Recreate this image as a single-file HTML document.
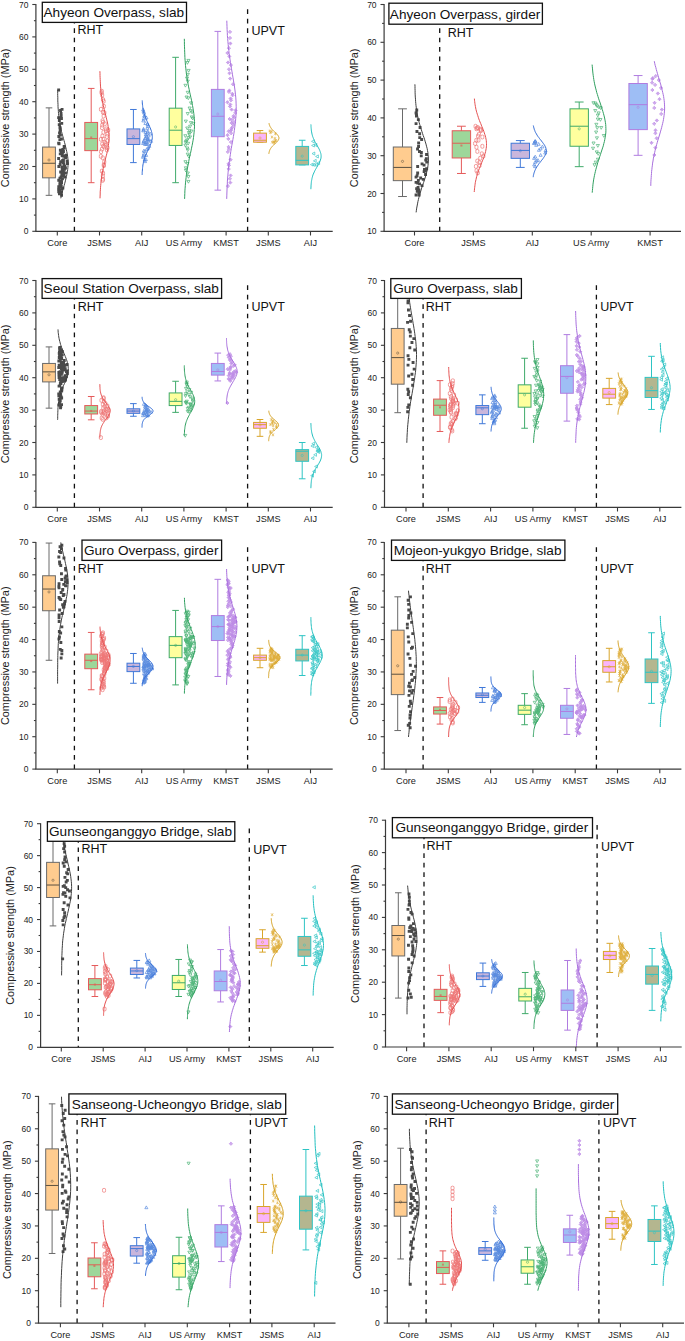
<!DOCTYPE html>
<html><head><meta charset="utf-8"><style>
html,body{margin:0;padding:0;background:#fff;}
svg{display:block;font-family:"Liberation Sans", sans-serif;}
</style></head><body>
<svg width="685" height="1341" viewBox="0 0 685 1341">
<rect width="685" height="1341" fill="#fff"/>
<line x1="74.4" y1="4.5" x2="74.4" y2="231.3" stroke="#111" stroke-width="1.3" stroke-dasharray="4.7 4.75" stroke-dashoffset="4.65"/>
<line x1="247.6" y1="4.5" x2="247.6" y2="231.3" stroke="#111" stroke-width="1.3" stroke-dasharray="4.7 4.75" stroke-dashoffset="4.65"/>
<line x1="49" y1="107.86" x2="49" y2="195.34" stroke="#6a6a6a" stroke-width="1"/>
<line x1="45.7" y1="107.86" x2="52.3" y2="107.86" stroke="#6a6a6a" stroke-width="1"/>
<line x1="45.7" y1="195.34" x2="52.3" y2="195.34" stroke="#6a6a6a" stroke-width="1"/>
<rect x="42.6" y="147.06" width="12.8" height="30.78" fill="#FFCC8F" stroke="#6a6a6a" stroke-width="1"/>
<line x1="42.6" y1="163.26" x2="55.4" y2="163.26" stroke="#5a5040" stroke-width="1"/>
<circle cx="49" cy="160.02" r="1.1" fill="none" stroke="#5a5040" stroke-width="0.6" opacity="0.85"/>
<path d="M60.1 193.8h2.9v2.9h-2.9zM58 192.3h2.9v2.9h-2.9zM58.7 191.7h2.9v2.9h-2.9zM59.9 190.7h2.9v2.9h-2.9zM57.3 190.3h2.9v2.9h-2.9zM58.8 188.8h2.9v2.9h-2.9zM57.2 188h2.9v2.9h-2.9zM60.2 187.4h2.9v2.9h-2.9zM61.4 186.7h2.9v2.9h-2.9zM57.3 185.2h2.9v2.9h-2.9zM59.8 185.1h2.9v2.9h-2.9zM59.2 183.4h2.9v2.9h-2.9zM59.4 183.2h2.9v2.9h-2.9zM58.4 182.5h2.9v2.9h-2.9zM60.1 181.3h2.9v2.9h-2.9zM58.6 180.6h2.9v2.9h-2.9zM60 179.7h2.9v2.9h-2.9zM57.3 178.8h2.9v2.9h-2.9zM61 177.4h2.9v2.9h-2.9zM58.5 176.7h2.9v2.9h-2.9zM63.4 175.7h2.9v2.9h-2.9zM59.6 175.6h2.9v2.9h-2.9zM62.5 174.4h2.9v2.9h-2.9zM60.4 173.5h2.9v2.9h-2.9zM62.4 172.9h2.9v2.9h-2.9zM61.8 172.5h2.9v2.9h-2.9zM64 171.4h2.9v2.9h-2.9zM62 170.9h2.9v2.9h-2.9zM59.2 170.5h2.9v2.9h-2.9zM60.7 169.2h2.9v2.9h-2.9zM61.8 169h2.9v2.9h-2.9zM63 167.9h2.9v2.9h-2.9zM61 167.4h2.9v2.9h-2.9zM64 166.5h2.9v2.9h-2.9zM60.6 165.8h2.9v2.9h-2.9zM57.4 165.1h2.9v2.9h-2.9zM63.4 164.7h2.9v2.9h-2.9zM62.5 163.3h2.9v2.9h-2.9zM58.7 163h2.9v2.9h-2.9zM66 162.2h2.9v2.9h-2.9zM62 161.2h2.9v2.9h-2.9zM59.2 160.3h2.9v2.9h-2.9zM65.7 159.8h2.9v2.9h-2.9zM61.2 158.9h2.9v2.9h-2.9zM62 158.4h2.9v2.9h-2.9zM57.2 157h2.9v2.9h-2.9zM64.3 156.3h2.9v2.9h-2.9zM63.5 155.4h2.9v2.9h-2.9zM61.6 154.7h2.9v2.9h-2.9zM60.7 154.1h2.9v2.9h-2.9zM64.4 153.7h2.9v2.9h-2.9zM58.8 152.4h2.9v2.9h-2.9zM61 151.7h2.9v2.9h-2.9zM59.9 151h2.9v2.9h-2.9zM62 150h2.9v2.9h-2.9zM60.6 149.2h2.9v2.9h-2.9zM58.9 148.8h2.9v2.9h-2.9zM61.4 147.9h2.9v2.9h-2.9zM62.7 146.5h2.9v2.9h-2.9zM62.7 145.8h2.9v2.9h-2.9zM62.7 145.1h2.9v2.9h-2.9zM57.6 142.3h2.9v2.9h-2.9zM57.2 141.7h2.9v2.9h-2.9zM58.4 138.2h2.9v2.9h-2.9zM60 137.6h2.9v2.9h-2.9zM57.4 135.1h2.9v2.9h-2.9zM59 133.5h2.9v2.9h-2.9zM58.1 131.6h2.9v2.9h-2.9zM58.7 128.5h2.9v2.9h-2.9zM58.8 127.3h2.9v2.9h-2.9zM58.5 126h2.9v2.9h-2.9zM57.8 123.2h2.9v2.9h-2.9zM60.3 121.9h2.9v2.9h-2.9zM57.9 119.1h2.9v2.9h-2.9zM60 117h2.9v2.9h-2.9zM57.2 116.2h2.9v2.9h-2.9zM59.7 114h2.9v2.9h-2.9zM59.6 112h2.9v2.9h-2.9zM59.1 109h2.9v2.9h-2.9zM60.6 107.9h2.9v2.9h-2.9zM57.2 88.6h2.9v2.9h-2.9z" fill="#4a4a4a"/>
<path d="M60.8 198.3L61.2 196.4L61.6 194.6L62.1 192.8L62.6 191L63 189.2L63.6 187.4L64.1 185.6L64.6 183.8L65.1 182L65.5 180.2L66 178.4L66.4 176.6L66.8 174.8L67.2 173L67.5 171.2L67.7 169.4L67.9 167.6L68 165.8L68.1 164L68.1 162.2L68 160.4L67.9 158.6L67.7 156.8L67.4 155L67.1 153.2L66.7 151.4L66.3 149.6L65.9 147.8L65.4 145.9L65 144.1L64.5 142.3L64 140.5L63.5 138.7L63 136.9L62.5 135.1L62 133.3L61.5 131.5L61.1 129.7L60.7 127.9L60.3 126.1L60 124.3L59.7 122.5L59.4 120.7L59.1 118.9L58.9 117.1L58.7 115.3L58.5 113.5L58.4 111.7L58.3 109.9L58.1 108.1L58 106.3L58 104.5L57.9 102.7L57.8 100.9L57.8 99.1L57.8 97.3L57.7 95.4L57.7 93.6L57.7 91.8L57.7 90" fill="none" stroke="#404040" stroke-width="1"/>
<line x1="91.2" y1="88.42" x2="91.2" y2="182.7" stroke="#E55A5A" stroke-width="1"/>
<line x1="87.9" y1="88.42" x2="94.5" y2="88.42" stroke="#E55A5A" stroke-width="1"/>
<line x1="87.9" y1="182.7" x2="94.5" y2="182.7" stroke="#E55A5A" stroke-width="1"/>
<rect x="84.8" y="122.44" width="12.8" height="28.19" fill="#9DD79A" stroke="#E55A5A" stroke-width="1"/>
<line x1="84.8" y1="138.64" x2="97.6" y2="138.64" stroke="#DE6055" stroke-width="1"/>
<rect x="90.2" y="136.49" width="2" height="2" fill="#DE6055" opacity="0.7"/>
<path d="M101.1 180.4a1.6 1.6 0 1 0 3.1 0a1.6 1.6 0 1 0 -3.1 0M101.5 179.2a1.6 1.6 0 1 0 3.1 0a1.6 1.6 0 1 0 -3.1 0M101.3 175.9a1.6 1.6 0 1 0 3.1 0a1.6 1.6 0 1 0 -3.1 0M101.5 173.2a1.6 1.6 0 1 0 3.1 0a1.6 1.6 0 1 0 -3.1 0M100.3 171.1a1.6 1.6 0 1 0 3.1 0a1.6 1.6 0 1 0 -3.1 0M102.3 165.7a1.6 1.6 0 1 0 3.1 0a1.6 1.6 0 1 0 -3.1 0M102.3 164.7a1.6 1.6 0 1 0 3.1 0a1.6 1.6 0 1 0 -3.1 0M102.7 161.9a1.6 1.6 0 1 0 3.1 0a1.6 1.6 0 1 0 -3.1 0M101.2 157.8a1.6 1.6 0 1 0 3.1 0a1.6 1.6 0 1 0 -3.1 0M99.3 156.3a1.6 1.6 0 1 0 3.1 0a1.6 1.6 0 1 0 -3.1 0M99.5 151.7a1.6 1.6 0 1 0 3.1 0a1.6 1.6 0 1 0 -3.1 0M105.4 150a1.6 1.6 0 1 0 3.1 0a1.6 1.6 0 1 0 -3.1 0M100.4 149.2a1.6 1.6 0 1 0 3.1 0a1.6 1.6 0 1 0 -3.1 0M105.9 147.8a1.6 1.6 0 1 0 3.1 0a1.6 1.6 0 1 0 -3.1 0M102.8 146.9a1.6 1.6 0 1 0 3.1 0a1.6 1.6 0 1 0 -3.1 0M101.7 146.2a1.6 1.6 0 1 0 3.1 0a1.6 1.6 0 1 0 -3.1 0M104.1 145.3a1.6 1.6 0 1 0 3.1 0a1.6 1.6 0 1 0 -3.1 0M100.7 144a1.6 1.6 0 1 0 3.1 0a1.6 1.6 0 1 0 -3.1 0M104.2 143.3a1.6 1.6 0 1 0 3.1 0a1.6 1.6 0 1 0 -3.1 0M103 142.1a1.6 1.6 0 1 0 3.1 0a1.6 1.6 0 1 0 -3.1 0M105.9 141a1.6 1.6 0 1 0 3.1 0a1.6 1.6 0 1 0 -3.1 0M99.4 139.3a1.6 1.6 0 1 0 3.1 0a1.6 1.6 0 1 0 -3.1 0M101.8 139a1.6 1.6 0 1 0 3.1 0a1.6 1.6 0 1 0 -3.1 0M105.4 136.5a1.6 1.6 0 1 0 3.1 0a1.6 1.6 0 1 0 -3.1 0M100.9 136a1.6 1.6 0 1 0 3.1 0a1.6 1.6 0 1 0 -3.1 0M105.8 134.1a1.6 1.6 0 1 0 3.1 0a1.6 1.6 0 1 0 -3.1 0M101.9 132.3a1.6 1.6 0 1 0 3.1 0a1.6 1.6 0 1 0 -3.1 0M104.4 130.9a1.6 1.6 0 1 0 3.1 0a1.6 1.6 0 1 0 -3.1 0M106.6 130a1.6 1.6 0 1 0 3.1 0a1.6 1.6 0 1 0 -3.1 0M104.6 128.9a1.6 1.6 0 1 0 3.1 0a1.6 1.6 0 1 0 -3.1 0M100.5 127.7a1.6 1.6 0 1 0 3.1 0a1.6 1.6 0 1 0 -3.1 0M100.7 125.1a1.6 1.6 0 1 0 3.1 0a1.6 1.6 0 1 0 -3.1 0M103.2 123.9a1.6 1.6 0 1 0 3.1 0a1.6 1.6 0 1 0 -3.1 0M101.5 122.2a1.6 1.6 0 1 0 3.1 0a1.6 1.6 0 1 0 -3.1 0M101 120.7a1.6 1.6 0 1 0 3.1 0a1.6 1.6 0 1 0 -3.1 0M102.1 116a1.6 1.6 0 1 0 3.1 0a1.6 1.6 0 1 0 -3.1 0M102.8 112.7a1.6 1.6 0 1 0 3.1 0a1.6 1.6 0 1 0 -3.1 0M101.4 112.2a1.6 1.6 0 1 0 3.1 0a1.6 1.6 0 1 0 -3.1 0M99.4 109.3a1.6 1.6 0 1 0 3.1 0a1.6 1.6 0 1 0 -3.1 0M102.3 106.3a1.6 1.6 0 1 0 3.1 0a1.6 1.6 0 1 0 -3.1 0M102.1 101.2a1.6 1.6 0 1 0 3.1 0a1.6 1.6 0 1 0 -3.1 0M101.4 99.5a1.6 1.6 0 1 0 3.1 0a1.6 1.6 0 1 0 -3.1 0M100.6 95.1a1.6 1.6 0 1 0 3.1 0a1.6 1.6 0 1 0 -3.1 0M100 92.7a1.6 1.6 0 1 0 3.1 0a1.6 1.6 0 1 0 -3.1 0M100.2 91.2a1.6 1.6 0 1 0 3.1 0a1.6 1.6 0 1 0 -3.1 0" fill="none" stroke="#EE7777" stroke-width="0.7"/>
<path d="M100 198.3L100.1 196.1L100.2 194L100.2 191.9L100.4 189.8L100.5 187.7L100.7 185.6L100.9 183.4L101.1 181.3L101.3 179.2L101.6 177.1L102 175L102.3 172.9L102.7 170.7L103.2 168.6L103.6 166.5L104.1 164.4L104.7 162.3L105.2 160.1L105.7 158L106.2 155.9L106.8 153.8L107.2 151.7L107.7 149.6L108.1 147.4L108.4 145.3L108.7 143.2L108.9 141.1L109.1 139L109.1 136.9L109.1 134.7L108.9 132.6L108.8 130.5L108.5 128.4L108.1 126.3L107.8 124.2L107.3 122L106.8 119.9L106.3 117.8L105.8 115.7L105.3 113.6L104.7 111.5L104.2 109.3L103.7 107.2L103.2 105.1L102.8 103L102.4 100.9L102 98.8L101.7 96.6L101.4 94.5L101.1 92.4L100.9 90.3L100.7 88.2L100.5 86.1L100.4 83.9L100.3 81.8L100.2 79.7L100.1 77.6L100 75.5L100 73.4L99.9 71.2" fill="none" stroke="#E54F4F" stroke-width="1"/>
<line x1="133.4" y1="109.48" x2="133.4" y2="162.61" stroke="#3F78D8" stroke-width="1"/>
<line x1="130.1" y1="109.48" x2="136.7" y2="109.48" stroke="#3F78D8" stroke-width="1"/>
<line x1="130.1" y1="162.61" x2="136.7" y2="162.61" stroke="#3F78D8" stroke-width="1"/>
<rect x="127" y="128.92" width="12.8" height="15.55" fill="#C9B6DC" stroke="#3F78D8" stroke-width="1"/>
<line x1="127" y1="138.64" x2="139.8" y2="138.64" stroke="#3F78D8" stroke-width="1"/>
<circle cx="133.4" cy="136.69" r="1.1" fill="none" stroke="#3F78D8" stroke-width="0.6" opacity="0.85"/>
<path d="M145 159.8l1.6 2.8h-3.1zM144.6 158.3l1.6 2.8h-3.1zM145.8 157.8l1.6 2.8h-3.1zM143 155.5l1.6 2.8h-3.1zM143.3 154.3l1.6 2.8h-3.1zM146.1 153.6l1.6 2.8h-3.1zM143.8 152.3l1.6 2.8h-3.1zM144.8 149.5l1.6 2.8h-3.1zM143.7 149.3l1.6 2.8h-3.1zM146.8 147.6l1.6 2.8h-3.1zM148.2 146.4l1.6 2.8h-3.1zM149.3 144.5l1.6 2.8h-3.1zM145.1 142.7l1.6 2.8h-3.1zM146.5 142.6l1.6 2.8h-3.1zM147.9 142.2l1.6 2.8h-3.1zM143.1 141.7l1.6 2.8h-3.1zM145.3 140.8l1.6 2.8h-3.1zM146.6 140.5l1.6 2.8h-3.1zM143.5 140.2l1.6 2.8h-3.1zM151 139.5l1.6 2.8h-3.1zM143.9 139l1.6 2.8h-3.1zM148.2 138.9l1.6 2.8h-3.1zM147.6 138l1.6 2.8h-3.1zM148.7 137.7l1.6 2.8h-3.1zM147.7 137.4l1.6 2.8h-3.1zM145.1 136.8l1.6 2.8h-3.1zM145.5 136.2l1.6 2.8h-3.1zM146.9 134.8l1.6 2.8h-3.1zM148.6 134.2l1.6 2.8h-3.1zM146.4 133.2l1.6 2.8h-3.1zM145.8 133l1.6 2.8h-3.1zM150.2 132.2l1.6 2.8h-3.1zM145.5 130.9l1.6 2.8h-3.1zM147.5 130.6l1.6 2.8h-3.1zM147.7 129.6l1.6 2.8h-3.1zM143.2 129.1l1.6 2.8h-3.1zM143.5 128.3l1.6 2.8h-3.1zM143.5 127.3l1.6 2.8h-3.1zM147.3 126.5l1.6 2.8h-3.1zM147.8 124.6l1.6 2.8h-3.1zM147.5 122.7l1.6 2.8h-3.1zM145.4 121.7l1.6 2.8h-3.1zM143.3 119.1l1.6 2.8h-3.1zM143.6 117.3l1.6 2.8h-3.1zM146.4 116.1l1.6 2.8h-3.1zM144.1 114.4l1.6 2.8h-3.1zM144.8 114l1.6 2.8h-3.1zM144 111.2l1.6 2.8h-3.1zM143.5 109.6l1.6 2.8h-3.1zM143.1 108.1l1.6 2.8h-3.1z" fill="none" stroke="#5A8DE0" stroke-width="0.7"/>
<path d="M142.1 174.9L142.2 173.7L142.2 172.4L142.3 171.2L142.4 170L142.5 168.7L142.6 167.5L142.8 166.2L142.9 165L143.2 163.7L143.4 162.5L143.7 161.3L144 160L144.4 158.8L144.8 157.5L145.3 156.3L145.8 155.1L146.3 153.8L146.9 152.6L147.4 151.3L148 150.1L148.6 148.8L149.2 147.6L149.8 146.4L150.3 145.1L150.8 143.9L151.3 142.6L151.6 141.4L151.9 140.1L152.2 138.9L152.3 137.7L152.3 136.4L152.2 135.2L152.1 133.9L151.8 132.7L151.5 131.5L151.1 130.2L150.6 129L150.1 127.7L149.6 126.5L149 125.2L148.4 124L147.8 122.8L147.2 121.5L146.6 120.3L146.1 119L145.6 117.8L145.1 116.6L144.6 115.3L144.2 114.1L143.9 112.8L143.6 111.6L143.3 110.3L143.1 109.1L142.9 107.9L142.7 106.6L142.6 105.4L142.4 104.1L142.3 102.9L142.3 101.6L142.2 100.4" fill="none" stroke="#2F6AD6" stroke-width="1"/>
<line x1="175.6" y1="57.31" x2="175.6" y2="182.7" stroke="#3FAA6A" stroke-width="1"/>
<line x1="172.3" y1="57.31" x2="178.9" y2="57.31" stroke="#3FAA6A" stroke-width="1"/>
<line x1="172.3" y1="182.7" x2="178.9" y2="182.7" stroke="#3FAA6A" stroke-width="1"/>
<rect x="169.2" y="108.18" width="12.8" height="37.26" fill="#FFFF9E" stroke="#3FAA6A" stroke-width="1"/>
<line x1="169.2" y1="130.21" x2="182" y2="130.21" stroke="#3FAA6A" stroke-width="1"/>
<circle cx="175.6" cy="126.97" r="1.1" fill="none" stroke="#3FAA6A" stroke-width="0.6" opacity="0.85"/>
<path d="M188.4 183.2l1.6 -2.8h-3.1zM188.4 178.3l1.6 -2.8h-3.1zM187.8 174.8l1.6 -2.8h-3.1zM185.8 172l1.6 -2.8h-3.1zM185.8 169.6l1.6 -2.8h-3.1zM187.5 165.3l1.6 -2.8h-3.1zM185.4 163.5l1.6 -2.8h-3.1zM188.7 157.9l1.6 -2.8h-3.1zM187.7 155.9l1.6 -2.8h-3.1zM187.7 151.6l1.6 -2.8h-3.1zM187.2 149.8l1.6 -2.8h-3.1zM185.4 147l1.6 -2.8h-3.1zM188.1 145.1l1.6 -2.8h-3.1zM185.6 143.8l1.6 -2.8h-3.1zM186.2 142.8l1.6 -2.8h-3.1zM187.1 141.7l1.6 -2.8h-3.1zM188.3 139.4l1.6 -2.8h-3.1zM190 138.7l1.6 -2.8h-3.1zM185.3 137.5l1.6 -2.8h-3.1zM189.3 135.8l1.6 -2.8h-3.1zM188.9 134.3l1.6 -2.8h-3.1zM191.4 132.9l1.6 -2.8h-3.1zM189.4 132.1l1.6 -2.8h-3.1zM187.2 129.8l1.6 -2.8h-3.1zM190.1 128l1.6 -2.8h-3.1zM193.3 125.1l1.6 -2.8h-3.1zM190.9 124.4l1.6 -2.8h-3.1zM185.8 122.9l1.6 -2.8h-3.1zM192.7 120l1.6 -2.8h-3.1zM191.7 118.7l1.6 -2.8h-3.1zM187.7 115.3l1.6 -2.8h-3.1zM192 113.8l1.6 -2.8h-3.1zM190.7 112.4l1.6 -2.8h-3.1zM189.6 109.8l1.6 -2.8h-3.1zM191 104.7l1.6 -2.8h-3.1zM188.3 99.7l1.6 -2.8h-3.1zM186.5 98.8l1.6 -2.8h-3.1zM187.7 94.1l1.6 -2.8h-3.1zM185.4 87.1l1.6 -2.8h-3.1zM187.7 82.9l1.6 -2.8h-3.1zM187 79.9l1.6 -2.8h-3.1zM187.8 76.2l1.6 -2.8h-3.1zM188.6 72.2l1.6 -2.8h-3.1zM187.4 64.3l1.6 -2.8h-3.1zM188.4 62.2l1.6 -2.8h-3.1z" fill="none" stroke="#4FB578" stroke-width="0.7"/>
<path d="M184.6 198.9L184.7 196.2L184.8 193.6L184.9 190.9L185.1 188.2L185.3 185.6L185.5 182.9L185.8 180.2L186.1 177.6L186.4 174.9L186.8 172.2L187.2 169.6L187.7 166.9L188.2 164.2L188.7 161.6L189.2 158.9L189.8 156.2L190.4 153.6L191 150.9L191.5 148.2L192.1 145.5L192.6 142.9L193.1 140.2L193.5 137.5L193.8 134.9L194.1 132.2L194.3 129.5L194.5 126.9L194.5 124.2L194.5 121.5L194.3 118.9L194.1 116.2L193.8 113.5L193.4 110.9L193 108.2L192.5 105.5L192 102.9L191.5 100.2L190.9 97.5L190.3 94.9L189.7 92.2L189.2 89.5L188.6 86.9L188.1 84.2L187.6 81.5L187.2 78.9L186.8 76.2L186.4 73.5L186.1 70.9L185.8 68.2L185.5 65.5L185.3 62.9L185.1 60.2L184.9 57.5L184.8 54.8L184.7 52.2L184.6 49.5L184.5 46.8L184.4 44.2L184.4 41.5L184.3 38.8" fill="none" stroke="#30A060" stroke-width="1"/>
<line x1="217.8" y1="31.39" x2="217.8" y2="190.15" stroke="#B07CE0" stroke-width="1"/>
<line x1="214.5" y1="31.39" x2="221.1" y2="31.39" stroke="#B07CE0" stroke-width="1"/>
<line x1="214.5" y1="190.15" x2="221.1" y2="190.15" stroke="#B07CE0" stroke-width="1"/>
<rect x="211.4" y="89.39" width="12.8" height="47.3" fill="#9EBEF5" stroke="#B07CE0" stroke-width="1"/>
<line x1="211.4" y1="116.28" x2="224.2" y2="116.28" stroke="#B07CE0" stroke-width="1"/>
<circle cx="217.8" cy="114.01" r="1.1" fill="none" stroke="#B07CE0" stroke-width="0.6" opacity="0.85"/>
<path d="M227.9 184.5l1.6 1.6l-1.6 1.6l-1.6 -1.6zM227.9 184.5v3.1M226.3 186h3.1M230.3 181l1.6 1.6l-1.6 1.6l-1.6 -1.6zM230.3 181v3.1M228.8 182.6h3.1M229.9 177.2l1.6 1.6l-1.6 1.6l-1.6 -1.6zM229.9 177.2v3.1M228.3 178.8h3.1M230.6 173.9l1.6 1.6l-1.6 1.6l-1.6 -1.6zM230.6 173.9v3.1M229.1 175.4h3.1M228.7 167.3l1.6 1.6l-1.6 1.6l-1.6 -1.6zM228.7 167.3v3.1M227.2 168.9h3.1M228.9 163.8l1.6 1.6l-1.6 1.6l-1.6 -1.6zM228.9 163.8v3.1M227.4 165.3h3.1M228.5 162.2l1.6 1.6l-1.6 1.6l-1.6 -1.6zM228.5 162.2v3.1M227 163.8h3.1M230.6 158.1l1.6 1.6l-1.6 1.6l-1.6 -1.6zM230.6 158.1v3.1M229 159.7h3.1M227.8 150.3l1.6 1.6l-1.6 1.6l-1.6 -1.6zM227.8 150.3v3.1M226.3 151.8h3.1M228.9 147.5l1.6 1.6l-1.6 1.6l-1.6 -1.6zM228.9 147.5v3.1M227.3 149.1h3.1M228.6 145.3l1.6 1.6l-1.6 1.6l-1.6 -1.6zM228.6 145.3v3.1M227 146.9h3.1M230.9 140.5l1.6 1.6l-1.6 1.6l-1.6 -1.6zM230.9 140.5v3.1M229.4 142h3.1M228.4 137.3l1.6 1.6l-1.6 1.6l-1.6 -1.6zM228.4 137.3v3.1M226.8 138.8h3.1M227.5 133.6l1.6 1.6l-1.6 1.6l-1.6 -1.6zM227.5 133.6v3.1M226 135.2h3.1M231.1 131.7l1.6 1.6l-1.6 1.6l-1.6 -1.6zM231.1 131.7v3.1M229.6 133.2h3.1M228.7 129.7l1.6 1.6l-1.6 1.6l-1.6 -1.6zM228.7 129.7v3.1M227.2 131.2h3.1M230.9 129l1.6 1.6l-1.6 1.6l-1.6 -1.6zM230.9 129v3.1M229.4 130.5h3.1M231.4 127.3l1.6 1.6l-1.6 1.6l-1.6 -1.6zM231.4 127.3v3.1M229.8 128.9h3.1M232.2 125.8l1.6 1.6l-1.6 1.6l-1.6 -1.6zM232.2 125.8v3.1M230.6 127.3h3.1M233.3 123.2l1.6 1.6l-1.6 1.6l-1.6 -1.6zM233.3 123.2v3.1M231.7 124.8h3.1M231.5 121.3l1.6 1.6l-1.6 1.6l-1.6 -1.6zM231.5 121.3v3.1M229.9 122.9h3.1M233.9 120.5l1.6 1.6l-1.6 1.6l-1.6 -1.6zM233.9 120.5v3.1M232.3 122h3.1M231.8 118.4l1.6 1.6l-1.6 1.6l-1.6 -1.6zM231.8 118.4v3.1M230.3 119.9h3.1M229.6 117.4l1.6 1.6l-1.6 1.6l-1.6 -1.6zM229.6 117.4v3.1M228.1 118.9h3.1M233.8 116.2l1.6 1.6l-1.6 1.6l-1.6 -1.6zM233.8 116.2v3.1M232.3 117.7h3.1M233.4 114.5l1.6 1.6l-1.6 1.6l-1.6 -1.6zM233.4 114.5v3.1M231.9 116h3.1M235.3 111.4l1.6 1.6l-1.6 1.6l-1.6 -1.6zM235.3 111.4v3.1M233.8 113h3.1M235.5 108.8l1.6 1.6l-1.6 1.6l-1.6 -1.6zM235.5 108.8v3.1M233.9 110.3h3.1M231.6 108l1.6 1.6l-1.6 1.6l-1.6 -1.6zM231.6 108v3.1M230 109.5h3.1M230 104.9l1.6 1.6l-1.6 1.6l-1.6 -1.6zM230 104.9v3.1M228.4 106.4h3.1M230.3 102.9l1.6 1.6l-1.6 1.6l-1.6 -1.6zM230.3 102.9v3.1M228.8 104.4h3.1M227.4 100.7l1.6 1.6l-1.6 1.6l-1.6 -1.6zM227.4 100.7v3.1M225.9 102.2h3.1M231 98.7l1.6 1.6l-1.6 1.6l-1.6 -1.6zM231 98.7v3.1M229.5 100.3h3.1M230.6 96.9l1.6 1.6l-1.6 1.6l-1.6 -1.6zM230.6 96.9v3.1M229 98.4h3.1M232.6 93.7l1.6 1.6l-1.6 1.6l-1.6 -1.6zM232.6 93.7v3.1M231.1 95.2h3.1M232.3 92.2l1.6 1.6l-1.6 1.6l-1.6 -1.6zM232.3 92.2v3.1M230.7 93.7h3.1M228.9 90.3l1.6 1.6l-1.6 1.6l-1.6 -1.6zM228.9 90.3v3.1M227.3 91.8h3.1M229.4 88.9l1.6 1.6l-1.6 1.6l-1.6 -1.6zM229.4 88.9v3.1M227.8 90.5h3.1M233 82.7l1.6 1.6l-1.6 1.6l-1.6 -1.6zM233 82.7v3.1M231.4 84.3h3.1M230.2 77l1.6 1.6l-1.6 1.6l-1.6 -1.6zM230.2 77v3.1M228.6 78.6h3.1M229.5 71.7l1.6 1.6l-1.6 1.6l-1.6 -1.6zM229.5 71.7v3.1M227.9 73.2h3.1M229 67.7l1.6 1.6l-1.6 1.6l-1.6 -1.6zM229 67.7v3.1M227.4 69.3h3.1M230.9 63.5l1.6 1.6l-1.6 1.6l-1.6 -1.6zM230.9 63.5v3.1M229.3 65.1h3.1M228 60.9l1.6 1.6l-1.6 1.6l-1.6 -1.6zM228 60.9v3.1M226.4 62.5h3.1M229.3 54.8l1.6 1.6l-1.6 1.6l-1.6 -1.6zM229.3 54.8v3.1M227.7 56.4h3.1M227.4 51.4l1.6 1.6l-1.6 1.6l-1.6 -1.6zM227.4 51.4v3.1M225.9 52.9h3.1M228.9 46.6l1.6 1.6l-1.6 1.6l-1.6 -1.6zM228.9 46.6v3.1M227.3 48.1h3.1M230.4 41.9l1.6 1.6l-1.6 1.6l-1.6 -1.6zM230.4 41.9v3.1M228.9 43.4h3.1M230 36.4l1.6 1.6l-1.6 1.6l-1.6 -1.6zM230 36.4v3.1M228.4 38h3.1M230 30.3l1.6 1.6l-1.6 1.6l-1.6 -1.6zM230 30.3v3.1M228.5 31.9h3.1" fill="none" stroke="#BE8EE6" stroke-width="0.7"/>
<path d="M226.7 198.9L226.8 195.9L226.9 193L227 190L227.1 187L227.3 184.1L227.4 181.1L227.6 178.1L227.9 175.1L228.1 172.2L228.4 169.2L228.7 166.2L229.1 163.3L229.5 160.3L229.9 157.3L230.4 154.4L230.8 151.4L231.3 148.4L231.8 145.4L232.4 142.5L232.9 139.5L233.4 136.5L233.9 133.6L234.3 130.6L234.7 127.6L235.1 124.6L235.5 121.7L235.7 118.7L236 115.7L236.1 112.8L236.2 109.8L236.2 106.8L236.1 103.9L236 100.9L235.8 97.9L235.5 94.9L235.2 92L234.8 89L234.4 86L233.9 83.1L233.4 80.1L232.9 77.1L232.4 74.2L231.9 71.2L231.4 68.2L230.9 65.2L230.4 62.3L230 59.3L229.5 56.3L229.1 53.4L228.8 50.4L228.4 47.4L228.2 44.5L227.9 41.5L227.7 38.5L227.4 35.6L227.3 32.6L227.1 29.6L227 26.6L226.9 23.7L226.8 20.7" fill="none" stroke="#A970DE" stroke-width="1"/>
<line x1="260" y1="130.54" x2="260" y2="142.2" stroke="#D9A52A" stroke-width="1"/>
<line x1="256.7" y1="130.54" x2="263.3" y2="130.54" stroke="#D9A52A" stroke-width="1"/>
<line x1="256.7" y1="142.2" x2="263.3" y2="142.2" stroke="#D9A52A" stroke-width="1"/>
<rect x="253.6" y="133.13" width="12.8" height="9.07" fill="#FAB4FA" stroke="#D9A52A" stroke-width="1"/>
<line x1="253.6" y1="140.26" x2="266.4" y2="140.26" stroke="#D9A52A" stroke-width="1"/>
<circle cx="260" cy="137.99" r="1.1" fill="none" stroke="#D9A52A" stroke-width="0.6" opacity="0.85"/>
<path d="M273.2 141l2.5 2.5M273.2 143.4l2.5 -2.5M274.5 140.6v3.1M272.6 141l2.5 2.5M272.6 143.4l2.5 -2.5M273.8 140.6v3.1M271 141l2.5 2.5M271 143.4l2.5 -2.5M272.3 140.6v3.1M272.7 140.6l2.5 2.5M272.7 143l2.5 -2.5M274 140.2v3.1M274.3 139.7l2.5 2.5M274.3 142.2l2.5 -2.5M275.6 139.4v3.1M274.5 139.1l2.5 2.5M274.5 141.6l2.5 -2.5M275.7 138.8v3.1M273.7 137.1l2.5 2.5M273.7 139.6l2.5 -2.5M274.9 136.8v3.1M270.7 135.8l2.5 2.5M270.7 138.3l2.5 -2.5M271.9 135.5v3.1M274.1 132.6l2.5 2.5M274.1 135.1l2.5 -2.5M275.4 132.3v3.1M269.2 131.4l2.5 2.5M269.2 133.9l2.5 -2.5M270.4 131.1v3.1M270.5 130.3l2.5 2.5M270.5 132.8l2.5 -2.5M271.7 130v3.1M268.5 129.8l2.5 2.5M268.5 132.2l2.5 -2.5M269.8 129.4v3.1" fill="none" stroke="#E0B040" stroke-width="0.55"/>
<path d="M268.9 153.9L268.9 153.4L269 152.8L269.1 152.3L269.2 151.8L269.4 151.3L269.5 150.8L269.7 150.3L269.9 149.8L270.2 149.2L270.5 148.7L270.8 148.2L271.2 147.7L271.6 147.2L272 146.7L272.5 146.2L272.9 145.7L273.5 145.1L274 144.6L274.5 144.1L275.1 143.6L275.6 143.1L276.2 142.6L276.7 142.1L277.1 141.6L277.6 141L278 140.5L278.3 140L278.6 139.5L278.7 139L278.9 138.5L278.9 138L278.9 137.4L278.7 136.9L278.5 136.4L278.3 135.9L277.9 135.4L277.5 134.9L277.1 134.4L276.6 133.9L276.1 133.3L275.6 132.8L275 132.3L274.5 131.8L273.9 131.3L273.4 130.8L272.9 130.3L272.4 129.8L271.9 129.2L271.5 128.7L271.1 128.2L270.8 127.7L270.5 127.2L270.2 126.7L269.9 126.2L269.7 125.6L269.5 125.1L269.3 124.6L269.2 124.1L269.1 123.6L269 123.1" fill="none" stroke="#D4A020" stroke-width="1"/>
<line x1="302.2" y1="140.26" x2="302.2" y2="164.88" stroke="#2EC4C4" stroke-width="1"/>
<line x1="298.9" y1="140.26" x2="305.5" y2="140.26" stroke="#2EC4C4" stroke-width="1"/>
<line x1="298.9" y1="164.88" x2="305.5" y2="164.88" stroke="#2EC4C4" stroke-width="1"/>
<rect x="295.8" y="146.41" width="12.8" height="18.47" fill="#B4B68F" stroke="#2EC4C4" stroke-width="1"/>
<line x1="295.8" y1="160.34" x2="308.6" y2="160.34" stroke="#2EC4C4" stroke-width="1"/>
<circle cx="302.2" cy="156.13" r="1.1" fill="none" stroke="#2EC4C4" stroke-width="0.6" opacity="0.85"/>
<path d="M314.7 164.9l2.8 -1.6v3.1zM312.4 164.9l2.8 -1.6v3.1zM310.4 164.6l2.8 -1.6v3.1zM316.8 163.1l2.8 -1.6v3.1zM313.4 160.9l2.8 -1.6v3.1zM315.6 156.5l2.8 -1.6v3.1zM312 153.6l2.8 -1.6v3.1zM311.6 145.5l2.8 -1.6v3.1zM314.1 145l2.8 -1.6v3.1zM311.5 141.4l2.8 -1.6v3.1z" fill="none" stroke="#3CC8C8" stroke-width="0.7"/>
<path d="M310.9 189.2L310.9 188.1L311 187L311 185.9L311.1 184.9L311.2 183.8L311.3 182.7L311.4 181.6L311.6 180.5L311.8 179.5L312 178.4L312.3 177.3L312.6 176.2L312.9 175.1L313.3 174.1L313.8 173L314.3 171.9L314.8 170.8L315.4 169.7L316 168.7L316.6 167.6L317.2 166.5L317.9 165.4L318.5 164.3L319 163.3L319.6 162.2L320 161.1L320.4 160L320.8 158.9L321 157.9L321.1 156.8L321.1 155.7L321 154.6L320.8 153.5L320.5 152.5L320.1 151.4L319.7 150.3L319.2 149.2L318.6 148.1L318 147.1L317.4 146L316.7 144.9L316.1 143.8L315.5 142.7L314.9 141.7L314.4 140.6L313.9 139.5L313.4 138.4L313 137.3L312.6 136.3L312.3 135.2L312 134.1L311.8 133L311.6 131.9L311.4 130.9L311.3 129.8L311.2 128.7L311.1 127.6L311 126.5L311 125.5L310.9 124.4" fill="none" stroke="#22C0C0" stroke-width="1"/>
<line x1="35.9" y1="4" x2="35.9" y2="231.3" stroke="#3a3a3a" stroke-width="1.2"/>
<line x1="35.3" y1="231.3" x2="332.7" y2="231.3" stroke="#3a3a3a" stroke-width="1.2"/>
<line x1="32.3" y1="231.3" x2="35.9" y2="231.3" stroke="#3a3a3a" stroke-width="1.1"/>
<text transform="translate(28.4,234.3) scale(0.86,1)" text-anchor="end" font-size="9.9" fill="#222">0</text>
<line x1="33.9" y1="215.1" x2="35.9" y2="215.1" stroke="#3a3a3a" stroke-width="1.1"/>
<line x1="32.3" y1="198.9" x2="35.9" y2="198.9" stroke="#3a3a3a" stroke-width="1.1"/>
<text transform="translate(28.4,201.9) scale(0.86,1)" text-anchor="end" font-size="9.9" fill="#222">10</text>
<line x1="33.9" y1="182.7" x2="35.9" y2="182.7" stroke="#3a3a3a" stroke-width="1.1"/>
<line x1="32.3" y1="166.5" x2="35.9" y2="166.5" stroke="#3a3a3a" stroke-width="1.1"/>
<text transform="translate(28.4,169.5) scale(0.86,1)" text-anchor="end" font-size="9.9" fill="#222">20</text>
<line x1="33.9" y1="150.3" x2="35.9" y2="150.3" stroke="#3a3a3a" stroke-width="1.1"/>
<line x1="32.3" y1="134.1" x2="35.9" y2="134.1" stroke="#3a3a3a" stroke-width="1.1"/>
<text transform="translate(28.4,137.1) scale(0.86,1)" text-anchor="end" font-size="9.9" fill="#222">30</text>
<line x1="33.9" y1="117.9" x2="35.9" y2="117.9" stroke="#3a3a3a" stroke-width="1.1"/>
<line x1="32.3" y1="101.7" x2="35.9" y2="101.7" stroke="#3a3a3a" stroke-width="1.1"/>
<text transform="translate(28.4,104.7) scale(0.86,1)" text-anchor="end" font-size="9.9" fill="#222">40</text>
<line x1="33.9" y1="85.5" x2="35.9" y2="85.5" stroke="#3a3a3a" stroke-width="1.1"/>
<line x1="32.3" y1="69.3" x2="35.9" y2="69.3" stroke="#3a3a3a" stroke-width="1.1"/>
<text transform="translate(28.4,72.3) scale(0.86,1)" text-anchor="end" font-size="9.9" fill="#222">50</text>
<line x1="33.9" y1="53.1" x2="35.9" y2="53.1" stroke="#3a3a3a" stroke-width="1.1"/>
<line x1="32.3" y1="36.9" x2="35.9" y2="36.9" stroke="#3a3a3a" stroke-width="1.1"/>
<text transform="translate(28.4,39.9) scale(0.86,1)" text-anchor="end" font-size="9.9" fill="#222">60</text>
<line x1="33.9" y1="20.7" x2="35.9" y2="20.7" stroke="#3a3a3a" stroke-width="1.1"/>
<line x1="32.3" y1="4.5" x2="35.9" y2="4.5" stroke="#3a3a3a" stroke-width="1.1"/>
<text transform="translate(28.4,7.5) scale(0.86,1)" text-anchor="end" font-size="9.9" fill="#222">70</text>
<line x1="57.3" y1="231.3" x2="57.3" y2="235.5" stroke="#3a3a3a" stroke-width="1.1"/>
<text x="57.3" y="246" text-anchor="middle" font-size="9.2" fill="#222">Core</text>
<line x1="99.5" y1="231.3" x2="99.5" y2="235.5" stroke="#3a3a3a" stroke-width="1.1"/>
<text x="99.5" y="246" text-anchor="middle" font-size="9.2" fill="#222">JSMS</text>
<line x1="141.7" y1="231.3" x2="141.7" y2="235.5" stroke="#3a3a3a" stroke-width="1.1"/>
<text x="141.7" y="246" text-anchor="middle" font-size="9.2" fill="#222">AIJ</text>
<line x1="183.9" y1="231.3" x2="183.9" y2="235.5" stroke="#3a3a3a" stroke-width="1.1"/>
<text x="183.9" y="246" text-anchor="middle" font-size="9.2" fill="#222">US Army</text>
<line x1="226.1" y1="231.3" x2="226.1" y2="235.5" stroke="#3a3a3a" stroke-width="1.1"/>
<text x="226.1" y="246" text-anchor="middle" font-size="9.2" fill="#222">KMST</text>
<line x1="268.3" y1="231.3" x2="268.3" y2="235.5" stroke="#3a3a3a" stroke-width="1.1"/>
<text x="268.3" y="246" text-anchor="middle" font-size="9.2" fill="#222">JSMS</text>
<line x1="310.5" y1="231.3" x2="310.5" y2="235.5" stroke="#3a3a3a" stroke-width="1.1"/>
<text x="310.5" y="246" text-anchor="middle" font-size="9.2" fill="#222">AIJ</text>
<text transform="translate(8.7,117.9) rotate(-90)" text-anchor="middle" font-size="10.9" fill="#222">Compressive strength (MPa)</text>
<rect x="42.3" y="2.3" width="144.2" height="20.1" fill="#fff" stroke="#111" stroke-width="1.3"/>
<text x="113.8" y="16.8" text-anchor="middle" font-size="13.6" fill="#111">Ahyeon Overpass, slab</text>
<text x="77.4" y="34.1" font-size="12.5" fill="#111">RHT</text>
<text x="251.5" y="35" font-size="12.5" fill="#111">UPVT</text>
<line x1="439.7" y1="4.5" x2="439.7" y2="231.3" stroke="#111" stroke-width="1.3" stroke-dasharray="4.7 4.75" stroke-dashoffset="4.65"/>
<line x1="402.5" y1="108.83" x2="402.5" y2="196.52" stroke="#6a6a6a" stroke-width="1"/>
<line x1="398.1" y1="108.83" x2="406.9" y2="108.83" stroke="#6a6a6a" stroke-width="1"/>
<line x1="398.1" y1="196.52" x2="406.9" y2="196.52" stroke="#6a6a6a" stroke-width="1"/>
<rect x="393.3" y="147.01" width="18.4" height="33.64" fill="#FFCC8F" stroke="#6a6a6a" stroke-width="1"/>
<line x1="393.3" y1="167.42" x2="411.7" y2="167.42" stroke="#5a5040" stroke-width="1"/>
<circle cx="402.5" cy="161.37" r="1.1" fill="none" stroke="#5a5040" stroke-width="0.6" opacity="0.85"/>
<path d="M417.7 193.7h2.9v2.9h-2.9zM414.6 193.6h2.9v2.9h-2.9zM417.5 191.1h2.9v2.9h-2.9zM415.8 189.9h2.9v2.9h-2.9zM417.4 188.6h2.9v2.9h-2.9zM415.2 187.2h2.9v2.9h-2.9zM416.6 186h2.9v2.9h-2.9zM420.6 184.2h2.9v2.9h-2.9zM418.1 182.4h2.9v2.9h-2.9zM416.3 181.7h2.9v2.9h-2.9zM414.6 180.9h2.9v2.9h-2.9zM416.9 178.9h2.9v2.9h-2.9zM421.8 177.9h2.9v2.9h-2.9zM419.2 176.5h2.9v2.9h-2.9zM414.6 175.7h2.9v2.9h-2.9zM415.6 174.4h2.9v2.9h-2.9zM424.1 173h2.9v2.9h-2.9zM416.2 171.6h2.9v2.9h-2.9zM422.7 170.2h2.9v2.9h-2.9zM424 169.2h2.9v2.9h-2.9zM423 168h2.9v2.9h-2.9zM425.2 167.3h2.9v2.9h-2.9zM416.2 165.1h2.9v2.9h-2.9zM422.6 163.7h2.9v2.9h-2.9zM420.6 162.4h2.9v2.9h-2.9zM425.3 160.5h2.9v2.9h-2.9zM424.3 158.7h2.9v2.9h-2.9zM424.9 157.2h2.9v2.9h-2.9zM419.8 154.4h2.9v2.9h-2.9zM425.1 153.1h2.9v2.9h-2.9zM419.9 151h2.9v2.9h-2.9zM418 150.1h2.9v2.9h-2.9zM416.1 147.5h2.9v2.9h-2.9zM417.1 145h2.9v2.9h-2.9zM417.2 141.6h2.9v2.9h-2.9zM420.2 138.1h2.9v2.9h-2.9zM418.3 136.2h2.9v2.9h-2.9zM418.2 132.3h2.9v2.9h-2.9zM415.5 130.1h2.9v2.9h-2.9zM418.6 126h2.9v2.9h-2.9zM414.6 122.2h2.9v2.9h-2.9zM416.9 118.2h2.9v2.9h-2.9zM415 114.5h2.9v2.9h-2.9zM414.6 111.6h2.9v2.9h-2.9zM415.3 108.6h2.9v2.9h-2.9z" fill="#4a4a4a"/>
<path d="M416.1 212.4L416.4 210.3L416.7 208.1L417.1 206L417.5 203.9L417.9 201.7L418.4 199.6L418.9 197.5L419.5 195.3L420.1 193.2L420.8 191L421.4 188.9L422.1 186.8L422.8 184.6L423.6 182.5L424.3 180.4L425 178.2L425.6 176.1L426.2 174L426.8 171.8L427.3 169.7L427.7 167.6L428 165.4L428.2 163.3L428.4 161.1L428.4 159L428.3 156.9L428.1 154.7L427.9 152.6L427.5 150.5L427.1 148.3L426.5 146.2L426 144.1L425.3 141.9L424.7 139.8L424 137.7L423.2 135.5L422.5 133.4L421.8 131.2L421.1 129.1L420.5 127L419.8 124.8L419.2 122.7L418.7 120.6L418.2 118.4L417.7 116.3L417.3 114.2L416.9 112L416.6 109.9L416.3 107.8L416 105.6L415.8 103.5L415.6 101.3L415.5 99.2L415.3 97.1L415.2 94.9L415.1 92.8L415.1 90.7L415 88.5L415 86.4L414.9 84.3" fill="none" stroke="#404040" stroke-width="1"/>
<line x1="461.4" y1="126.22" x2="461.4" y2="173.47" stroke="#E55A5A" stroke-width="1"/>
<line x1="457" y1="126.22" x2="465.8" y2="126.22" stroke="#E55A5A" stroke-width="1"/>
<line x1="457" y1="173.47" x2="465.8" y2="173.47" stroke="#E55A5A" stroke-width="1"/>
<rect x="452.2" y="130.75" width="18.4" height="27.22" fill="#9DD79A" stroke="#E55A5A" stroke-width="1"/>
<line x1="452.2" y1="143.23" x2="470.6" y2="143.23" stroke="#DE6055" stroke-width="1"/>
<rect x="460.4" y="144.54" width="2" height="2" fill="#DE6055" opacity="0.7"/>
<path d="M476.2 172.9a1.6 1.6 0 1 0 3.1 0a1.6 1.6 0 1 0 -3.1 0M475 170.7a1.6 1.6 0 1 0 3.1 0a1.6 1.6 0 1 0 -3.1 0M474.4 166.4a1.6 1.6 0 1 0 3.1 0a1.6 1.6 0 1 0 -3.1 0M478 165.5a1.6 1.6 0 1 0 3.1 0a1.6 1.6 0 1 0 -3.1 0M477.9 162.5a1.6 1.6 0 1 0 3.1 0a1.6 1.6 0 1 0 -3.1 0M475.8 161a1.6 1.6 0 1 0 3.1 0a1.6 1.6 0 1 0 -3.1 0M478.7 158.2a1.6 1.6 0 1 0 3.1 0a1.6 1.6 0 1 0 -3.1 0M481.8 156a1.6 1.6 0 1 0 3.1 0a1.6 1.6 0 1 0 -3.1 0M480.3 153.8a1.6 1.6 0 1 0 3.1 0a1.6 1.6 0 1 0 -3.1 0M475.8 151.4a1.6 1.6 0 1 0 3.1 0a1.6 1.6 0 1 0 -3.1 0M474.9 147.2a1.6 1.6 0 1 0 3.1 0a1.6 1.6 0 1 0 -3.1 0M480.8 146.3a1.6 1.6 0 1 0 3.1 0a1.6 1.6 0 1 0 -3.1 0M473.6 143.5a1.6 1.6 0 1 0 3.1 0a1.6 1.6 0 1 0 -3.1 0M474.8 140.3a1.6 1.6 0 1 0 3.1 0a1.6 1.6 0 1 0 -3.1 0M476.9 140.2a1.6 1.6 0 1 0 3.1 0a1.6 1.6 0 1 0 -3.1 0M480.8 137a1.6 1.6 0 1 0 3.1 0a1.6 1.6 0 1 0 -3.1 0M476.5 136a1.6 1.6 0 1 0 3.1 0a1.6 1.6 0 1 0 -3.1 0M477.4 134.2a1.6 1.6 0 1 0 3.1 0a1.6 1.6 0 1 0 -3.1 0M479.3 130.7a1.6 1.6 0 1 0 3.1 0a1.6 1.6 0 1 0 -3.1 0M479.3 129.9a1.6 1.6 0 1 0 3.1 0a1.6 1.6 0 1 0 -3.1 0M478.7 129.2a1.6 1.6 0 1 0 3.1 0a1.6 1.6 0 1 0 -3.1 0M474.9 128.8a1.6 1.6 0 1 0 3.1 0a1.6 1.6 0 1 0 -3.1 0M475.5 127.9a1.6 1.6 0 1 0 3.1 0a1.6 1.6 0 1 0 -3.1 0M476.4 127.6a1.6 1.6 0 1 0 3.1 0a1.6 1.6 0 1 0 -3.1 0M474 126.3a1.6 1.6 0 1 0 3.1 0a1.6 1.6 0 1 0 -3.1 0" fill="none" stroke="#EE7777" stroke-width="0.7"/>
<path d="M474.2 192L474.4 190.4L474.5 188.9L474.7 187.3L474.9 185.8L475.1 184.2L475.3 182.7L475.6 181.1L476 179.5L476.3 178L476.7 176.4L477.2 174.9L477.7 173.3L478.2 171.8L478.7 170.2L479.3 168.6L479.9 167.1L480.5 165.5L481.2 164L481.8 162.4L482.4 160.9L483.1 159.3L483.7 157.8L484.2 156.2L484.7 154.6L485.2 153.1L485.6 151.5L485.9 150L486.2 148.4L486.4 146.9L486.5 145.3L486.5 143.7L486.4 142.2L486.3 140.6L486 139.1L485.7 137.5L485.3 136L484.8 134.4L484.3 132.9L483.8 131.3L483.2 129.7L482.6 128.2L481.9 126.6L481.3 125.1L480.7 123.5L480 122L479.4 120.4L478.8 118.9L478.3 117.3L477.8 115.7L477.3 114.2L476.8 112.6L476.4 111.1L476 109.5L475.7 108L475.4 106.4L475.1 104.8L474.9 103.3L474.7 101.7L474.5 100.2L474.4 98.6" fill="none" stroke="#E54F4F" stroke-width="1"/>
<line x1="520.3" y1="140.58" x2="520.3" y2="167.42" stroke="#3F78D8" stroke-width="1"/>
<line x1="515.9" y1="140.58" x2="524.7" y2="140.58" stroke="#3F78D8" stroke-width="1"/>
<line x1="515.9" y1="167.42" x2="524.7" y2="167.42" stroke="#3F78D8" stroke-width="1"/>
<rect x="511.1" y="143.23" width="18.4" height="15.12" fill="#C9B6DC" stroke="#3F78D8" stroke-width="1"/>
<line x1="511.1" y1="150.41" x2="529.5" y2="150.41" stroke="#3F78D8" stroke-width="1"/>
<circle cx="520.3" cy="150.79" r="1.1" fill="none" stroke="#3F78D8" stroke-width="0.6" opacity="0.85"/>
<path d="M535 164.8l1.6 2.8h-3.1zM534.2 163.1l1.6 2.8h-3.1zM535.2 160.5l1.6 2.8h-3.1zM536.6 159.3l1.6 2.8h-3.1zM537.9 158.6l1.6 2.8h-3.1zM534.1 156.6l1.6 2.8h-3.1zM535.2 155.2l1.6 2.8h-3.1zM540.6 153.5l1.6 2.8h-3.1zM545.2 151.2l1.6 2.8h-3.1zM545.5 149l1.6 2.8h-3.1zM538.9 148.5l1.6 2.8h-3.1zM540.5 147.1l1.6 2.8h-3.1zM542.4 145.1l1.6 2.8h-3.1zM536.2 143.5l1.6 2.8h-3.1zM538.6 142.5l1.6 2.8h-3.1zM533.9 141.7l1.6 2.8h-3.1zM534.5 140.9l1.6 2.8h-3.1zM535.5 140.2l1.6 2.8h-3.1zM535 140l1.6 2.8h-3.1zM535.2 139.4l1.6 2.8h-3.1z" fill="none" stroke="#5A8DE0" stroke-width="0.7"/>
<path d="M533.2 177.2L533.3 176.4L533.4 175.5L533.6 174.7L533.8 173.8L534.1 172.9L534.3 172.1L534.7 171.2L535 170.3L535.4 169.5L535.8 168.6L536.3 167.8L536.8 166.9L537.4 166L538 165.2L538.6 164.3L539.2 163.4L539.9 162.6L540.6 161.7L541.2 160.8L541.9 160L542.6 159.1L543.2 158.3L543.8 157.4L544.4 156.5L544.9 155.7L545.3 154.8L545.7 153.9L546 153.1L546.2 152.2L546.3 151.4L546.3 150.5L546.2 149.6L546 148.8L545.8 147.9L545.5 147L545 146.2L544.6 145.3L544 144.4L543.4 143.6L542.8 142.7L542.1 141.9L541.5 141L540.8 140.1L540.1 139.3L539.4 138.4L538.8 137.5L538.1 136.7L537.5 135.8L537 135L536.5 134.1L536 133.2L535.5 132.4L535.1 131.5L534.8 130.6L534.4 129.8L534.2 128.9L533.9 128L533.7 127.2L533.5 126.3L533.3 125.5" fill="none" stroke="#2F6AD6" stroke-width="1"/>
<line x1="579.2" y1="102.02" x2="579.2" y2="166.66" stroke="#3FAA6A" stroke-width="1"/>
<line x1="574.8" y1="102.02" x2="583.6" y2="102.02" stroke="#3FAA6A" stroke-width="1"/>
<line x1="574.8" y1="166.66" x2="583.6" y2="166.66" stroke="#3FAA6A" stroke-width="1"/>
<rect x="570" y="108.83" width="18.4" height="37.42" fill="#FFFF9E" stroke="#3FAA6A" stroke-width="1"/>
<line x1="570" y1="126.22" x2="588.4" y2="126.22" stroke="#3FAA6A" stroke-width="1"/>
<circle cx="579.2" cy="128.86" r="1.1" fill="none" stroke="#3FAA6A" stroke-width="0.6" opacity="0.85"/>
<path d="M594.5 166.5l1.6 -2.8h-3.1zM595.7 163.9l1.6 -2.8h-3.1zM597.9 161l1.6 -2.8h-3.1zM598.2 155.3l1.6 -2.8h-3.1zM596.7 153.7l1.6 -2.8h-3.1zM593 150l1.6 -2.8h-3.1zM597.8 147.3l1.6 -2.8h-3.1zM593.5 144.8l1.6 -2.8h-3.1zM596.9 139.6l1.6 -2.8h-3.1zM603.8 137.3l1.6 -2.8h-3.1zM596.1 133.8l1.6 -2.8h-3.1zM597.2 129.4l1.6 -2.8h-3.1zM601.2 129.3l1.6 -2.8h-3.1zM596.3 126.1l1.6 -2.8h-3.1zM600.4 121.3l1.6 -2.8h-3.1zM597.8 120.8l1.6 -2.8h-3.1zM597.8 116.9l1.6 -2.8h-3.1zM598.6 114.7l1.6 -2.8h-3.1zM595.2 112.3l1.6 -2.8h-3.1zM600.8 109.7l1.6 -2.8h-3.1zM599 108.9l1.6 -2.8h-3.1zM597.2 107.7l1.6 -2.8h-3.1zM596.1 106.4l1.6 -2.8h-3.1zM595.4 104.9l1.6 -2.8h-3.1zM593.4 104.5l1.6 -2.8h-3.1z" fill="none" stroke="#4FB578" stroke-width="0.7"/>
<path d="M592.2 192.7L592.4 190.6L592.6 188.5L592.8 186.3L593 184.2L593.3 182.1L593.6 179.9L594 177.8L594.4 175.7L594.9 173.5L595.4 171.4L595.9 169.3L596.5 167.1L597.1 165L597.7 162.8L598.4 160.7L599.1 158.6L599.8 156.4L600.5 154.3L601.2 152.2L601.9 150L602.6 147.9L603.3 145.8L603.8 143.6L604.4 141.5L604.8 139.4L605.2 137.2L605.5 135.1L605.8 132.9L605.9 130.8L605.9 128.7L605.8 126.5L605.7 124.4L605.4 122.3L605 120.1L604.6 118L604.1 115.9L603.5 113.7L602.9 111.6L602.3 109.5L601.6 107.3L600.9 105.2L600.2 103L599.4 100.9L598.7 98.8L598 96.6L597.4 94.5L596.7 92.4L596.2 90.2L595.6 88.1L595.1 86L594.6 83.8L594.2 81.7L593.8 79.6L593.5 77.4L593.2 75.3L592.9 73.1L592.7 71L592.5 68.9L592.3 66.7L592.1 64.6" fill="none" stroke="#30A060" stroke-width="1"/>
<line x1="638.1" y1="75.56" x2="638.1" y2="155.32" stroke="#B07CE0" stroke-width="1"/>
<line x1="633.7" y1="75.56" x2="642.5" y2="75.56" stroke="#B07CE0" stroke-width="1"/>
<line x1="633.7" y1="155.32" x2="642.5" y2="155.32" stroke="#B07CE0" stroke-width="1"/>
<rect x="628.9" y="83.5" width="18.4" height="46.12" fill="#9EBEF5" stroke="#B07CE0" stroke-width="1"/>
<line x1="628.9" y1="104.67" x2="647.3" y2="104.67" stroke="#B07CE0" stroke-width="1"/>
<circle cx="638.1" cy="107.32" r="1.1" fill="none" stroke="#B07CE0" stroke-width="0.6" opacity="0.85"/>
<path d="M654.4 153.4l1.6 1.6l-1.6 1.6l-1.6 -1.6zM654.4 153.4v3.1M652.8 154.9h3.1M655.4 146.1l1.6 1.6l-1.6 1.6l-1.6 -1.6zM655.4 146.1v3.1M653.9 147.7h3.1M651.5 141.2l1.6 1.6l-1.6 1.6l-1.6 -1.6zM651.5 141.2v3.1M650 142.7h3.1M656.6 136.7l1.6 1.6l-1.6 1.6l-1.6 -1.6zM656.6 136.7v3.1M655.1 138.2h3.1M655.4 131.7l1.6 1.6l-1.6 1.6l-1.6 -1.6zM655.4 131.7v3.1M653.9 133.2h3.1M655.5 128.7l1.6 1.6l-1.6 1.6l-1.6 -1.6zM655.5 128.7v3.1M653.9 130.3h3.1M654.2 122.2l1.6 1.6l-1.6 1.6l-1.6 -1.6zM654.2 122.2v3.1M652.7 123.7h3.1M656.8 118.9l1.6 1.6l-1.6 1.6l-1.6 -1.6zM656.8 118.9v3.1M655.2 120.4h3.1M661.2 112.4l1.6 1.6l-1.6 1.6l-1.6 -1.6zM661.2 112.4v3.1M659.6 113.9h3.1M661.8 108l1.6 1.6l-1.6 1.6l-1.6 -1.6zM661.8 108v3.1M660.3 109.5h3.1M654.3 106.3l1.6 1.6l-1.6 1.6l-1.6 -1.6zM654.3 106.3v3.1M652.7 107.9h3.1M654.6 101.2l1.6 1.6l-1.6 1.6l-1.6 -1.6zM654.6 101.2v3.1M653 102.8h3.1M659.5 97.6l1.6 1.6l-1.6 1.6l-1.6 -1.6zM659.5 97.6v3.1M657.9 99.2h3.1M657.8 91.9l1.6 1.6l-1.6 1.6l-1.6 -1.6zM657.8 91.9v3.1M656.3 93.4h3.1M652.4 88.4l1.6 1.6l-1.6 1.6l-1.6 -1.6zM652.4 88.4v3.1M650.8 90h3.1M661 86.4l1.6 1.6l-1.6 1.6l-1.6 -1.6zM661 86.4v3.1M659.5 87.9h3.1M655.1 83.3l1.6 1.6l-1.6 1.6l-1.6 -1.6zM655.1 83.3v3.1M653.5 84.9h3.1M652.1 81.1l1.6 1.6l-1.6 1.6l-1.6 -1.6zM652.1 81.1v3.1M650.6 82.7h3.1M658.8 78.5l1.6 1.6l-1.6 1.6l-1.6 -1.6zM658.8 78.5v3.1M657.3 80h3.1M652.3 77.4l1.6 1.6l-1.6 1.6l-1.6 -1.6zM652.3 77.4v3.1M650.8 79h3.1M653 76.5l1.6 1.6l-1.6 1.6l-1.6 -1.6zM653 76.5v3.1M651.5 78h3.1M655.8 74.5l1.6 1.6l-1.6 1.6l-1.6 -1.6zM655.8 74.5v3.1M654.2 76h3.1" fill="none" stroke="#BE8EE6" stroke-width="0.7"/>
<path d="M650.8 185.9L650.8 183.9L650.9 181.8L651 179.7L651.2 177.6L651.3 175.5L651.5 173.5L651.6 171.4L651.9 169.3L652.1 167.2L652.4 165.2L652.6 163.1L653 161L653.3 158.9L653.7 156.8L654.2 154.8L654.6 152.7L655.1 150.6L655.6 148.5L656.2 146.4L656.7 144.4L657.3 142.3L657.9 140.2L658.5 138.1L659.2 136L659.8 134L660.4 131.9L661 129.8L661.6 127.7L662.1 125.6L662.6 123.6L663.1 121.5L663.5 119.4L663.8 117.3L664.1 115.3L664.3 113.2L664.5 111.1L664.6 109L664.6 106.9L664.5 104.9L664.4 102.8L664.2 100.7L663.9 98.6L663.6 96.5L663.2 94.5L662.7 92.4L662.2 90.3L661.7 88.2L661.1 86.1L660.6 84.1L659.9 82L659.3 79.9L658.7 77.8L658.1 75.8L657.5 73.7L656.9 71.6L656.3 69.5L655.8 67.4L655.2 65.4L654.7 63.3L654.3 61.2" fill="none" stroke="#A970DE" stroke-width="1"/>
<line x1="384.1" y1="4" x2="384.1" y2="231.3" stroke="#3a3a3a" stroke-width="1.2"/>
<line x1="383.5" y1="231.3" x2="681" y2="231.3" stroke="#3a3a3a" stroke-width="1.2"/>
<line x1="380.5" y1="231.3" x2="384.1" y2="231.3" stroke="#3a3a3a" stroke-width="1.1"/>
<text transform="translate(376.6,234.3) scale(0.86,1)" text-anchor="end" font-size="9.9" fill="#222">10</text>
<line x1="382.1" y1="212.4" x2="384.1" y2="212.4" stroke="#3a3a3a" stroke-width="1.1"/>
<line x1="380.5" y1="193.5" x2="384.1" y2="193.5" stroke="#3a3a3a" stroke-width="1.1"/>
<text transform="translate(376.6,196.5) scale(0.86,1)" text-anchor="end" font-size="9.9" fill="#222">20</text>
<line x1="382.1" y1="174.6" x2="384.1" y2="174.6" stroke="#3a3a3a" stroke-width="1.1"/>
<line x1="380.5" y1="155.7" x2="384.1" y2="155.7" stroke="#3a3a3a" stroke-width="1.1"/>
<text transform="translate(376.6,158.7) scale(0.86,1)" text-anchor="end" font-size="9.9" fill="#222">30</text>
<line x1="382.1" y1="136.8" x2="384.1" y2="136.8" stroke="#3a3a3a" stroke-width="1.1"/>
<line x1="380.5" y1="117.9" x2="384.1" y2="117.9" stroke="#3a3a3a" stroke-width="1.1"/>
<text transform="translate(376.6,120.9) scale(0.86,1)" text-anchor="end" font-size="9.9" fill="#222">40</text>
<line x1="382.1" y1="99" x2="384.1" y2="99" stroke="#3a3a3a" stroke-width="1.1"/>
<line x1="380.5" y1="80.1" x2="384.1" y2="80.1" stroke="#3a3a3a" stroke-width="1.1"/>
<text transform="translate(376.6,83.1) scale(0.86,1)" text-anchor="end" font-size="9.9" fill="#222">50</text>
<line x1="382.1" y1="61.2" x2="384.1" y2="61.2" stroke="#3a3a3a" stroke-width="1.1"/>
<line x1="380.5" y1="42.3" x2="384.1" y2="42.3" stroke="#3a3a3a" stroke-width="1.1"/>
<text transform="translate(376.6,45.3) scale(0.86,1)" text-anchor="end" font-size="9.9" fill="#222">60</text>
<line x1="382.1" y1="23.4" x2="384.1" y2="23.4" stroke="#3a3a3a" stroke-width="1.1"/>
<line x1="380.5" y1="4.5" x2="384.1" y2="4.5" stroke="#3a3a3a" stroke-width="1.1"/>
<text transform="translate(376.6,7.5) scale(0.86,1)" text-anchor="end" font-size="9.9" fill="#222">70</text>
<line x1="414.5" y1="231.3" x2="414.5" y2="235.5" stroke="#3a3a3a" stroke-width="1.1"/>
<text x="414.5" y="246" text-anchor="middle" font-size="9.2" fill="#222">Core</text>
<line x1="473.4" y1="231.3" x2="473.4" y2="235.5" stroke="#3a3a3a" stroke-width="1.1"/>
<text x="473.4" y="246" text-anchor="middle" font-size="9.2" fill="#222">JSMS</text>
<line x1="532.3" y1="231.3" x2="532.3" y2="235.5" stroke="#3a3a3a" stroke-width="1.1"/>
<text x="532.3" y="246" text-anchor="middle" font-size="9.2" fill="#222">AIJ</text>
<line x1="591.2" y1="231.3" x2="591.2" y2="235.5" stroke="#3a3a3a" stroke-width="1.1"/>
<text x="591.2" y="246" text-anchor="middle" font-size="9.2" fill="#222">US Army</text>
<line x1="650.1" y1="231.3" x2="650.1" y2="235.5" stroke="#3a3a3a" stroke-width="1.1"/>
<text x="650.1" y="246" text-anchor="middle" font-size="9.2" fill="#222">KMST</text>
<text transform="translate(358.2,117.9) rotate(-90)" text-anchor="middle" font-size="10.9" fill="#222">Compressive strength (MPa)</text>
<rect x="388.9" y="3.2" width="153.5" height="21" fill="#fff" stroke="#111" stroke-width="1.3"/>
<text x="465.05" y="18.6" text-anchor="middle" font-size="13.6" fill="#111">Ahyeon Overpass, girder</text>
<text x="447.7" y="37.2" font-size="12.5" fill="#111">RHT</text>
<line x1="74.4" y1="280.5" x2="74.4" y2="507.3" stroke="#111" stroke-width="1.3" stroke-dasharray="4.7 4.75" stroke-dashoffset="4.65"/>
<line x1="247.6" y1="280.5" x2="247.6" y2="507.3" stroke="#111" stroke-width="1.3" stroke-dasharray="4.7 4.75" stroke-dashoffset="4.65"/>
<line x1="49" y1="346.92" x2="49" y2="408.16" stroke="#6a6a6a" stroke-width="1"/>
<line x1="45.7" y1="346.92" x2="52.3" y2="346.92" stroke="#6a6a6a" stroke-width="1"/>
<line x1="45.7" y1="408.16" x2="52.3" y2="408.16" stroke="#6a6a6a" stroke-width="1"/>
<rect x="42.6" y="363.44" width="12.8" height="18.47" fill="#FFCC8F" stroke="#6a6a6a" stroke-width="1"/>
<line x1="42.6" y1="371.87" x2="55.4" y2="371.87" stroke="#5a5040" stroke-width="1"/>
<circle cx="49" cy="374.78" r="1.1" fill="none" stroke="#5a5040" stroke-width="0.6" opacity="0.85"/>
<path d="M59.1 406.4h2.9v2.9h-2.9zM59.3 405.1h2.9v2.9h-2.9zM57.4 403.6h2.9v2.9h-2.9zM60.1 403.2h2.9v2.9h-2.9zM58 401.7h2.9v2.9h-2.9zM58.8 399.7h2.9v2.9h-2.9zM58.8 398.7h2.9v2.9h-2.9zM57.7 397.8h2.9v2.9h-2.9zM60.2 396.6h2.9v2.9h-2.9zM59.7 395.6h2.9v2.9h-2.9zM57.4 394.3h2.9v2.9h-2.9zM59.2 393h2.9v2.9h-2.9zM57.3 392.4h2.9v2.9h-2.9zM58.8 390.5h2.9v2.9h-2.9zM60.2 389.5h2.9v2.9h-2.9zM60.4 388.4h2.9v2.9h-2.9zM60 387.6h2.9v2.9h-2.9zM60.7 386.4h2.9v2.9h-2.9zM57.6 384.7h2.9v2.9h-2.9zM58.1 384.4h2.9v2.9h-2.9zM59.5 382.3h2.9v2.9h-2.9zM58.9 381.5h2.9v2.9h-2.9zM59.5 380.5h2.9v2.9h-2.9zM60.8 380.1h2.9v2.9h-2.9zM63 379.5h2.9v2.9h-2.9zM63.3 379h2.9v2.9h-2.9zM64 378.5h2.9v2.9h-2.9zM58.3 378.2h2.9v2.9h-2.9zM64.1 377.6h2.9v2.9h-2.9zM61.3 377.2h2.9v2.9h-2.9zM58.7 376.8h2.9v2.9h-2.9zM61.5 376.3h2.9v2.9h-2.9zM57.6 376.1h2.9v2.9h-2.9zM65 375.4h2.9v2.9h-2.9zM63.5 375.3h2.9v2.9h-2.9zM58.4 374.7h2.9v2.9h-2.9zM63.5 374.3h2.9v2.9h-2.9zM57.5 373.6h2.9v2.9h-2.9zM57.5 373.3h2.9v2.9h-2.9zM60 372.8h2.9v2.9h-2.9zM65.7 372.3h2.9v2.9h-2.9zM65.9 372h2.9v2.9h-2.9zM57.8 371.6h2.9v2.9h-2.9zM57.4 371h2.9v2.9h-2.9zM60.8 370.8h2.9v2.9h-2.9zM58.6 370.2h2.9v2.9h-2.9zM65 370h2.9v2.9h-2.9zM65.8 369.6h2.9v2.9h-2.9zM60.6 369h2.9v2.9h-2.9zM61.9 368.7h2.9v2.9h-2.9zM62.6 368.3h2.9v2.9h-2.9zM62.8 368h2.9v2.9h-2.9zM61.8 367.4h2.9v2.9h-2.9zM63.8 367.3h2.9v2.9h-2.9zM59.9 367h2.9v2.9h-2.9zM61.9 366.3h2.9v2.9h-2.9zM57.3 366.1h2.9v2.9h-2.9zM62.4 365.8h2.9v2.9h-2.9zM62.7 365.5h2.9v2.9h-2.9zM57.7 364.9h2.9v2.9h-2.9zM61.3 364.6h2.9v2.9h-2.9zM60.3 364.2h2.9v2.9h-2.9zM63.7 363.8h2.9v2.9h-2.9zM57.7 363.7h2.9v2.9h-2.9zM65.6 363.1h2.9v2.9h-2.9zM61.1 362.8h2.9v2.9h-2.9zM59.9 362.3h2.9v2.9h-2.9zM59.8 362h2.9v2.9h-2.9zM62.1 361.4h2.9v2.9h-2.9zM60.2 360.7h2.9v2.9h-2.9zM57.4 359.6h2.9v2.9h-2.9zM62.8 359h2.9v2.9h-2.9zM58.8 358.5h2.9v2.9h-2.9zM58.9 357.4h2.9v2.9h-2.9zM60.2 357.1h2.9v2.9h-2.9zM57.8 356h2.9v2.9h-2.9zM59.3 355.5h2.9v2.9h-2.9zM59.8 354.4h2.9v2.9h-2.9zM58.1 353.7h2.9v2.9h-2.9zM60.8 353.3h2.9v2.9h-2.9zM59.5 352.2h2.9v2.9h-2.9zM57.8 351.9h2.9v2.9h-2.9zM58 351h2.9v2.9h-2.9zM60.8 350h2.9v2.9h-2.9zM58.3 349.7h2.9v2.9h-2.9zM59.6 348.5h2.9v2.9h-2.9zM58.4 347.8h2.9v2.9h-2.9zM58.2 347.6h2.9v2.9h-2.9zM58.1 346.4h2.9v2.9h-2.9zM58.6 346h2.9v2.9h-2.9z" fill="#4a4a4a"/>
<path d="M57.6 419.8L57.7 418.3L57.7 416.8L57.7 415.3L57.8 413.8L57.8 412.3L57.9 410.8L57.9 409.3L58 407.8L58.2 406.3L58.3 404.8L58.5 403.2L58.7 401.7L58.9 400.2L59.2 398.7L59.6 397.2L59.9 395.7L60.4 394.2L60.8 392.7L61.4 391.2L61.9 389.7L62.5 388.2L63.1 386.7L63.7 385.2L64.4 383.7L65 382.2L65.6 380.6L66.2 379.1L66.7 377.6L67.2 376.1L67.6 374.6L67.9 373.1L68.1 371.6L68.3 370.1L68.3 368.6L68.2 367.1L68 365.6L67.8 364.1L67.4 362.6L67 361.1L66.5 359.6L65.9 358L65.3 356.5L64.7 355L64.1 353.5L63.4 352L62.8 350.5L62.2 349L61.6 347.5L61.1 346L60.6 344.5L60.2 343L59.8 341.5L59.4 340L59.1 338.5L58.8 337L58.6 335.5L58.4 333.9L58.2 332.4L58.1 330.9L58 329.4" fill="none" stroke="#404040" stroke-width="1"/>
<line x1="91.2" y1="396.49" x2="91.2" y2="419.82" stroke="#E55A5A" stroke-width="1"/>
<line x1="87.9" y1="396.49" x2="94.5" y2="396.49" stroke="#E55A5A" stroke-width="1"/>
<line x1="87.9" y1="419.82" x2="94.5" y2="419.82" stroke="#E55A5A" stroke-width="1"/>
<rect x="84.8" y="405.56" width="12.8" height="8.42" fill="#9DD79A" stroke="#E55A5A" stroke-width="1"/>
<line x1="84.8" y1="411.07" x2="97.6" y2="411.07" stroke="#DE6055" stroke-width="1"/>
<rect x="90.2" y="409.9" width="2" height="2" fill="#DE6055" opacity="0.7"/>
<path d="M101.2 419.4a1.6 1.6 0 1 0 3.1 0a1.6 1.6 0 1 0 -3.1 0M100.2 418a1.6 1.6 0 1 0 3.1 0a1.6 1.6 0 1 0 -3.1 0M104.8 417.9a1.6 1.6 0 1 0 3.1 0a1.6 1.6 0 1 0 -3.1 0M106.2 416.2a1.6 1.6 0 1 0 3.1 0a1.6 1.6 0 1 0 -3.1 0M106.2 415.7a1.6 1.6 0 1 0 3.1 0a1.6 1.6 0 1 0 -3.1 0M101 414.3a1.6 1.6 0 1 0 3.1 0a1.6 1.6 0 1 0 -3.1 0M106.2 413.8a1.6 1.6 0 1 0 3.1 0a1.6 1.6 0 1 0 -3.1 0M103.6 413.3a1.6 1.6 0 1 0 3.1 0a1.6 1.6 0 1 0 -3.1 0M102.2 413a1.6 1.6 0 1 0 3.1 0a1.6 1.6 0 1 0 -3.1 0M99.8 412.6a1.6 1.6 0 1 0 3.1 0a1.6 1.6 0 1 0 -3.1 0M101.8 412a1.6 1.6 0 1 0 3.1 0a1.6 1.6 0 1 0 -3.1 0M99.6 411.4a1.6 1.6 0 1 0 3.1 0a1.6 1.6 0 1 0 -3.1 0M105.3 410.7a1.6 1.6 0 1 0 3.1 0a1.6 1.6 0 1 0 -3.1 0M107 409.8a1.6 1.6 0 1 0 3.1 0a1.6 1.6 0 1 0 -3.1 0M104.1 409a1.6 1.6 0 1 0 3.1 0a1.6 1.6 0 1 0 -3.1 0M105.5 408.9a1.6 1.6 0 1 0 3.1 0a1.6 1.6 0 1 0 -3.1 0M101.7 407.8a1.6 1.6 0 1 0 3.1 0a1.6 1.6 0 1 0 -3.1 0M103.1 406.5a1.6 1.6 0 1 0 3.1 0a1.6 1.6 0 1 0 -3.1 0M105.8 405.9a1.6 1.6 0 1 0 3.1 0a1.6 1.6 0 1 0 -3.1 0M101.3 404.3a1.6 1.6 0 1 0 3.1 0a1.6 1.6 0 1 0 -3.1 0M103.8 403.4a1.6 1.6 0 1 0 3.1 0a1.6 1.6 0 1 0 -3.1 0M102.4 401.6a1.6 1.6 0 1 0 3.1 0a1.6 1.6 0 1 0 -3.1 0M99.9 400.3a1.6 1.6 0 1 0 3.1 0a1.6 1.6 0 1 0 -3.1 0M102.1 398.6a1.6 1.6 0 1 0 3.1 0a1.6 1.6 0 1 0 -3.1 0M102 397.7a1.6 1.6 0 1 0 3.1 0a1.6 1.6 0 1 0 -3.1 0M99.3 437.6a1.6 1.6 0 1 0 3.1 0a1.6 1.6 0 1 0 -3.1 0" fill="none" stroke="#EE7777" stroke-width="0.7"/>
<path d="M99.9 437.6L99.9 436.7L99.9 435.9L99.9 435L100 434.1L100.1 433.2L100.2 432.3L100.3 431.4L100.4 430.5L100.6 429.6L100.8 428.7L101 427.8L101.4 426.9L101.7 426.1L102.1 425.2L102.6 424.3L103.1 423.4L103.7 422.5L104.3 421.6L104.9 420.7L105.6 419.8L106.3 418.9L107 418L107.6 417.1L108.2 416.3L108.8 415.4L109.2 414.5L109.6 413.6L109.9 412.7L110.1 411.8L110.1 410.9L110 410L109.8 409.1L109.5 408.2L109.1 407.3L108.6 406.5L108 405.6L107.4 404.7L106.7 403.8L106 402.9L105.4 402L104.7 401.1L104.1 400.2L103.5 399.3L102.9 398.4L102.4 397.5L102 396.7L101.6 395.8L101.2 394.9L101 394L100.7 393.1L100.5 392.2L100.3 391.3L100.2 390.4L100.1 389.5L100 388.6L100 387.7L99.9 386.9L99.9 386L99.9 385.1L99.8 384.2" fill="none" stroke="#E54F4F" stroke-width="1"/>
<line x1="133.4" y1="403.62" x2="133.4" y2="416.26" stroke="#3F78D8" stroke-width="1"/>
<line x1="130.1" y1="403.62" x2="136.7" y2="403.62" stroke="#3F78D8" stroke-width="1"/>
<line x1="130.1" y1="416.26" x2="136.7" y2="416.26" stroke="#3F78D8" stroke-width="1"/>
<rect x="127" y="408.8" width="12.8" height="4.54" fill="#C9B6DC" stroke="#3F78D8" stroke-width="1"/>
<line x1="127" y1="411.07" x2="139.8" y2="411.07" stroke="#3F78D8" stroke-width="1"/>
<circle cx="133.4" cy="411.07" r="1.1" fill="none" stroke="#3F78D8" stroke-width="0.6" opacity="0.85"/>
<path d="M147.1 414.3l1.6 2.8h-3.1zM143 413.9l1.6 2.8h-3.1zM148.3 413.5l1.6 2.8h-3.1zM144.8 413.3l1.6 2.8h-3.1zM146.8 412.7l1.6 2.8h-3.1zM146.7 412.2l1.6 2.8h-3.1zM143 411.6l1.6 2.8h-3.1zM144.1 411.5l1.6 2.8h-3.1zM143.6 411.1l1.6 2.8h-3.1zM150.9 410.4l1.6 2.8h-3.1zM147.7 410.4l1.6 2.8h-3.1zM146 410l1.6 2.8h-3.1zM149.1 409.6l1.6 2.8h-3.1zM146.4 409.1l1.6 2.8h-3.1zM146.1 408.9l1.6 2.8h-3.1zM148.1 408.6l1.6 2.8h-3.1zM146.4 408l1.6 2.8h-3.1zM144.6 407.9l1.6 2.8h-3.1zM148.1 407.4l1.6 2.8h-3.1zM145.8 406.4l1.6 2.8h-3.1zM146.9 405.6l1.6 2.8h-3.1zM145 405l1.6 2.8h-3.1zM146 404.1l1.6 2.8h-3.1zM145.4 403.4l1.6 2.8h-3.1zM143.9 402.5l1.6 2.8h-3.1z" fill="none" stroke="#5A8DE0" stroke-width="0.7"/>
<path d="M142 427.6L142 427.1L142 426.6L142.1 426.1L142.1 425.5L142.1 425L142.1 424.5L142.2 424L142.3 423.5L142.4 423L142.5 422.5L142.7 422L142.9 421.4L143.1 420.9L143.4 420.4L143.7 419.9L144.1 419.4L144.6 418.9L145.1 418.4L145.7 417.8L146.3 417.3L147 416.8L147.7 416.3L148.5 415.8L149.2 415.3L149.9 414.8L150.6 414.3L151.3 413.7L151.8 413.2L152.3 412.7L152.7 412.2L152.9 411.7L153 411.2L153 410.7L152.8 410.2L152.5 409.6L152.1 409.1L151.5 408.6L150.9 408.1L150.2 407.6L149.5 407.1L148.8 406.6L148 406.1L147.3 405.5L146.6 405L145.9 404.5L145.3 404L144.8 403.5L144.3 403L143.9 402.5L143.5 401.9L143.2 401.4L142.9 400.9L142.7 400.4L142.6 399.9L142.4 399.4L142.3 398.9L142.2 398.4L142.2 397.8L142.1 397.3L142.1 396.8" fill="none" stroke="#2F6AD6" stroke-width="1"/>
<line x1="175.6" y1="381.26" x2="175.6" y2="412.37" stroke="#3FAA6A" stroke-width="1"/>
<line x1="172.3" y1="381.26" x2="178.9" y2="381.26" stroke="#3FAA6A" stroke-width="1"/>
<line x1="172.3" y1="412.37" x2="178.9" y2="412.37" stroke="#3FAA6A" stroke-width="1"/>
<rect x="169.2" y="392.93" width="12.8" height="12.64" fill="#FFFF9E" stroke="#3FAA6A" stroke-width="1"/>
<line x1="169.2" y1="401.35" x2="182" y2="401.35" stroke="#3FAA6A" stroke-width="1"/>
<circle cx="175.6" cy="399.73" r="1.1" fill="none" stroke="#3FAA6A" stroke-width="0.6" opacity="0.85"/>
<path d="M189 413.4l1.6 -2.8h-3.1zM187.6 412.9l1.6 -2.8h-3.1zM190.8 411.7l1.6 -2.8h-3.1zM187.8 410.3l1.6 -2.8h-3.1zM191.1 409.5l1.6 -2.8h-3.1zM188.7 409.1l1.6 -2.8h-3.1zM191.6 408.4l1.6 -2.8h-3.1zM192.6 407l1.6 -2.8h-3.1zM190.9 406.4l1.6 -2.8h-3.1zM190.1 405.9l1.6 -2.8h-3.1zM190.3 405.7l1.6 -2.8h-3.1zM186.5 405.1l1.6 -2.8h-3.1zM185.6 404.2l1.6 -2.8h-3.1zM186.1 404l1.6 -2.8h-3.1zM186.8 403l1.6 -2.8h-3.1zM192.8 402.9l1.6 -2.8h-3.1zM192.7 401.6l1.6 -2.8h-3.1zM192.4 399.9l1.6 -2.8h-3.1zM190 398.5l1.6 -2.8h-3.1zM185.5 397.5l1.6 -2.8h-3.1zM189 396.4l1.6 -2.8h-3.1zM185.9 395.4l1.6 -2.8h-3.1zM191.1 394.1l1.6 -2.8h-3.1zM187.2 393.6l1.6 -2.8h-3.1zM189.2 391.3l1.6 -2.8h-3.1zM186 390.2l1.6 -2.8h-3.1zM187.4 388.6l1.6 -2.8h-3.1zM186.6 386.3l1.6 -2.8h-3.1zM186.6 385.4l1.6 -2.8h-3.1zM186.7 383.8l1.6 -2.8h-3.1zM185.2 437.2l1.6 -2.8h-3.1z" fill="none" stroke="#4FB578" stroke-width="0.7"/>
<path d="M184.3 435.7L184.3 434.5L184.4 433.4L184.5 432.2L184.5 431L184.6 429.8L184.8 428.7L184.9 427.5L185.1 426.3L185.3 425.1L185.6 424L185.9 422.8L186.3 421.6L186.7 420.5L187.2 419.3L187.7 418.1L188.3 416.9L188.9 415.8L189.5 414.6L190.1 413.4L190.8 412.3L191.5 411.1L192.1 409.9L192.7 408.7L193.2 407.6L193.7 406.4L194.1 405.2L194.4 404.1L194.6 402.9L194.7 401.7L194.7 400.5L194.5 399.4L194.3 398.2L194 397L193.5 395.9L193 394.7L192.5 393.5L191.8 392.3L191.2 391.2L190.5 390L189.9 388.8L189.2 387.7L188.6 386.5L188 385.3L187.5 384.1L187 383L186.6 381.8L186.2 380.6L185.8 379.4L185.5 378.3L185.3 377.1L185 375.9L184.9 374.8L184.7 373.6L184.6 372.4L184.5 371.2L184.4 370.1L184.4 368.9L184.3 367.7L184.3 366.6L184.3 365.4" fill="none" stroke="#30A060" stroke-width="1"/>
<line x1="217.8" y1="353.08" x2="217.8" y2="380.94" stroke="#B07CE0" stroke-width="1"/>
<line x1="214.5" y1="353.08" x2="221.1" y2="353.08" stroke="#B07CE0" stroke-width="1"/>
<line x1="214.5" y1="380.94" x2="221.1" y2="380.94" stroke="#B07CE0" stroke-width="1"/>
<rect x="211.4" y="363.44" width="12.8" height="11.66" fill="#9EBEF5" stroke="#B07CE0" stroke-width="1"/>
<line x1="211.4" y1="371.54" x2="224.2" y2="371.54" stroke="#B07CE0" stroke-width="1"/>
<circle cx="217.8" cy="369.92" r="1.1" fill="none" stroke="#B07CE0" stroke-width="0.6" opacity="0.85"/>
<path d="M230.3 379.3l1.6 1.6l-1.6 1.6l-1.6 -1.6zM230.3 379.3v3.1M228.8 380.9h3.1M230.2 377.9l1.6 1.6l-1.6 1.6l-1.6 -1.6zM230.2 377.9v3.1M228.6 379.4h3.1M228.5 377.3l1.6 1.6l-1.6 1.6l-1.6 -1.6zM228.5 377.3v3.1M227 378.8h3.1M233 376.5l1.6 1.6l-1.6 1.6l-1.6 -1.6zM233 376.5v3.1M231.4 378.1h3.1M231.4 375.8l1.6 1.6l-1.6 1.6l-1.6 -1.6zM231.4 375.8v3.1M229.9 377.3h3.1M232.6 375.1l1.6 1.6l-1.6 1.6l-1.6 -1.6zM232.6 375.1v3.1M231 376.7h3.1M228.7 374l1.6 1.6l-1.6 1.6l-1.6 -1.6zM228.7 374v3.1M227.1 375.6h3.1M233.8 373.9l1.6 1.6l-1.6 1.6l-1.6 -1.6zM233.8 373.9v3.1M232.2 375.4h3.1M231.9 372.9l1.6 1.6l-1.6 1.6l-1.6 -1.6zM231.9 372.9v3.1M230.4 374.4h3.1M233.8 372.6l1.6 1.6l-1.6 1.6l-1.6 -1.6zM233.8 372.6v3.1M232.2 374.2h3.1M229.8 372.3l1.6 1.6l-1.6 1.6l-1.6 -1.6zM229.8 372.3v3.1M228.2 373.8h3.1M232.7 371.8l1.6 1.6l-1.6 1.6l-1.6 -1.6zM232.7 371.8v3.1M231.1 373.4h3.1M229.5 371.3l1.6 1.6l-1.6 1.6l-1.6 -1.6zM229.5 371.3v3.1M228 372.8h3.1M236.1 370.6l1.6 1.6l-1.6 1.6l-1.6 -1.6zM236.1 370.6v3.1M234.6 372.2h3.1M233.9 370.3l1.6 1.6l-1.6 1.6l-1.6 -1.6zM233.9 370.3v3.1M232.3 371.9h3.1M235.2 369.5l1.6 1.6l-1.6 1.6l-1.6 -1.6zM235.2 369.5v3.1M233.7 371.1h3.1M229.8 368.3l1.6 1.6l-1.6 1.6l-1.6 -1.6zM229.8 368.3v3.1M228.3 369.8h3.1M227.6 367.6l1.6 1.6l-1.6 1.6l-1.6 -1.6zM227.6 367.6v3.1M226.1 369.1h3.1M230.7 366.2l1.6 1.6l-1.6 1.6l-1.6 -1.6zM230.7 366.2v3.1M229.1 367.8h3.1M230.4 365.5l1.6 1.6l-1.6 1.6l-1.6 -1.6zM230.4 365.5v3.1M228.8 367h3.1M233.4 364.2l1.6 1.6l-1.6 1.6l-1.6 -1.6zM233.4 364.2v3.1M231.8 365.8h3.1M234.7 363.4l1.6 1.6l-1.6 1.6l-1.6 -1.6zM234.7 363.4v3.1M233.1 364.9h3.1M231.3 361.9l1.6 1.6l-1.6 1.6l-1.6 -1.6zM231.3 361.9v3.1M229.8 363.5h3.1M232.2 360.6l1.6 1.6l-1.6 1.6l-1.6 -1.6zM232.2 360.6v3.1M230.7 362.1h3.1M230 358.7l1.6 1.6l-1.6 1.6l-1.6 -1.6zM230 358.7v3.1M228.5 360.2h3.1M230.4 357.8l1.6 1.6l-1.6 1.6l-1.6 -1.6zM230.4 357.8v3.1M228.8 359.3h3.1M228.8 355.9l1.6 1.6l-1.6 1.6l-1.6 -1.6zM228.8 355.9v3.1M227.3 357.4h3.1M230.8 354.7l1.6 1.6l-1.6 1.6l-1.6 -1.6zM230.8 354.7v3.1M229.2 356.2h3.1M228.2 353.6l1.6 1.6l-1.6 1.6l-1.6 -1.6zM228.2 353.6v3.1M226.7 355.2h3.1M229.9 352.6l1.6 1.6l-1.6 1.6l-1.6 -1.6zM229.9 352.6v3.1M228.4 354.1h3.1M227.4 401.4l1.6 1.6l-1.6 1.6l-1.6 -1.6zM227.4 401.4v3.1M225.9 403h3.1" fill="none" stroke="#BE8EE6" stroke-width="0.7"/>
<path d="M226.5 403.6L226.5 402.5L226.6 401.4L226.6 400.3L226.7 399.3L226.8 398.2L227 397.1L227.1 396L227.3 394.9L227.5 393.8L227.8 392.7L228.1 391.6L228.5 390.5L228.9 389.4L229.4 388.3L229.9 387.3L230.5 386.2L231.1 385.1L231.7 384L232.4 382.9L233 381.8L233.7 380.7L234.4 379.6L235 378.5L235.5 377.4L236 376.4L236.5 375.3L236.8 374.2L237 373.1L237.1 372L237.1 370.9L237 369.8L236.7 368.7L236.4 367.6L235.9 366.5L235.4 365.4L234.9 364.4L234.2 363.3L233.6 362.2L232.9 361.1L232.2 360L231.6 358.9L230.9 357.8L230.3 356.7L229.8 355.6L229.3 354.5L228.8 353.4L228.4 352.4L228.1 351.3L227.7 350.2L227.5 349.1L227.3 348L227.1 346.9L226.9 345.8L226.8 344.7L226.7 343.6L226.6 342.5L226.6 341.4L226.5 340.4L226.5 339.3L226.5 338.2" fill="none" stroke="#A970DE" stroke-width="1"/>
<line x1="260" y1="419.5" x2="260" y2="436.34" stroke="#D9A52A" stroke-width="1"/>
<line x1="256.7" y1="419.5" x2="263.3" y2="419.5" stroke="#D9A52A" stroke-width="1"/>
<line x1="256.7" y1="436.34" x2="263.3" y2="436.34" stroke="#D9A52A" stroke-width="1"/>
<rect x="253.6" y="422.41" width="12.8" height="5.83" fill="#FAB4FA" stroke="#D9A52A" stroke-width="1"/>
<line x1="253.6" y1="424.68" x2="266.4" y2="424.68" stroke="#D9A52A" stroke-width="1"/>
<circle cx="260" cy="425" r="1.1" fill="none" stroke="#D9A52A" stroke-width="0.6" opacity="0.85"/>
<path d="M271.7 433.6l2.5 2.5M271.7 436.1l2.5 -2.5M273 433.3v3.1M269.2 431.1l2.5 2.5M269.2 433.6l2.5 -2.5M270.4 430.8v3.1M269.3 430.4l2.5 2.5M269.3 432.9l2.5 -2.5M270.5 430.1v3.1M272.2 428.2l2.5 2.5M272.2 430.7l2.5 -2.5M273.4 427.9v3.1M275.2 426l2.5 2.5M275.2 428.4l2.5 -2.5M276.5 425.6v3.1M275.2 425.6l2.5 2.5M275.2 428.1l2.5 -2.5M276.4 425.3v3.1M271.9 424.6l2.5 2.5M271.9 427l2.5 -2.5M273.1 424.3v3.1M269.1 423.3l2.5 2.5M269.1 425.8l2.5 -2.5M270.3 423v3.1M275.4 423.1l2.5 2.5M275.4 425.6l2.5 -2.5M276.6 422.8v3.1M271.3 422.4l2.5 2.5M271.3 424.8l2.5 -2.5M272.5 422v3.1M273.5 421.6l2.5 2.5M273.5 424.1l2.5 -2.5M274.8 421.3v3.1M270.9 421.3l2.5 2.5M270.9 423.8l2.5 -2.5M272.1 421v3.1M271.5 420.2l2.5 2.5M271.5 422.7l2.5 -2.5M272.7 419.9v3.1M271.8 419.6l2.5 2.5M271.8 422.1l2.5 -2.5M273 419.3v3.1M270 418.3l2.5 2.5M270 420.8l2.5 -2.5M271.3 418v3.1" fill="none" stroke="#E0B040" stroke-width="0.55"/>
<path d="M268.7 441.2L268.7 440.7L268.7 440.2L268.7 439.7L268.8 439.2L268.9 438.7L268.9 438.2L269 437.7L269.1 437.1L269.3 436.6L269.5 436.1L269.7 435.6L269.9 435.1L270.2 434.6L270.6 434.1L270.9 433.6L271.4 433.1L271.8 432.6L272.3 432.1L272.9 431.6L273.5 431.1L274.1 430.5L274.7 430L275.3 429.5L275.9 429L276.4 428.5L277 428L277.4 427.5L277.9 427L278.2 426.5L278.4 426L278.6 425.5L278.6 425L278.5 424.5L278.4 423.9L278.1 423.4L277.8 422.9L277.4 422.4L276.9 421.9L276.3 421.4L275.8 420.9L275.2 420.4L274.6 419.9L274 419.4L273.4 418.9L272.8 418.4L272.2 417.9L271.7 417.3L271.3 416.8L270.9 416.3L270.5 415.8L270.2 415.3L269.9 414.8L269.6 414.3L269.4 413.8L269.3 413.3L269.1 412.8L269 412.3L268.9 411.8L268.8 411.3L268.8 410.7" fill="none" stroke="#D4A020" stroke-width="1"/>
<line x1="302.2" y1="442.5" x2="302.2" y2="478.79" stroke="#2EC4C4" stroke-width="1"/>
<line x1="298.9" y1="442.5" x2="305.5" y2="442.5" stroke="#2EC4C4" stroke-width="1"/>
<line x1="298.9" y1="478.79" x2="305.5" y2="478.79" stroke="#2EC4C4" stroke-width="1"/>
<rect x="295.8" y="449.63" width="12.8" height="11.66" fill="#B4B68F" stroke="#2EC4C4" stroke-width="1"/>
<line x1="295.8" y1="451.25" x2="308.6" y2="451.25" stroke="#2EC4C4" stroke-width="1"/>
<circle cx="302.2" cy="455.46" r="1.1" fill="none" stroke="#2EC4C4" stroke-width="0.6" opacity="0.85"/>
<path d="M310.7 475.6l2.8 -1.6v3.1zM312.6 471.4l2.8 -1.6v3.1zM314.6 466.5l2.8 -1.6v3.1zM311.1 458.2l2.8 -1.6v3.1zM313.7 454.8l2.8 -1.6v3.1zM316.9 452l2.8 -1.6v3.1zM315.9 451.1l2.8 -1.6v3.1zM316.8 450.4l2.8 -1.6v3.1zM316.3 450l2.8 -1.6v3.1zM314.7 447.3l2.8 -1.6v3.1zM310.9 446l2.8 -1.6v3.1zM311.8 443.7l2.8 -1.6v3.1z" fill="none" stroke="#3CC8C8" stroke-width="0.7"/>
<path d="M310.9 488.2L310.9 487.1L311 486L311 484.9L311.1 483.8L311.2 482.8L311.3 481.7L311.4 480.6L311.6 479.5L311.8 478.4L312 477.3L312.3 476.2L312.6 475.2L313 474.1L313.5 473L313.9 471.9L314.5 470.8L315.1 469.7L315.7 468.6L316.3 467.6L317 466.5L317.7 465.4L318.4 464.3L319 463.2L319.6 462.1L320.2 461L320.6 460L321 458.9L321.3 457.8L321.5 456.7L321.6 455.6L321.6 454.5L321.4 453.5L321.1 452.4L320.8 451.3L320.3 450.2L319.8 449.1L319.2 448L318.6 446.9L317.9 445.9L317.2 444.8L316.5 443.7L315.9 442.6L315.2 441.5L314.6 440.4L314.1 439.3L313.6 438.3L313.1 437.2L312.7 436.1L312.4 435L312.1 433.9L311.8 432.8L311.6 431.7L311.5 430.7L311.3 429.6L311.2 428.5L311.1 427.4L311 426.3L311 425.2L310.9 424.1L310.9 423.1" fill="none" stroke="#22C0C0" stroke-width="1"/>
<line x1="35.9" y1="280" x2="35.9" y2="507.3" stroke="#3a3a3a" stroke-width="1.2"/>
<line x1="35.3" y1="507.3" x2="332.7" y2="507.3" stroke="#3a3a3a" stroke-width="1.2"/>
<line x1="32.3" y1="507.3" x2="35.9" y2="507.3" stroke="#3a3a3a" stroke-width="1.1"/>
<text transform="translate(28.4,510.3) scale(0.86,1)" text-anchor="end" font-size="9.9" fill="#222">0</text>
<line x1="33.9" y1="491.1" x2="35.9" y2="491.1" stroke="#3a3a3a" stroke-width="1.1"/>
<line x1="32.3" y1="474.9" x2="35.9" y2="474.9" stroke="#3a3a3a" stroke-width="1.1"/>
<text transform="translate(28.4,477.9) scale(0.86,1)" text-anchor="end" font-size="9.9" fill="#222">10</text>
<line x1="33.9" y1="458.7" x2="35.9" y2="458.7" stroke="#3a3a3a" stroke-width="1.1"/>
<line x1="32.3" y1="442.5" x2="35.9" y2="442.5" stroke="#3a3a3a" stroke-width="1.1"/>
<text transform="translate(28.4,445.5) scale(0.86,1)" text-anchor="end" font-size="9.9" fill="#222">20</text>
<line x1="33.9" y1="426.3" x2="35.9" y2="426.3" stroke="#3a3a3a" stroke-width="1.1"/>
<line x1="32.3" y1="410.1" x2="35.9" y2="410.1" stroke="#3a3a3a" stroke-width="1.1"/>
<text transform="translate(28.4,413.1) scale(0.86,1)" text-anchor="end" font-size="9.9" fill="#222">30</text>
<line x1="33.9" y1="393.9" x2="35.9" y2="393.9" stroke="#3a3a3a" stroke-width="1.1"/>
<line x1="32.3" y1="377.7" x2="35.9" y2="377.7" stroke="#3a3a3a" stroke-width="1.1"/>
<text transform="translate(28.4,380.7) scale(0.86,1)" text-anchor="end" font-size="9.9" fill="#222">40</text>
<line x1="33.9" y1="361.5" x2="35.9" y2="361.5" stroke="#3a3a3a" stroke-width="1.1"/>
<line x1="32.3" y1="345.3" x2="35.9" y2="345.3" stroke="#3a3a3a" stroke-width="1.1"/>
<text transform="translate(28.4,348.3) scale(0.86,1)" text-anchor="end" font-size="9.9" fill="#222">50</text>
<line x1="33.9" y1="329.1" x2="35.9" y2="329.1" stroke="#3a3a3a" stroke-width="1.1"/>
<line x1="32.3" y1="312.9" x2="35.9" y2="312.9" stroke="#3a3a3a" stroke-width="1.1"/>
<text transform="translate(28.4,315.9) scale(0.86,1)" text-anchor="end" font-size="9.9" fill="#222">60</text>
<line x1="33.9" y1="296.7" x2="35.9" y2="296.7" stroke="#3a3a3a" stroke-width="1.1"/>
<line x1="32.3" y1="280.5" x2="35.9" y2="280.5" stroke="#3a3a3a" stroke-width="1.1"/>
<text transform="translate(28.4,283.5) scale(0.86,1)" text-anchor="end" font-size="9.9" fill="#222">70</text>
<line x1="57.3" y1="507.3" x2="57.3" y2="511.5" stroke="#3a3a3a" stroke-width="1.1"/>
<text x="57.3" y="522" text-anchor="middle" font-size="9.2" fill="#222">Core</text>
<line x1="99.5" y1="507.3" x2="99.5" y2="511.5" stroke="#3a3a3a" stroke-width="1.1"/>
<text x="99.5" y="522" text-anchor="middle" font-size="9.2" fill="#222">JSMS</text>
<line x1="141.7" y1="507.3" x2="141.7" y2="511.5" stroke="#3a3a3a" stroke-width="1.1"/>
<text x="141.7" y="522" text-anchor="middle" font-size="9.2" fill="#222">AIJ</text>
<line x1="183.9" y1="507.3" x2="183.9" y2="511.5" stroke="#3a3a3a" stroke-width="1.1"/>
<text x="183.9" y="522" text-anchor="middle" font-size="9.2" fill="#222">US Army</text>
<line x1="226.1" y1="507.3" x2="226.1" y2="511.5" stroke="#3a3a3a" stroke-width="1.1"/>
<text x="226.1" y="522" text-anchor="middle" font-size="9.2" fill="#222">KMST</text>
<line x1="268.3" y1="507.3" x2="268.3" y2="511.5" stroke="#3a3a3a" stroke-width="1.1"/>
<text x="268.3" y="522" text-anchor="middle" font-size="9.2" fill="#222">JSMS</text>
<line x1="310.5" y1="507.3" x2="310.5" y2="511.5" stroke="#3a3a3a" stroke-width="1.1"/>
<text x="310.5" y="522" text-anchor="middle" font-size="9.2" fill="#222">AIJ</text>
<text transform="translate(8.7,393.9) rotate(-90)" text-anchor="middle" font-size="10.9" fill="#222">Compressive strength (MPa)</text>
<rect x="42.1" y="278.6" width="179.5" height="19.8" fill="#fff" stroke="#111" stroke-width="1.3"/>
<text x="131.25" y="292.8" text-anchor="middle" font-size="13.6" fill="#111">Seoul Station Overpass, slab</text>
<text x="77.7" y="310.7" font-size="12.5" fill="#111">RHT</text>
<text x="251.5" y="311" font-size="12.5" fill="#111">UPVT</text>
<line x1="423.1" y1="280.5" x2="423.1" y2="507.3" stroke="#111" stroke-width="1.3" stroke-dasharray="4.7 4.75" stroke-dashoffset="4.65"/>
<line x1="596.4" y1="280.5" x2="596.4" y2="507.3" stroke="#111" stroke-width="1.3" stroke-dasharray="4.7 4.75" stroke-dashoffset="4.65"/>
<line x1="397.7" y1="293.46" x2="397.7" y2="412.69" stroke="#6a6a6a" stroke-width="1"/>
<line x1="394.4" y1="293.46" x2="401" y2="293.46" stroke="#6a6a6a" stroke-width="1"/>
<line x1="394.4" y1="412.69" x2="401" y2="412.69" stroke="#6a6a6a" stroke-width="1"/>
<rect x="391.3" y="328.45" width="12.8" height="55.73" fill="#FFCC8F" stroke="#6a6a6a" stroke-width="1"/>
<line x1="391.3" y1="357.61" x2="404.1" y2="357.61" stroke="#5a5040" stroke-width="1"/>
<circle cx="397.7" cy="353.08" r="1.1" fill="none" stroke="#5a5040" stroke-width="0.6" opacity="0.85"/>
<path d="M406.2 410.3h2.9v2.9h-2.9zM406.4 405.9h2.9v2.9h-2.9zM407.3 403.4h2.9v2.9h-2.9zM408.9 396.3h2.9v2.9h-2.9zM406.8 393.1h2.9v2.9h-2.9zM407.2 390.2h2.9v2.9h-2.9zM406.4 387.8h2.9v2.9h-2.9zM411.2 383.8h2.9v2.9h-2.9zM411.3 378h2.9v2.9h-2.9zM407.2 374.6h2.9v2.9h-2.9zM410.5 372.8h2.9v2.9h-2.9zM412.7 367.7h2.9v2.9h-2.9zM406.6 363.7h2.9v2.9h-2.9zM411.6 361.1h2.9v2.9h-2.9zM407.4 357.9h2.9v2.9h-2.9zM406.6 354.3h2.9v2.9h-2.9zM413.3 348.6h2.9v2.9h-2.9zM408.4 346.3h2.9v2.9h-2.9zM410.5 341h2.9v2.9h-2.9zM412.4 337.2h2.9v2.9h-2.9zM408.9 334.7h2.9v2.9h-2.9zM408.8 330.5h2.9v2.9h-2.9zM407.8 328.3h2.9v2.9h-2.9zM406.1 320.9h2.9v2.9h-2.9zM409.1 319.8h2.9v2.9h-2.9zM408.1 314h2.9v2.9h-2.9zM407 308.5h2.9v2.9h-2.9zM406.5 301.4h2.9v2.9h-2.9zM406.6 299.4h2.9v2.9h-2.9zM406.8 293.7h2.9v2.9h-2.9z" fill="#4a4a4a"/>
<path d="M406.8 442.8L406.9 440.2L407 437.6L407.1 435L407.3 432.4L407.4 429.8L407.6 427.2L407.8 424.6L408.1 422L408.3 419.4L408.6 416.9L408.9 414.3L409.2 411.7L409.6 409.1L409.9 406.5L410.3 403.9L410.7 401.3L411.2 398.7L411.6 396.1L412.1 393.5L412.5 390.9L413 388.3L413.4 385.7L413.8 383.1L414.3 380.5L414.7 377.9L415 375.3L415.4 372.7L415.7 370.1L415.9 367.5L416.1 364.9L416.3 362.3L416.4 359.7L416.5 357.1L416.5 354.5L416.5 351.9L416.4 349.3L416.2 346.7L416 344.1L415.8 341.5L415.5 338.9L415.1 336.3L414.8 333.7L414.4 331.1L414 328.5L413.6 325.9L413.1 323.3L412.7 320.7L412.2 318.1L411.8 315.6L411.3 313L410.9 310.4L410.5 307.8L410.1 305.2L409.7 302.6L409.4 300L409 297.4L408.7 294.8L408.4 292.2L408.2 289.6L407.9 287" fill="none" stroke="#404040" stroke-width="1"/>
<line x1="440" y1="380.62" x2="440" y2="431.48" stroke="#E55A5A" stroke-width="1"/>
<line x1="436.7" y1="380.62" x2="443.3" y2="380.62" stroke="#E55A5A" stroke-width="1"/>
<line x1="436.7" y1="431.48" x2="443.3" y2="431.48" stroke="#E55A5A" stroke-width="1"/>
<rect x="433.6" y="399.08" width="12.8" height="16.2" fill="#9DD79A" stroke="#E55A5A" stroke-width="1"/>
<line x1="433.6" y1="405.24" x2="446.4" y2="405.24" stroke="#DE6055" stroke-width="1"/>
<rect x="439" y="406.34" width="2" height="2" fill="#DE6055" opacity="0.7"/>
<path d="M450.7 431a1.6 1.6 0 1 0 3.1 0a1.6 1.6 0 1 0 -3.1 0M450 429.6a1.6 1.6 0 1 0 3.1 0a1.6 1.6 0 1 0 -3.1 0M448.4 427.3a1.6 1.6 0 1 0 3.1 0a1.6 1.6 0 1 0 -3.1 0M448.9 427.1a1.6 1.6 0 1 0 3.1 0a1.6 1.6 0 1 0 -3.1 0M450.2 424.6a1.6 1.6 0 1 0 3.1 0a1.6 1.6 0 1 0 -3.1 0M449.2 423.9a1.6 1.6 0 1 0 3.1 0a1.6 1.6 0 1 0 -3.1 0M450 422.6a1.6 1.6 0 1 0 3.1 0a1.6 1.6 0 1 0 -3.1 0M451.4 421.3a1.6 1.6 0 1 0 3.1 0a1.6 1.6 0 1 0 -3.1 0M453.7 418.7a1.6 1.6 0 1 0 3.1 0a1.6 1.6 0 1 0 -3.1 0M454.3 417.5a1.6 1.6 0 1 0 3.1 0a1.6 1.6 0 1 0 -3.1 0M450 417.1a1.6 1.6 0 1 0 3.1 0a1.6 1.6 0 1 0 -3.1 0M453.9 414.6a1.6 1.6 0 1 0 3.1 0a1.6 1.6 0 1 0 -3.1 0M455.3 414.2a1.6 1.6 0 1 0 3.1 0a1.6 1.6 0 1 0 -3.1 0M454.6 413.2a1.6 1.6 0 1 0 3.1 0a1.6 1.6 0 1 0 -3.1 0M449.6 412.6a1.6 1.6 0 1 0 3.1 0a1.6 1.6 0 1 0 -3.1 0M449.2 411.5a1.6 1.6 0 1 0 3.1 0a1.6 1.6 0 1 0 -3.1 0M456.3 410.7a1.6 1.6 0 1 0 3.1 0a1.6 1.6 0 1 0 -3.1 0M448.1 409.9a1.6 1.6 0 1 0 3.1 0a1.6 1.6 0 1 0 -3.1 0M449.5 409.2a1.6 1.6 0 1 0 3.1 0a1.6 1.6 0 1 0 -3.1 0M451.2 407.7a1.6 1.6 0 1 0 3.1 0a1.6 1.6 0 1 0 -3.1 0M448.9 407.2a1.6 1.6 0 1 0 3.1 0a1.6 1.6 0 1 0 -3.1 0M451.7 405.7a1.6 1.6 0 1 0 3.1 0a1.6 1.6 0 1 0 -3.1 0M448.6 405.5a1.6 1.6 0 1 0 3.1 0a1.6 1.6 0 1 0 -3.1 0M449.5 404.9a1.6 1.6 0 1 0 3.1 0a1.6 1.6 0 1 0 -3.1 0M449.3 404a1.6 1.6 0 1 0 3.1 0a1.6 1.6 0 1 0 -3.1 0M452.1 403.8a1.6 1.6 0 1 0 3.1 0a1.6 1.6 0 1 0 -3.1 0M456.2 403.2a1.6 1.6 0 1 0 3.1 0a1.6 1.6 0 1 0 -3.1 0M452.3 402.7a1.6 1.6 0 1 0 3.1 0a1.6 1.6 0 1 0 -3.1 0M451.2 401.8a1.6 1.6 0 1 0 3.1 0a1.6 1.6 0 1 0 -3.1 0M451.7 401.1a1.6 1.6 0 1 0 3.1 0a1.6 1.6 0 1 0 -3.1 0M451.2 401a1.6 1.6 0 1 0 3.1 0a1.6 1.6 0 1 0 -3.1 0M451.2 400.6a1.6 1.6 0 1 0 3.1 0a1.6 1.6 0 1 0 -3.1 0M454.4 399.9a1.6 1.6 0 1 0 3.1 0a1.6 1.6 0 1 0 -3.1 0M451.4 399a1.6 1.6 0 1 0 3.1 0a1.6 1.6 0 1 0 -3.1 0M449.7 398.6a1.6 1.6 0 1 0 3.1 0a1.6 1.6 0 1 0 -3.1 0M449.3 396.6a1.6 1.6 0 1 0 3.1 0a1.6 1.6 0 1 0 -3.1 0M452.5 395a1.6 1.6 0 1 0 3.1 0a1.6 1.6 0 1 0 -3.1 0M448.3 393.5a1.6 1.6 0 1 0 3.1 0a1.6 1.6 0 1 0 -3.1 0M450 390.6a1.6 1.6 0 1 0 3.1 0a1.6 1.6 0 1 0 -3.1 0M449.5 388.8a1.6 1.6 0 1 0 3.1 0a1.6 1.6 0 1 0 -3.1 0M450.3 387.3a1.6 1.6 0 1 0 3.1 0a1.6 1.6 0 1 0 -3.1 0M450.7 385.9a1.6 1.6 0 1 0 3.1 0a1.6 1.6 0 1 0 -3.1 0M448.4 384.7a1.6 1.6 0 1 0 3.1 0a1.6 1.6 0 1 0 -3.1 0M451.1 383.6a1.6 1.6 0 1 0 3.1 0a1.6 1.6 0 1 0 -3.1 0M451.3 380.8a1.6 1.6 0 1 0 3.1 0a1.6 1.6 0 1 0 -3.1 0" fill="none" stroke="#EE7777" stroke-width="0.7"/>
<path d="M448.9 442.8L449 441.6L449.1 440.3L449.2 439L449.4 437.8L449.6 436.5L449.8 435.2L450 434L450.3 432.7L450.7 431.5L451 430.2L451.4 428.9L451.9 427.7L452.4 426.4L452.9 425.1L453.5 423.9L454.1 422.6L454.7 421.3L455.3 420.1L455.9 418.8L456.4 417.6L457 416.3L457.5 415L457.9 413.8L458.3 412.5L458.6 411.2L458.8 410L458.9 408.7L458.9 407.4L458.8 406.2L458.6 404.9L458.4 403.7L458.1 402.4L457.6 401.1L457.2 399.9L456.7 398.6L456.1 397.3L455.5 396.1L454.9 394.8L454.3 393.5L453.7 392.3L453.1 391L452.6 389.8L452.1 388.5L451.6 387.2L451.2 386L450.8 384.7L450.4 383.4L450.1 382.2L449.9 380.9L449.6 379.6L449.4 378.4L449.3 377.1L449.1 375.9L449 374.6L448.9 373.3L448.9 372.1L448.8 370.8L448.7 369.5L448.7 368.3L448.7 367" fill="none" stroke="#E54F4F" stroke-width="1"/>
<line x1="482.3" y1="394.87" x2="482.3" y2="423.71" stroke="#3F78D8" stroke-width="1"/>
<line x1="479" y1="394.87" x2="485.6" y2="394.87" stroke="#3F78D8" stroke-width="1"/>
<line x1="479" y1="423.71" x2="485.6" y2="423.71" stroke="#3F78D8" stroke-width="1"/>
<rect x="475.9" y="405.56" width="12.8" height="9.07" fill="#C9B6DC" stroke="#3F78D8" stroke-width="1"/>
<line x1="475.9" y1="407.83" x2="488.7" y2="407.83" stroke="#3F78D8" stroke-width="1"/>
<circle cx="482.3" cy="408.8" r="1.1" fill="none" stroke="#3F78D8" stroke-width="0.6" opacity="0.85"/>
<path d="M494.2 421.9l1.6 2.8h-3.1zM494.1 420.5l1.6 2.8h-3.1zM493.7 419.6l1.6 2.8h-3.1zM494.3 418.8l1.6 2.8h-3.1zM495.1 418.3l1.6 2.8h-3.1zM492.2 416.8l1.6 2.8h-3.1zM495.9 415.8l1.6 2.8h-3.1zM492.1 415.2l1.6 2.8h-3.1zM492.6 414.1l1.6 2.8h-3.1zM496.1 413.1l1.6 2.8h-3.1zM493 413l1.6 2.8h-3.1zM495.9 412l1.6 2.8h-3.1zM498.9 411.2l1.6 2.8h-3.1zM491.9 410.9l1.6 2.8h-3.1zM492 409.7l1.6 2.8h-3.1zM492.9 409.1l1.6 2.8h-3.1zM498.7 408.5l1.6 2.8h-3.1zM496.7 407.7l1.6 2.8h-3.1zM493.7 407l1.6 2.8h-3.1zM494.8 406.5l1.6 2.8h-3.1zM498.6 406.1l1.6 2.8h-3.1zM496.4 405.9l1.6 2.8h-3.1zM492.2 405.8l1.6 2.8h-3.1zM496.1 405.5l1.6 2.8h-3.1zM497 405.2l1.6 2.8h-3.1zM494.9 405.1l1.6 2.8h-3.1zM496.2 404.7l1.6 2.8h-3.1zM498.8 404.7l1.6 2.8h-3.1zM492.6 404.3l1.6 2.8h-3.1zM494.9 404.1l1.6 2.8h-3.1zM494.2 403.2l1.6 2.8h-3.1zM495.4 402.7l1.6 2.8h-3.1zM492.5 400.8l1.6 2.8h-3.1zM495.5 400.7l1.6 2.8h-3.1zM494.1 398.8l1.6 2.8h-3.1zM495.2 398.2l1.6 2.8h-3.1zM492.1 396.8l1.6 2.8h-3.1zM492.6 395.6l1.6 2.8h-3.1zM494.8 395.1l1.6 2.8h-3.1zM494.7 393.9l1.6 2.8h-3.1z" fill="none" stroke="#5A8DE0" stroke-width="0.7"/>
<path d="M491 431.5L491.1 430.7L491.1 430L491.2 429.2L491.3 428.5L491.4 427.8L491.5 427L491.6 426.3L491.8 425.5L492 424.8L492.3 424L492.6 423.3L492.9 422.5L493.3 421.8L493.7 421.1L494.2 420.3L494.7 419.6L495.2 418.8L495.8 418.1L496.4 417.3L497 416.6L497.6 415.8L498.2 415.1L498.8 414.3L499.3 413.6L499.8 412.9L500.3 412.1L500.6 411.4L500.9 410.6L501.1 409.9L501.2 409.1L501.2 408.4L501.1 407.6L500.9 406.9L500.6 406.1L500.2 405.4L499.8 404.7L499.3 403.9L498.7 403.2L498.1 402.4L497.5 401.7L496.9 400.9L496.3 400.2L495.7 399.4L495.1 398.7L494.6 397.9L494.1 397.2L493.6 396.5L493.2 395.7L492.8 395L492.5 394.2L492.2 393.5L492 392.7L491.8 392L491.6 391.2L491.5 390.5L491.3 389.8L491.2 389L491.2 388.3L491.1 387.5L491.1 386.8" fill="none" stroke="#2F6AD6" stroke-width="1"/>
<line x1="524.6" y1="358.26" x2="524.6" y2="428.24" stroke="#3FAA6A" stroke-width="1"/>
<line x1="521.3" y1="358.26" x2="527.9" y2="358.26" stroke="#3FAA6A" stroke-width="1"/>
<line x1="521.3" y1="428.24" x2="527.9" y2="428.24" stroke="#3FAA6A" stroke-width="1"/>
<rect x="518.2" y="384.83" width="12.8" height="22.36" fill="#FFFF9E" stroke="#3FAA6A" stroke-width="1"/>
<line x1="518.2" y1="393.25" x2="531" y2="393.25" stroke="#3FAA6A" stroke-width="1"/>
<circle cx="524.6" cy="394.87" r="1.1" fill="none" stroke="#3FAA6A" stroke-width="0.6" opacity="0.85"/>
<path d="M537.3 429.5l1.6 -2.8h-3.1zM534.7 428l1.6 -2.8h-3.1zM535.4 426l1.6 -2.8h-3.1zM537.4 424.4l1.6 -2.8h-3.1zM534.2 422.6l1.6 -2.8h-3.1zM536.1 421.7l1.6 -2.8h-3.1zM536.7 419.9l1.6 -2.8h-3.1zM534.5 418.3l1.6 -2.8h-3.1zM537.7 417.2l1.6 -2.8h-3.1zM537.8 415.5l1.6 -2.8h-3.1zM537.7 413l1.6 -2.8h-3.1zM537.8 411.9l1.6 -2.8h-3.1zM539.9 410.9l1.6 -2.8h-3.1zM540.4 409.2l1.6 -2.8h-3.1zM540.3 408.2l1.6 -2.8h-3.1zM538.8 406.7l1.6 -2.8h-3.1zM535.3 406l1.6 -2.8h-3.1zM537.1 404.7l1.6 -2.8h-3.1zM535.3 403.8l1.6 -2.8h-3.1zM535.4 403.3l1.6 -2.8h-3.1zM535.7 401.6l1.6 -2.8h-3.1zM537.4 400.5l1.6 -2.8h-3.1zM537.3 399.8l1.6 -2.8h-3.1zM535 398.7l1.6 -2.8h-3.1zM542.6 397.9l1.6 -2.8h-3.1zM540.1 397.2l1.6 -2.8h-3.1zM536.9 396l1.6 -2.8h-3.1zM534.4 395.3l1.6 -2.8h-3.1zM541.6 393.9l1.6 -2.8h-3.1zM541.3 393.4l1.6 -2.8h-3.1zM535.6 392.7l1.6 -2.8h-3.1zM538.5 392.3l1.6 -2.8h-3.1zM542.3 391.7l1.6 -2.8h-3.1zM542.5 391l1.6 -2.8h-3.1zM539.7 390.7l1.6 -2.8h-3.1zM540.4 389.8l1.6 -2.8h-3.1zM541 389.2l1.6 -2.8h-3.1zM541.7 388.8l1.6 -2.8h-3.1zM539 388.1l1.6 -2.8h-3.1zM539.6 387.2l1.6 -2.8h-3.1zM536 387l1.6 -2.8h-3.1zM538.9 386.2l1.6 -2.8h-3.1zM540.1 383l1.6 -2.8h-3.1zM536.7 382.2l1.6 -2.8h-3.1zM535.7 379.5l1.6 -2.8h-3.1zM534.3 378.3l1.6 -2.8h-3.1zM536.6 376.8l1.6 -2.8h-3.1zM536.4 373.9l1.6 -2.8h-3.1zM537.5 372.6l1.6 -2.8h-3.1zM534.7 370.2l1.6 -2.8h-3.1zM537.6 369.3l1.6 -2.8h-3.1zM537.4 365.6l1.6 -2.8h-3.1zM535.3 364.4l1.6 -2.8h-3.1zM535.1 363.5l1.6 -2.8h-3.1zM537.4 361.3l1.6 -2.8h-3.1z" fill="none" stroke="#4FB578" stroke-width="0.7"/>
<path d="M533.5 442.8L533.6 441.1L533.7 439.4L533.8 437.7L534 436L534.1 434.3L534.4 432.6L534.6 430.9L534.9 429.2L535.2 427.5L535.6 425.8L536 424.1L536.4 422.3L536.9 420.6L537.5 418.9L538 417.2L538.6 415.5L539.2 413.8L539.8 412.1L540.4 410.4L541 408.7L541.6 407L542.1 405.3L542.5 403.6L542.9 401.9L543.3 400.2L543.5 398.5L543.6 396.8L543.7 395L543.7 393.3L543.5 391.6L543.3 389.9L543 388.2L542.6 386.5L542.2 384.8L541.7 383.1L541.1 381.4L540.5 379.7L539.9 378L539.3 376.3L538.7 374.6L538.1 372.9L537.6 371.2L537 369.4L536.5 367.7L536.1 366L535.7 364.3L535.3 362.6L535 360.9L534.7 359.2L534.4 357.5L534.2 355.8L534 354.1L533.8 352.4L533.7 350.7L533.6 349L533.5 347.3L533.4 345.6L533.4 343.9L533.3 342.1L533.3 340.4" fill="none" stroke="#30A060" stroke-width="1"/>
<line x1="566.9" y1="334.61" x2="566.9" y2="421.12" stroke="#B07CE0" stroke-width="1"/>
<line x1="563.6" y1="334.61" x2="570.2" y2="334.61" stroke="#B07CE0" stroke-width="1"/>
<line x1="563.6" y1="421.12" x2="570.2" y2="421.12" stroke="#B07CE0" stroke-width="1"/>
<rect x="560.5" y="365.71" width="12.8" height="27.54" fill="#9EBEF5" stroke="#B07CE0" stroke-width="1"/>
<line x1="560.5" y1="376.4" x2="573.3" y2="376.4" stroke="#B07CE0" stroke-width="1"/>
<circle cx="566.9" cy="377.7" r="1.1" fill="none" stroke="#B07CE0" stroke-width="0.6" opacity="0.85"/>
<path d="M579.2 417.9l1.6 1.6l-1.6 1.6l-1.6 -1.6zM579.2 417.9v3.1M577.7 419.5h3.1M577.3 417.4l1.6 1.6l-1.6 1.6l-1.6 -1.6zM577.3 417.4v3.1M575.8 419h3.1M579.8 415.3l1.6 1.6l-1.6 1.6l-1.6 -1.6zM579.8 415.3v3.1M578.3 416.8h3.1M579.3 413.7l1.6 1.6l-1.6 1.6l-1.6 -1.6zM579.3 413.7v3.1M577.7 415.2h3.1M578.4 410.9l1.6 1.6l-1.6 1.6l-1.6 -1.6zM578.4 410.9v3.1M576.9 412.4h3.1M577.4 408.5l1.6 1.6l-1.6 1.6l-1.6 -1.6zM577.4 408.5v3.1M575.9 410h3.1M577.1 407.4l1.6 1.6l-1.6 1.6l-1.6 -1.6zM577.1 407.4v3.1M575.5 409h3.1M576.6 406.4l1.6 1.6l-1.6 1.6l-1.6 -1.6zM576.6 406.4v3.1M575.1 407.9h3.1M576.9 404.1l1.6 1.6l-1.6 1.6l-1.6 -1.6zM576.9 404.1v3.1M575.4 405.7h3.1M580.4 402.7l1.6 1.6l-1.6 1.6l-1.6 -1.6zM580.4 402.7v3.1M578.8 404.3h3.1M580.5 400.5l1.6 1.6l-1.6 1.6l-1.6 -1.6zM580.5 400.5v3.1M579 402h3.1M580.3 397.8l1.6 1.6l-1.6 1.6l-1.6 -1.6zM580.3 397.8v3.1M578.7 399.4h3.1M581.9 396.1l1.6 1.6l-1.6 1.6l-1.6 -1.6zM581.9 396.1v3.1M580.3 397.6h3.1M581 393.8l1.6 1.6l-1.6 1.6l-1.6 -1.6zM581 393.8v3.1M579.4 395.3h3.1M581 392.5l1.6 1.6l-1.6 1.6l-1.6 -1.6zM581 392.5v3.1M579.5 394.1h3.1M580.3 390.9l1.6 1.6l-1.6 1.6l-1.6 -1.6zM580.3 390.9v3.1M578.8 392.4h3.1M577.6 390l1.6 1.6l-1.6 1.6l-1.6 -1.6zM577.6 390v3.1M576 391.6h3.1M580.1 388.5l1.6 1.6l-1.6 1.6l-1.6 -1.6zM580.1 388.5v3.1M578.5 390.1h3.1M577.8 388.3l1.6 1.6l-1.6 1.6l-1.6 -1.6zM577.8 388.3v3.1M576.2 389.8h3.1M578.5 386.2l1.6 1.6l-1.6 1.6l-1.6 -1.6zM578.5 386.2v3.1M577 387.8h3.1M581.9 385.6l1.6 1.6l-1.6 1.6l-1.6 -1.6zM581.9 385.6v3.1M580.4 387.2h3.1M579.2 384l1.6 1.6l-1.6 1.6l-1.6 -1.6zM579.2 384v3.1M577.6 385.5h3.1M580 383.4l1.6 1.6l-1.6 1.6l-1.6 -1.6zM580 383.4v3.1M578.5 385h3.1M583.9 382.7l1.6 1.6l-1.6 1.6l-1.6 -1.6zM583.9 382.7v3.1M582.3 384.2h3.1M584.7 381.6l1.6 1.6l-1.6 1.6l-1.6 -1.6zM584.7 381.6v3.1M583.1 383.1h3.1M577.9 380.3l1.6 1.6l-1.6 1.6l-1.6 -1.6zM577.9 380.3v3.1M576.3 381.8h3.1M583.7 378.4l1.6 1.6l-1.6 1.6l-1.6 -1.6zM583.7 378.4v3.1M582.1 379.9h3.1M581.3 378l1.6 1.6l-1.6 1.6l-1.6 -1.6zM581.3 378v3.1M579.8 379.5h3.1M582.8 376.6l1.6 1.6l-1.6 1.6l-1.6 -1.6zM582.8 376.6v3.1M581.3 378.1h3.1M583.8 375.8l1.6 1.6l-1.6 1.6l-1.6 -1.6zM583.8 375.8v3.1M582.2 377.3h3.1M582.7 374.1l1.6 1.6l-1.6 1.6l-1.6 -1.6zM582.7 374.1v3.1M581.1 375.7h3.1M584.7 373.5l1.6 1.6l-1.6 1.6l-1.6 -1.6zM584.7 373.5v3.1M583.1 375h3.1M583.9 373.2l1.6 1.6l-1.6 1.6l-1.6 -1.6zM583.9 373.2v3.1M582.3 374.7h3.1M581.6 372.1l1.6 1.6l-1.6 1.6l-1.6 -1.6zM581.6 372.1v3.1M580 373.7h3.1M581.8 371.9l1.6 1.6l-1.6 1.6l-1.6 -1.6zM581.8 371.9v3.1M580.3 373.5h3.1M579.1 370.6l1.6 1.6l-1.6 1.6l-1.6 -1.6zM579.1 370.6v3.1M577.5 372.2h3.1M584.1 370.1l1.6 1.6l-1.6 1.6l-1.6 -1.6zM584.1 370.1v3.1M582.5 371.7h3.1M576.8 369.4l1.6 1.6l-1.6 1.6l-1.6 -1.6zM576.8 369.4v3.1M575.3 371h3.1M578.6 368.7l1.6 1.6l-1.6 1.6l-1.6 -1.6zM578.6 368.7v3.1M577.1 370.3h3.1M581.9 367.8l1.6 1.6l-1.6 1.6l-1.6 -1.6zM581.9 367.8v3.1M580.3 369.4h3.1M583.8 367.5l1.6 1.6l-1.6 1.6l-1.6 -1.6zM583.8 367.5v3.1M582.2 369.1h3.1M579.2 366.6l1.6 1.6l-1.6 1.6l-1.6 -1.6zM579.2 366.6v3.1M577.6 368.1h3.1M583.5 365.7l1.6 1.6l-1.6 1.6l-1.6 -1.6zM583.5 365.7v3.1M581.9 367.3h3.1M583.3 365l1.6 1.6l-1.6 1.6l-1.6 -1.6zM583.3 365v3.1M581.7 366.5h3.1M581.8 364.4l1.6 1.6l-1.6 1.6l-1.6 -1.6zM581.8 364.4v3.1M580.2 366h3.1M580.3 362.9l1.6 1.6l-1.6 1.6l-1.6 -1.6zM580.3 362.9v3.1M578.8 364.5h3.1M578.8 360l1.6 1.6l-1.6 1.6l-1.6 -1.6zM578.8 360v3.1M577.3 361.6h3.1M581.2 359.8l1.6 1.6l-1.6 1.6l-1.6 -1.6zM581.2 359.8v3.1M579.6 361.4h3.1M579.7 356.9l1.6 1.6l-1.6 1.6l-1.6 -1.6zM579.7 356.9v3.1M578.1 358.5h3.1M577.8 354.6l1.6 1.6l-1.6 1.6l-1.6 -1.6zM577.8 354.6v3.1M576.3 356.2h3.1M576.8 353.4l1.6 1.6l-1.6 1.6l-1.6 -1.6zM576.8 353.4v3.1M575.3 354.9h3.1M580.2 350.1l1.6 1.6l-1.6 1.6l-1.6 -1.6zM580.2 350.1v3.1M578.6 351.6h3.1M576.9 348.2l1.6 1.6l-1.6 1.6l-1.6 -1.6zM576.9 348.2v3.1M575.4 349.8h3.1M579.4 345.5l1.6 1.6l-1.6 1.6l-1.6 -1.6zM579.4 345.5v3.1M577.8 347.1h3.1M576.5 344.4l1.6 1.6l-1.6 1.6l-1.6 -1.6zM576.5 344.4v3.1M575 346h3.1M578.7 341.7l1.6 1.6l-1.6 1.6l-1.6 -1.6zM578.7 341.7v3.1M577.1 343.2h3.1M576.6 340.1l1.6 1.6l-1.6 1.6l-1.6 -1.6zM576.6 340.1v3.1M575 341.6h3.1M576.6 337.8l1.6 1.6l-1.6 1.6l-1.6 -1.6zM576.6 337.8v3.1M575.1 339.3h3.1M577 336.2l1.6 1.6l-1.6 1.6l-1.6 -1.6zM577 336.2v3.1M575.5 337.8h3.1M579.6 334.4l1.6 1.6l-1.6 1.6l-1.6 -1.6zM579.6 334.4v3.1M578.1 335.9h3.1" fill="none" stroke="#BE8EE6" stroke-width="0.7"/>
<path d="M575.7 442.8L575.7 440.6L575.8 438.4L575.9 436.2L576 434L576.1 431.8L576.2 429.6L576.4 427.4L576.6 425.2L576.9 423L577.2 420.8L577.5 418.6L577.9 416.5L578.3 414.3L578.8 412.1L579.3 409.9L579.8 407.7L580.4 405.5L580.9 403.3L581.5 401.1L582.2 398.9L582.8 396.7L583.3 394.5L583.9 392.3L584.4 390.1L584.8 387.9L585.2 385.7L585.5 383.5L585.7 381.3L585.8 379.1L585.8 376.9L585.7 374.7L585.5 372.5L585.3 370.3L584.9 368.1L584.5 365.9L584 363.7L583.5 361.5L582.9 359.3L582.3 357.1L581.7 354.9L581.1 352.7L580.5 350.5L579.9 348.3L579.4 346.1L578.9 343.9L578.4 341.7L578 339.5L577.6 337.3L577.3 335.1L577 332.9L576.7 330.7L576.5 328.5L576.3 326.3L576.1 324.1L576 321.9L575.9 319.7L575.8 317.5L575.7 315.4L575.7 313.2L575.6 311" fill="none" stroke="#A970DE" stroke-width="1"/>
<line x1="609.2" y1="378.35" x2="609.2" y2="404.59" stroke="#D9A52A" stroke-width="1"/>
<line x1="605.9" y1="378.35" x2="612.5" y2="378.35" stroke="#D9A52A" stroke-width="1"/>
<line x1="605.9" y1="404.59" x2="612.5" y2="404.59" stroke="#D9A52A" stroke-width="1"/>
<rect x="602.8" y="388.39" width="12.8" height="9.72" fill="#FAB4FA" stroke="#D9A52A" stroke-width="1"/>
<line x1="602.8" y1="394.22" x2="615.6" y2="394.22" stroke="#D9A52A" stroke-width="1"/>
<circle cx="609.2" cy="392.6" r="1.1" fill="none" stroke="#D9A52A" stroke-width="0.6" opacity="0.85"/>
<path d="M620.4 402.9l2.5 2.5M620.4 405.4l2.5 -2.5M621.7 402.6v3.1M618.9 402.6l2.5 2.5M618.9 405.1l2.5 -2.5M620.2 402.3v3.1M617.7 401.9l2.5 2.5M617.7 404.3l2.5 -2.5M618.9 401.5v3.1M621 401.4l2.5 2.5M621 403.9l2.5 -2.5M622.2 401.1v3.1M620.6 400.6l2.5 2.5M620.6 403.1l2.5 -2.5M621.8 400.3v3.1M620.1 400.3l2.5 2.5M620.1 402.8l2.5 -2.5M621.4 400v3.1M620.6 399.4l2.5 2.5M620.6 401.9l2.5 -2.5M621.9 399.1v3.1M618.4 399.1l2.5 2.5M618.4 401.5l2.5 -2.5M619.6 398.8v3.1M621.9 398.7l2.5 2.5M621.9 401.2l2.5 -2.5M623.2 398.4v3.1M619.1 397.6l2.5 2.5M619.1 400.1l2.5 -2.5M620.4 397.3v3.1M620 397.2l2.5 2.5M620 399.6l2.5 -2.5M621.3 396.8v3.1M622.9 396.7l2.5 2.5M622.9 399.2l2.5 -2.5M624.2 396.4v3.1M621.6 396.5l2.5 2.5M621.6 399l2.5 -2.5M622.9 396.2v3.1M621 396.2l2.5 2.5M621 398.7l2.5 -2.5M622.3 395.9v3.1M619.4 395.9l2.5 2.5M619.4 398.4l2.5 -2.5M620.6 395.6v3.1M624.1 395.5l2.5 2.5M624.1 398l2.5 -2.5M625.4 395.2v3.1M623.1 395.2l2.5 2.5M623.1 397.7l2.5 -2.5M624.4 394.9v3.1M625 394.9l2.5 2.5M625 397.3l2.5 -2.5M626.2 394.5v3.1M618.3 394.5l2.5 2.5M618.3 397l2.5 -2.5M619.5 394.2v3.1M624.9 394.1l2.5 2.5M624.9 396.6l2.5 -2.5M626.2 393.8v3.1M624.8 393.6l2.5 2.5M624.8 396.1l2.5 -2.5M626 393.3v3.1M618.5 393.3l2.5 2.5M618.5 395.8l2.5 -2.5M619.7 393v3.1M621.3 393l2.5 2.5M621.3 395.5l2.5 -2.5M622.6 392.7v3.1M619 392.2l2.5 2.5M619 394.7l2.5 -2.5M620.2 391.9v3.1M624.7 392.1l2.5 2.5M624.7 394.6l2.5 -2.5M625.9 391.8v3.1M625.8 391.6l2.5 2.5M625.8 394.1l2.5 -2.5M627.1 391.3v3.1M622.4 391l2.5 2.5M622.4 393.5l2.5 -2.5M623.6 390.7v3.1M625.2 390.3l2.5 2.5M625.2 392.8l2.5 -2.5M626.4 390v3.1M624.6 390.1l2.5 2.5M624.6 392.6l2.5 -2.5M625.9 389.8v3.1M623.5 389.5l2.5 2.5M623.5 392l2.5 -2.5M624.7 389.2v3.1M623.8 389.1l2.5 2.5M623.8 391.6l2.5 -2.5M625 388.8v3.1M619.2 388.5l2.5 2.5M619.2 391l2.5 -2.5M620.4 388.2v3.1M620 388l2.5 2.5M620 390.5l2.5 -2.5M621.3 387.7v3.1M624.7 387.4l2.5 2.5M624.7 389.9l2.5 -2.5M625.9 387.1v3.1M620 386.4l2.5 2.5M620 388.9l2.5 -2.5M621.2 386.1v3.1M618.6 385.2l2.5 2.5M618.6 387.6l2.5 -2.5M619.8 384.8v3.1M623 385l2.5 2.5M623 387.4l2.5 -2.5M624.2 384.6v3.1M620.6 383.4l2.5 2.5M620.6 385.9l2.5 -2.5M621.9 383.1v3.1M617.8 382.5l2.5 2.5M617.8 385l2.5 -2.5M619 382.2v3.1M620 381.7l2.5 2.5M620 384.1l2.5 -2.5M621.3 381.3v3.1M620.5 381l2.5 2.5M620.5 383.5l2.5 -2.5M621.8 380.7v3.1M618.3 380.6l2.5 2.5M618.3 383.1l2.5 -2.5M619.5 380.3v3.1M619.2 379.7l2.5 2.5M619.2 382.1l2.5 -2.5M620.5 379.4v3.1M619.5 378.4l2.5 2.5M619.5 380.9l2.5 -2.5M620.7 378.1v3.1M620.2 377.7l2.5 2.5M620.2 380.2l2.5 -2.5M621.4 377.4v3.1" fill="none" stroke="#E0B040" stroke-width="0.55"/>
<path d="M617.9 414.6L618 413.9L618 413.2L618.1 412.5L618.2 411.8L618.3 411.1L618.4 410.4L618.6 409.7L618.8 409L619 408.3L619.2 407.6L619.5 406.9L619.8 406.2L620.1 405.5L620.5 404.8L621 404.1L621.4 403.4L621.9 402.7L622.4 402L623 401.3L623.5 400.6L624.1 399.9L624.7 399.2L625.2 398.5L625.7 397.8L626.2 397.1L626.6 396.4L627 395.7L627.3 395L627.6 394.3L627.7 393.6L627.8 392.9L627.8 392.2L627.7 391.5L627.5 390.8L627.3 390.1L626.9 389.4L626.5 388.7L626.1 388L625.6 387.3L625.1 386.6L624.5 385.9L624 385.2L623.4 384.4L622.8 383.7L622.3 383L621.8 382.3L621.3 381.6L620.9 380.9L620.4 380.2L620.1 379.5L619.7 378.8L619.4 378.1L619.1 377.4L618.9 376.7L618.7 376L618.5 375.3L618.4 374.6L618.3 373.9L618.2 373.2L618.1 372.5" fill="none" stroke="#D4A020" stroke-width="1"/>
<line x1="651.5" y1="356.32" x2="651.5" y2="409.45" stroke="#2EC4C4" stroke-width="1"/>
<line x1="648.2" y1="356.32" x2="654.8" y2="356.32" stroke="#2EC4C4" stroke-width="1"/>
<line x1="648.2" y1="409.45" x2="654.8" y2="409.45" stroke="#2EC4C4" stroke-width="1"/>
<rect x="645.1" y="377.38" width="12.8" height="20.09" fill="#B4B68F" stroke="#2EC4C4" stroke-width="1"/>
<line x1="645.1" y1="390.66" x2="657.9" y2="390.66" stroke="#2EC4C4" stroke-width="1"/>
<circle cx="651.5" cy="387.74" r="1.1" fill="none" stroke="#2EC4C4" stroke-width="0.6" opacity="0.85"/>
<path d="M662.2 408.3l2.8 -1.6v3.1zM660.1 408l2.8 -1.6v3.1zM660.4 406.4l2.8 -1.6v3.1zM660.4 404.6l2.8 -1.6v3.1zM661.3 403.1l2.8 -1.6v3.1zM663.3 402.1l2.8 -1.6v3.1zM660.7 399.9l2.8 -1.6v3.1zM665.7 399.4l2.8 -1.6v3.1zM659.7 398.2l2.8 -1.6v3.1zM665.3 397.1l2.8 -1.6v3.1zM666.4 395.9l2.8 -1.6v3.1zM659.9 395.3l2.8 -1.6v3.1zM665 394.7l2.8 -1.6v3.1zM660.6 393.9l2.8 -1.6v3.1zM663.2 393.1l2.8 -1.6v3.1zM663.2 392.3l2.8 -1.6v3.1zM659.8 391.7l2.8 -1.6v3.1zM665.7 390.2l2.8 -1.6v3.1zM660.5 389.3l2.8 -1.6v3.1zM664.3 387.9l2.8 -1.6v3.1zM663.6 385.5l2.8 -1.6v3.1zM663.9 383.9l2.8 -1.6v3.1zM664.6 383.6l2.8 -1.6v3.1zM664.2 381.4l2.8 -1.6v3.1zM659.7 379.7l2.8 -1.6v3.1zM665.2 378.6l2.8 -1.6v3.1zM659.8 377.5l2.8 -1.6v3.1zM661.2 375.1l2.8 -1.6v3.1zM661.1 372.1l2.8 -1.6v3.1zM660.2 369.2l2.8 -1.6v3.1zM661.9 367.5l2.8 -1.6v3.1zM662.9 364.6l2.8 -1.6v3.1zM660.5 361.3l2.8 -1.6v3.1zM661.4 360.3l2.8 -1.6v3.1zM660.8 357.4l2.8 -1.6v3.1z" fill="none" stroke="#3CC8C8" stroke-width="0.7"/>
<path d="M660.3 432.5L660.3 431L660.4 429.5L660.5 428L660.6 426.5L660.7 425L660.9 423.5L661.1 422L661.3 420.5L661.5 419L661.8 417.6L662.1 416.1L662.5 414.6L662.9 413.1L663.3 411.6L663.8 410.1L664.3 408.6L664.8 407.1L665.4 405.6L666 404.1L666.5 402.6L667.1 401.2L667.6 399.7L668.2 398.2L668.6 396.7L669.1 395.2L669.4 393.7L669.7 392.2L669.9 390.7L670.1 389.2L670.1 387.7L670.1 386.3L669.9 384.8L669.7 383.3L669.4 381.8L669.1 380.3L668.6 378.8L668.2 377.3L667.6 375.8L667.1 374.3L666.5 372.8L666 371.3L665.4 369.9L664.8 368.4L664.3 366.9L663.8 365.4L663.3 363.9L662.9 362.4L662.5 360.9L662.1 359.4L661.8 357.9L661.5 356.4L661.3 355L661.1 353.5L660.9 352L660.7 350.5L660.6 349L660.5 347.5L660.4 346L660.3 344.5L660.3 343" fill="none" stroke="#22C0C0" stroke-width="1"/>
<line x1="384.5" y1="280" x2="384.5" y2="507.3" stroke="#3a3a3a" stroke-width="1.2"/>
<line x1="383.9" y1="507.3" x2="681.4" y2="507.3" stroke="#3a3a3a" stroke-width="1.2"/>
<line x1="380.9" y1="507.3" x2="384.5" y2="507.3" stroke="#3a3a3a" stroke-width="1.1"/>
<text transform="translate(377,510.3) scale(0.86,1)" text-anchor="end" font-size="9.9" fill="#222">0</text>
<line x1="382.5" y1="491.1" x2="384.5" y2="491.1" stroke="#3a3a3a" stroke-width="1.1"/>
<line x1="380.9" y1="474.9" x2="384.5" y2="474.9" stroke="#3a3a3a" stroke-width="1.1"/>
<text transform="translate(377,477.9) scale(0.86,1)" text-anchor="end" font-size="9.9" fill="#222">10</text>
<line x1="382.5" y1="458.7" x2="384.5" y2="458.7" stroke="#3a3a3a" stroke-width="1.1"/>
<line x1="380.9" y1="442.5" x2="384.5" y2="442.5" stroke="#3a3a3a" stroke-width="1.1"/>
<text transform="translate(377,445.5) scale(0.86,1)" text-anchor="end" font-size="9.9" fill="#222">20</text>
<line x1="382.5" y1="426.3" x2="384.5" y2="426.3" stroke="#3a3a3a" stroke-width="1.1"/>
<line x1="380.9" y1="410.1" x2="384.5" y2="410.1" stroke="#3a3a3a" stroke-width="1.1"/>
<text transform="translate(377,413.1) scale(0.86,1)" text-anchor="end" font-size="9.9" fill="#222">30</text>
<line x1="382.5" y1="393.9" x2="384.5" y2="393.9" stroke="#3a3a3a" stroke-width="1.1"/>
<line x1="380.9" y1="377.7" x2="384.5" y2="377.7" stroke="#3a3a3a" stroke-width="1.1"/>
<text transform="translate(377,380.7) scale(0.86,1)" text-anchor="end" font-size="9.9" fill="#222">40</text>
<line x1="382.5" y1="361.5" x2="384.5" y2="361.5" stroke="#3a3a3a" stroke-width="1.1"/>
<line x1="380.9" y1="345.3" x2="384.5" y2="345.3" stroke="#3a3a3a" stroke-width="1.1"/>
<text transform="translate(377,348.3) scale(0.86,1)" text-anchor="end" font-size="9.9" fill="#222">50</text>
<line x1="382.5" y1="329.1" x2="384.5" y2="329.1" stroke="#3a3a3a" stroke-width="1.1"/>
<line x1="380.9" y1="312.9" x2="384.5" y2="312.9" stroke="#3a3a3a" stroke-width="1.1"/>
<text transform="translate(377,315.9) scale(0.86,1)" text-anchor="end" font-size="9.9" fill="#222">60</text>
<line x1="382.5" y1="296.7" x2="384.5" y2="296.7" stroke="#3a3a3a" stroke-width="1.1"/>
<line x1="380.9" y1="280.5" x2="384.5" y2="280.5" stroke="#3a3a3a" stroke-width="1.1"/>
<text transform="translate(377,283.5) scale(0.86,1)" text-anchor="end" font-size="9.9" fill="#222">70</text>
<line x1="406" y1="507.3" x2="406" y2="511.5" stroke="#3a3a3a" stroke-width="1.1"/>
<text x="406" y="522" text-anchor="middle" font-size="9.2" fill="#222">Core</text>
<line x1="448.3" y1="507.3" x2="448.3" y2="511.5" stroke="#3a3a3a" stroke-width="1.1"/>
<text x="448.3" y="522" text-anchor="middle" font-size="9.2" fill="#222">JSMS</text>
<line x1="490.6" y1="507.3" x2="490.6" y2="511.5" stroke="#3a3a3a" stroke-width="1.1"/>
<text x="490.6" y="522" text-anchor="middle" font-size="9.2" fill="#222">AIJ</text>
<line x1="532.9" y1="507.3" x2="532.9" y2="511.5" stroke="#3a3a3a" stroke-width="1.1"/>
<text x="532.9" y="522" text-anchor="middle" font-size="9.2" fill="#222">US Army</text>
<line x1="575.2" y1="507.3" x2="575.2" y2="511.5" stroke="#3a3a3a" stroke-width="1.1"/>
<text x="575.2" y="522" text-anchor="middle" font-size="9.2" fill="#222">KMST</text>
<line x1="617.5" y1="507.3" x2="617.5" y2="511.5" stroke="#3a3a3a" stroke-width="1.1"/>
<text x="617.5" y="522" text-anchor="middle" font-size="9.2" fill="#222">JSMS</text>
<line x1="659.8" y1="507.3" x2="659.8" y2="511.5" stroke="#3a3a3a" stroke-width="1.1"/>
<text x="659.8" y="522" text-anchor="middle" font-size="9.2" fill="#222">AIJ</text>
<text transform="translate(358,393.9) rotate(-90)" text-anchor="middle" font-size="10.9" fill="#222">Compressive strength (MPa)</text>
<rect x="390.8" y="278.6" width="130.6" height="19.8" fill="#fff" stroke="#111" stroke-width="1.3"/>
<text x="455.5" y="292.8" text-anchor="middle" font-size="13.6" fill="#111">Guro Overpass, slab</text>
<text x="425.8" y="310.7" font-size="12.5" fill="#111">RHT</text>
<text x="600.2" y="311" font-size="12.5" fill="#111">UPVT</text>
<line x1="74.4" y1="542.4" x2="74.4" y2="769.1" stroke="#111" stroke-width="1.3" stroke-dasharray="4.7 4.75" stroke-dashoffset="4.65"/>
<line x1="247.6" y1="542.4" x2="247.6" y2="769.1" stroke="#111" stroke-width="1.3" stroke-dasharray="4.7 4.75" stroke-dashoffset="4.65"/>
<line x1="49" y1="543.05" x2="49" y2="660.28" stroke="#6a6a6a" stroke-width="1"/>
<line x1="45.7" y1="543.05" x2="52.3" y2="543.05" stroke="#6a6a6a" stroke-width="1"/>
<line x1="45.7" y1="660.28" x2="52.3" y2="660.28" stroke="#6a6a6a" stroke-width="1"/>
<rect x="42.6" y="575.76" width="12.8" height="34.98" fill="#FFCC8F" stroke="#6a6a6a" stroke-width="1"/>
<line x1="42.6" y1="589.04" x2="55.4" y2="589.04" stroke="#5a5040" stroke-width="1"/>
<circle cx="49" cy="591.95" r="1.1" fill="none" stroke="#5a5040" stroke-width="0.6" opacity="0.85"/>
<path d="M59.7 656.6h2.9v2.9h-2.9zM60.4 652.4h2.9v2.9h-2.9zM60.4 649h2.9v2.9h-2.9zM58.8 647.9h2.9v2.9h-2.9zM59.4 641h2.9v2.9h-2.9zM57.5 637.6h2.9v2.9h-2.9zM58 635.5h2.9v2.9h-2.9zM59.2 631.6h2.9v2.9h-2.9zM57.9 630h2.9v2.9h-2.9zM60.4 625.4h2.9v2.9h-2.9zM57.7 620h2.9v2.9h-2.9zM57.6 616.3h2.9v2.9h-2.9zM57.6 613.4h2.9v2.9h-2.9zM60.7 612h2.9v2.9h-2.9zM58.2 608.6h2.9v2.9h-2.9zM61.9 605.8h2.9v2.9h-2.9zM62.5 605.3h2.9v2.9h-2.9zM61.2 603.3h2.9v2.9h-2.9zM63 602.3h2.9v2.9h-2.9zM63.6 599.9h2.9v2.9h-2.9zM59.3 598h2.9v2.9h-2.9zM58.4 597.3h2.9v2.9h-2.9zM57.6 596h2.9v2.9h-2.9zM61.8 594.2h2.9v2.9h-2.9zM62.5 593.1h2.9v2.9h-2.9zM59.7 591h2.9v2.9h-2.9zM61.2 588.7h2.9v2.9h-2.9zM61.3 587.9h2.9v2.9h-2.9zM57.6 586.4h2.9v2.9h-2.9zM57.4 585.2h2.9v2.9h-2.9zM64.6 584.4h2.9v2.9h-2.9zM64.1 584.2h2.9v2.9h-2.9zM62.3 582.9h2.9v2.9h-2.9zM57.6 582.3h2.9v2.9h-2.9zM65.6 581.1h2.9v2.9h-2.9zM63.9 580.2h2.9v2.9h-2.9zM65.5 578.5h2.9v2.9h-2.9zM60.3 578.1h2.9v2.9h-2.9zM63.9 576.9h2.9v2.9h-2.9zM63.7 576.4h2.9v2.9h-2.9zM64.5 574.7h2.9v2.9h-2.9zM65.2 574.5h2.9v2.9h-2.9zM60 572.3h2.9v2.9h-2.9zM64.3 568.7h2.9v2.9h-2.9zM64.1 567h2.9v2.9h-2.9zM59.3 564.1h2.9v2.9h-2.9zM58.3 562.3h2.9v2.9h-2.9zM58.1 560.4h2.9v2.9h-2.9zM62.5 556.6h2.9v2.9h-2.9zM57.4 555.5h2.9v2.9h-2.9zM59.3 551.1h2.9v2.9h-2.9zM58.1 550.1h2.9v2.9h-2.9zM60 547.3h2.9v2.9h-2.9zM58.6 545.3h2.9v2.9h-2.9zM60.4 543.8h2.9v2.9h-2.9z" fill="#4a4a4a"/>
<path d="M57.6 683.6L57.6 681.2L57.6 678.9L57.6 676.5L57.6 674.2L57.6 671.8L57.6 669.5L57.7 667.1L57.7 664.8L57.7 662.4L57.7 660.1L57.8 657.7L57.8 655.4L57.9 653L58 650.7L58.1 648.3L58.2 645.9L58.3 643.6L58.5 641.2L58.7 638.9L58.9 636.5L59.1 634.2L59.4 631.8L59.8 629.5L60.1 627.1L60.5 624.8L61 622.4L61.4 620.1L61.9 617.7L62.4 615.4L63 613L63.6 610.6L64.1 608.3L64.7 605.9L65.2 603.6L65.7 601.2L66.2 598.9L66.7 596.5L67.1 594.2L67.4 591.8L67.7 589.5L67.9 587.1L68 584.8L68 582.4L67.9 580.1L67.8 577.7L67.6 575.3L67.3 573L66.9 570.6L66.5 568.3L66 565.9L65.5 563.6L65 561.2L64.5 558.9L63.9 556.5L63.3 554.2L62.8 551.8L62.2 549.5L61.7 547.1L61.2 544.8L60.8 542.4" fill="none" stroke="#404040" stroke-width="1"/>
<line x1="91.2" y1="632.43" x2="91.2" y2="689.75" stroke="#E55A5A" stroke-width="1"/>
<line x1="87.9" y1="632.43" x2="94.5" y2="632.43" stroke="#E55A5A" stroke-width="1"/>
<line x1="87.9" y1="689.75" x2="94.5" y2="689.75" stroke="#E55A5A" stroke-width="1"/>
<rect x="84.8" y="654.13" width="12.8" height="14.57" fill="#9DD79A" stroke="#E55A5A" stroke-width="1"/>
<line x1="84.8" y1="660.28" x2="97.6" y2="660.28" stroke="#DE6055" stroke-width="1"/>
<rect x="90.2" y="660.08" width="2" height="2" fill="#DE6055" opacity="0.7"/>
<path d="M101 689.7a1.6 1.6 0 1 0 3.1 0a1.6 1.6 0 1 0 -3.1 0M99.7 688a1.6 1.6 0 1 0 3.1 0a1.6 1.6 0 1 0 -3.1 0M102.6 687.2a1.6 1.6 0 1 0 3.1 0a1.6 1.6 0 1 0 -3.1 0M102 686.4a1.6 1.6 0 1 0 3.1 0a1.6 1.6 0 1 0 -3.1 0M100.8 685.9a1.6 1.6 0 1 0 3.1 0a1.6 1.6 0 1 0 -3.1 0M102.2 684.9a1.6 1.6 0 1 0 3.1 0a1.6 1.6 0 1 0 -3.1 0M100.8 683.9a1.6 1.6 0 1 0 3.1 0a1.6 1.6 0 1 0 -3.1 0M102.2 682.3a1.6 1.6 0 1 0 3.1 0a1.6 1.6 0 1 0 -3.1 0M100.8 681.4a1.6 1.6 0 1 0 3.1 0a1.6 1.6 0 1 0 -3.1 0M101.8 680.9a1.6 1.6 0 1 0 3.1 0a1.6 1.6 0 1 0 -3.1 0M100.3 680a1.6 1.6 0 1 0 3.1 0a1.6 1.6 0 1 0 -3.1 0M99.8 679.1a1.6 1.6 0 1 0 3.1 0a1.6 1.6 0 1 0 -3.1 0M102.7 678.2a1.6 1.6 0 1 0 3.1 0a1.6 1.6 0 1 0 -3.1 0M101.4 676.7a1.6 1.6 0 1 0 3.1 0a1.6 1.6 0 1 0 -3.1 0M100.4 676.2a1.6 1.6 0 1 0 3.1 0a1.6 1.6 0 1 0 -3.1 0M100.2 675.6a1.6 1.6 0 1 0 3.1 0a1.6 1.6 0 1 0 -3.1 0M102.7 674.1a1.6 1.6 0 1 0 3.1 0a1.6 1.6 0 1 0 -3.1 0M102.6 673.5a1.6 1.6 0 1 0 3.1 0a1.6 1.6 0 1 0 -3.1 0M102.7 672.2a1.6 1.6 0 1 0 3.1 0a1.6 1.6 0 1 0 -3.1 0M103.3 671.4a1.6 1.6 0 1 0 3.1 0a1.6 1.6 0 1 0 -3.1 0M103.2 670.7a1.6 1.6 0 1 0 3.1 0a1.6 1.6 0 1 0 -3.1 0M102.2 669.8a1.6 1.6 0 1 0 3.1 0a1.6 1.6 0 1 0 -3.1 0M103.8 668.6a1.6 1.6 0 1 0 3.1 0a1.6 1.6 0 1 0 -3.1 0M105.6 668.4a1.6 1.6 0 1 0 3.1 0a1.6 1.6 0 1 0 -3.1 0M103.3 667.9a1.6 1.6 0 1 0 3.1 0a1.6 1.6 0 1 0 -3.1 0M103.1 667.8a1.6 1.6 0 1 0 3.1 0a1.6 1.6 0 1 0 -3.1 0M104.1 667.3a1.6 1.6 0 1 0 3.1 0a1.6 1.6 0 1 0 -3.1 0M105.3 666.8a1.6 1.6 0 1 0 3.1 0a1.6 1.6 0 1 0 -3.1 0M105.3 666.4a1.6 1.6 0 1 0 3.1 0a1.6 1.6 0 1 0 -3.1 0M104.2 666.1a1.6 1.6 0 1 0 3.1 0a1.6 1.6 0 1 0 -3.1 0M105.7 665.6a1.6 1.6 0 1 0 3.1 0a1.6 1.6 0 1 0 -3.1 0M105.9 665.4a1.6 1.6 0 1 0 3.1 0a1.6 1.6 0 1 0 -3.1 0M104.8 664.8a1.6 1.6 0 1 0 3.1 0a1.6 1.6 0 1 0 -3.1 0M107.1 664.4a1.6 1.6 0 1 0 3.1 0a1.6 1.6 0 1 0 -3.1 0M103.6 664.2a1.6 1.6 0 1 0 3.1 0a1.6 1.6 0 1 0 -3.1 0M106.2 664a1.6 1.6 0 1 0 3.1 0a1.6 1.6 0 1 0 -3.1 0M103.3 663.3a1.6 1.6 0 1 0 3.1 0a1.6 1.6 0 1 0 -3.1 0M105.4 663a1.6 1.6 0 1 0 3.1 0a1.6 1.6 0 1 0 -3.1 0M100.7 662.6a1.6 1.6 0 1 0 3.1 0a1.6 1.6 0 1 0 -3.1 0M104.3 662.2a1.6 1.6 0 1 0 3.1 0a1.6 1.6 0 1 0 -3.1 0M102.9 661.9a1.6 1.6 0 1 0 3.1 0a1.6 1.6 0 1 0 -3.1 0M106 661.5a1.6 1.6 0 1 0 3.1 0a1.6 1.6 0 1 0 -3.1 0M105.6 661.2a1.6 1.6 0 1 0 3.1 0a1.6 1.6 0 1 0 -3.1 0M100.7 661a1.6 1.6 0 1 0 3.1 0a1.6 1.6 0 1 0 -3.1 0M105 660.5a1.6 1.6 0 1 0 3.1 0a1.6 1.6 0 1 0 -3.1 0M105.3 660.2a1.6 1.6 0 1 0 3.1 0a1.6 1.6 0 1 0 -3.1 0M99.6 659.8a1.6 1.6 0 1 0 3.1 0a1.6 1.6 0 1 0 -3.1 0M101.2 659.6a1.6 1.6 0 1 0 3.1 0a1.6 1.6 0 1 0 -3.1 0M100.4 659.4a1.6 1.6 0 1 0 3.1 0a1.6 1.6 0 1 0 -3.1 0M100.8 659.1a1.6 1.6 0 1 0 3.1 0a1.6 1.6 0 1 0 -3.1 0M99.6 658.9a1.6 1.6 0 1 0 3.1 0a1.6 1.6 0 1 0 -3.1 0M102.5 658.5a1.6 1.6 0 1 0 3.1 0a1.6 1.6 0 1 0 -3.1 0M104.3 658.2a1.6 1.6 0 1 0 3.1 0a1.6 1.6 0 1 0 -3.1 0M107 658a1.6 1.6 0 1 0 3.1 0a1.6 1.6 0 1 0 -3.1 0M102.7 657.8a1.6 1.6 0 1 0 3.1 0a1.6 1.6 0 1 0 -3.1 0M102.7 657.5a1.6 1.6 0 1 0 3.1 0a1.6 1.6 0 1 0 -3.1 0M106.3 657.2a1.6 1.6 0 1 0 3.1 0a1.6 1.6 0 1 0 -3.1 0M99.6 656.9a1.6 1.6 0 1 0 3.1 0a1.6 1.6 0 1 0 -3.1 0M100 656.6a1.6 1.6 0 1 0 3.1 0a1.6 1.6 0 1 0 -3.1 0M102 656.3a1.6 1.6 0 1 0 3.1 0a1.6 1.6 0 1 0 -3.1 0M107.1 656a1.6 1.6 0 1 0 3.1 0a1.6 1.6 0 1 0 -3.1 0M102.6 655.7a1.6 1.6 0 1 0 3.1 0a1.6 1.6 0 1 0 -3.1 0M104.4 655.4a1.6 1.6 0 1 0 3.1 0a1.6 1.6 0 1 0 -3.1 0M100.4 655.3a1.6 1.6 0 1 0 3.1 0a1.6 1.6 0 1 0 -3.1 0M103.7 654.9a1.6 1.6 0 1 0 3.1 0a1.6 1.6 0 1 0 -3.1 0M106.7 654.6a1.6 1.6 0 1 0 3.1 0a1.6 1.6 0 1 0 -3.1 0M101.9 654.4a1.6 1.6 0 1 0 3.1 0a1.6 1.6 0 1 0 -3.1 0M99.3 653.8a1.6 1.6 0 1 0 3.1 0a1.6 1.6 0 1 0 -3.1 0M103.4 653.5a1.6 1.6 0 1 0 3.1 0a1.6 1.6 0 1 0 -3.1 0M100.2 652.1a1.6 1.6 0 1 0 3.1 0a1.6 1.6 0 1 0 -3.1 0M104.8 651.1a1.6 1.6 0 1 0 3.1 0a1.6 1.6 0 1 0 -3.1 0M101.8 650.4a1.6 1.6 0 1 0 3.1 0a1.6 1.6 0 1 0 -3.1 0M100.9 649.6a1.6 1.6 0 1 0 3.1 0a1.6 1.6 0 1 0 -3.1 0M101 647.9a1.6 1.6 0 1 0 3.1 0a1.6 1.6 0 1 0 -3.1 0M103.1 646.9a1.6 1.6 0 1 0 3.1 0a1.6 1.6 0 1 0 -3.1 0M100.3 646.3a1.6 1.6 0 1 0 3.1 0a1.6 1.6 0 1 0 -3.1 0M101 645a1.6 1.6 0 1 0 3.1 0a1.6 1.6 0 1 0 -3.1 0M100.4 644.6a1.6 1.6 0 1 0 3.1 0a1.6 1.6 0 1 0 -3.1 0M101 643.1a1.6 1.6 0 1 0 3.1 0a1.6 1.6 0 1 0 -3.1 0M100.9 642.8a1.6 1.6 0 1 0 3.1 0a1.6 1.6 0 1 0 -3.1 0M101.4 642a1.6 1.6 0 1 0 3.1 0a1.6 1.6 0 1 0 -3.1 0M100.3 640.7a1.6 1.6 0 1 0 3.1 0a1.6 1.6 0 1 0 -3.1 0M102.1 639.4a1.6 1.6 0 1 0 3.1 0a1.6 1.6 0 1 0 -3.1 0M101.1 639.2a1.6 1.6 0 1 0 3.1 0a1.6 1.6 0 1 0 -3.1 0M102.5 638a1.6 1.6 0 1 0 3.1 0a1.6 1.6 0 1 0 -3.1 0M100.1 636.5a1.6 1.6 0 1 0 3.1 0a1.6 1.6 0 1 0 -3.1 0M99.8 636a1.6 1.6 0 1 0 3.1 0a1.6 1.6 0 1 0 -3.1 0M100.3 634.4a1.6 1.6 0 1 0 3.1 0a1.6 1.6 0 1 0 -3.1 0M100.9 633.8a1.6 1.6 0 1 0 3.1 0a1.6 1.6 0 1 0 -3.1 0M101.4 632.8a1.6 1.6 0 1 0 3.1 0a1.6 1.6 0 1 0 -3.1 0" fill="none" stroke="#EE7777" stroke-width="0.7"/>
<path d="M99.9 694.9L100 693.8L100 692.7L100.1 691.5L100.2 690.4L100.3 689.2L100.5 688.1L100.6 687L100.8 685.8L101 684.7L101.3 683.5L101.6 682.4L101.9 681.3L102.3 680.1L102.8 679L103.2 677.9L103.7 676.7L104.3 675.6L104.8 674.4L105.4 673.3L106 672.2L106.6 671L107.2 669.9L107.8 668.7L108.3 667.6L108.8 666.5L109.2 665.3L109.6 664.2L109.8 663L110 661.9L110.1 660.8L110.1 659.6L110 658.5L109.8 657.4L109.5 656.2L109.2 655.1L108.7 653.9L108.2 652.8L107.7 651.7L107.1 650.5L106.5 649.4L105.9 648.2L105.3 647.1L104.8 646L104.2 644.8L103.7 643.7L103.2 642.5L102.7 641.4L102.3 640.3L101.9 639.1L101.6 638L101.3 636.9L101 635.7L100.8 634.6L100.6 633.4L100.4 632.3L100.3 631.2L100.2 630L100.1 628.9L100 627.7L100 626.6" fill="none" stroke="#E54F4F" stroke-width="1"/>
<line x1="133.4" y1="653.48" x2="133.4" y2="683.28" stroke="#3F78D8" stroke-width="1"/>
<line x1="130.1" y1="653.48" x2="136.7" y2="653.48" stroke="#3F78D8" stroke-width="1"/>
<line x1="130.1" y1="683.28" x2="136.7" y2="683.28" stroke="#3F78D8" stroke-width="1"/>
<rect x="127" y="663.2" width="12.8" height="8.42" fill="#C9B6DC" stroke="#3F78D8" stroke-width="1"/>
<line x1="127" y1="666.44" x2="139.8" y2="666.44" stroke="#3F78D8" stroke-width="1"/>
<circle cx="133.4" cy="666.44" r="1.1" fill="none" stroke="#3F78D8" stroke-width="0.6" opacity="0.85"/>
<path d="M143.4 681.2l1.6 2.8h-3.1zM144.1 680.6l1.6 2.8h-3.1zM144.2 680l1.6 2.8h-3.1zM144.9 679.5l1.6 2.8h-3.1zM144.3 678.8l1.6 2.8h-3.1zM145.1 677.9l1.6 2.8h-3.1zM143.9 677.7l1.6 2.8h-3.1zM146.2 676.8l1.6 2.8h-3.1zM144.9 675.8l1.6 2.8h-3.1zM145.7 675.7l1.6 2.8h-3.1zM145 674.8l1.6 2.8h-3.1zM145.2 673.9l1.6 2.8h-3.1zM146.4 673.4l1.6 2.8h-3.1zM144.7 672.8l1.6 2.8h-3.1zM144 671.8l1.6 2.8h-3.1zM147.5 671.5l1.6 2.8h-3.1zM147.9 671l1.6 2.8h-3.1zM146 670l1.6 2.8h-3.1zM148.5 669.8l1.6 2.8h-3.1zM144.1 669.4l1.6 2.8h-3.1zM147.1 669.2l1.6 2.8h-3.1zM145.6 668.9l1.6 2.8h-3.1zM147.6 668.7l1.6 2.8h-3.1zM143.6 668.2l1.6 2.8h-3.1zM149.8 668.1l1.6 2.8h-3.1zM148.7 667.6l1.6 2.8h-3.1zM149.3 667.5l1.6 2.8h-3.1zM152 667l1.6 2.8h-3.1zM143.4 666.8l1.6 2.8h-3.1zM145 666.4l1.6 2.8h-3.1zM151.8 666.2l1.6 2.8h-3.1zM144.3 665.9l1.6 2.8h-3.1zM151.6 665.7l1.6 2.8h-3.1zM148.7 665.4l1.6 2.8h-3.1zM144.5 665.1l1.6 2.8h-3.1zM143.4 664.8l1.6 2.8h-3.1zM146.6 664.7l1.6 2.8h-3.1zM143.5 664.5l1.6 2.8h-3.1zM150 664.2l1.6 2.8h-3.1zM144.3 664l1.6 2.8h-3.1zM145.9 663.9l1.6 2.8h-3.1zM147.5 663.7l1.6 2.8h-3.1zM146.4 663.4l1.6 2.8h-3.1zM149.4 663.4l1.6 2.8h-3.1zM148.8 663.2l1.6 2.8h-3.1zM151.2 662.9l1.6 2.8h-3.1zM148.6 662.7l1.6 2.8h-3.1zM147.9 662.6l1.6 2.8h-3.1zM149.6 662.4l1.6 2.8h-3.1zM144.2 662.2l1.6 2.8h-3.1zM146.2 662.1l1.6 2.8h-3.1zM144.5 661.8l1.6 2.8h-3.1zM148.4 661.5l1.6 2.8h-3.1zM148.4 661.3l1.6 2.8h-3.1zM144 660.8l1.6 2.8h-3.1zM144.7 659.9l1.6 2.8h-3.1zM146.1 659.2l1.6 2.8h-3.1zM147.9 659l1.6 2.8h-3.1zM147.2 658.6l1.6 2.8h-3.1zM143.8 658l1.6 2.8h-3.1zM145.9 657l1.6 2.8h-3.1zM143.5 656.8l1.6 2.8h-3.1zM145.3 655.8l1.6 2.8h-3.1zM143.5 655.4l1.6 2.8h-3.1zM144.2 654.9l1.6 2.8h-3.1zM144.2 654.6l1.6 2.8h-3.1zM144.2 653.8l1.6 2.8h-3.1zM143.5 653.4l1.6 2.8h-3.1zM145.3 652.6l1.6 2.8h-3.1zM144.5 652l1.6 2.8h-3.1z" fill="none" stroke="#5A8DE0" stroke-width="0.7"/>
<path d="M142.2 686.2L142.2 685.6L142.3 684.9L142.3 684.3L142.4 683.6L142.5 683L142.7 682.3L142.9 681.7L143.1 681.1L143.3 680.4L143.6 679.8L143.9 679.1L144.2 678.5L144.6 677.8L145.1 677.2L145.6 676.6L146.1 675.9L146.7 675.3L147.3 674.6L147.9 674L148.5 673.3L149.2 672.7L149.8 672.1L150.4 671.4L150.9 670.8L151.5 670.1L151.9 669.5L152.3 668.9L152.6 668.2L152.8 667.6L153 666.9L153 666.3L152.9 665.6L152.8 665L152.5 664.4L152.1 663.7L151.7 663.1L151.2 662.4L150.7 661.8L150.1 661.1L149.5 660.5L148.8 659.9L148.2 659.2L147.6 658.6L147 657.9L146.4 657.3L145.8 656.6L145.3 656L144.9 655.4L144.4 654.7L144.1 654.1L143.7 653.4L143.4 652.8L143.2 652.1L143 651.5L142.8 650.9L142.6 650.2L142.5 649.6L142.4 648.9L142.3 648.3L142.2 647.7" fill="none" stroke="#2F6AD6" stroke-width="1"/>
<line x1="175.6" y1="610.41" x2="175.6" y2="684.9" stroke="#3FAA6A" stroke-width="1"/>
<line x1="172.3" y1="610.41" x2="178.9" y2="610.41" stroke="#3FAA6A" stroke-width="1"/>
<line x1="172.3" y1="684.9" x2="178.9" y2="684.9" stroke="#3FAA6A" stroke-width="1"/>
<rect x="169.2" y="636.64" width="12.8" height="21.05" fill="#FFFF9E" stroke="#3FAA6A" stroke-width="1"/>
<line x1="169.2" y1="645.39" x2="182" y2="645.39" stroke="#3FAA6A" stroke-width="1"/>
<circle cx="175.6" cy="645.39" r="1.1" fill="none" stroke="#3FAA6A" stroke-width="0.6" opacity="0.85"/>
<path d="M187 685.5l1.6 -2.8h-3.1zM187.2 684.7l1.6 -2.8h-3.1zM186.6 683.5l1.6 -2.8h-3.1zM185.3 683.1l1.6 -2.8h-3.1zM185.3 681.9l1.6 -2.8h-3.1zM186.9 680l1.6 -2.8h-3.1zM185.2 679.1l1.6 -2.8h-3.1zM188.3 678.3l1.6 -2.8h-3.1zM186.7 677.1l1.6 -2.8h-3.1zM185.5 676.1l1.6 -2.8h-3.1zM185.8 675.4l1.6 -2.8h-3.1zM186.5 674.1l1.6 -2.8h-3.1zM185.7 672.4l1.6 -2.8h-3.1zM186.2 672l1.6 -2.8h-3.1zM186.2 671l1.6 -2.8h-3.1zM186.9 669.9l1.6 -2.8h-3.1zM188.4 669l1.6 -2.8h-3.1zM188.9 667.5l1.6 -2.8h-3.1zM188.2 666.1l1.6 -2.8h-3.1zM189.7 665.3l1.6 -2.8h-3.1zM188.6 664.6l1.6 -2.8h-3.1zM188.9 663.3l1.6 -2.8h-3.1zM186.2 661.7l1.6 -2.8h-3.1zM185.4 661.2l1.6 -2.8h-3.1zM185.7 660.1l1.6 -2.8h-3.1zM192.1 659l1.6 -2.8h-3.1zM187.5 658.6l1.6 -2.8h-3.1zM187.3 658l1.6 -2.8h-3.1zM190.7 657.4l1.6 -2.8h-3.1zM187 657.2l1.6 -2.8h-3.1zM192.6 656.5l1.6 -2.8h-3.1zM188.7 656l1.6 -2.8h-3.1zM185.3 655.3l1.6 -2.8h-3.1zM191.6 655.3l1.6 -2.8h-3.1zM185.6 654.6l1.6 -2.8h-3.1zM193.7 654.1l1.6 -2.8h-3.1zM188.2 653.6l1.6 -2.8h-3.1zM185.8 653.3l1.6 -2.8h-3.1zM189.6 652.4l1.6 -2.8h-3.1zM185.7 651.9l1.6 -2.8h-3.1zM185.7 651.7l1.6 -2.8h-3.1zM185.7 651.2l1.6 -2.8h-3.1zM188.9 650.7l1.6 -2.8h-3.1zM185.7 650.2l1.6 -2.8h-3.1zM194.2 649.9l1.6 -2.8h-3.1zM190 649.3l1.6 -2.8h-3.1zM190.2 648.7l1.6 -2.8h-3.1zM188.2 648.4l1.6 -2.8h-3.1zM190.3 647.9l1.6 -2.8h-3.1zM190.9 647l1.6 -2.8h-3.1zM187.2 646.6l1.6 -2.8h-3.1zM190.3 646.6l1.6 -2.8h-3.1zM190.6 646.1l1.6 -2.8h-3.1zM191.1 645.8l1.6 -2.8h-3.1zM193.8 645.3l1.6 -2.8h-3.1zM189.4 645.1l1.6 -2.8h-3.1zM187.3 644.5l1.6 -2.8h-3.1zM188.1 644.4l1.6 -2.8h-3.1zM192.4 644.1l1.6 -2.8h-3.1zM188.1 643.5l1.6 -2.8h-3.1zM186 643.4l1.6 -2.8h-3.1zM186 643l1.6 -2.8h-3.1zM190.5 642.6l1.6 -2.8h-3.1zM185.8 642.3l1.6 -2.8h-3.1zM185.6 641.8l1.6 -2.8h-3.1zM187.8 641.6l1.6 -2.8h-3.1zM186.1 641.2l1.6 -2.8h-3.1zM188 640.8l1.6 -2.8h-3.1zM190 640.4l1.6 -2.8h-3.1zM190.8 640l1.6 -2.8h-3.1zM190.1 639.7l1.6 -2.8h-3.1zM192.1 639.4l1.6 -2.8h-3.1zM193.2 639l1.6 -2.8h-3.1zM191 638.6l1.6 -2.8h-3.1zM191.9 638.4l1.6 -2.8h-3.1zM186.2 637.8l1.6 -2.8h-3.1zM186.5 637.1l1.6 -2.8h-3.1zM190.2 635.8l1.6 -2.8h-3.1zM185.6 634.7l1.6 -2.8h-3.1zM188.8 633.2l1.6 -2.8h-3.1zM185.5 632.9l1.6 -2.8h-3.1zM187.3 631.8l1.6 -2.8h-3.1zM190.2 629.9l1.6 -2.8h-3.1zM186.4 629.2l1.6 -2.8h-3.1zM186.9 628.3l1.6 -2.8h-3.1zM185.3 627.4l1.6 -2.8h-3.1zM188.4 626l1.6 -2.8h-3.1zM185.5 624.8l1.6 -2.8h-3.1zM185.8 624l1.6 -2.8h-3.1zM186.8 622.8l1.6 -2.8h-3.1zM188 621.5l1.6 -2.8h-3.1zM186.3 621.3l1.6 -2.8h-3.1zM186.8 619.4l1.6 -2.8h-3.1zM186.7 618.8l1.6 -2.8h-3.1zM188.5 617.5l1.6 -2.8h-3.1zM188.6 616.6l1.6 -2.8h-3.1zM185.6 615.5l1.6 -2.8h-3.1zM186.7 614.3l1.6 -2.8h-3.1zM188.6 614l1.6 -2.8h-3.1zM187.2 613l1.6 -2.8h-3.1z" fill="none" stroke="#4FB578" stroke-width="0.7"/>
<path d="M184.4 693.6L184.4 692L184.5 690.4L184.6 688.8L184.7 687.3L184.8 685.7L185 684.1L185.2 682.5L185.4 680.9L185.7 679.3L186 677.7L186.3 676.1L186.7 674.5L187.1 672.9L187.6 671.3L188.1 669.7L188.6 668.1L189.2 666.5L189.8 664.9L190.5 663.3L191.1 661.7L191.7 660.1L192.3 658.5L192.9 656.9L193.5 655.3L193.9 653.7L194.4 652.1L194.7 650.5L195 648.9L195.1 647.3L195.2 645.7L195.2 644.1L195 642.5L194.8 640.9L194.5 639.3L194.1 637.7L193.7 636.1L193.1 634.5L192.6 632.9L192 631.3L191.3 629.7L190.7 628.1L190.1 626.5L189.5 624.9L188.9 623.3L188.3 621.7L187.8 620.1L187.3 618.5L186.8 617L186.4 615.4L186.1 613.8L185.8 612.2L185.5 610.6L185.3 609L185.1 607.4L184.9 605.8L184.8 604.2L184.6 602.6L184.5 601L184.5 599.4L184.4 597.8" fill="none" stroke="#30A060" stroke-width="1"/>
<line x1="217.8" y1="579.32" x2="217.8" y2="676.48" stroke="#B07CE0" stroke-width="1"/>
<line x1="214.5" y1="579.32" x2="221.1" y2="579.32" stroke="#B07CE0" stroke-width="1"/>
<line x1="214.5" y1="676.48" x2="221.1" y2="676.48" stroke="#B07CE0" stroke-width="1"/>
<rect x="211.4" y="615.59" width="12.8" height="24.94" fill="#9EBEF5" stroke="#B07CE0" stroke-width="1"/>
<line x1="211.4" y1="626.6" x2="224.2" y2="626.6" stroke="#B07CE0" stroke-width="1"/>
<circle cx="217.8" cy="626.6" r="1.1" fill="none" stroke="#B07CE0" stroke-width="0.6" opacity="0.85"/>
<path d="M230.5 674.3l1.6 1.6l-1.6 1.6l-1.6 -1.6zM230.5 674.3v3.1M228.9 675.8h3.1M228.2 673.1l1.6 1.6l-1.6 1.6l-1.6 -1.6zM228.2 673.1v3.1M226.6 674.7h3.1M228.1 672l1.6 1.6l-1.6 1.6l-1.6 -1.6zM228.1 672v3.1M226.6 673.5h3.1M228.6 670.3l1.6 1.6l-1.6 1.6l-1.6 -1.6zM228.6 670.3v3.1M227.1 671.8h3.1M228.2 668.7l1.6 1.6l-1.6 1.6l-1.6 -1.6zM228.2 668.7v3.1M226.7 670.3h3.1M228.3 667.9l1.6 1.6l-1.6 1.6l-1.6 -1.6zM228.3 667.9v3.1M226.7 669.5h3.1M230.3 665.8l1.6 1.6l-1.6 1.6l-1.6 -1.6zM230.3 665.8v3.1M228.8 667.3h3.1M229.6 664.7l1.6 1.6l-1.6 1.6l-1.6 -1.6zM229.6 664.7v3.1M228 666.2h3.1M227.9 663.9l1.6 1.6l-1.6 1.6l-1.6 -1.6zM227.9 663.9v3.1M226.4 665.5h3.1M229.1 662.1l1.6 1.6l-1.6 1.6l-1.6 -1.6zM229.1 662.1v3.1M227.6 663.6h3.1M228 661.8l1.6 1.6l-1.6 1.6l-1.6 -1.6zM228 661.8v3.1M226.4 663.4h3.1M229.9 660.4l1.6 1.6l-1.6 1.6l-1.6 -1.6zM229.9 660.4v3.1M228.4 662h3.1M228.1 658.1l1.6 1.6l-1.6 1.6l-1.6 -1.6zM228.1 658.1v3.1M226.5 659.6h3.1M228.5 656.9l1.6 1.6l-1.6 1.6l-1.6 -1.6zM228.5 656.9v3.1M227 658.4h3.1M230.4 655.7l1.6 1.6l-1.6 1.6l-1.6 -1.6zM230.4 655.7v3.1M228.9 657.3h3.1M230.2 654.5l1.6 1.6l-1.6 1.6l-1.6 -1.6zM230.2 654.5v3.1M228.7 656.1h3.1M227.4 653.5l1.6 1.6l-1.6 1.6l-1.6 -1.6zM227.4 653.5v3.1M225.9 655.1h3.1M229.5 652l1.6 1.6l-1.6 1.6l-1.6 -1.6zM229.5 652v3.1M227.9 653.6h3.1M228.8 651.2l1.6 1.6l-1.6 1.6l-1.6 -1.6zM228.8 651.2v3.1M227.2 652.7h3.1M227.5 649.7l1.6 1.6l-1.6 1.6l-1.6 -1.6zM227.5 649.7v3.1M226 651.2h3.1M229 648.4l1.6 1.6l-1.6 1.6l-1.6 -1.6zM229 648.4v3.1M227.4 649.9h3.1M230.6 646.9l1.6 1.6l-1.6 1.6l-1.6 -1.6zM230.6 646.9v3.1M229.1 648.4h3.1M232.2 645.6l1.6 1.6l-1.6 1.6l-1.6 -1.6zM232.2 645.6v3.1M230.7 647.2h3.1M232.5 643.8l1.6 1.6l-1.6 1.6l-1.6 -1.6zM232.5 643.8v3.1M230.9 645.3h3.1M231.3 642.6l1.6 1.6l-1.6 1.6l-1.6 -1.6zM231.3 642.6v3.1M229.7 644.2h3.1M232.3 641.5l1.6 1.6l-1.6 1.6l-1.6 -1.6zM232.3 641.5v3.1M230.8 643.1h3.1M231.2 640.5l1.6 1.6l-1.6 1.6l-1.6 -1.6zM231.2 640.5v3.1M229.7 642h3.1M231 638.9l1.6 1.6l-1.6 1.6l-1.6 -1.6zM231 638.9v3.1M229.4 640.4h3.1M227.9 638.6l1.6 1.6l-1.6 1.6l-1.6 -1.6zM227.9 638.6v3.1M226.4 640.1h3.1M229.9 638.2l1.6 1.6l-1.6 1.6l-1.6 -1.6zM229.9 638.2v3.1M228.4 639.7h3.1M232.9 637.4l1.6 1.6l-1.6 1.6l-1.6 -1.6zM232.9 637.4v3.1M231.4 639h3.1M229.7 636.8l1.6 1.6l-1.6 1.6l-1.6 -1.6zM229.7 636.8v3.1M228.1 638.4h3.1M229.5 636.2l1.6 1.6l-1.6 1.6l-1.6 -1.6zM229.5 636.2v3.1M227.9 637.8h3.1M228 635.8l1.6 1.6l-1.6 1.6l-1.6 -1.6zM228 635.8v3.1M226.4 637.4h3.1M232.6 635.3l1.6 1.6l-1.6 1.6l-1.6 -1.6zM232.6 635.3v3.1M231.1 636.9h3.1M234.5 634.7l1.6 1.6l-1.6 1.6l-1.6 -1.6zM234.5 634.7v3.1M232.9 636.2h3.1M234.1 634.3l1.6 1.6l-1.6 1.6l-1.6 -1.6zM234.1 634.3v3.1M232.5 635.9h3.1M232.3 633.8l1.6 1.6l-1.6 1.6l-1.6 -1.6zM232.3 633.8v3.1M230.8 635.3h3.1M231.6 633.6l1.6 1.6l-1.6 1.6l-1.6 -1.6zM231.6 633.6v3.1M230 635.1h3.1M229.4 632.7l1.6 1.6l-1.6 1.6l-1.6 -1.6zM229.4 632.7v3.1M227.8 634.3h3.1M232 632.2l1.6 1.6l-1.6 1.6l-1.6 -1.6zM232 632.2v3.1M230.4 633.7h3.1M227.4 631.9l1.6 1.6l-1.6 1.6l-1.6 -1.6zM227.4 631.9v3.1M225.9 633.5h3.1M228.9 631.4l1.6 1.6l-1.6 1.6l-1.6 -1.6zM228.9 631.4v3.1M227.4 633h3.1M235.1 630.8l1.6 1.6l-1.6 1.6l-1.6 -1.6zM235.1 630.8v3.1M233.6 632.3h3.1M232.7 630.2l1.6 1.6l-1.6 1.6l-1.6 -1.6zM232.7 630.2v3.1M231.2 631.7h3.1M228.3 629.9l1.6 1.6l-1.6 1.6l-1.6 -1.6zM228.3 629.9v3.1M226.8 631.5h3.1M232.2 629.3l1.6 1.6l-1.6 1.6l-1.6 -1.6zM232.2 629.3v3.1M230.7 630.8h3.1M230.7 628.7l1.6 1.6l-1.6 1.6l-1.6 -1.6zM230.7 628.7v3.1M229.1 630.3h3.1M229.3 628.1l1.6 1.6l-1.6 1.6l-1.6 -1.6zM229.3 628.1v3.1M227.7 629.7h3.1M229.8 627.9l1.6 1.6l-1.6 1.6l-1.6 -1.6zM229.8 627.9v3.1M228.2 629.5h3.1M235.4 627.3l1.6 1.6l-1.6 1.6l-1.6 -1.6zM235.4 627.3v3.1M233.8 628.8h3.1M233.1 627l1.6 1.6l-1.6 1.6l-1.6 -1.6zM233.1 627v3.1M231.5 628.5h3.1M229.4 626.2l1.6 1.6l-1.6 1.6l-1.6 -1.6zM229.4 626.2v3.1M227.9 627.7h3.1M232.5 626l1.6 1.6l-1.6 1.6l-1.6 -1.6zM232.5 626v3.1M230.9 627.6h3.1M235.3 625.1l1.6 1.6l-1.6 1.6l-1.6 -1.6zM235.3 625.1v3.1M233.7 626.7h3.1M231.1 624.8l1.6 1.6l-1.6 1.6l-1.6 -1.6zM231.1 624.8v3.1M229.6 626.3h3.1M232.1 624.5l1.6 1.6l-1.6 1.6l-1.6 -1.6zM232.1 624.5v3.1M230.6 626h3.1M230.1 623.9l1.6 1.6l-1.6 1.6l-1.6 -1.6zM230.1 623.9v3.1M228.6 625.4h3.1M232.8 623.7l1.6 1.6l-1.6 1.6l-1.6 -1.6zM232.8 623.7v3.1M231.3 625.3h3.1M229.1 623.1l1.6 1.6l-1.6 1.6l-1.6 -1.6zM229.1 623.1v3.1M227.5 624.6h3.1M228.4 623l1.6 1.6l-1.6 1.6l-1.6 -1.6zM228.4 623v3.1M226.9 624.6h3.1M232.8 622.4l1.6 1.6l-1.6 1.6l-1.6 -1.6zM232.8 622.4v3.1M231.2 624h3.1M229.1 622.2l1.6 1.6l-1.6 1.6l-1.6 -1.6zM229.1 622.2v3.1M227.5 623.7h3.1M233.1 621.6l1.6 1.6l-1.6 1.6l-1.6 -1.6zM233.1 621.6v3.1M231.6 623.2h3.1M233.8 621.2l1.6 1.6l-1.6 1.6l-1.6 -1.6zM233.8 621.2v3.1M232.3 622.7h3.1M231.7 621l1.6 1.6l-1.6 1.6l-1.6 -1.6zM231.7 621v3.1M230.1 622.6h3.1M235.7 620.3l1.6 1.6l-1.6 1.6l-1.6 -1.6zM235.7 620.3v3.1M234.2 621.9h3.1M234.8 620.1l1.6 1.6l-1.6 1.6l-1.6 -1.6zM234.8 620.1v3.1M233.2 621.7h3.1M235.4 619.6l1.6 1.6l-1.6 1.6l-1.6 -1.6zM235.4 619.6v3.1M233.8 621.1h3.1M233.4 619.4l1.6 1.6l-1.6 1.6l-1.6 -1.6zM233.4 619.4v3.1M231.8 620.9h3.1M231.4 618.7l1.6 1.6l-1.6 1.6l-1.6 -1.6zM231.4 618.7v3.1M229.9 620.3h3.1M229 618.6l1.6 1.6l-1.6 1.6l-1.6 -1.6zM229 618.6v3.1M227.5 620.2h3.1M228.2 618.2l1.6 1.6l-1.6 1.6l-1.6 -1.6zM228.2 618.2v3.1M226.6 619.7h3.1M232.5 617.8l1.6 1.6l-1.6 1.6l-1.6 -1.6zM232.5 617.8v3.1M231 619.3h3.1M233.7 617.4l1.6 1.6l-1.6 1.6l-1.6 -1.6zM233.7 617.4v3.1M232.1 619h3.1M234.1 616.7l1.6 1.6l-1.6 1.6l-1.6 -1.6zM234.1 616.7v3.1M232.5 618.3h3.1M233.2 616.3l1.6 1.6l-1.6 1.6l-1.6 -1.6zM233.2 616.3v3.1M231.6 617.9h3.1M235 615.9l1.6 1.6l-1.6 1.6l-1.6 -1.6zM235 615.9v3.1M233.5 617.4h3.1M235.1 615.6l1.6 1.6l-1.6 1.6l-1.6 -1.6zM235.1 615.6v3.1M233.5 617.1h3.1M228.2 615.4l1.6 1.6l-1.6 1.6l-1.6 -1.6zM228.2 615.4v3.1M226.7 617h3.1M229 615l1.6 1.6l-1.6 1.6l-1.6 -1.6zM229 615v3.1M227.5 616.6h3.1M230.9 614.5l1.6 1.6l-1.6 1.6l-1.6 -1.6zM230.9 614.5v3.1M229.4 616h3.1M233 613.8l1.6 1.6l-1.6 1.6l-1.6 -1.6zM233 613.8v3.1M231.5 615.4h3.1M230.4 613.3l1.6 1.6l-1.6 1.6l-1.6 -1.6zM230.4 613.3v3.1M228.8 614.8h3.1M230 611.3l1.6 1.6l-1.6 1.6l-1.6 -1.6zM230 611.3v3.1M228.4 612.9h3.1M231.4 610.6l1.6 1.6l-1.6 1.6l-1.6 -1.6zM231.4 610.6v3.1M229.9 612.1h3.1M231.7 608.9l1.6 1.6l-1.6 1.6l-1.6 -1.6zM231.7 608.9v3.1M230.1 610.5h3.1M233 607.5l1.6 1.6l-1.6 1.6l-1.6 -1.6zM233 607.5v3.1M231.5 609h3.1M227.8 605.5l1.6 1.6l-1.6 1.6l-1.6 -1.6zM227.8 605.5v3.1M226.2 607.1h3.1M231 604.5l1.6 1.6l-1.6 1.6l-1.6 -1.6zM231 604.5v3.1M229.4 606h3.1M228 603.8l1.6 1.6l-1.6 1.6l-1.6 -1.6zM228 603.8v3.1M226.4 605.3h3.1M228.9 602.2l1.6 1.6l-1.6 1.6l-1.6 -1.6zM228.9 602.2v3.1M227.4 603.7h3.1M230.9 600.5l1.6 1.6l-1.6 1.6l-1.6 -1.6zM230.9 600.5v3.1M229.3 602.1h3.1M228.4 599.7l1.6 1.6l-1.6 1.6l-1.6 -1.6zM228.4 599.7v3.1M226.9 601.2h3.1M229.8 598.2l1.6 1.6l-1.6 1.6l-1.6 -1.6zM229.8 598.2v3.1M228.3 599.8h3.1M229.4 596.5l1.6 1.6l-1.6 1.6l-1.6 -1.6zM229.4 596.5v3.1M227.9 598.1h3.1M228.6 595.8l1.6 1.6l-1.6 1.6l-1.6 -1.6zM228.6 595.8v3.1M227 597.4h3.1M229.2 593.8l1.6 1.6l-1.6 1.6l-1.6 -1.6zM229.2 593.8v3.1M227.7 595.3h3.1M228.9 593.5l1.6 1.6l-1.6 1.6l-1.6 -1.6zM228.9 593.5v3.1M227.3 595.1h3.1M229.7 592l1.6 1.6l-1.6 1.6l-1.6 -1.6zM229.7 592v3.1M228.2 593.5h3.1M228.3 590.9l1.6 1.6l-1.6 1.6l-1.6 -1.6zM228.3 590.9v3.1M226.8 592.4h3.1M229.1 589.5l1.6 1.6l-1.6 1.6l-1.6 -1.6zM229.1 589.5v3.1M227.5 591.1h3.1M229.3 587l1.6 1.6l-1.6 1.6l-1.6 -1.6zM229.3 587v3.1M227.7 588.6h3.1M230.7 586.5l1.6 1.6l-1.6 1.6l-1.6 -1.6zM230.7 586.5v3.1M229.1 588h3.1M228.6 585.6l1.6 1.6l-1.6 1.6l-1.6 -1.6zM228.6 585.6v3.1M227.1 587.1h3.1M227.4 583.3l1.6 1.6l-1.6 1.6l-1.6 -1.6zM227.4 583.3v3.1M225.9 584.8h3.1M228.7 582l1.6 1.6l-1.6 1.6l-1.6 -1.6zM228.7 582v3.1M227.1 583.6h3.1M228.3 581.7l1.6 1.6l-1.6 1.6l-1.6 -1.6zM228.3 581.7v3.1M226.7 583.3h3.1M228.7 579.8l1.6 1.6l-1.6 1.6l-1.6 -1.6zM228.7 579.8v3.1M227.2 581.4h3.1M227.6 578.4l1.6 1.6l-1.6 1.6l-1.6 -1.6zM227.6 578.4v3.1M226 580h3.1" fill="none" stroke="#BE8EE6" stroke-width="0.7"/>
<path d="M226.6 684.9L226.6 683L226.7 681L226.8 679.1L226.9 677.2L227 675.2L227.1 673.3L227.3 671.4L227.5 669.4L227.7 667.5L228 665.6L228.3 663.6L228.7 661.7L229.1 659.8L229.6 657.8L230.1 655.9L230.6 654L231.1 652L231.7 650.1L232.3 648.2L232.9 646.3L233.5 644.3L234.1 642.4L234.7 640.5L235.2 638.5L235.7 636.6L236.1 634.7L236.4 632.7L236.7 630.8L236.8 628.9L236.9 626.9L236.9 625L236.7 623.1L236.5 621.1L236.2 619.2L235.8 617.3L235.4 615.3L234.9 613.4L234.3 611.5L233.7 609.5L233.1 607.6L232.5 605.7L231.9 603.7L231.3 601.8L230.8 599.9L230.2 597.9L229.7 596L229.3 594.1L228.8 592.1L228.5 590.2L228.1 588.3L227.8 586.3L227.6 584.4L227.4 582.5L227.2 580.6L227 578.6L226.9 576.7L226.8 574.8L226.7 572.8L226.6 570.9L226.6 569" fill="none" stroke="#A970DE" stroke-width="1"/>
<line x1="260" y1="648.3" x2="260" y2="667.73" stroke="#D9A52A" stroke-width="1"/>
<line x1="256.7" y1="648.3" x2="263.3" y2="648.3" stroke="#D9A52A" stroke-width="1"/>
<line x1="256.7" y1="667.73" x2="263.3" y2="667.73" stroke="#D9A52A" stroke-width="1"/>
<rect x="253.6" y="655.1" width="12.8" height="5.18" fill="#FAB4FA" stroke="#D9A52A" stroke-width="1"/>
<line x1="253.6" y1="657.69" x2="266.4" y2="657.69" stroke="#D9A52A" stroke-width="1"/>
<circle cx="260" cy="657.69" r="1.1" fill="none" stroke="#D9A52A" stroke-width="0.6" opacity="0.85"/>
<path d="M271.8 666.4l2.5 2.5M271.8 668.9l2.5 -2.5M273 666.1v3.1M270 665.9l2.5 2.5M270 668.4l2.5 -2.5M271.3 665.6v3.1M269.3 665.6l2.5 2.5M269.3 668.1l2.5 -2.5M270.6 665.3v3.1M270.8 664.8l2.5 2.5M270.8 667.3l2.5 -2.5M272 664.5v3.1M268.5 664.6l2.5 2.5M268.5 667.1l2.5 -2.5M269.8 664.3v3.1M271.1 664.2l2.5 2.5M271.1 666.7l2.5 -2.5M272.3 663.9v3.1M270.5 663.8l2.5 2.5M270.5 666.2l2.5 -2.5M271.7 663.4v3.1M271.1 663.1l2.5 2.5M271.1 665.6l2.5 -2.5M272.3 662.8v3.1M268.5 662.8l2.5 2.5M268.5 665.3l2.5 -2.5M269.8 662.5v3.1M272 662.7l2.5 2.5M272 665.1l2.5 -2.5M273.3 662.3v3.1M273.1 662.1l2.5 2.5M273.1 664.5l2.5 -2.5M274.4 661.8v3.1M274 661.5l2.5 2.5M274 663.9l2.5 -2.5M275.3 661.1v3.1M274.8 661.2l2.5 2.5M274.8 663.7l2.5 -2.5M276.1 660.9v3.1M274.7 660.6l2.5 2.5M274.7 663.1l2.5 -2.5M276 660.3v3.1M274.1 660.5l2.5 2.5M274.1 663l2.5 -2.5M275.3 660.2v3.1M276 659.9l2.5 2.5M276 662.4l2.5 -2.5M277.3 659.6v3.1M270.2 659.3l2.5 2.5M270.2 661.7l2.5 -2.5M271.4 658.9v3.1M270.7 659.1l2.5 2.5M270.7 661.6l2.5 -2.5M271.9 658.8v3.1M270.9 658.9l2.5 2.5M270.9 661.4l2.5 -2.5M272.1 658.6v3.1M269.5 658.7l2.5 2.5M269.5 661.2l2.5 -2.5M270.7 658.4v3.1M272.5 658.6l2.5 2.5M272.5 661.1l2.5 -2.5M273.7 658.3v3.1M271.8 658.5l2.5 2.5M271.8 661l2.5 -2.5M273.1 658.2v3.1M276.6 658.2l2.5 2.5M276.6 660.7l2.5 -2.5M277.8 657.9v3.1M268.5 658.2l2.5 2.5M268.5 660.7l2.5 -2.5M269.8 657.9v3.1M277.4 658l2.5 2.5M277.4 660.4l2.5 -2.5M278.7 657.6v3.1M269.7 657.8l2.5 2.5M269.7 660.3l2.5 -2.5M270.9 657.5v3.1M277.1 657.8l2.5 2.5M277.1 660.2l2.5 -2.5M278.4 657.4v3.1M268.7 657.5l2.5 2.5M268.7 660l2.5 -2.5M269.9 657.2v3.1M272.5 657.5l2.5 2.5M272.5 659.9l2.5 -2.5M273.7 657.2v3.1M275.7 657.3l2.5 2.5M275.7 659.8l2.5 -2.5M276.9 657v3.1M275.9 657.1l2.5 2.5M275.9 659.6l2.5 -2.5M277.2 656.8v3.1M273.4 657l2.5 2.5M273.4 659.5l2.5 -2.5M274.7 656.7v3.1M275.2 656.8l2.5 2.5M275.2 659.2l2.5 -2.5M276.5 656.4v3.1M269.4 656.7l2.5 2.5M269.4 659.2l2.5 -2.5M270.7 656.4v3.1M272 656.5l2.5 2.5M272 659l2.5 -2.5M273.3 656.2v3.1M273.1 656.4l2.5 2.5M273.1 658.9l2.5 -2.5M274.3 656.1v3.1M277.8 656.2l2.5 2.5M277.8 658.7l2.5 -2.5M279.1 655.9v3.1M273.9 656.1l2.5 2.5M273.9 658.6l2.5 -2.5M275.2 655.8v3.1M273.7 656l2.5 2.5M273.7 658.5l2.5 -2.5M274.9 655.7v3.1M269.7 655.8l2.5 2.5M269.7 658.2l2.5 -2.5M270.9 655.4v3.1M275.2 655.6l2.5 2.5M275.2 658.1l2.5 -2.5M276.5 655.3v3.1M275.8 655.6l2.5 2.5M275.8 658l2.5 -2.5M277.1 655.3v3.1M273.2 655.4l2.5 2.5M273.2 657.8l2.5 -2.5M274.4 655v3.1M275.9 655.2l2.5 2.5M275.9 657.7l2.5 -2.5M277.2 654.9v3.1M273.1 655.1l2.5 2.5M273.1 657.6l2.5 -2.5M274.4 654.8v3.1M272 655l2.5 2.5M272 657.4l2.5 -2.5M273.2 654.7v3.1M268.6 654.8l2.5 2.5M268.6 657.3l2.5 -2.5M269.8 654.5v3.1M272.5 654.6l2.5 2.5M272.5 657.1l2.5 -2.5M273.8 654.3v3.1M276.8 654.4l2.5 2.5M276.8 656.9l2.5 -2.5M278 654.1v3.1M273.2 654.3l2.5 2.5M273.2 656.8l2.5 -2.5M274.4 654v3.1M276.7 654.1l2.5 2.5M276.7 656.6l2.5 -2.5M278 653.8v3.1M277 653.9l2.5 2.5M277 656.4l2.5 -2.5M278.3 653.6v3.1M269.8 653.9l2.5 2.5M269.8 656.4l2.5 -2.5M271.1 653.6v3.1M269 653.3l2.5 2.5M269 655.8l2.5 -2.5M270.2 653v3.1M274.3 653.1l2.5 2.5M274.3 655.6l2.5 -2.5M275.5 652.8v3.1M271.3 652.7l2.5 2.5M271.3 655.2l2.5 -2.5M272.5 652.4v3.1M270.5 652.1l2.5 2.5M270.5 654.6l2.5 -2.5M271.7 651.8v3.1M273.9 651.9l2.5 2.5M273.9 654.4l2.5 -2.5M275.2 651.6v3.1M270.6 651.7l2.5 2.5M270.6 654.2l2.5 -2.5M271.9 651.4v3.1M271.7 651.1l2.5 2.5M271.7 653.6l2.5 -2.5M272.9 650.8v3.1M270.9 650.9l2.5 2.5M270.9 653.3l2.5 -2.5M272.1 650.6v3.1M268.8 650.5l2.5 2.5M268.8 653l2.5 -2.5M270 650.2v3.1M269 650l2.5 2.5M269 652.5l2.5 -2.5M270.2 649.7v3.1M269.4 649.4l2.5 2.5M269.4 651.9l2.5 -2.5M270.6 649.1v3.1M271.2 649.3l2.5 2.5M271.2 651.8l2.5 -2.5M272.5 649v3.1M269.3 648.7l2.5 2.5M269.3 651.2l2.5 -2.5M270.5 648.4v3.1M270.6 648.3l2.5 2.5M270.6 650.8l2.5 -2.5M271.8 648v3.1M270.6 648.1l2.5 2.5M270.6 650.6l2.5 -2.5M271.8 647.8v3.1M269.3 647.7l2.5 2.5M269.3 650.2l2.5 -2.5M270.5 647.4v3.1M269.9 647.1l2.5 2.5M269.9 649.6l2.5 -2.5M271.1 646.8v3.1" fill="none" stroke="#E0B040" stroke-width="0.55"/>
<path d="M268.6 678.1L268.6 677.5L268.6 676.8L268.6 676.2L268.7 675.5L268.7 674.9L268.7 674.3L268.8 673.6L268.8 673L268.9 672.4L269.1 671.7L269.2 671.1L269.4 670.5L269.6 669.8L269.9 669.2L270.3 668.5L270.7 667.9L271.1 667.3L271.7 666.6L272.3 666L273 665.4L273.7 664.7L274.4 664.1L275.2 663.4L276 662.8L276.8 662.2L277.5 661.5L278.2 660.9L278.8 660.3L279.3 659.6L279.7 659L279.9 658.4L280 657.7L279.9 657.1L279.7 656.4L279.4 655.8L278.9 655.2L278.3 654.5L277.6 653.9L276.9 653.3L276.1 652.6L275.3 652L274.5 651.3L273.7 650.7L273 650.1L272.3 649.4L271.7 648.8L271.2 648.2L270.7 647.5L270.3 646.9L269.9 646.3L269.6 645.6L269.4 645L269.2 644.3L269.1 643.7L268.9 643.1L268.9 642.4L268.8 641.8L268.7 641.2L268.7 640.5L268.7 639.9" fill="none" stroke="#D4A020" stroke-width="1"/>
<line x1="302.2" y1="635.67" x2="302.2" y2="675.51" stroke="#2EC4C4" stroke-width="1"/>
<line x1="298.9" y1="635.67" x2="305.5" y2="635.67" stroke="#2EC4C4" stroke-width="1"/>
<line x1="298.9" y1="675.51" x2="305.5" y2="675.51" stroke="#2EC4C4" stroke-width="1"/>
<rect x="295.8" y="649.27" width="12.8" height="11.66" fill="#B4B68F" stroke="#2EC4C4" stroke-width="1"/>
<line x1="295.8" y1="655.1" x2="308.6" y2="655.1" stroke="#2EC4C4" stroke-width="1"/>
<circle cx="302.2" cy="655.1" r="1.1" fill="none" stroke="#2EC4C4" stroke-width="0.6" opacity="0.85"/>
<path d="M310.9 674.5l2.8 -1.6v3.1zM310.4 674.2l2.8 -1.6v3.1zM312.2 672.3l2.8 -1.6v3.1zM310.4 672l2.8 -1.6v3.1zM312.1 669.9l2.8 -1.6v3.1zM310.4 668.7l2.8 -1.6v3.1zM310.8 667.8l2.8 -1.6v3.1zM313.7 666.5l2.8 -1.6v3.1zM311.6 665.5l2.8 -1.6v3.1zM311 663.9l2.8 -1.6v3.1zM315.1 663.8l2.8 -1.6v3.1zM310.8 662.6l2.8 -1.6v3.1zM315.7 661l2.8 -1.6v3.1zM316.5 660.3l2.8 -1.6v3.1zM315.9 660.2l2.8 -1.6v3.1zM311.3 659.4l2.8 -1.6v3.1zM312.6 658.9l2.8 -1.6v3.1zM310.3 658.7l2.8 -1.6v3.1zM315.1 658l2.8 -1.6v3.1zM314.7 657.5l2.8 -1.6v3.1zM312.3 657.4l2.8 -1.6v3.1zM319.4 656.8l2.8 -1.6v3.1zM311.1 656.4l2.8 -1.6v3.1zM311 655.9l2.8 -1.6v3.1zM316.3 655.4l2.8 -1.6v3.1zM312 654.8l2.8 -1.6v3.1zM315 654.6l2.8 -1.6v3.1zM314.6 653.8l2.8 -1.6v3.1zM319 653.4l2.8 -1.6v3.1zM312.8 653.2l2.8 -1.6v3.1zM315.3 652.5l2.8 -1.6v3.1zM315.4 651.9l2.8 -1.6v3.1zM314.1 651.5l2.8 -1.6v3.1zM317.9 651l2.8 -1.6v3.1zM311.2 650.8l2.8 -1.6v3.1zM313.4 650.3l2.8 -1.6v3.1zM312.5 649.6l2.8 -1.6v3.1zM315.6 649.1l2.8 -1.6v3.1zM311.2 647.7l2.8 -1.6v3.1zM312.7 646.8l2.8 -1.6v3.1zM314.8 646.4l2.8 -1.6v3.1zM313.8 644.5l2.8 -1.6v3.1zM316.1 644.3l2.8 -1.6v3.1zM313.6 642.9l2.8 -1.6v3.1zM311.4 641.4l2.8 -1.6v3.1zM311.6 640.7l2.8 -1.6v3.1zM310.5 639.9l2.8 -1.6v3.1zM311.7 638.2l2.8 -1.6v3.1zM310.5 636.9l2.8 -1.6v3.1zM310.9 636.4l2.8 -1.6v3.1z" fill="none" stroke="#3CC8C8" stroke-width="0.7"/>
<path d="M310.8 695.6L310.8 694.3L310.9 693L310.9 691.7L310.9 690.4L311 689.1L311 687.7L311.1 686.4L311.2 685.1L311.4 683.8L311.5 682.5L311.7 681.2L312 679.9L312.3 678.6L312.7 677.3L313.1 676L313.6 674.7L314.1 673.4L314.8 672.1L315.4 670.8L316.1 669.5L316.9 668.2L317.6 666.8L318.4 665.5L319.1 664.2L319.8 662.9L320.5 661.6L321 660.3L321.5 659L321.8 657.7L322 656.4L322.1 655.1L322 653.8L321.8 652.5L321.5 651.2L321 649.9L320.5 648.6L319.8 647.3L319.1 645.9L318.4 644.6L317.6 643.3L316.9 642L316.1 640.7L315.4 639.4L314.7 638.1L314.1 636.8L313.6 635.5L313.1 634.2L312.7 632.9L312.3 631.6L312 630.3L311.7 629L311.5 627.7L311.4 626.4L311.2 625L311.1 623.7L311 622.4L311 621.1L310.9 619.8L310.9 618.5L310.9 617.2" fill="none" stroke="#22C0C0" stroke-width="1"/>
<line x1="35.9" y1="541.9" x2="35.9" y2="769.1" stroke="#3a3a3a" stroke-width="1.2"/>
<line x1="35.3" y1="769.1" x2="332.7" y2="769.1" stroke="#3a3a3a" stroke-width="1.2"/>
<line x1="32.3" y1="769.1" x2="35.9" y2="769.1" stroke="#3a3a3a" stroke-width="1.1"/>
<text transform="translate(28.4,772.1) scale(0.86,1)" text-anchor="end" font-size="9.9" fill="#222">0</text>
<line x1="33.9" y1="752.91" x2="35.9" y2="752.91" stroke="#3a3a3a" stroke-width="1.1"/>
<line x1="32.3" y1="736.71" x2="35.9" y2="736.71" stroke="#3a3a3a" stroke-width="1.1"/>
<text transform="translate(28.4,739.71) scale(0.86,1)" text-anchor="end" font-size="9.9" fill="#222">10</text>
<line x1="33.9" y1="720.52" x2="35.9" y2="720.52" stroke="#3a3a3a" stroke-width="1.1"/>
<line x1="32.3" y1="704.33" x2="35.9" y2="704.33" stroke="#3a3a3a" stroke-width="1.1"/>
<text transform="translate(28.4,707.33) scale(0.86,1)" text-anchor="end" font-size="9.9" fill="#222">20</text>
<line x1="33.9" y1="688.14" x2="35.9" y2="688.14" stroke="#3a3a3a" stroke-width="1.1"/>
<line x1="32.3" y1="671.94" x2="35.9" y2="671.94" stroke="#3a3a3a" stroke-width="1.1"/>
<text transform="translate(28.4,674.94) scale(0.86,1)" text-anchor="end" font-size="9.9" fill="#222">30</text>
<line x1="33.9" y1="655.75" x2="35.9" y2="655.75" stroke="#3a3a3a" stroke-width="1.1"/>
<line x1="32.3" y1="639.56" x2="35.9" y2="639.56" stroke="#3a3a3a" stroke-width="1.1"/>
<text transform="translate(28.4,642.56) scale(0.86,1)" text-anchor="end" font-size="9.9" fill="#222">40</text>
<line x1="33.9" y1="623.36" x2="35.9" y2="623.36" stroke="#3a3a3a" stroke-width="1.1"/>
<line x1="32.3" y1="607.17" x2="35.9" y2="607.17" stroke="#3a3a3a" stroke-width="1.1"/>
<text transform="translate(28.4,610.17) scale(0.86,1)" text-anchor="end" font-size="9.9" fill="#222">50</text>
<line x1="33.9" y1="590.98" x2="35.9" y2="590.98" stroke="#3a3a3a" stroke-width="1.1"/>
<line x1="32.3" y1="574.79" x2="35.9" y2="574.79" stroke="#3a3a3a" stroke-width="1.1"/>
<text transform="translate(28.4,577.79) scale(0.86,1)" text-anchor="end" font-size="9.9" fill="#222">60</text>
<line x1="33.9" y1="558.59" x2="35.9" y2="558.59" stroke="#3a3a3a" stroke-width="1.1"/>
<line x1="32.3" y1="542.4" x2="35.9" y2="542.4" stroke="#3a3a3a" stroke-width="1.1"/>
<text transform="translate(28.4,545.4) scale(0.86,1)" text-anchor="end" font-size="9.9" fill="#222">70</text>
<line x1="57.3" y1="769.1" x2="57.3" y2="773.3" stroke="#3a3a3a" stroke-width="1.1"/>
<text x="57.3" y="783.8" text-anchor="middle" font-size="9.2" fill="#222">Core</text>
<line x1="99.5" y1="769.1" x2="99.5" y2="773.3" stroke="#3a3a3a" stroke-width="1.1"/>
<text x="99.5" y="783.8" text-anchor="middle" font-size="9.2" fill="#222">JSMS</text>
<line x1="141.7" y1="769.1" x2="141.7" y2="773.3" stroke="#3a3a3a" stroke-width="1.1"/>
<text x="141.7" y="783.8" text-anchor="middle" font-size="9.2" fill="#222">AIJ</text>
<line x1="183.9" y1="769.1" x2="183.9" y2="773.3" stroke="#3a3a3a" stroke-width="1.1"/>
<text x="183.9" y="783.8" text-anchor="middle" font-size="9.2" fill="#222">US Army</text>
<line x1="226.1" y1="769.1" x2="226.1" y2="773.3" stroke="#3a3a3a" stroke-width="1.1"/>
<text x="226.1" y="783.8" text-anchor="middle" font-size="9.2" fill="#222">KMST</text>
<line x1="268.3" y1="769.1" x2="268.3" y2="773.3" stroke="#3a3a3a" stroke-width="1.1"/>
<text x="268.3" y="783.8" text-anchor="middle" font-size="9.2" fill="#222">JSMS</text>
<line x1="310.5" y1="769.1" x2="310.5" y2="773.3" stroke="#3a3a3a" stroke-width="1.1"/>
<text x="310.5" y="783.8" text-anchor="middle" font-size="9.2" fill="#222">AIJ</text>
<text transform="translate(8.7,655.75) rotate(-90)" text-anchor="middle" font-size="10.9" fill="#222">Compressive strength (MPa)</text>
<rect x="82" y="540.1" width="139.6" height="20.3" fill="#fff" stroke="#111" stroke-width="1.3"/>
<text x="151.2" y="554.8" text-anchor="middle" font-size="13.6" fill="#111">Guro Overpass, girder</text>
<text x="77.7" y="572.5" font-size="12.5" fill="#111">RHT</text>
<text x="251.5" y="572.7" font-size="12.5" fill="#111">UPVT</text>
<line x1="423.1" y1="542.4" x2="423.1" y2="769.1" stroke="#111" stroke-width="1.3" stroke-dasharray="4.7 4.75" stroke-dashoffset="4.65"/>
<line x1="596.4" y1="542.4" x2="596.4" y2="769.1" stroke="#111" stroke-width="1.3" stroke-dasharray="4.7 4.75" stroke-dashoffset="4.65"/>
<line x1="397.7" y1="596.81" x2="397.7" y2="730.56" stroke="#6a6a6a" stroke-width="1"/>
<line x1="394.4" y1="596.81" x2="401" y2="596.81" stroke="#6a6a6a" stroke-width="1"/>
<line x1="394.4" y1="730.56" x2="401" y2="730.56" stroke="#6a6a6a" stroke-width="1"/>
<rect x="391.3" y="630.17" width="12.8" height="64.45" fill="#FFCC8F" stroke="#6a6a6a" stroke-width="1"/>
<line x1="391.3" y1="674.21" x2="404.1" y2="674.21" stroke="#5a5040" stroke-width="1"/>
<circle cx="397.7" cy="665.79" r="1.1" fill="none" stroke="#5a5040" stroke-width="0.6" opacity="0.85"/>
<path d="M408.7 726.3h2.9v2.9h-2.9zM406.8 723.8h2.9v2.9h-2.9zM408.2 721.9h2.9v2.9h-2.9zM408.5 716.6h2.9v2.9h-2.9zM408.6 713.4h2.9v2.9h-2.9zM409.1 710.2h2.9v2.9h-2.9zM407.8 704.9h2.9v2.9h-2.9zM409.3 702h2.9v2.9h-2.9zM408.9 699.7h2.9v2.9h-2.9zM407.5 693.9h2.9v2.9h-2.9zM410.3 691.5h2.9v2.9h-2.9zM408.1 689.4h2.9v2.9h-2.9zM411.3 688.9h2.9v2.9h-2.9zM409 685.4h2.9v2.9h-2.9zM407.3 684.8h2.9v2.9h-2.9zM408 681.7h2.9v2.9h-2.9zM410.4 679h2.9v2.9h-2.9zM411 678.5h2.9v2.9h-2.9zM413.3 676.1h2.9v2.9h-2.9zM410.1 672.9h2.9v2.9h-2.9zM411.7 669.9h2.9v2.9h-2.9zM414.1 664.8h2.9v2.9h-2.9zM408.9 663.8h2.9v2.9h-2.9zM408.4 656.9h2.9v2.9h-2.9zM406.6 652.5h2.9v2.9h-2.9zM410 646.9h2.9v2.9h-2.9zM411 645.8h2.9v2.9h-2.9zM407.3 640.6h2.9v2.9h-2.9zM406.8 635.4h2.9v2.9h-2.9zM411.3 632.2h2.9v2.9h-2.9zM405.9 626.4h2.9v2.9h-2.9zM405.9 622.8h2.9v2.9h-2.9zM410.2 620.9h2.9v2.9h-2.9zM407.2 616.6h2.9v2.9h-2.9zM407.4 614.1h2.9v2.9h-2.9zM409.4 611.6h2.9v2.9h-2.9zM407.3 608.5h2.9v2.9h-2.9zM407.2 602.9h2.9v2.9h-2.9zM406.7 598.8h2.9v2.9h-2.9zM409 595.4h2.9v2.9h-2.9z" fill="#4a4a4a"/>
<path d="M408.5 737L408.7 734.6L409 732.2L409.2 729.7L409.5 727.3L409.8 724.8L410.1 722.4L410.4 720L410.7 717.5L411.1 715.1L411.4 712.6L411.8 710.2L412.1 707.8L412.5 705.3L412.8 702.9L413.2 700.4L413.5 698L413.8 695.6L414.2 693.1L414.5 690.7L414.8 688.2L415 685.8L415.3 683.4L415.5 680.9L415.7 678.5L415.9 676L416 673.6L416.2 671.2L416.2 668.7L416.3 666.3L416.3 663.8L416.3 661.4L416.2 659L416.2 656.5L416 654.1L415.9 651.6L415.7 649.2L415.5 646.8L415.3 644.3L415 641.9L414.8 639.4L414.5 637L414.2 634.6L413.8 632.1L413.5 629.7L413.2 627.3L412.8 624.8L412.5 622.4L412.1 619.9L411.8 617.5L411.4 615.1L411.1 612.6L410.7 610.2L410.4 607.7L410.1 605.3L409.8 602.9L409.5 600.4L409.2 598L409 595.5L408.7 593.1L408.5 590.7" fill="none" stroke="#404040" stroke-width="1"/>
<line x1="440" y1="697.53" x2="440" y2="724.08" stroke="#E55A5A" stroke-width="1"/>
<line x1="436.7" y1="697.53" x2="443.3" y2="697.53" stroke="#E55A5A" stroke-width="1"/>
<line x1="436.7" y1="724.08" x2="443.3" y2="724.08" stroke="#E55A5A" stroke-width="1"/>
<rect x="433.6" y="706.92" width="12.8" height="7.12" fill="#9DD79A" stroke="#E55A5A" stroke-width="1"/>
<line x1="433.6" y1="710.48" x2="446.4" y2="710.48" stroke="#DE6055" stroke-width="1"/>
<rect x="439" y="708.66" width="2" height="2" fill="#DE6055" opacity="0.7"/>
<path d="M451.2 723a1.6 1.6 0 1 0 3.1 0a1.6 1.6 0 1 0 -3.1 0M451 721.8a1.6 1.6 0 1 0 3.1 0a1.6 1.6 0 1 0 -3.1 0M449.9 719.6a1.6 1.6 0 1 0 3.1 0a1.6 1.6 0 1 0 -3.1 0M450.8 718.5a1.6 1.6 0 1 0 3.1 0a1.6 1.6 0 1 0 -3.1 0M448.5 717a1.6 1.6 0 1 0 3.1 0a1.6 1.6 0 1 0 -3.1 0M449.8 714.9a1.6 1.6 0 1 0 3.1 0a1.6 1.6 0 1 0 -3.1 0M453.6 713.9a1.6 1.6 0 1 0 3.1 0a1.6 1.6 0 1 0 -3.1 0M448.2 713.5a1.6 1.6 0 1 0 3.1 0a1.6 1.6 0 1 0 -3.1 0M452.6 713a1.6 1.6 0 1 0 3.1 0a1.6 1.6 0 1 0 -3.1 0M450.1 712.3a1.6 1.6 0 1 0 3.1 0a1.6 1.6 0 1 0 -3.1 0M455.7 711.6a1.6 1.6 0 1 0 3.1 0a1.6 1.6 0 1 0 -3.1 0M451.5 711.2a1.6 1.6 0 1 0 3.1 0a1.6 1.6 0 1 0 -3.1 0M453.3 710.3a1.6 1.6 0 1 0 3.1 0a1.6 1.6 0 1 0 -3.1 0M452.2 710a1.6 1.6 0 1 0 3.1 0a1.6 1.6 0 1 0 -3.1 0M449.3 709.4a1.6 1.6 0 1 0 3.1 0a1.6 1.6 0 1 0 -3.1 0M450.7 708.8a1.6 1.6 0 1 0 3.1 0a1.6 1.6 0 1 0 -3.1 0M450.9 708a1.6 1.6 0 1 0 3.1 0a1.6 1.6 0 1 0 -3.1 0M456.5 707.5a1.6 1.6 0 1 0 3.1 0a1.6 1.6 0 1 0 -3.1 0M451.2 706.7a1.6 1.6 0 1 0 3.1 0a1.6 1.6 0 1 0 -3.1 0M450.6 705.6a1.6 1.6 0 1 0 3.1 0a1.6 1.6 0 1 0 -3.1 0M451.7 704.4a1.6 1.6 0 1 0 3.1 0a1.6 1.6 0 1 0 -3.1 0M453.8 702.3a1.6 1.6 0 1 0 3.1 0a1.6 1.6 0 1 0 -3.1 0M448.1 701.6a1.6 1.6 0 1 0 3.1 0a1.6 1.6 0 1 0 -3.1 0M448.3 699.9a1.6 1.6 0 1 0 3.1 0a1.6 1.6 0 1 0 -3.1 0M451 699a1.6 1.6 0 1 0 3.1 0a1.6 1.6 0 1 0 -3.1 0" fill="none" stroke="#EE7777" stroke-width="0.7"/>
<path d="M448.6 737L448.6 736L448.7 735.1L448.7 734.1L448.7 733.1L448.8 732.1L448.9 731.1L449 730.1L449.1 729.1L449.3 728.1L449.5 727.1L449.8 726.1L450.1 725.1L450.5 724.1L450.9 723.1L451.4 722.1L452 721.1L452.6 720.2L453.3 719.2L454.1 718.2L454.8 717.2L455.6 716.2L456.3 715.2L457 714.2L457.6 713.2L458.1 712.2L458.5 711.2L458.8 710.2L458.9 709.2L458.9 708.2L458.7 707.2L458.4 706.3L458 705.3L457.4 704.3L456.8 703.3L456.1 702.3L455.4 701.3L454.6 700.3L453.9 699.3L453.2 698.3L452.5 697.3L451.9 696.3L451.3 695.3L450.8 694.3L450.4 693.3L450 692.3L449.7 691.4L449.4 690.4L449.2 689.4L449.1 688.4L449 687.4L448.9 686.4L448.8 685.4L448.7 684.4L448.7 683.4L448.7 682.4L448.6 681.4L448.6 680.4L448.6 679.4L448.6 678.4L448.6 677.4" fill="none" stroke="#E54F4F" stroke-width="1"/>
<line x1="482.3" y1="687.49" x2="482.3" y2="702.39" stroke="#3F78D8" stroke-width="1"/>
<line x1="479" y1="687.49" x2="485.6" y2="687.49" stroke="#3F78D8" stroke-width="1"/>
<line x1="479" y1="702.39" x2="485.6" y2="702.39" stroke="#3F78D8" stroke-width="1"/>
<rect x="475.9" y="692.99" width="12.8" height="4.53" fill="#C9B6DC" stroke="#3F78D8" stroke-width="1"/>
<line x1="475.9" y1="695.26" x2="488.7" y2="695.26" stroke="#3F78D8" stroke-width="1"/>
<circle cx="482.3" cy="694.94" r="1.1" fill="none" stroke="#3F78D8" stroke-width="0.6" opacity="0.85"/>
<path d="M494.4 700.7l1.6 2.8h-3.1zM495.2 699.8l1.6 2.8h-3.1zM492.2 698.6l1.6 2.8h-3.1zM496.7 698.4l1.6 2.8h-3.1zM494.6 697.2l1.6 2.8h-3.1zM497.9 696.3l1.6 2.8h-3.1zM495.6 695.9l1.6 2.8h-3.1zM494.8 695.7l1.6 2.8h-3.1zM497.1 695.3l1.6 2.8h-3.1zM493.1 694.8l1.6 2.8h-3.1zM492.8 694.4l1.6 2.8h-3.1zM497.6 694.2l1.6 2.8h-3.1zM500 693.7l1.6 2.8h-3.1zM498.2 693.3l1.6 2.8h-3.1zM499.4 693.1l1.6 2.8h-3.1zM497.4 692.8l1.6 2.8h-3.1zM499.8 692.1l1.6 2.8h-3.1zM495.7 691.8l1.6 2.8h-3.1zM498.4 691.5l1.6 2.8h-3.1zM499.4 691.1l1.6 2.8h-3.1zM494.7 689.5l1.6 2.8h-3.1zM494.4 688.8l1.6 2.8h-3.1zM495.4 688.3l1.6 2.8h-3.1zM495.2 687.6l1.6 2.8h-3.1zM492.9 686l1.6 2.8h-3.1z" fill="none" stroke="#5A8DE0" stroke-width="0.7"/>
<path d="M490.9 711.5L491 710.9L491 710.3L491 709.7L491.1 709.1L491.2 708.5L491.2 708L491.4 707.4L491.5 706.8L491.7 706.2L491.9 705.6L492.2 705L492.6 704.5L493 703.9L493.5 703.3L494 702.7L494.6 702.1L495.3 701.5L496 701L496.7 700.4L497.4 699.8L498.2 699.2L498.9 698.6L499.5 698L500.1 697.5L500.6 696.9L501 696.3L501.3 695.7L501.4 695.1L501.4 694.5L501.2 694L500.9 693.4L500.5 692.8L499.9 692.2L499.3 691.6L498.6 691.1L497.9 690.5L497.2 689.9L496.4 689.3L495.7 688.7L495 688.1L494.4 687.6L493.8 687L493.3 686.4L492.9 685.8L492.5 685.2L492.1 684.6L491.9 684.1L491.6 683.5L491.5 682.9L491.3 682.3L491.2 681.7L491.1 681.1L491.1 680.6L491 680L491 679.4L491 678.8L490.9 678.2L490.9 677.6L490.9 677.1L490.9 676.5" fill="none" stroke="#2F6AD6" stroke-width="1"/>
<line x1="524.6" y1="693.64" x2="524.6" y2="724.73" stroke="#3FAA6A" stroke-width="1"/>
<line x1="521.3" y1="693.64" x2="527.9" y2="693.64" stroke="#3FAA6A" stroke-width="1"/>
<line x1="521.3" y1="724.73" x2="527.9" y2="724.73" stroke="#3FAA6A" stroke-width="1"/>
<rect x="518.2" y="705.3" width="12.8" height="9.07" fill="#FFFF9E" stroke="#3FAA6A" stroke-width="1"/>
<line x1="518.2" y1="710.16" x2="531" y2="710.16" stroke="#3FAA6A" stroke-width="1"/>
<circle cx="524.6" cy="707.57" r="1.1" fill="none" stroke="#3FAA6A" stroke-width="0.6" opacity="0.85"/>
<path d="M534.5 725.3l1.6 -2.8h-3.1zM535.2 724.4l1.6 -2.8h-3.1zM535.7 723.2l1.6 -2.8h-3.1zM534.3 722.2l1.6 -2.8h-3.1zM537.1 722l1.6 -2.8h-3.1zM536.3 720.4l1.6 -2.8h-3.1zM534.9 720l1.6 -2.8h-3.1zM534.5 718.6l1.6 -2.8h-3.1zM538.9 717l1.6 -2.8h-3.1zM538.9 716l1.6 -2.8h-3.1zM534.7 715.8l1.6 -2.8h-3.1zM535 715.2l1.6 -2.8h-3.1zM537.6 714.8l1.6 -2.8h-3.1zM534.8 714.4l1.6 -2.8h-3.1zM538.2 714.2l1.6 -2.8h-3.1zM538.3 713.8l1.6 -2.8h-3.1zM536.5 713.3l1.6 -2.8h-3.1zM538.9 712.9l1.6 -2.8h-3.1zM536.1 712.4l1.6 -2.8h-3.1zM539 712l1.6 -2.8h-3.1zM537.9 711.3l1.6 -2.8h-3.1zM537 711.1l1.6 -2.8h-3.1zM539.3 710.6l1.6 -2.8h-3.1zM539.3 709.9l1.6 -2.8h-3.1zM537.1 709.7l1.6 -2.8h-3.1zM538.2 709.1l1.6 -2.8h-3.1zM543.1 708.6l1.6 -2.8h-3.1zM540.1 708l1.6 -2.8h-3.1zM539.9 707.5l1.6 -2.8h-3.1zM537.4 706.9l1.6 -2.8h-3.1zM542.5 706.1l1.6 -2.8h-3.1zM539.4 705.5l1.6 -2.8h-3.1zM534.7 704.1l1.6 -2.8h-3.1zM539.8 703.3l1.6 -2.8h-3.1zM538.9 702.1l1.6 -2.8h-3.1zM536.4 700.9l1.6 -2.8h-3.1zM537.1 699.8l1.6 -2.8h-3.1zM535.1 697.8l1.6 -2.8h-3.1zM537.4 696.9l1.6 -2.8h-3.1zM535.8 696l1.6 -2.8h-3.1z" fill="none" stroke="#4FB578" stroke-width="0.7"/>
<path d="M533.3 737L533.3 735.9L533.4 734.8L533.5 733.7L533.6 732.6L533.7 731.5L533.8 730.4L534 729.3L534.3 728.1L534.6 727L534.9 725.9L535.3 724.8L535.8 723.7L536.3 722.6L536.9 721.5L537.6 720.4L538.2 719.2L539 718.1L539.7 717L540.4 715.9L541.1 714.8L541.8 713.7L542.4 712.6L542.9 711.5L543.3 710.4L543.5 709.2L543.7 708.1L543.7 707L543.5 705.9L543.3 704.8L542.9 703.7L542.4 702.6L541.8 701.5L541.1 700.3L540.4 699.2L539.7 698.1L539 697L538.3 695.9L537.6 694.8L536.9 693.7L536.3 692.6L535.8 691.4L535.3 690.3L534.9 689.2L534.6 688.1L534.3 687L534 685.9L533.8 684.8L533.7 683.7L533.6 682.6L533.5 681.4L533.4 680.3L533.3 679.2L533.3 678.1L533.3 677L533.2 675.9L533.2 674.8L533.2 673.7L533.2 672.5L533.2 671.4L533.2 670.3" fill="none" stroke="#30A060" stroke-width="1"/>
<line x1="566.9" y1="688.46" x2="566.9" y2="734.45" stroke="#B07CE0" stroke-width="1"/>
<line x1="563.6" y1="688.46" x2="570.2" y2="688.46" stroke="#B07CE0" stroke-width="1"/>
<line x1="563.6" y1="734.45" x2="570.2" y2="734.45" stroke="#B07CE0" stroke-width="1"/>
<rect x="560.5" y="705.3" width="12.8" height="12.95" fill="#9EBEF5" stroke="#B07CE0" stroke-width="1"/>
<line x1="560.5" y1="711.45" x2="573.3" y2="711.45" stroke="#B07CE0" stroke-width="1"/>
<circle cx="566.9" cy="708.86" r="1.1" fill="none" stroke="#B07CE0" stroke-width="0.6" opacity="0.85"/>
<path d="M579.5 731.9l1.6 1.6l-1.6 1.6l-1.6 -1.6zM579.5 731.9v3.1M578 733.4h3.1M578.8 731.2l1.6 1.6l-1.6 1.6l-1.6 -1.6zM578.8 731.2v3.1M577.3 732.8h3.1M576.9 729.8l1.6 1.6l-1.6 1.6l-1.6 -1.6zM576.9 729.8v3.1M575.3 731.4h3.1M576.7 727.2l1.6 1.6l-1.6 1.6l-1.6 -1.6zM576.7 727.2v3.1M575.1 728.7h3.1M579.1 725.8l1.6 1.6l-1.6 1.6l-1.6 -1.6zM579.1 725.8v3.1M577.6 727.4h3.1M579.1 724.7l1.6 1.6l-1.6 1.6l-1.6 -1.6zM579.1 724.7v3.1M577.5 726.3h3.1M577.6 723.3l1.6 1.6l-1.6 1.6l-1.6 -1.6zM577.6 723.3v3.1M576 724.9h3.1M577.4 722.2l1.6 1.6l-1.6 1.6l-1.6 -1.6zM577.4 722.2v3.1M575.8 723.7h3.1M580.6 720.1l1.6 1.6l-1.6 1.6l-1.6 -1.6zM580.6 720.1v3.1M579 721.7h3.1M577.8 718.8l1.6 1.6l-1.6 1.6l-1.6 -1.6zM577.8 718.8v3.1M576.2 720.4h3.1M578.1 717.7l1.6 1.6l-1.6 1.6l-1.6 -1.6zM578.1 717.7v3.1M576.6 719.2h3.1M581.7 716.4l1.6 1.6l-1.6 1.6l-1.6 -1.6zM581.7 716.4v3.1M580.1 717.9h3.1M581.6 715.6l1.6 1.6l-1.6 1.6l-1.6 -1.6zM581.6 715.6v3.1M580.1 717.2h3.1M582.3 715.2l1.6 1.6l-1.6 1.6l-1.6 -1.6zM582.3 715.2v3.1M580.7 716.8h3.1M581 715l1.6 1.6l-1.6 1.6l-1.6 -1.6zM581 715v3.1M579.4 716.5h3.1M579.3 714.4l1.6 1.6l-1.6 1.6l-1.6 -1.6zM579.3 714.4v3.1M577.8 716h3.1M584.1 713.8l1.6 1.6l-1.6 1.6l-1.6 -1.6zM584.1 713.8v3.1M582.5 715.3h3.1M584 713.2l1.6 1.6l-1.6 1.6l-1.6 -1.6zM584 713.2v3.1M582.4 714.8h3.1M580.2 712.1l1.6 1.6l-1.6 1.6l-1.6 -1.6zM580.2 712.1v3.1M578.6 713.6h3.1M576.9 711.5l1.6 1.6l-1.6 1.6l-1.6 -1.6zM576.9 711.5v3.1M575.4 713.1h3.1M576.6 711.3l1.6 1.6l-1.6 1.6l-1.6 -1.6zM576.6 711.3v3.1M575 712.9h3.1M576.5 710.8l1.6 1.6l-1.6 1.6l-1.6 -1.6zM576.5 710.8v3.1M575 712.3h3.1M577.3 709.7l1.6 1.6l-1.6 1.6l-1.6 -1.6zM577.3 709.7v3.1M575.7 711.3h3.1M578.9 709.3l1.6 1.6l-1.6 1.6l-1.6 -1.6zM578.9 709.3v3.1M577.4 710.9h3.1M580.2 709l1.6 1.6l-1.6 1.6l-1.6 -1.6zM580.2 709v3.1M578.7 710.6h3.1M585.3 708.4l1.6 1.6l-1.6 1.6l-1.6 -1.6zM585.3 708.4v3.1M583.7 710h3.1M581.8 707.8l1.6 1.6l-1.6 1.6l-1.6 -1.6zM581.8 707.8v3.1M580.3 709.3h3.1M582.1 707.1l1.6 1.6l-1.6 1.6l-1.6 -1.6zM582.1 707.1v3.1M580.6 708.7h3.1M578.9 706.6l1.6 1.6l-1.6 1.6l-1.6 -1.6zM578.9 706.6v3.1M577.4 708.2h3.1M584.4 706.3l1.6 1.6l-1.6 1.6l-1.6 -1.6zM584.4 706.3v3.1M582.8 707.8h3.1M580.5 705.7l1.6 1.6l-1.6 1.6l-1.6 -1.6zM580.5 705.7v3.1M578.9 707.2h3.1M581.5 704.8l1.6 1.6l-1.6 1.6l-1.6 -1.6zM581.5 704.8v3.1M579.9 706.4h3.1M583.4 704.2l1.6 1.6l-1.6 1.6l-1.6 -1.6zM583.4 704.2v3.1M581.9 705.7h3.1M577.5 703.9l1.6 1.6l-1.6 1.6l-1.6 -1.6zM577.5 703.9v3.1M576 705.4h3.1M580.3 702.5l1.6 1.6l-1.6 1.6l-1.6 -1.6zM580.3 702.5v3.1M578.8 704h3.1M580.4 700.6l1.6 1.6l-1.6 1.6l-1.6 -1.6zM580.4 700.6v3.1M578.9 702.1h3.1M582.1 699.3l1.6 1.6l-1.6 1.6l-1.6 -1.6zM582.1 699.3v3.1M580.5 700.9h3.1M581.9 698.2l1.6 1.6l-1.6 1.6l-1.6 -1.6zM581.9 698.2v3.1M580.3 699.7h3.1M577.3 696l1.6 1.6l-1.6 1.6l-1.6 -1.6zM577.3 696v3.1M575.8 697.6h3.1M580.5 694.5l1.6 1.6l-1.6 1.6l-1.6 -1.6zM580.5 694.5v3.1M579 696.1h3.1M577.8 693.1l1.6 1.6l-1.6 1.6l-1.6 -1.6zM577.8 693.1v3.1M576.3 694.7h3.1M577 692.5l1.6 1.6l-1.6 1.6l-1.6 -1.6zM577 692.5v3.1M575.4 694.1h3.1M579.5 690.8l1.6 1.6l-1.6 1.6l-1.6 -1.6zM579.5 690.8v3.1M577.9 692.4h3.1M576.5 689.4l1.6 1.6l-1.6 1.6l-1.6 -1.6zM576.5 689.4v3.1M575 690.9h3.1M576.8 688l1.6 1.6l-1.6 1.6l-1.6 -1.6zM576.8 688v3.1M575.2 689.5h3.1" fill="none" stroke="#BE8EE6" stroke-width="0.7"/>
<path d="M576.4 737L576.7 735.7L577 734.3L577.3 732.9L577.7 731.6L578.2 730.2L578.7 728.8L579.3 727.5L579.9 726.1L580.5 724.7L581.2 723.4L581.9 722L582.6 720.7L583.2 719.3L583.9 717.9L584.5 716.6L585 715.2L585.4 713.8L585.7 712.5L585.9 711.1L586 709.7L586 708.4L585.8 707L585.5 705.6L585.1 704.3L584.6 702.9L584.1 701.5L583.5 700.2L582.8 698.8L582.1 697.4L581.4 696.1L580.7 694.7L580.1 693.3L579.4 692L578.9 690.6L578.3 689.2L577.9 687.9L577.4 686.5L577.1 685.1L576.8 683.8L576.5 682.4L576.3 681L576.1 679.7L576 678.3L575.9 677L575.8 675.6L575.7 674.2L575.6 672.9L575.6 671.5L575.6 670.1L575.6 668.8L575.5 667.4L575.5 666L575.5 664.7L575.5 663.3L575.5 661.9L575.5 660.6L575.5 659.2L575.5 657.8L575.5 656.5L575.5 655.1" fill="none" stroke="#A970DE" stroke-width="1"/>
<line x1="609.2" y1="648.3" x2="609.2" y2="681.98" stroke="#D9A52A" stroke-width="1"/>
<line x1="605.9" y1="648.3" x2="612.5" y2="648.3" stroke="#D9A52A" stroke-width="1"/>
<line x1="605.9" y1="681.98" x2="612.5" y2="681.98" stroke="#D9A52A" stroke-width="1"/>
<rect x="602.8" y="660.61" width="12.8" height="11.66" fill="#FAB4FA" stroke="#D9A52A" stroke-width="1"/>
<line x1="602.8" y1="666.76" x2="615.6" y2="666.76" stroke="#D9A52A" stroke-width="1"/>
<circle cx="609.2" cy="666.76" r="1.1" fill="none" stroke="#D9A52A" stroke-width="0.6" opacity="0.85"/>
<path d="M620.2 680.3l2.5 2.5M620.2 682.8l2.5 -2.5M621.5 680v3.1M617.9 679.5l2.5 2.5M617.9 682l2.5 -2.5M619.1 679.2v3.1M618 679.2l2.5 2.5M618 681.7l2.5 -2.5M619.2 678.9v3.1M620.5 678.2l2.5 2.5M620.5 680.7l2.5 -2.5M621.7 677.9v3.1M620.9 677.8l2.5 2.5M620.9 680.3l2.5 -2.5M622.1 677.5v3.1M620.4 677.2l2.5 2.5M620.4 679.6l2.5 -2.5M621.7 676.9v3.1M619.1 676.5l2.5 2.5M619.1 679l2.5 -2.5M620.3 676.2v3.1M621.6 675.6l2.5 2.5M621.6 678l2.5 -2.5M622.8 675.3v3.1M621.9 675.2l2.5 2.5M621.9 677.7l2.5 -2.5M623.2 674.9v3.1M621.9 674.5l2.5 2.5M621.9 677l2.5 -2.5M623.2 674.2v3.1M618.3 674.2l2.5 2.5M618.3 676.7l2.5 -2.5M619.5 673.9v3.1M621.3 673.5l2.5 2.5M621.3 676l2.5 -2.5M622.5 673.2v3.1M618.6 672.5l2.5 2.5M618.6 675l2.5 -2.5M619.9 672.2v3.1M618.4 672l2.5 2.5M618.4 674.5l2.5 -2.5M619.6 671.7v3.1M623.5 671.2l2.5 2.5M623.5 673.7l2.5 -2.5M624.7 670.9v3.1M625.2 671l2.5 2.5M625.2 673.5l2.5 -2.5M626.4 670.7v3.1M618.6 670.4l2.5 2.5M618.6 672.9l2.5 -2.5M619.8 670.1v3.1M618.9 670.2l2.5 2.5M618.9 672.6l2.5 -2.5M620.1 669.9v3.1M625.3 669.7l2.5 2.5M625.3 672.1l2.5 -2.5M626.5 669.3v3.1M619.1 669.5l2.5 2.5M619.1 672l2.5 -2.5M620.4 669.2v3.1M625.1 669l2.5 2.5M625.1 671.4l2.5 -2.5M626.3 668.7v3.1M621.6 668.6l2.5 2.5M621.6 671l2.5 -2.5M622.9 668.2v3.1M623.1 668.4l2.5 2.5M623.1 670.9l2.5 -2.5M624.3 668.1v3.1M624.9 667.9l2.5 2.5M624.9 670.4l2.5 -2.5M626.1 667.6v3.1M624.3 667.5l2.5 2.5M624.3 670l2.5 -2.5M625.6 667.2v3.1M623.4 667l2.5 2.5M623.4 669.5l2.5 -2.5M624.6 666.7v3.1M620.1 666.7l2.5 2.5M620.1 669.1l2.5 -2.5M621.4 666.3v3.1M625.8 666.6l2.5 2.5M625.8 669.1l2.5 -2.5M627.1 666.3v3.1M626.9 666.2l2.5 2.5M626.9 668.7l2.5 -2.5M628.2 665.9v3.1M618.1 665.7l2.5 2.5M618.1 668.2l2.5 -2.5M619.4 665.4v3.1M624.4 665.4l2.5 2.5M624.4 667.9l2.5 -2.5M625.6 665.1v3.1M623.4 665l2.5 2.5M623.4 667.4l2.5 -2.5M624.7 664.6v3.1M625.4 664.7l2.5 2.5M625.4 667.1l2.5 -2.5M626.7 664.3v3.1M625.3 664.1l2.5 2.5M625.3 666.6l2.5 -2.5M626.6 663.8v3.1M623.7 663.8l2.5 2.5M623.7 666.3l2.5 -2.5M625 663.5v3.1M621.3 663.3l2.5 2.5M621.3 665.8l2.5 -2.5M622.5 663v3.1M622.4 663.1l2.5 2.5M622.4 665.5l2.5 -2.5M623.6 662.7v3.1M618.5 662.3l2.5 2.5M618.5 664.8l2.5 -2.5M619.7 662v3.1M617.7 662.1l2.5 2.5M617.7 664.5l2.5 -2.5M618.9 661.7v3.1M625.8 661.4l2.5 2.5M625.8 663.9l2.5 -2.5M627 661.1v3.1M621.6 661.1l2.5 2.5M621.6 663.6l2.5 -2.5M622.8 660.8v3.1M618.6 661l2.5 2.5M618.6 663.5l2.5 -2.5M619.8 660.7v3.1M623.8 660.3l2.5 2.5M623.8 662.8l2.5 -2.5M625.1 660v3.1M624.1 659.8l2.5 2.5M624.1 662.3l2.5 -2.5M625.4 659.5v3.1M619.5 659.6l2.5 2.5M619.5 662.1l2.5 -2.5M620.7 659.3v3.1M620 658.9l2.5 2.5M620 661.4l2.5 -2.5M621.3 658.6v3.1M623.4 658.1l2.5 2.5M623.4 660.6l2.5 -2.5M624.6 657.8v3.1M623.5 657.4l2.5 2.5M623.5 659.8l2.5 -2.5M624.7 657v3.1M617.8 656.3l2.5 2.5M617.8 658.8l2.5 -2.5M619 656v3.1M620.7 655.5l2.5 2.5M620.7 658l2.5 -2.5M621.9 655.2v3.1M617.6 654.8l2.5 2.5M617.6 657.2l2.5 -2.5M618.8 654.4v3.1M619.3 653.7l2.5 2.5M619.3 656.2l2.5 -2.5M620.6 653.4v3.1M618.2 653.2l2.5 2.5M618.2 655.7l2.5 -2.5M619.4 652.9v3.1M617.6 652.8l2.5 2.5M617.6 655.3l2.5 -2.5M618.8 652.5v3.1M618.6 651.8l2.5 2.5M618.6 654.3l2.5 -2.5M619.9 651.5v3.1M617.8 651l2.5 2.5M617.8 653.5l2.5 -2.5M619 650.7v3.1M620 649.7l2.5 2.5M620 652.2l2.5 -2.5M621.3 649.4v3.1M618.3 648.8l2.5 2.5M618.3 651.3l2.5 -2.5M619.6 648.5v3.1M619.6 648.1l2.5 2.5M619.6 650.6l2.5 -2.5M620.9 647.8v3.1M620.6 647.8l2.5 2.5M620.6 650.3l2.5 -2.5M621.9 647.5v3.1" fill="none" stroke="#E0B040" stroke-width="0.55"/>
<path d="M618 692.3L618.1 691.5L618.2 690.6L618.3 689.8L618.4 688.9L618.6 688L618.7 687.2L619 686.3L619.2 685.4L619.5 684.6L619.8 683.7L620.2 682.8L620.6 682L621.1 681.1L621.6 680.3L622.1 679.4L622.7 678.5L623.3 677.7L623.9 676.8L624.5 675.9L625.1 675.1L625.7 674.2L626.3 673.3L626.9 672.5L627.4 671.6L627.8 670.8L628.2 669.9L628.5 669L628.7 668.2L628.8 667.3L628.8 666.4L628.7 665.6L628.5 664.7L628.3 663.8L627.9 663L627.5 662.1L627 661.3L626.5 660.4L625.9 659.5L625.3 658.7L624.7 657.8L624 656.9L623.4 656.1L622.8 655.2L622.2 654.3L621.7 653.5L621.2 652.6L620.7 651.8L620.3 650.9L619.9 650L619.6 649.2L619.3 648.3L619 647.4L618.8 646.6L618.6 645.7L618.4 644.8L618.3 644L618.2 643.1L618.1 642.3L618 641.4L618 640.5" fill="none" stroke="#D4A020" stroke-width="1"/>
<line x1="651.5" y1="632.76" x2="651.5" y2="703.36" stroke="#2EC4C4" stroke-width="1"/>
<line x1="648.2" y1="632.76" x2="654.8" y2="632.76" stroke="#2EC4C4" stroke-width="1"/>
<line x1="648.2" y1="703.36" x2="654.8" y2="703.36" stroke="#2EC4C4" stroke-width="1"/>
<rect x="645.1" y="658.99" width="12.8" height="23.64" fill="#B4B68F" stroke="#2EC4C4" stroke-width="1"/>
<line x1="645.1" y1="672.27" x2="657.9" y2="672.27" stroke="#2EC4C4" stroke-width="1"/>
<circle cx="651.5" cy="671.3" r="1.1" fill="none" stroke="#2EC4C4" stroke-width="0.6" opacity="0.85"/>
<path d="M660.2 702.6l2.8 -1.6v3.1zM662.8 700.9l2.8 -1.6v3.1zM660.9 698.8l2.8 -1.6v3.1zM660.8 696l2.8 -1.6v3.1zM659.9 693.7l2.8 -1.6v3.1zM662.4 692.1l2.8 -1.6v3.1zM663 689.6l2.8 -1.6v3.1zM663.4 688.3l2.8 -1.6v3.1zM663 684.8l2.8 -1.6v3.1zM665.9 683.4l2.8 -1.6v3.1zM661.6 682.4l2.8 -1.6v3.1zM662 680.6l2.8 -1.6v3.1zM662.7 680.1l2.8 -1.6v3.1zM664.3 678.5l2.8 -1.6v3.1zM661 677.6l2.8 -1.6v3.1zM665.4 677.2l2.8 -1.6v3.1zM665.6 676.1l2.8 -1.6v3.1zM660.3 674.8l2.8 -1.6v3.1zM663.6 674.2l2.8 -1.6v3.1zM661.2 672.8l2.8 -1.6v3.1zM659.6 671.9l2.8 -1.6v3.1zM662.5 670.6l2.8 -1.6v3.1zM665.1 669.1l2.8 -1.6v3.1zM666.2 667.2l2.8 -1.6v3.1zM662.1 666l2.8 -1.6v3.1zM666 665l2.8 -1.6v3.1zM661.6 663.1l2.8 -1.6v3.1zM660 663l2.8 -1.6v3.1zM666.6 661l2.8 -1.6v3.1zM665.7 660.1l2.8 -1.6v3.1zM665.6 657.3l2.8 -1.6v3.1zM660.2 654l2.8 -1.6v3.1zM660.3 651.7l2.8 -1.6v3.1zM661.5 650.8l2.8 -1.6v3.1zM659.8 647.2l2.8 -1.6v3.1zM660.2 645.1l2.8 -1.6v3.1zM659.9 642.9l2.8 -1.6v3.1zM660.3 640.6l2.8 -1.6v3.1zM661 637.1l2.8 -1.6v3.1zM661.7 633.6l2.8 -1.6v3.1z" fill="none" stroke="#3CC8C8" stroke-width="0.7"/>
<path d="M660.3 727L660.3 725.1L660.4 723.3L660.5 721.4L660.6 719.6L660.7 717.7L660.8 715.9L661 714L661.2 712.2L661.5 710.3L661.8 708.5L662.1 706.6L662.5 704.8L662.9 702.9L663.4 701.1L663.9 699.2L664.5 697.4L665.1 695.5L665.7 693.7L666.3 691.8L667 690L667.6 688.1L668.2 686.3L668.8 684.4L669.4 682.6L669.9 680.7L670.3 678.9L670.6 677L670.9 675.2L671 673.3L671.1 671.5L671.1 669.6L670.9 667.8L670.7 665.9L670.3 664.1L669.9 662.2L669.5 660.3L668.9 658.5L668.3 656.6L667.7 654.8L667.1 652.9L666.4 651.1L665.8 649.2L665.2 647.4L664.6 645.5L664 643.7L663.5 641.8L663 640L662.6 638.1L662.2 636.3L661.9 634.4L661.6 632.6L661.3 630.7L661.1 628.9L660.9 627L660.7 625.2L660.6 623.3L660.5 621.5L660.4 619.6L660.3 617.8L660.3 615.9" fill="none" stroke="#22C0C0" stroke-width="1"/>
<line x1="384.3" y1="541.9" x2="384.3" y2="769.1" stroke="#3a3a3a" stroke-width="1.2"/>
<line x1="383.7" y1="769.1" x2="681.4" y2="769.1" stroke="#3a3a3a" stroke-width="1.2"/>
<line x1="380.7" y1="769.1" x2="384.3" y2="769.1" stroke="#3a3a3a" stroke-width="1.1"/>
<text transform="translate(376.8,772.1) scale(0.86,1)" text-anchor="end" font-size="9.9" fill="#222">0</text>
<line x1="382.3" y1="752.91" x2="384.3" y2="752.91" stroke="#3a3a3a" stroke-width="1.1"/>
<line x1="380.7" y1="736.71" x2="384.3" y2="736.71" stroke="#3a3a3a" stroke-width="1.1"/>
<text transform="translate(376.8,739.71) scale(0.86,1)" text-anchor="end" font-size="9.9" fill="#222">10</text>
<line x1="382.3" y1="720.52" x2="384.3" y2="720.52" stroke="#3a3a3a" stroke-width="1.1"/>
<line x1="380.7" y1="704.33" x2="384.3" y2="704.33" stroke="#3a3a3a" stroke-width="1.1"/>
<text transform="translate(376.8,707.33) scale(0.86,1)" text-anchor="end" font-size="9.9" fill="#222">20</text>
<line x1="382.3" y1="688.14" x2="384.3" y2="688.14" stroke="#3a3a3a" stroke-width="1.1"/>
<line x1="380.7" y1="671.94" x2="384.3" y2="671.94" stroke="#3a3a3a" stroke-width="1.1"/>
<text transform="translate(376.8,674.94) scale(0.86,1)" text-anchor="end" font-size="9.9" fill="#222">30</text>
<line x1="382.3" y1="655.75" x2="384.3" y2="655.75" stroke="#3a3a3a" stroke-width="1.1"/>
<line x1="380.7" y1="639.56" x2="384.3" y2="639.56" stroke="#3a3a3a" stroke-width="1.1"/>
<text transform="translate(376.8,642.56) scale(0.86,1)" text-anchor="end" font-size="9.9" fill="#222">40</text>
<line x1="382.3" y1="623.36" x2="384.3" y2="623.36" stroke="#3a3a3a" stroke-width="1.1"/>
<line x1="380.7" y1="607.17" x2="384.3" y2="607.17" stroke="#3a3a3a" stroke-width="1.1"/>
<text transform="translate(376.8,610.17) scale(0.86,1)" text-anchor="end" font-size="9.9" fill="#222">50</text>
<line x1="382.3" y1="590.98" x2="384.3" y2="590.98" stroke="#3a3a3a" stroke-width="1.1"/>
<line x1="380.7" y1="574.79" x2="384.3" y2="574.79" stroke="#3a3a3a" stroke-width="1.1"/>
<text transform="translate(376.8,577.79) scale(0.86,1)" text-anchor="end" font-size="9.9" fill="#222">60</text>
<line x1="382.3" y1="558.59" x2="384.3" y2="558.59" stroke="#3a3a3a" stroke-width="1.1"/>
<line x1="380.7" y1="542.4" x2="384.3" y2="542.4" stroke="#3a3a3a" stroke-width="1.1"/>
<text transform="translate(376.8,545.4) scale(0.86,1)" text-anchor="end" font-size="9.9" fill="#222">70</text>
<line x1="406" y1="769.1" x2="406" y2="773.3" stroke="#3a3a3a" stroke-width="1.1"/>
<text x="406" y="783.8" text-anchor="middle" font-size="9.2" fill="#222">Core</text>
<line x1="448.3" y1="769.1" x2="448.3" y2="773.3" stroke="#3a3a3a" stroke-width="1.1"/>
<text x="448.3" y="783.8" text-anchor="middle" font-size="9.2" fill="#222">JSMS</text>
<line x1="490.6" y1="769.1" x2="490.6" y2="773.3" stroke="#3a3a3a" stroke-width="1.1"/>
<text x="490.6" y="783.8" text-anchor="middle" font-size="9.2" fill="#222">AIJ</text>
<line x1="532.9" y1="769.1" x2="532.9" y2="773.3" stroke="#3a3a3a" stroke-width="1.1"/>
<text x="532.9" y="783.8" text-anchor="middle" font-size="9.2" fill="#222">US Army</text>
<line x1="575.2" y1="769.1" x2="575.2" y2="773.3" stroke="#3a3a3a" stroke-width="1.1"/>
<text x="575.2" y="783.8" text-anchor="middle" font-size="9.2" fill="#222">KMST</text>
<line x1="617.5" y1="769.1" x2="617.5" y2="773.3" stroke="#3a3a3a" stroke-width="1.1"/>
<text x="617.5" y="783.8" text-anchor="middle" font-size="9.2" fill="#222">JSMS</text>
<line x1="659.8" y1="769.1" x2="659.8" y2="773.3" stroke="#3a3a3a" stroke-width="1.1"/>
<text x="659.8" y="783.8" text-anchor="middle" font-size="9.2" fill="#222">AIJ</text>
<text transform="translate(357.8,655.75) rotate(-90)" text-anchor="middle" font-size="10.9" fill="#222">Compressive strength (MPa)</text>
<rect x="391.5" y="540.1" width="173.4" height="20.3" fill="#fff" stroke="#111" stroke-width="1.3"/>
<text x="477.6" y="554.8" text-anchor="middle" font-size="13.6" fill="#111">Mojeon-yukgyo Bridge, slab</text>
<text x="425.8" y="572.5" font-size="12.5" fill="#111">RHT</text>
<text x="600.2" y="572.7" font-size="12.5" fill="#111">UPVT</text>
<line x1="78.3" y1="823.7" x2="78.3" y2="1047.3" stroke="#111" stroke-width="1.3" stroke-dasharray="4.7 4.75" stroke-dashoffset="4.65"/>
<line x1="249.3" y1="823.7" x2="249.3" y2="1047.3" stroke="#111" stroke-width="1.3" stroke-dasharray="4.7 4.75" stroke-dashoffset="4.65"/>
<line x1="53" y1="836.48" x2="53" y2="925.92" stroke="#6a6a6a" stroke-width="1"/>
<line x1="49.7" y1="836.48" x2="56.3" y2="836.48" stroke="#6a6a6a" stroke-width="1"/>
<line x1="49.7" y1="925.92" x2="56.3" y2="925.92" stroke="#6a6a6a" stroke-width="1"/>
<rect x="46.6" y="862.35" width="12.8" height="35.14" fill="#FFCC8F" stroke="#6a6a6a" stroke-width="1"/>
<line x1="46.6" y1="885.03" x2="59.4" y2="885.03" stroke="#5a5040" stroke-width="1"/>
<circle cx="53" cy="880.24" r="1.1" fill="none" stroke="#5a5040" stroke-width="0.6" opacity="0.85"/>
<path d="M61.7 923.4h2.9v2.9h-2.9zM61.4 919.1h2.9v2.9h-2.9zM62.5 916.2h2.9v2.9h-2.9zM63.2 914.5h2.9v2.9h-2.9zM63.2 911.3h2.9v2.9h-2.9zM61.7 908h2.9v2.9h-2.9zM66.5 903.6h2.9v2.9h-2.9zM62.7 901.3h2.9v2.9h-2.9zM68.5 896.4h2.9v2.9h-2.9zM64.3 894.9h2.9v2.9h-2.9zM61.5 892.9h2.9v2.9h-2.9zM63.5 891.6h2.9v2.9h-2.9zM62.1 891.2h2.9v2.9h-2.9zM68 889.5h2.9v2.9h-2.9zM66.1 888.3h2.9v2.9h-2.9zM64.3 886.2h2.9v2.9h-2.9zM61.7 884.9h2.9v2.9h-2.9zM62.9 884.2h2.9v2.9h-2.9zM64.7 880.5h2.9v2.9h-2.9zM65.9 878.9h2.9v2.9h-2.9zM63.5 875.9h2.9v2.9h-2.9zM66.2 872.4h2.9v2.9h-2.9zM65.2 871.3h2.9v2.9h-2.9zM66.7 868h2.9v2.9h-2.9zM62.8 864.8h2.9v2.9h-2.9zM61.7 861.6h2.9v2.9h-2.9zM64.7 860.4h2.9v2.9h-2.9zM63.2 858.2h2.9v2.9h-2.9zM63.6 855.6h2.9v2.9h-2.9zM63.2 850.5h2.9v2.9h-2.9zM62.2 847.2h2.9v2.9h-2.9zM63.2 844.8h2.9v2.9h-2.9zM62.7 842.2h2.9v2.9h-2.9zM64.5 838.5h2.9v2.9h-2.9zM63.5 836.6h2.9v2.9h-2.9zM61.2 957.4h2.9v2.9h-2.9z" fill="#4a4a4a"/>
<path d="M61.6 975.4L61.6 973L61.7 970.5L61.7 968L61.7 965.5L61.7 963.1L61.8 960.6L61.8 958.1L61.9 955.6L62 953.1L62.1 950.7L62.2 948.2L62.4 945.7L62.5 943.2L62.7 940.8L63 938.3L63.3 935.8L63.6 933.3L64 930.9L64.4 928.4L64.8 925.9L65.3 923.4L65.9 921L66.4 918.5L67 916L67.6 913.5L68.2 911.1L68.7 908.6L69.3 906.1L69.8 903.6L70.3 901.2L70.7 898.7L71 896.2L71.3 893.7L71.5 891.3L71.6 888.8L71.6 886.3L71.5 883.8L71.3 881.4L71 878.9L70.7 876.4L70.3 873.9L69.8 871.5L69.3 869L68.7 866.5L68.1 864L67.6 861.6L67 859.1L66.4 856.6L65.8 854.1L65.3 851.7L64.8 849.2L64.4 846.7L64 844.2L63.6 841.7L63.3 839.3L63 836.8L62.7 834.3L62.5 831.8L62.3 829.4L62.2 826.9" fill="none" stroke="#404040" stroke-width="1"/>
<line x1="94.9" y1="965.53" x2="94.9" y2="996.51" stroke="#E55A5A" stroke-width="1"/>
<line x1="91.6" y1="965.53" x2="98.2" y2="965.53" stroke="#E55A5A" stroke-width="1"/>
<line x1="91.6" y1="996.51" x2="98.2" y2="996.51" stroke="#E55A5A" stroke-width="1"/>
<rect x="88.5" y="978.62" width="12.8" height="11.18" fill="#9DD79A" stroke="#E55A5A" stroke-width="1"/>
<line x1="88.5" y1="984.69" x2="101.3" y2="984.69" stroke="#DE6055" stroke-width="1"/>
<rect x="93.9" y="983.53" width="2" height="2" fill="#DE6055" opacity="0.7"/>
<path d="M105.4 996.5a1.6 1.6 0 1 0 3.1 0a1.6 1.6 0 1 0 -3.1 0M107 995.4a1.6 1.6 0 1 0 3.1 0a1.6 1.6 0 1 0 -3.1 0M104.3 994.6a1.6 1.6 0 1 0 3.1 0a1.6 1.6 0 1 0 -3.1 0M106.2 994.2a1.6 1.6 0 1 0 3.1 0a1.6 1.6 0 1 0 -3.1 0M105.3 993.8a1.6 1.6 0 1 0 3.1 0a1.6 1.6 0 1 0 -3.1 0M103.6 993a1.6 1.6 0 1 0 3.1 0a1.6 1.6 0 1 0 -3.1 0M107.5 992.4a1.6 1.6 0 1 0 3.1 0a1.6 1.6 0 1 0 -3.1 0M104.5 991.7a1.6 1.6 0 1 0 3.1 0a1.6 1.6 0 1 0 -3.1 0M108.8 990.9a1.6 1.6 0 1 0 3.1 0a1.6 1.6 0 1 0 -3.1 0M106.1 990.4a1.6 1.6 0 1 0 3.1 0a1.6 1.6 0 1 0 -3.1 0M109.5 989.5a1.6 1.6 0 1 0 3.1 0a1.6 1.6 0 1 0 -3.1 0M109.7 988.9a1.6 1.6 0 1 0 3.1 0a1.6 1.6 0 1 0 -3.1 0M106.2 988.6a1.6 1.6 0 1 0 3.1 0a1.6 1.6 0 1 0 -3.1 0M110.1 988.1a1.6 1.6 0 1 0 3.1 0a1.6 1.6 0 1 0 -3.1 0M104.2 987.3a1.6 1.6 0 1 0 3.1 0a1.6 1.6 0 1 0 -3.1 0M104.9 987.2a1.6 1.6 0 1 0 3.1 0a1.6 1.6 0 1 0 -3.1 0M107.1 986.6a1.6 1.6 0 1 0 3.1 0a1.6 1.6 0 1 0 -3.1 0M105.2 985.9a1.6 1.6 0 1 0 3.1 0a1.6 1.6 0 1 0 -3.1 0M106.6 985.7a1.6 1.6 0 1 0 3.1 0a1.6 1.6 0 1 0 -3.1 0M108 985a1.6 1.6 0 1 0 3.1 0a1.6 1.6 0 1 0 -3.1 0M109.1 984.1a1.6 1.6 0 1 0 3.1 0a1.6 1.6 0 1 0 -3.1 0M108.5 983.8a1.6 1.6 0 1 0 3.1 0a1.6 1.6 0 1 0 -3.1 0M103.4 983.1a1.6 1.6 0 1 0 3.1 0a1.6 1.6 0 1 0 -3.1 0M109.9 982.3a1.6 1.6 0 1 0 3.1 0a1.6 1.6 0 1 0 -3.1 0M110 981.7a1.6 1.6 0 1 0 3.1 0a1.6 1.6 0 1 0 -3.1 0M106.4 981.4a1.6 1.6 0 1 0 3.1 0a1.6 1.6 0 1 0 -3.1 0M108.4 981a1.6 1.6 0 1 0 3.1 0a1.6 1.6 0 1 0 -3.1 0M103.5 980.4a1.6 1.6 0 1 0 3.1 0a1.6 1.6 0 1 0 -3.1 0M104.3 979.7a1.6 1.6 0 1 0 3.1 0a1.6 1.6 0 1 0 -3.1 0M103.4 979a1.6 1.6 0 1 0 3.1 0a1.6 1.6 0 1 0 -3.1 0M104.1 978.6a1.6 1.6 0 1 0 3.1 0a1.6 1.6 0 1 0 -3.1 0M105.5 977.2a1.6 1.6 0 1 0 3.1 0a1.6 1.6 0 1 0 -3.1 0M108.6 976a1.6 1.6 0 1 0 3.1 0a1.6 1.6 0 1 0 -3.1 0M103.7 973.9a1.6 1.6 0 1 0 3.1 0a1.6 1.6 0 1 0 -3.1 0M104.6 973.1a1.6 1.6 0 1 0 3.1 0a1.6 1.6 0 1 0 -3.1 0M103.4 971.6a1.6 1.6 0 1 0 3.1 0a1.6 1.6 0 1 0 -3.1 0M106.4 969.7a1.6 1.6 0 1 0 3.1 0a1.6 1.6 0 1 0 -3.1 0M104.6 968.8a1.6 1.6 0 1 0 3.1 0a1.6 1.6 0 1 0 -3.1 0M103.3 968a1.6 1.6 0 1 0 3.1 0a1.6 1.6 0 1 0 -3.1 0M103.9 966.4a1.6 1.6 0 1 0 3.1 0a1.6 1.6 0 1 0 -3.1 0M103 1009a1.6 1.6 0 1 0 3.1 0a1.6 1.6 0 1 0 -3.1 0" fill="none" stroke="#EE7777" stroke-width="0.7"/>
<path d="M103.6 1015.7L103.6 1014.6L103.6 1013.6L103.7 1012.5L103.7 1011.5L103.8 1010.4L103.9 1009.4L104 1008.3L104.2 1007.2L104.4 1006.2L104.6 1005.1L104.9 1004.1L105.2 1003L105.6 1002L106 1000.9L106.4 999.9L107 998.8L107.5 997.8L108.1 996.7L108.7 995.6L109.4 994.6L110.1 993.5L110.7 992.5L111.4 991.4L112 990.4L112.5 989.3L113 988.3L113.4 987.2L113.7 986.2L113.9 985.1L114 984.1L114 983L113.8 981.9L113.6 980.9L113.2 979.8L112.8 978.8L112.3 977.7L111.7 976.7L111.1 975.6L110.5 974.6L109.8 973.5L109.1 972.5L108.5 971.4L107.9 970.3L107.3 969.3L106.7 968.2L106.2 967.2L105.8 966.1L105.4 965.1L105.1 964L104.8 963L104.5 961.9L104.3 960.9L104.1 959.8L104 958.8L103.9 957.7L103.8 956.6L103.7 955.6L103.7 954.5L103.6 953.5L103.6 952.4" fill="none" stroke="#E54F4F" stroke-width="1"/>
<line x1="136.8" y1="960.42" x2="136.8" y2="977.98" stroke="#3F78D8" stroke-width="1"/>
<line x1="133.5" y1="960.42" x2="140.1" y2="960.42" stroke="#3F78D8" stroke-width="1"/>
<line x1="133.5" y1="977.98" x2="140.1" y2="977.98" stroke="#3F78D8" stroke-width="1"/>
<rect x="130.4" y="968.08" width="12.8" height="6.39" fill="#C9B6DC" stroke="#3F78D8" stroke-width="1"/>
<line x1="130.4" y1="970.96" x2="143.2" y2="970.96" stroke="#3F78D8" stroke-width="1"/>
<circle cx="136.8" cy="970.64" r="1.1" fill="none" stroke="#3F78D8" stroke-width="0.6" opacity="0.85"/>
<path d="M147 976.1l1.6 2.8h-3.1zM150.2 976l1.6 2.8h-3.1zM147.1 975.4l1.6 2.8h-3.1zM146.5 975l1.6 2.8h-3.1zM151.8 974.6l1.6 2.8h-3.1zM150.7 974.1l1.6 2.8h-3.1zM148.7 973.9l1.6 2.8h-3.1zM151.6 973.6l1.6 2.8h-3.1zM152.1 973l1.6 2.8h-3.1zM148.1 972.7l1.6 2.8h-3.1zM154.4 972.1l1.6 2.8h-3.1zM153.2 971.7l1.6 2.8h-3.1zM152.8 971.3l1.6 2.8h-3.1zM151 971.1l1.6 2.8h-3.1zM146.7 970.7l1.6 2.8h-3.1zM149 970.4l1.6 2.8h-3.1zM152.9 969.9l1.6 2.8h-3.1zM150.6 969.3l1.6 2.8h-3.1zM155.7 968.9l1.6 2.8h-3.1zM149.8 968.6l1.6 2.8h-3.1zM148.5 968.5l1.6 2.8h-3.1zM148.3 968.2l1.6 2.8h-3.1zM154.6 967.7l1.6 2.8h-3.1zM150.7 967.3l1.6 2.8h-3.1zM153.4 967.1l1.6 2.8h-3.1zM152.2 966.9l1.6 2.8h-3.1zM152.7 966l1.6 2.8h-3.1zM149.9 965.2l1.6 2.8h-3.1zM151.9 964.8l1.6 2.8h-3.1zM151.1 963.8l1.6 2.8h-3.1zM148.1 962.4l1.6 2.8h-3.1zM150.1 962l1.6 2.8h-3.1zM147 960.9l1.6 2.8h-3.1zM146.9 960.5l1.6 2.8h-3.1zM149.2 958.9l1.6 2.8h-3.1z" fill="none" stroke="#5A8DE0" stroke-width="0.7"/>
<path d="M145.5 988.5L145.5 987.9L145.6 987.3L145.6 986.8L145.7 986.2L145.8 985.6L145.9 985L146 984.4L146.2 983.8L146.4 983.2L146.6 982.6L146.9 982L147.2 981.4L147.6 980.8L148.1 980.3L148.6 979.7L149.1 979.1L149.7 978.5L150.3 977.9L151 977.3L151.7 976.7L152.3 976.1L153 975.5L153.7 974.9L154.3 974.3L154.9 973.8L155.4 973.2L155.8 972.6L156.1 972L156.3 971.4L156.4 970.8L156.4 970.2L156.2 969.6L156 969L155.6 968.4L155.2 967.8L154.6 967.3L154 966.7L153.4 966.1L152.7 965.5L152 964.9L151.3 964.3L150.7 963.7L150 963.1L149.4 962.5L148.8 961.9L148.3 961.3L147.9 960.8L147.4 960.2L147.1 959.6L146.8 959L146.5 958.4L146.3 957.8L146.1 957.2L145.9 956.6L145.8 956L145.7 955.4L145.6 954.8L145.6 954.3L145.5 953.7L145.5 953.1" fill="none" stroke="#2F6AD6" stroke-width="1"/>
<line x1="178.7" y1="959.46" x2="178.7" y2="996.51" stroke="#3FAA6A" stroke-width="1"/>
<line x1="175.4" y1="959.46" x2="182" y2="959.46" stroke="#3FAA6A" stroke-width="1"/>
<line x1="175.4" y1="996.51" x2="182" y2="996.51" stroke="#3FAA6A" stroke-width="1"/>
<rect x="172.3" y="975.43" width="12.8" height="14.05" fill="#FFFF9E" stroke="#3FAA6A" stroke-width="1"/>
<line x1="172.3" y1="982.78" x2="185.1" y2="982.78" stroke="#3FAA6A" stroke-width="1"/>
<circle cx="178.7" cy="981.18" r="1.1" fill="none" stroke="#3FAA6A" stroke-width="0.6" opacity="0.85"/>
<path d="M191.3 998l1.6 -2.8h-3.1zM191 996.8l1.6 -2.8h-3.1zM190.6 996.6l1.6 -2.8h-3.1zM188.4 996.1l1.6 -2.8h-3.1zM191.6 995l1.6 -2.8h-3.1zM193.2 994.6l1.6 -2.8h-3.1zM193.1 994l1.6 -2.8h-3.1zM189.6 993.2l1.6 -2.8h-3.1zM190.1 992.9l1.6 -2.8h-3.1zM192 992.3l1.6 -2.8h-3.1zM191.1 991.7l1.6 -2.8h-3.1zM194.6 991.1l1.6 -2.8h-3.1zM191.6 990.4l1.6 -2.8h-3.1zM195.1 989.6l1.6 -2.8h-3.1zM195.4 989.1l1.6 -2.8h-3.1zM192.5 988.5l1.6 -2.8h-3.1zM188.5 987.9l1.6 -2.8h-3.1zM189.8 987.3l1.6 -2.8h-3.1zM195 987l1.6 -2.8h-3.1zM192.4 986.3l1.6 -2.8h-3.1zM193.2 985.4l1.6 -2.8h-3.1zM192.9 985l1.6 -2.8h-3.1zM195.3 984.3l1.6 -2.8h-3.1zM193.3 983.9l1.6 -2.8h-3.1zM190.8 983.2l1.6 -2.8h-3.1zM192.9 982.2l1.6 -2.8h-3.1zM195.1 981.7l1.6 -2.8h-3.1zM192.2 980.8l1.6 -2.8h-3.1zM192.7 980.3l1.6 -2.8h-3.1zM194.3 979.7l1.6 -2.8h-3.1zM192.9 979.1l1.6 -2.8h-3.1zM196.2 978.5l1.6 -2.8h-3.1zM195.5 977.7l1.6 -2.8h-3.1zM190.3 976.7l1.6 -2.8h-3.1zM195.4 975.8l1.6 -2.8h-3.1zM189.2 974l1.6 -2.8h-3.1zM191.2 973.6l1.6 -2.8h-3.1zM189.7 972.3l1.6 -2.8h-3.1zM191.8 970.8l1.6 -2.8h-3.1zM191.9 968.4l1.6 -2.8h-3.1zM191 967.9l1.6 -2.8h-3.1zM188.8 965.7l1.6 -2.8h-3.1zM191.7 964l1.6 -2.8h-3.1zM191.6 963.5l1.6 -2.8h-3.1zM190 961.9l1.6 -2.8h-3.1zM188.4 1013.7l1.6 -2.8h-3.1z" fill="none" stroke="#4FB578" stroke-width="0.7"/>
<path d="M187.4 1019.2L187.4 1017.9L187.5 1016.7L187.5 1015.5L187.6 1014.2L187.7 1013L187.8 1011.7L187.9 1010.5L188.1 1009.2L188.3 1008L188.5 1006.7L188.8 1005.5L189.1 1004.2L189.5 1003L189.9 1001.7L190.3 1000.5L190.8 999.3L191.4 998L192 996.8L192.6 995.5L193.2 994.3L193.9 993L194.5 991.8L195.1 990.5L195.7 989.3L196.3 988L196.8 986.8L197.2 985.6L197.5 984.3L197.7 983.1L197.8 981.8L197.8 980.6L197.7 979.3L197.5 978.1L197.2 976.8L196.8 975.6L196.3 974.3L195.7 973.1L195.2 971.9L194.5 970.6L193.9 969.4L193.2 968.1L192.6 966.9L192 965.6L191.4 964.4L190.9 963.1L190.3 961.9L189.9 960.6L189.5 959.4L189.1 958.1L188.8 956.9L188.5 955.7L188.3 954.4L188.1 953.2L187.9 951.9L187.8 950.7L187.7 949.4L187.6 948.2L187.5 946.9L187.5 945.7L187.4 944.4" fill="none" stroke="#30A060" stroke-width="1"/>
<line x1="220.6" y1="949.55" x2="220.6" y2="1001.94" stroke="#B07CE0" stroke-width="1"/>
<line x1="217.3" y1="949.55" x2="223.9" y2="949.55" stroke="#B07CE0" stroke-width="1"/>
<line x1="217.3" y1="1001.94" x2="223.9" y2="1001.94" stroke="#B07CE0" stroke-width="1"/>
<rect x="214.2" y="970.96" width="12.8" height="19.8" fill="#9EBEF5" stroke="#B07CE0" stroke-width="1"/>
<line x1="214.2" y1="981.5" x2="227" y2="981.5" stroke="#B07CE0" stroke-width="1"/>
<circle cx="220.6" cy="980.22" r="1.1" fill="none" stroke="#B07CE0" stroke-width="0.6" opacity="0.85"/>
<path d="M234.5 999.5l1.6 1.6l-1.6 1.6l-1.6 -1.6zM234.5 999.5v3.1M233 1001.1h3.1M232.5 999.4l1.6 1.6l-1.6 1.6l-1.6 -1.6zM232.5 999.4v3.1M230.9 1000.9h3.1M232.1 998.1l1.6 1.6l-1.6 1.6l-1.6 -1.6zM232.1 998.1v3.1M230.6 999.7h3.1M232.1 997.5l1.6 1.6l-1.6 1.6l-1.6 -1.6zM232.1 997.5v3.1M230.5 999.1h3.1M230.3 996.2l1.6 1.6l-1.6 1.6l-1.6 -1.6zM230.3 996.2v3.1M228.8 997.7h3.1M233.1 995.4l1.6 1.6l-1.6 1.6l-1.6 -1.6zM233.1 995.4v3.1M231.6 997h3.1M232.5 995l1.6 1.6l-1.6 1.6l-1.6 -1.6zM232.5 995v3.1M230.9 996.6h3.1M233.9 993.6l1.6 1.6l-1.6 1.6l-1.6 -1.6zM233.9 993.6v3.1M232.4 995.1h3.1M237.5 993.2l1.6 1.6l-1.6 1.6l-1.6 -1.6zM237.5 993.2v3.1M236 994.7h3.1M237.9 991.6l1.6 1.6l-1.6 1.6l-1.6 -1.6zM237.9 991.6v3.1M236.3 993.2h3.1M232.3 991.4l1.6 1.6l-1.6 1.6l-1.6 -1.6zM232.3 991.4v3.1M230.8 992.9h3.1M236.6 990.5l1.6 1.6l-1.6 1.6l-1.6 -1.6zM236.6 990.5v3.1M235.1 992.1h3.1M231.3 989.4l1.6 1.6l-1.6 1.6l-1.6 -1.6zM231.3 989.4v3.1M229.8 991h3.1M238.1 988.5l1.6 1.6l-1.6 1.6l-1.6 -1.6zM238.1 988.5v3.1M236.6 990.1h3.1M232.5 987.5l1.6 1.6l-1.6 1.6l-1.6 -1.6zM232.5 987.5v3.1M231 989h3.1M238.4 987.2l1.6 1.6l-1.6 1.6l-1.6 -1.6zM238.4 987.2v3.1M236.9 988.8h3.1M236.6 986.2l1.6 1.6l-1.6 1.6l-1.6 -1.6zM236.6 986.2v3.1M235 987.7h3.1M230.7 985.8l1.6 1.6l-1.6 1.6l-1.6 -1.6zM230.7 985.8v3.1M229.2 987.4h3.1M234.2 984.6l1.6 1.6l-1.6 1.6l-1.6 -1.6zM234.2 984.6v3.1M232.6 986.2h3.1M239 984.3l1.6 1.6l-1.6 1.6l-1.6 -1.6zM239 984.3v3.1M237.4 985.9h3.1M237.8 983.2l1.6 1.6l-1.6 1.6l-1.6 -1.6zM237.8 983.2v3.1M236.2 984.7h3.1M238.3 982.8l1.6 1.6l-1.6 1.6l-1.6 -1.6zM238.3 982.8v3.1M236.7 984.4h3.1M238.4 982.1l1.6 1.6l-1.6 1.6l-1.6 -1.6zM238.4 982.1v3.1M236.8 983.7h3.1M233.4 981.1l1.6 1.6l-1.6 1.6l-1.6 -1.6zM233.4 981.1v3.1M231.9 982.6h3.1M238.9 980.3l1.6 1.6l-1.6 1.6l-1.6 -1.6zM238.9 980.3v3.1M237.4 981.8h3.1M231.4 979.7l1.6 1.6l-1.6 1.6l-1.6 -1.6zM231.4 979.7v3.1M229.9 981.3h3.1M232.4 978.7l1.6 1.6l-1.6 1.6l-1.6 -1.6zM232.4 978.7v3.1M230.9 980.2h3.1M231.7 978.2l1.6 1.6l-1.6 1.6l-1.6 -1.6zM231.7 978.2v3.1M230.1 979.7h3.1M232 977.4l1.6 1.6l-1.6 1.6l-1.6 -1.6zM232 977.4v3.1M230.5 978.9h3.1M232.9 976.3l1.6 1.6l-1.6 1.6l-1.6 -1.6zM232.9 976.3v3.1M231.4 977.9h3.1M232.7 975.1l1.6 1.6l-1.6 1.6l-1.6 -1.6zM232.7 975.1v3.1M231.2 976.6h3.1M231.7 974.5l1.6 1.6l-1.6 1.6l-1.6 -1.6zM231.7 974.5v3.1M230.2 976h3.1M230.4 973.8l1.6 1.6l-1.6 1.6l-1.6 -1.6zM230.4 973.8v3.1M228.8 975.3h3.1M230.3 973l1.6 1.6l-1.6 1.6l-1.6 -1.6zM230.3 973v3.1M228.8 974.5h3.1M234.5 971.7l1.6 1.6l-1.6 1.6l-1.6 -1.6zM234.5 971.7v3.1M233 973.3h3.1M233.9 971.4l1.6 1.6l-1.6 1.6l-1.6 -1.6zM233.9 971.4v3.1M232.3 972.9h3.1M231 969.9l1.6 1.6l-1.6 1.6l-1.6 -1.6zM231 969.9v3.1M229.4 971.4h3.1M233.2 968.9l1.6 1.6l-1.6 1.6l-1.6 -1.6zM233.2 968.9v3.1M231.6 970.4h3.1M235.6 967.7l1.6 1.6l-1.6 1.6l-1.6 -1.6zM235.6 967.7v3.1M234.1 969.3h3.1M233.2 966.2l1.6 1.6l-1.6 1.6l-1.6 -1.6zM233.2 966.2v3.1M231.7 967.7h3.1M235.2 963.9l1.6 1.6l-1.6 1.6l-1.6 -1.6zM235.2 963.9v3.1M233.7 965.5h3.1M234.1 962.8l1.6 1.6l-1.6 1.6l-1.6 -1.6zM234.1 962.8v3.1M232.6 964.4h3.1M232.7 960.5l1.6 1.6l-1.6 1.6l-1.6 -1.6zM232.7 960.5v3.1M231.1 962h3.1M231.4 959.3l1.6 1.6l-1.6 1.6l-1.6 -1.6zM231.4 959.3v3.1M229.9 960.8h3.1M230.7 958.2l1.6 1.6l-1.6 1.6l-1.6 -1.6zM230.7 958.2v3.1M229.1 959.7h3.1M232.8 956.4l1.6 1.6l-1.6 1.6l-1.6 -1.6zM232.8 956.4v3.1M231.2 958h3.1M230.8 954.4l1.6 1.6l-1.6 1.6l-1.6 -1.6zM230.8 954.4v3.1M229.2 956h3.1M233.1 953l1.6 1.6l-1.6 1.6l-1.6 -1.6zM233.1 953v3.1M231.6 954.5h3.1M232.5 949.9l1.6 1.6l-1.6 1.6l-1.6 -1.6zM232.5 949.9v3.1M231 951.5h3.1M231 949.2l1.6 1.6l-1.6 1.6l-1.6 -1.6zM231 949.2v3.1M229.5 950.8h3.1M230.3 1025l1.6 1.6l-1.6 1.6l-1.6 -1.6zM230.3 1025v3.1M228.7 1026.5h3.1" fill="none" stroke="#BE8EE6" stroke-width="0.7"/>
<path d="M229.4 1032L229.5 1030.2L229.6 1028.4L229.7 1026.7L229.8 1024.9L230 1023.2L230.2 1021.4L230.4 1019.6L230.7 1017.9L231 1016.1L231.4 1014.3L231.9 1012.6L232.3 1010.8L232.9 1009.1L233.4 1007.3L234.1 1005.5L234.7 1003.8L235.4 1002L236.1 1000.2L236.7 998.5L237.4 996.7L238 995L238.6 993.2L239.1 991.4L239.5 989.7L239.8 987.9L240.1 986.2L240.2 984.4L240.2 982.6L240.1 980.9L239.9 979.1L239.5 977.3L239.1 975.6L238.6 973.8L238.1 972.1L237.5 970.3L236.8 968.5L236.1 966.8L235.4 965L234.8 963.2L234.1 961.5L233.5 959.7L232.9 958L232.4 956.2L231.9 954.4L231.5 952.7L231.1 950.9L230.7 949.1L230.5 947.4L230.2 945.6L230 943.9L229.8 942.1L229.7 940.3L229.6 938.6L229.5 936.8L229.4 935L229.4 933.3L229.3 931.5L229.3 929.8L229.3 928L229.2 926.2" fill="none" stroke="#A970DE" stroke-width="1"/>
<line x1="262.5" y1="929.75" x2="262.5" y2="952.11" stroke="#D9A52A" stroke-width="1"/>
<line x1="259.2" y1="929.75" x2="265.8" y2="929.75" stroke="#D9A52A" stroke-width="1"/>
<line x1="259.2" y1="952.11" x2="265.8" y2="952.11" stroke="#D9A52A" stroke-width="1"/>
<rect x="256.1" y="938.69" width="12.8" height="9.58" fill="#FAB4FA" stroke="#D9A52A" stroke-width="1"/>
<line x1="256.1" y1="945.72" x2="268.9" y2="945.72" stroke="#D9A52A" stroke-width="1"/>
<circle cx="262.5" cy="942.21" r="1.1" fill="none" stroke="#D9A52A" stroke-width="0.6" opacity="0.85"/>
<path d="M272.7 950.8l2.5 2.5M272.7 953.3l2.5 -2.5M273.9 950.5v3.1M272.7 950.5l2.5 2.5M272.7 953l2.5 -2.5M274 950.2v3.1M275.2 950.2l2.5 2.5M275.2 952.7l2.5 -2.5M276.4 949.9v3.1M273.5 949.7l2.5 2.5M273.5 952.1l2.5 -2.5M274.8 949.3v3.1M275.6 949.6l2.5 2.5M275.6 952l2.5 -2.5M276.9 949.3v3.1M272.7 949.2l2.5 2.5M272.7 951.7l2.5 -2.5M274 948.9v3.1M272.9 949l2.5 2.5M272.9 951.5l2.5 -2.5M274.1 948.7v3.1M273.7 948.6l2.5 2.5M273.7 951.1l2.5 -2.5M275 948.3v3.1M273.8 948.4l2.5 2.5M273.8 950.8l2.5 -2.5M275.1 948v3.1M272.5 948.1l2.5 2.5M272.5 950.6l2.5 -2.5M273.7 947.8v3.1M273.4 947.8l2.5 2.5M273.4 950.3l2.5 -2.5M274.6 947.5v3.1M271 947.5l2.5 2.5M271 950l2.5 -2.5M272.2 947.2v3.1M272.5 947.1l2.5 2.5M272.5 949.6l2.5 -2.5M273.7 946.8v3.1M274.6 946.8l2.5 2.5M274.6 949.3l2.5 -2.5M275.8 946.5v3.1M275.6 946.6l2.5 2.5M275.6 949.1l2.5 -2.5M276.8 946.3v3.1M277.3 946.4l2.5 2.5M277.3 948.9l2.5 -2.5M278.6 946.1v3.1M273.3 946.2l2.5 2.5M273.3 948.7l2.5 -2.5M274.5 945.9v3.1M272 945.9l2.5 2.5M272 948.4l2.5 -2.5M273.2 945.6v3.1M275.9 945.8l2.5 2.5M275.9 948.2l2.5 -2.5M277.1 945.5v3.1M277.4 945.7l2.5 2.5M277.4 948.2l2.5 -2.5M278.6 945.4v3.1M275.9 945.3l2.5 2.5M275.9 947.8l2.5 -2.5M277.1 945v3.1M277.5 945.1l2.5 2.5M277.5 947.6l2.5 -2.5M278.7 944.8v3.1M275.2 945.1l2.5 2.5M275.2 947.5l2.5 -2.5M276.4 944.8v3.1M277.8 944.8l2.5 2.5M277.8 947.3l2.5 -2.5M279.1 944.5v3.1M277.9 944.5l2.5 2.5M277.9 947l2.5 -2.5M279.1 944.2v3.1M278.6 944.2l2.5 2.5M278.6 946.6l2.5 -2.5M279.8 943.8v3.1M277.1 943.5l2.5 2.5M277.1 946l2.5 -2.5M278.3 943.2v3.1M271.1 943.2l2.5 2.5M271.1 945.7l2.5 -2.5M272.4 942.9v3.1M274.2 942.7l2.5 2.5M274.2 945.2l2.5 -2.5M275.4 942.4v3.1M278.7 942.2l2.5 2.5M278.7 944.7l2.5 -2.5M279.9 941.9v3.1M276.8 941.4l2.5 2.5M276.8 943.8l2.5 -2.5M278 941v3.1M277.3 940.8l2.5 2.5M277.3 943.2l2.5 -2.5M278.5 940.4v3.1M270.9 940.3l2.5 2.5M270.9 942.8l2.5 -2.5M272.1 940v3.1M277.8 939.5l2.5 2.5M277.8 942l2.5 -2.5M279 939.2v3.1M275.8 939.1l2.5 2.5M275.8 941.6l2.5 -2.5M277 938.8v3.1M271.5 938.5l2.5 2.5M271.5 941l2.5 -2.5M272.7 938.2v3.1M273.1 937.9l2.5 2.5M273.1 940.4l2.5 -2.5M274.3 937.6v3.1M273.2 937.7l2.5 2.5M273.2 940.2l2.5 -2.5M274.4 937.4v3.1M272.5 936.6l2.5 2.5M272.5 939.1l2.5 -2.5M273.7 936.3v3.1M278.2 935.9l2.5 2.5M278.2 938.3l2.5 -2.5M279.5 935.5v3.1M273.6 935.3l2.5 2.5M273.6 937.8l2.5 -2.5M274.9 935v3.1M275.4 934.6l2.5 2.5M275.4 937.1l2.5 -2.5M276.7 934.3v3.1M274.5 933.7l2.5 2.5M274.5 936.2l2.5 -2.5M275.8 933.4v3.1M271.3 933.1l2.5 2.5M271.3 935.5l2.5 -2.5M272.5 932.7v3.1M272.2 932.7l2.5 2.5M272.2 935.2l2.5 -2.5M273.4 932.4v3.1M272.2 931.6l2.5 2.5M272.2 934l2.5 -2.5M273.4 931.2v3.1M270.9 931l2.5 2.5M270.9 933.4l2.5 -2.5M272.1 930.7v3.1M271.8 930.6l2.5 2.5M271.8 933.1l2.5 -2.5M273.1 930.3v3.1M273.3 929.5l2.5 2.5M273.3 931.9l2.5 -2.5M274.5 929.2v3.1M271.9 928.7l2.5 2.5M271.9 931.2l2.5 -2.5M273.1 928.4v3.1M270.9 913.5l2.5 2.5M270.9 916l2.5 -2.5M272.1 913.2v3.1" fill="none" stroke="#E0B040" stroke-width="0.55"/>
<path d="M271.2 966.5L271.3 965.7L271.3 964.9L271.4 964.1L271.5 963.3L271.6 962.5L271.7 961.7L271.9 960.9L272.1 960.1L272.3 959.2L272.6 958.4L272.9 957.6L273.3 956.8L273.7 956L274.1 955.2L274.6 954.4L275.2 953.6L275.8 952.8L276.4 952L277 951.2L277.7 950.4L278.4 949.6L279 948.8L279.6 948L280.2 947.2L280.7 946.4L281.2 945.6L281.6 944.8L281.8 944L282 943.2L282.1 942.4L282.1 941.6L281.9 940.8L281.7 940L281.3 939.2L280.9 938.3L280.4 937.5L279.9 936.7L279.3 935.9L278.6 935.1L278 934.3L277.3 933.5L276.6 932.7L276 931.9L275.4 931.1L274.8 930.3L274.3 929.5L273.8 928.7L273.4 927.9L273 927.1L272.7 926.3L272.4 925.5L272.2 924.7L271.9 923.9L271.8 923.1L271.6 922.3L271.5 921.5L271.4 920.7L271.3 919.9L271.3 919.1L271.2 918.3" fill="none" stroke="#D4A020" stroke-width="1"/>
<line x1="304.4" y1="918.25" x2="304.4" y2="965.53" stroke="#2EC4C4" stroke-width="1"/>
<line x1="301.1" y1="918.25" x2="307.7" y2="918.25" stroke="#2EC4C4" stroke-width="1"/>
<line x1="301.1" y1="965.53" x2="307.7" y2="965.53" stroke="#2EC4C4" stroke-width="1"/>
<rect x="298" y="936.46" width="12.8" height="19.8" fill="#B4B68F" stroke="#2EC4C4" stroke-width="1"/>
<line x1="298" y1="949.87" x2="310.8" y2="949.87" stroke="#2EC4C4" stroke-width="1"/>
<circle cx="304.4" cy="945.08" r="1.1" fill="none" stroke="#2EC4C4" stroke-width="0.6" opacity="0.85"/>
<path d="M314.3 965l2.8 -1.6v3.1zM313 964.2l2.8 -1.6v3.1zM313.4 962.8l2.8 -1.6v3.1zM317.2 961.8l2.8 -1.6v3.1zM314.8 961.8l2.8 -1.6v3.1zM317.9 960.1l2.8 -1.6v3.1zM314 959.6l2.8 -1.6v3.1zM318.2 958.8l2.8 -1.6v3.1zM316.2 957.9l2.8 -1.6v3.1zM316 957.1l2.8 -1.6v3.1zM313.4 955.7l2.8 -1.6v3.1zM316.2 955.1l2.8 -1.6v3.1zM317.8 954.4l2.8 -1.6v3.1zM319.3 954.2l2.8 -1.6v3.1zM312.6 953.4l2.8 -1.6v3.1zM316.3 953.1l2.8 -1.6v3.1zM314.9 952.1l2.8 -1.6v3.1zM315.3 951.7l2.8 -1.6v3.1zM319.5 951l2.8 -1.6v3.1zM318.8 950.5l2.8 -1.6v3.1zM313.5 948.7l2.8 -1.6v3.1zM318.8 947.3l2.8 -1.6v3.1zM315 946l2.8 -1.6v3.1zM316 945.4l2.8 -1.6v3.1zM317.7 943.2l2.8 -1.6v3.1zM316.2 942.7l2.8 -1.6v3.1zM312.9 941.5l2.8 -1.6v3.1zM319.6 940.3l2.8 -1.6v3.1zM320.2 938.8l2.8 -1.6v3.1zM314.6 937.5l2.8 -1.6v3.1zM313.9 935.5l2.8 -1.6v3.1zM319.2 934l2.8 -1.6v3.1zM317.4 931.2l2.8 -1.6v3.1zM317.6 929.8l2.8 -1.6v3.1zM315.1 927.5l2.8 -1.6v3.1zM312.7 926l2.8 -1.6v3.1zM314.1 924.2l2.8 -1.6v3.1zM314.7 922.3l2.8 -1.6v3.1zM312.6 921.4l2.8 -1.6v3.1zM312.9 918.4l2.8 -1.6v3.1zM312.5 887.3l2.8 -1.6v3.1z" fill="none" stroke="#3CC8C8" stroke-width="0.7"/>
<path d="M313.1 995.6L313.2 993.9L313.2 992.2L313.3 990.5L313.4 988.9L313.5 987.2L313.6 985.5L313.7 983.9L313.9 982.2L314.1 980.5L314.4 978.8L314.7 977.2L315 975.5L315.4 973.8L315.9 972.1L316.3 970.5L316.9 968.8L317.4 967.1L318 965.5L318.6 963.8L319.3 962.1L319.9 960.4L320.5 958.8L321.1 957.1L321.7 955.4L322.2 953.8L322.6 952.1L323 950.4L323.3 948.7L323.4 947.1L323.5 945.4L323.5 943.7L323.3 942.1L323.1 940.4L322.8 938.7L322.4 937L321.9 935.4L321.3 933.7L320.8 932L320.1 930.4L319.5 928.7L318.9 927L318.3 925.3L317.7 923.7L317.1 922L316.5 920.3L316 918.7L315.6 917L315.2 915.3L314.8 913.6L314.5 912L314.2 910.3L314 908.6L313.8 907L313.6 905.3L313.5 903.6L313.4 901.9L313.3 900.3L313.2 898.6L313.2 896.9L313.1 895.3" fill="none" stroke="#22C0C0" stroke-width="1"/>
<line x1="40.6" y1="823.2" x2="40.6" y2="1047.3" stroke="#3a3a3a" stroke-width="1.2"/>
<line x1="40" y1="1047.3" x2="333.7" y2="1047.3" stroke="#3a3a3a" stroke-width="1.2"/>
<line x1="37" y1="1047.3" x2="40.6" y2="1047.3" stroke="#3a3a3a" stroke-width="1.1"/>
<text transform="translate(33.1,1050.3) scale(0.86,1)" text-anchor="end" font-size="9.9" fill="#222">0</text>
<line x1="38.6" y1="1031.33" x2="40.6" y2="1031.33" stroke="#3a3a3a" stroke-width="1.1"/>
<line x1="37" y1="1015.36" x2="40.6" y2="1015.36" stroke="#3a3a3a" stroke-width="1.1"/>
<text transform="translate(33.1,1018.36) scale(0.86,1)" text-anchor="end" font-size="9.9" fill="#222">10</text>
<line x1="38.6" y1="999.39" x2="40.6" y2="999.39" stroke="#3a3a3a" stroke-width="1.1"/>
<line x1="37" y1="983.41" x2="40.6" y2="983.41" stroke="#3a3a3a" stroke-width="1.1"/>
<text transform="translate(33.1,986.41) scale(0.86,1)" text-anchor="end" font-size="9.9" fill="#222">20</text>
<line x1="38.6" y1="967.44" x2="40.6" y2="967.44" stroke="#3a3a3a" stroke-width="1.1"/>
<line x1="37" y1="951.47" x2="40.6" y2="951.47" stroke="#3a3a3a" stroke-width="1.1"/>
<text transform="translate(33.1,954.47) scale(0.86,1)" text-anchor="end" font-size="9.9" fill="#222">30</text>
<line x1="38.6" y1="935.5" x2="40.6" y2="935.5" stroke="#3a3a3a" stroke-width="1.1"/>
<line x1="37" y1="919.53" x2="40.6" y2="919.53" stroke="#3a3a3a" stroke-width="1.1"/>
<text transform="translate(33.1,922.53) scale(0.86,1)" text-anchor="end" font-size="9.9" fill="#222">40</text>
<line x1="38.6" y1="903.56" x2="40.6" y2="903.56" stroke="#3a3a3a" stroke-width="1.1"/>
<line x1="37" y1="887.59" x2="40.6" y2="887.59" stroke="#3a3a3a" stroke-width="1.1"/>
<text transform="translate(33.1,890.59) scale(0.86,1)" text-anchor="end" font-size="9.9" fill="#222">50</text>
<line x1="38.6" y1="871.61" x2="40.6" y2="871.61" stroke="#3a3a3a" stroke-width="1.1"/>
<line x1="37" y1="855.64" x2="40.6" y2="855.64" stroke="#3a3a3a" stroke-width="1.1"/>
<text transform="translate(33.1,858.64) scale(0.86,1)" text-anchor="end" font-size="9.9" fill="#222">60</text>
<line x1="38.6" y1="839.67" x2="40.6" y2="839.67" stroke="#3a3a3a" stroke-width="1.1"/>
<line x1="37" y1="823.7" x2="40.6" y2="823.7" stroke="#3a3a3a" stroke-width="1.1"/>
<text transform="translate(33.1,826.7) scale(0.86,1)" text-anchor="end" font-size="9.9" fill="#222">70</text>
<line x1="61.3" y1="1047.3" x2="61.3" y2="1051.5" stroke="#3a3a3a" stroke-width="1.1"/>
<text x="61.3" y="1062" text-anchor="middle" font-size="9.2" fill="#222">Core</text>
<line x1="103.2" y1="1047.3" x2="103.2" y2="1051.5" stroke="#3a3a3a" stroke-width="1.1"/>
<text x="103.2" y="1062" text-anchor="middle" font-size="9.2" fill="#222">JSMS</text>
<line x1="145.1" y1="1047.3" x2="145.1" y2="1051.5" stroke="#3a3a3a" stroke-width="1.1"/>
<text x="145.1" y="1062" text-anchor="middle" font-size="9.2" fill="#222">AIJ</text>
<line x1="187" y1="1047.3" x2="187" y2="1051.5" stroke="#3a3a3a" stroke-width="1.1"/>
<text x="187" y="1062" text-anchor="middle" font-size="9.2" fill="#222">US Army</text>
<line x1="228.9" y1="1047.3" x2="228.9" y2="1051.5" stroke="#3a3a3a" stroke-width="1.1"/>
<text x="228.9" y="1062" text-anchor="middle" font-size="9.2" fill="#222">KMST</text>
<line x1="270.8" y1="1047.3" x2="270.8" y2="1051.5" stroke="#3a3a3a" stroke-width="1.1"/>
<text x="270.8" y="1062" text-anchor="middle" font-size="9.2" fill="#222">JSMS</text>
<line x1="312.7" y1="1047.3" x2="312.7" y2="1051.5" stroke="#3a3a3a" stroke-width="1.1"/>
<text x="312.7" y="1062" text-anchor="middle" font-size="9.2" fill="#222">AIJ</text>
<text transform="translate(13.5,935.5) rotate(-90)" text-anchor="middle" font-size="10.9" fill="#222">Compressive strength (MPa)</text>
<rect x="47.4" y="821.7" width="187.4" height="19.6" fill="#fff" stroke="#111" stroke-width="1.3"/>
<text x="140.5" y="835.7" text-anchor="middle" font-size="13.6" fill="#111">Gunseonganggyo Bridge, slab</text>
<text x="81.5" y="853.2" font-size="12.5" fill="#111">RHT</text>
<text x="253.2" y="853.6" font-size="12.5" fill="#111">UPVT</text>
<line x1="424" y1="820.2" x2="424" y2="1047" stroke="#111" stroke-width="1.3" stroke-dasharray="4.7 4.75" stroke-dashoffset="4.65"/>
<line x1="597.1" y1="820.2" x2="597.1" y2="1047" stroke="#111" stroke-width="1.3" stroke-dasharray="4.7 4.75" stroke-dashoffset="4.65"/>
<line x1="398.3" y1="892.78" x2="398.3" y2="998.08" stroke="#6a6a6a" stroke-width="1"/>
<line x1="395" y1="892.78" x2="401.6" y2="892.78" stroke="#6a6a6a" stroke-width="1"/>
<line x1="395" y1="998.08" x2="401.6" y2="998.08" stroke="#6a6a6a" stroke-width="1"/>
<rect x="391.9" y="925.5" width="12.8" height="30.46" fill="#FFCC8F" stroke="#6a6a6a" stroke-width="1"/>
<line x1="391.9" y1="935.54" x2="404.7" y2="935.54" stroke="#5a5040" stroke-width="1"/>
<circle cx="398.3" cy="939.11" r="1.1" fill="none" stroke="#5a5040" stroke-width="0.6" opacity="0.85"/>
<path d="M409.8 995.8h2.9v2.9h-2.9zM408.9 992.4h2.9v2.9h-2.9zM407.3 988.8h2.9v2.9h-2.9zM407.2 981.7h2.9v2.9h-2.9zM408.1 979.2h2.9v2.9h-2.9zM408.2 976.2h2.9v2.9h-2.9zM409.4 973.4h2.9v2.9h-2.9zM407.3 970.1h2.9v2.9h-2.9zM407.4 966.6h2.9v2.9h-2.9zM410.7 961.4h2.9v2.9h-2.9zM407.1 957.8h2.9v2.9h-2.9zM412.7 954.5h2.9v2.9h-2.9zM410.6 953h2.9v2.9h-2.9zM411.2 950.6h2.9v2.9h-2.9zM411.6 948.9h2.9v2.9h-2.9zM411.5 946.8h2.9v2.9h-2.9zM411.2 944.3h2.9v2.9h-2.9zM407 943.8h2.9v2.9h-2.9zM410.6 940.5h2.9v2.9h-2.9zM414.4 940.1h2.9v2.9h-2.9zM412.6 937.6h2.9v2.9h-2.9zM408.9 935.2h2.9v2.9h-2.9zM413.8 934.4h2.9v2.9h-2.9zM412.8 933.5h2.9v2.9h-2.9zM412.2 932.7h2.9v2.9h-2.9zM414.2 931.2h2.9v2.9h-2.9zM410.5 930.2h2.9v2.9h-2.9zM407.7 929.9h2.9v2.9h-2.9zM410.4 928.7h2.9v2.9h-2.9zM413.5 928.2h2.9v2.9h-2.9zM411.7 926.9h2.9v2.9h-2.9zM408.3 926.3h2.9v2.9h-2.9zM409 925.6h2.9v2.9h-2.9zM409.5 924.5h2.9v2.9h-2.9zM412 922.2h2.9v2.9h-2.9zM407.4 917.8h2.9v2.9h-2.9zM407.3 916.4h2.9v2.9h-2.9zM410.7 912.7h2.9v2.9h-2.9zM409.5 911.1h2.9v2.9h-2.9zM406.5 907.9h2.9v2.9h-2.9zM407.6 903.6h2.9v2.9h-2.9zM408 902.5h2.9v2.9h-2.9zM407.9 899.4h2.9v2.9h-2.9zM407.9 895.8h2.9v2.9h-2.9zM407.5 892.5h2.9v2.9h-2.9zM406.5 996.6h2.9v2.9h-2.9z" fill="#4a4a4a"/>
<path d="M407 1014.3L407 1012.1L407 1010L407 1007.8L407.1 1005.7L407.1 1003.6L407.2 1001.4L407.3 999.3L407.4 997.1L407.5 995L407.6 992.8L407.8 990.7L408 988.6L408.2 986.4L408.5 984.3L408.8 982.1L409.1 980L409.4 977.8L409.9 975.7L410.3 973.5L410.8 971.4L411.3 969.3L411.8 967.1L412.3 965L412.9 962.8L413.4 960.7L414 958.5L414.5 956.4L415 954.2L415.5 952.1L415.9 950L416.2 947.8L416.5 945.7L416.7 943.5L416.9 941.4L416.9 939.2L416.9 937.1L416.7 935L416.5 932.8L416.3 930.7L415.9 928.5L415.5 926.4L415.1 924.2L414.6 922.1L414.1 919.9L413.5 917.8L413 915.7L412.4 913.5L411.9 911.4L411.3 909.2L410.8 907.1L410.3 904.9L409.9 902.8L409.5 900.7L409.1 898.5L408.8 896.4L408.5 894.2L408.2 892.1L408 889.9L407.8 887.8L407.6 885.6" fill="none" stroke="#404040" stroke-width="1"/>
<line x1="440.6" y1="975.4" x2="440.6" y2="1012.66" stroke="#E55A5A" stroke-width="1"/>
<line x1="437.3" y1="975.4" x2="443.9" y2="975.4" stroke="#E55A5A" stroke-width="1"/>
<line x1="437.3" y1="1012.66" x2="443.9" y2="1012.66" stroke="#E55A5A" stroke-width="1"/>
<rect x="434.2" y="989.33" width="12.8" height="11.02" fill="#9DD79A" stroke="#E55A5A" stroke-width="1"/>
<line x1="434.2" y1="996.46" x2="447" y2="996.46" stroke="#DE6055" stroke-width="1"/>
<rect x="439.6" y="994.31" width="2" height="2" fill="#DE6055" opacity="0.7"/>
<path d="M448.9 1012.6a1.6 1.6 0 1 0 3.1 0a1.6 1.6 0 1 0 -3.1 0M450.5 1011.6a1.6 1.6 0 1 0 3.1 0a1.6 1.6 0 1 0 -3.1 0M451.5 1010.3a1.6 1.6 0 1 0 3.1 0a1.6 1.6 0 1 0 -3.1 0M451.1 1009.2a1.6 1.6 0 1 0 3.1 0a1.6 1.6 0 1 0 -3.1 0M448.9 1007.8a1.6 1.6 0 1 0 3.1 0a1.6 1.6 0 1 0 -3.1 0M449.1 1007.7a1.6 1.6 0 1 0 3.1 0a1.6 1.6 0 1 0 -3.1 0M450.8 1006.4a1.6 1.6 0 1 0 3.1 0a1.6 1.6 0 1 0 -3.1 0M450.3 1005a1.6 1.6 0 1 0 3.1 0a1.6 1.6 0 1 0 -3.1 0M448.7 1003.8a1.6 1.6 0 1 0 3.1 0a1.6 1.6 0 1 0 -3.1 0M449.9 1003a1.6 1.6 0 1 0 3.1 0a1.6 1.6 0 1 0 -3.1 0M448.9 1001.9a1.6 1.6 0 1 0 3.1 0a1.6 1.6 0 1 0 -3.1 0M454 1000.9a1.6 1.6 0 1 0 3.1 0a1.6 1.6 0 1 0 -3.1 0M453 1000.2a1.6 1.6 0 1 0 3.1 0a1.6 1.6 0 1 0 -3.1 0M455.9 1000.1a1.6 1.6 0 1 0 3.1 0a1.6 1.6 0 1 0 -3.1 0M449.3 999.7a1.6 1.6 0 1 0 3.1 0a1.6 1.6 0 1 0 -3.1 0M452.5 999.4a1.6 1.6 0 1 0 3.1 0a1.6 1.6 0 1 0 -3.1 0M449.9 999.1a1.6 1.6 0 1 0 3.1 0a1.6 1.6 0 1 0 -3.1 0M453.3 998.9a1.6 1.6 0 1 0 3.1 0a1.6 1.6 0 1 0 -3.1 0M449.7 998.5a1.6 1.6 0 1 0 3.1 0a1.6 1.6 0 1 0 -3.1 0M454.7 998.2a1.6 1.6 0 1 0 3.1 0a1.6 1.6 0 1 0 -3.1 0M452.6 997.8a1.6 1.6 0 1 0 3.1 0a1.6 1.6 0 1 0 -3.1 0M451.7 997.6a1.6 1.6 0 1 0 3.1 0a1.6 1.6 0 1 0 -3.1 0M450.3 997.3a1.6 1.6 0 1 0 3.1 0a1.6 1.6 0 1 0 -3.1 0M449.6 996.9a1.6 1.6 0 1 0 3.1 0a1.6 1.6 0 1 0 -3.1 0M454.9 996.5a1.6 1.6 0 1 0 3.1 0a1.6 1.6 0 1 0 -3.1 0M448.9 996.1a1.6 1.6 0 1 0 3.1 0a1.6 1.6 0 1 0 -3.1 0M452.5 995.7a1.6 1.6 0 1 0 3.1 0a1.6 1.6 0 1 0 -3.1 0M457.3 995.3a1.6 1.6 0 1 0 3.1 0a1.6 1.6 0 1 0 -3.1 0M453.2 994.3a1.6 1.6 0 1 0 3.1 0a1.6 1.6 0 1 0 -3.1 0M450.4 993.8a1.6 1.6 0 1 0 3.1 0a1.6 1.6 0 1 0 -3.1 0M453.3 993.5a1.6 1.6 0 1 0 3.1 0a1.6 1.6 0 1 0 -3.1 0M454.3 992.6a1.6 1.6 0 1 0 3.1 0a1.6 1.6 0 1 0 -3.1 0M454 992.5a1.6 1.6 0 1 0 3.1 0a1.6 1.6 0 1 0 -3.1 0M455 991.4a1.6 1.6 0 1 0 3.1 0a1.6 1.6 0 1 0 -3.1 0M456.8 990.8a1.6 1.6 0 1 0 3.1 0a1.6 1.6 0 1 0 -3.1 0M451.1 990.6a1.6 1.6 0 1 0 3.1 0a1.6 1.6 0 1 0 -3.1 0M456.4 989.9a1.6 1.6 0 1 0 3.1 0a1.6 1.6 0 1 0 -3.1 0M455.9 989.4a1.6 1.6 0 1 0 3.1 0a1.6 1.6 0 1 0 -3.1 0M452.2 987.8a1.6 1.6 0 1 0 3.1 0a1.6 1.6 0 1 0 -3.1 0M454.8 987a1.6 1.6 0 1 0 3.1 0a1.6 1.6 0 1 0 -3.1 0M450.3 985.7a1.6 1.6 0 1 0 3.1 0a1.6 1.6 0 1 0 -3.1 0M449.6 984.5a1.6 1.6 0 1 0 3.1 0a1.6 1.6 0 1 0 -3.1 0M453 983.9a1.6 1.6 0 1 0 3.1 0a1.6 1.6 0 1 0 -3.1 0M449.8 982.3a1.6 1.6 0 1 0 3.1 0a1.6 1.6 0 1 0 -3.1 0M450.8 981.8a1.6 1.6 0 1 0 3.1 0a1.6 1.6 0 1 0 -3.1 0M451 980a1.6 1.6 0 1 0 3.1 0a1.6 1.6 0 1 0 -3.1 0M451.2 978.8a1.6 1.6 0 1 0 3.1 0a1.6 1.6 0 1 0 -3.1 0M450.8 977.8a1.6 1.6 0 1 0 3.1 0a1.6 1.6 0 1 0 -3.1 0M450.1 977.2a1.6 1.6 0 1 0 3.1 0a1.6 1.6 0 1 0 -3.1 0M450.5 976a1.6 1.6 0 1 0 3.1 0a1.6 1.6 0 1 0 -3.1 0" fill="none" stroke="#EE7777" stroke-width="0.7"/>
<path d="M449.3 1025.3L449.3 1024.3L449.3 1023.3L449.4 1022.2L449.5 1021.2L449.5 1020.2L449.6 1019.2L449.8 1018.2L449.9 1017.2L450.1 1016.2L450.4 1015.1L450.6 1014.1L451 1013.1L451.3 1012.1L451.7 1011.1L452.2 1010.1L452.7 1009L453.3 1008L453.9 1007L454.5 1006L455.1 1005L455.8 1004L456.5 1003L457.1 1001.9L457.7 1000.9L458.2 999.9L458.7 998.9L459.1 997.9L459.4 996.9L459.6 995.9L459.7 994.8L459.7 993.8L459.5 992.8L459.3 991.8L459 990.8L458.5 989.8L458 988.7L457.5 987.7L456.9 986.7L456.2 985.7L455.6 984.7L454.9 983.7L454.3 982.7L453.7 981.6L453.1 980.6L452.5 979.6L452 978.6L451.6 977.6L451.2 976.6L450.8 975.5L450.5 974.5L450.3 973.5L450.1 972.5L449.9 971.5L449.7 970.5L449.6 969.5L449.5 968.4L449.4 967.4L449.4 966.4L449.3 965.4L449.3 964.4" fill="none" stroke="#E54F4F" stroke-width="1"/>
<line x1="482.9" y1="963.08" x2="482.9" y2="986.41" stroke="#3F78D8" stroke-width="1"/>
<line x1="479.6" y1="963.08" x2="486.2" y2="963.08" stroke="#3F78D8" stroke-width="1"/>
<line x1="479.6" y1="986.41" x2="486.2" y2="986.41" stroke="#3F78D8" stroke-width="1"/>
<rect x="476.5" y="972.8" width="12.8" height="6.8" fill="#C9B6DC" stroke="#3F78D8" stroke-width="1"/>
<line x1="476.5" y1="976.04" x2="489.3" y2="976.04" stroke="#3F78D8" stroke-width="1"/>
<circle cx="482.9" cy="976.04" r="1.1" fill="none" stroke="#3F78D8" stroke-width="0.6" opacity="0.85"/>
<path d="M493.4 984.4l1.6 2.8h-3.1zM495.1 984.3l1.6 2.8h-3.1zM494 983.6l1.6 2.8h-3.1zM495.4 983.2l1.6 2.8h-3.1zM493.5 982.5l1.6 2.8h-3.1zM494.4 981.7l1.6 2.8h-3.1zM496.1 981.4l1.6 2.8h-3.1zM494.2 980.8l1.6 2.8h-3.1zM497 980l1.6 2.8h-3.1zM494 979.6l1.6 2.8h-3.1zM496.5 979l1.6 2.8h-3.1zM495.2 978.4l1.6 2.8h-3.1zM498.6 978l1.6 2.8h-3.1zM497.6 977.8l1.6 2.8h-3.1zM500.6 977.4l1.6 2.8h-3.1zM499.1 977.1l1.6 2.8h-3.1zM497.7 977l1.6 2.8h-3.1zM493.3 976.6l1.6 2.8h-3.1zM500.2 976.4l1.6 2.8h-3.1zM500.9 975.9l1.6 2.8h-3.1zM498.1 975.9l1.6 2.8h-3.1zM498.6 975.4l1.6 2.8h-3.1zM492.9 975.3l1.6 2.8h-3.1zM500.6 974.8l1.6 2.8h-3.1zM496 974.6l1.6 2.8h-3.1zM500.2 974.3l1.6 2.8h-3.1zM498.1 974l1.6 2.8h-3.1zM495.3 973.9l1.6 2.8h-3.1zM495.5 973.6l1.6 2.8h-3.1zM493.6 973.3l1.6 2.8h-3.1zM495.7 973l1.6 2.8h-3.1zM494.8 972.9l1.6 2.8h-3.1zM496.3 972.6l1.6 2.8h-3.1zM493.4 972.2l1.6 2.8h-3.1zM495 972.1l1.6 2.8h-3.1zM498.8 971.9l1.6 2.8h-3.1zM492.9 971.6l1.6 2.8h-3.1zM498.3 971.2l1.6 2.8h-3.1zM496.4 970.2l1.6 2.8h-3.1zM498.3 969.8l1.6 2.8h-3.1zM495.1 968.7l1.6 2.8h-3.1zM496.8 968.1l1.6 2.8h-3.1zM495.8 967l1.6 2.8h-3.1zM493.6 966.9l1.6 2.8h-3.1zM493.1 965.9l1.6 2.8h-3.1zM492.7 964.8l1.6 2.8h-3.1zM494.5 964l1.6 2.8h-3.1zM494 963.4l1.6 2.8h-3.1zM494.5 962.4l1.6 2.8h-3.1zM495.7 961.6l1.6 2.8h-3.1z" fill="none" stroke="#5A8DE0" stroke-width="0.7"/>
<path d="M491.6 993.5L491.6 993L491.7 992.4L491.8 991.8L491.8 991.3L491.9 990.7L492.1 990.1L492.2 989.5L492.4 989L492.6 988.4L492.9 987.8L493.2 987.2L493.5 986.7L493.9 986.1L494.3 985.5L494.8 985L495.4 984.4L495.9 983.8L496.5 983.2L497.2 982.7L497.8 982.1L498.5 981.5L499.2 980.9L499.8 980.4L500.4 979.8L500.9 979.2L501.4 978.7L501.8 978.1L502.1 977.5L502.4 976.9L502.5 976.4L502.5 975.8L502.4 975.2L502.2 974.7L501.9 974.1L501.5 973.5L501 972.9L500.5 972.4L499.9 971.8L499.2 971.2L498.6 970.6L497.9 970.1L497.3 969.5L496.6 968.9L496 968.4L495.4 967.8L494.9 967.2L494.4 966.6L494 966.1L493.6 965.5L493.2 964.9L492.9 964.3L492.6 963.8L492.4 963.2L492.2 962.6L492.1 962.1L492 961.5L491.8 960.9L491.8 960.3L491.7 959.8L491.7 959.2" fill="none" stroke="#2F6AD6" stroke-width="1"/>
<line x1="525.2" y1="972.48" x2="525.2" y2="1013.63" stroke="#3FAA6A" stroke-width="1"/>
<line x1="521.9" y1="972.48" x2="528.5" y2="972.48" stroke="#3FAA6A" stroke-width="1"/>
<line x1="521.9" y1="1013.63" x2="528.5" y2="1013.63" stroke="#3FAA6A" stroke-width="1"/>
<rect x="518.8" y="988.36" width="12.8" height="12.64" fill="#FFFF9E" stroke="#3FAA6A" stroke-width="1"/>
<line x1="518.8" y1="996.78" x2="531.6" y2="996.78" stroke="#3FAA6A" stroke-width="1"/>
<circle cx="525.2" cy="994.19" r="1.1" fill="none" stroke="#3FAA6A" stroke-width="0.6" opacity="0.85"/>
<path d="M538.2 1014.5l1.6 -2.8h-3.1zM536.1 1013.8l1.6 -2.8h-3.1zM536.6 1012.6l1.6 -2.8h-3.1zM537.2 1012.1l1.6 -2.8h-3.1zM535.2 1011.1l1.6 -2.8h-3.1zM536.6 1009.8l1.6 -2.8h-3.1zM537.1 1008.8l1.6 -2.8h-3.1zM536.2 1007.9l1.6 -2.8h-3.1zM537.4 1007.6l1.6 -2.8h-3.1zM539.5 1006.2l1.6 -2.8h-3.1zM535.6 1005.4l1.6 -2.8h-3.1zM535 1004.7l1.6 -2.8h-3.1zM541.4 1003.8l1.6 -2.8h-3.1zM540 1002.9l1.6 -2.8h-3.1zM535.9 1002.3l1.6 -2.8h-3.1zM535.4 1001.9l1.6 -2.8h-3.1zM539.4 1001.8l1.6 -2.8h-3.1zM542.6 1001.5l1.6 -2.8h-3.1zM540 1001.1l1.6 -2.8h-3.1zM535.7 1000.6l1.6 -2.8h-3.1zM535.1 1000.3l1.6 -2.8h-3.1zM540.5 1000.1l1.6 -2.8h-3.1zM538 999.7l1.6 -2.8h-3.1zM540.6 999.4l1.6 -2.8h-3.1zM536.3 999.3l1.6 -2.8h-3.1zM538.1 999l1.6 -2.8h-3.1zM538.2 998.7l1.6 -2.8h-3.1zM538.3 998.1l1.6 -2.8h-3.1zM535.2 997.6l1.6 -2.8h-3.1zM541.4 997.3l1.6 -2.8h-3.1zM537.8 996.3l1.6 -2.8h-3.1zM537 996.2l1.6 -2.8h-3.1zM538.3 995.4l1.6 -2.8h-3.1zM537.6 994.6l1.6 -2.8h-3.1zM542.1 994l1.6 -2.8h-3.1zM541.6 993.3l1.6 -2.8h-3.1zM537.2 992.8l1.6 -2.8h-3.1zM537.4 992l1.6 -2.8h-3.1zM538.7 991.4l1.6 -2.8h-3.1zM539 990.9l1.6 -2.8h-3.1zM537.6 990.3l1.6 -2.8h-3.1zM540.7 989.5l1.6 -2.8h-3.1zM539.3 988.6l1.6 -2.8h-3.1zM538 987.4l1.6 -2.8h-3.1zM538.2 986.3l1.6 -2.8h-3.1zM535.7 984.8l1.6 -2.8h-3.1zM539 984.3l1.6 -2.8h-3.1zM538.4 983.2l1.6 -2.8h-3.1zM535.6 981.2l1.6 -2.8h-3.1zM535.7 980.2l1.6 -2.8h-3.1zM535.5 978.8l1.6 -2.8h-3.1zM534.9 978.5l1.6 -2.8h-3.1zM535.5 976.7l1.6 -2.8h-3.1zM538.2 976l1.6 -2.8h-3.1zM537.4 974.3l1.6 -2.8h-3.1z" fill="none" stroke="#4FB578" stroke-width="0.7"/>
<path d="M533.9 1028.9L533.9 1027.7L534 1026.6L534 1025.4L534.1 1024.3L534.2 1023.2L534.3 1022L534.4 1020.9L534.6 1019.7L534.8 1018.6L535 1017.5L535.3 1016.3L535.7 1015.2L536 1014L536.5 1012.9L537 1011.8L537.5 1010.6L538.1 1009.5L538.7 1008.3L539.3 1007.2L540 1006.1L540.7 1004.9L541.4 1003.8L542 1002.6L542.7 1001.5L543.2 1000.4L543.7 999.2L544.1 998.1L544.5 997L544.7 995.8L544.8 994.7L544.8 993.5L544.7 992.4L544.4 991.3L544.1 990.1L543.7 989L543.1 987.8L542.6 986.7L541.9 985.6L541.3 984.4L540.6 983.3L539.9 982.1L539.3 981L538.6 979.9L538 978.7L537.4 977.6L536.9 976.4L536.4 975.3L536 974.2L535.6 973L535.3 971.9L535 970.7L534.8 969.6L534.6 968.5L534.4 967.3L534.3 966.2L534.2 965L534.1 963.9L534 962.8L534 961.6L533.9 960.5" fill="none" stroke="#30A060" stroke-width="1"/>
<line x1="567.5" y1="960.49" x2="567.5" y2="1030.15" stroke="#B07CE0" stroke-width="1"/>
<line x1="564.2" y1="960.49" x2="570.8" y2="960.49" stroke="#B07CE0" stroke-width="1"/>
<line x1="564.2" y1="1030.15" x2="570.8" y2="1030.15" stroke="#B07CE0" stroke-width="1"/>
<rect x="561.1" y="989.98" width="12.8" height="20.41" fill="#9EBEF5" stroke="#B07CE0" stroke-width="1"/>
<line x1="561.1" y1="1003.26" x2="573.9" y2="1003.26" stroke="#B07CE0" stroke-width="1"/>
<circle cx="567.5" cy="1000.02" r="1.1" fill="none" stroke="#B07CE0" stroke-width="0.6" opacity="0.85"/>
<path d="M579.3 1027.8l1.6 1.6l-1.6 1.6l-1.6 -1.6zM579.3 1027.8v3.1M577.8 1029.4h3.1M579.9 1027.3l1.6 1.6l-1.6 1.6l-1.6 -1.6zM579.9 1027.3v3.1M578.4 1028.8h3.1M580.1 1025.5l1.6 1.6l-1.6 1.6l-1.6 -1.6zM580.1 1025.5v3.1M578.5 1027.1h3.1M580.3 1024.1l1.6 1.6l-1.6 1.6l-1.6 -1.6zM580.3 1024.1v3.1M578.7 1025.7h3.1M580.5 1023.3l1.6 1.6l-1.6 1.6l-1.6 -1.6zM580.5 1023.3v3.1M579 1024.9h3.1M578.9 1021.9l1.6 1.6l-1.6 1.6l-1.6 -1.6zM578.9 1021.9v3.1M577.3 1023.4h3.1M580.6 1020.1l1.6 1.6l-1.6 1.6l-1.6 -1.6zM580.6 1020.1v3.1M579.1 1021.6h3.1M581.2 1018.4l1.6 1.6l-1.6 1.6l-1.6 -1.6zM581.2 1018.4v3.1M579.7 1020h3.1M579.1 1016.9l1.6 1.6l-1.6 1.6l-1.6 -1.6zM579.1 1016.9v3.1M577.6 1018.4h3.1M577.8 1016.5l1.6 1.6l-1.6 1.6l-1.6 -1.6zM577.8 1016.5v3.1M576.3 1018.1h3.1M582.5 1014.5l1.6 1.6l-1.6 1.6l-1.6 -1.6zM582.5 1014.5v3.1M580.9 1016h3.1M579.2 1013.2l1.6 1.6l-1.6 1.6l-1.6 -1.6zM579.2 1013.2v3.1M577.7 1014.8h3.1M581.4 1012l1.6 1.6l-1.6 1.6l-1.6 -1.6zM581.4 1012v3.1M579.9 1013.6h3.1M581.9 1011.1l1.6 1.6l-1.6 1.6l-1.6 -1.6zM581.9 1011.1v3.1M580.3 1012.7h3.1M577.3 1009.9l1.6 1.6l-1.6 1.6l-1.6 -1.6zM577.3 1009.9v3.1M575.8 1011.4h3.1M580.8 1008.8l1.6 1.6l-1.6 1.6l-1.6 -1.6zM580.8 1008.8v3.1M579.3 1010.4h3.1M578.9 1008l1.6 1.6l-1.6 1.6l-1.6 -1.6zM578.9 1008v3.1M577.3 1009.6h3.1M582.6 1007.7l1.6 1.6l-1.6 1.6l-1.6 -1.6zM582.6 1007.7v3.1M581.1 1009.2h3.1M581.3 1007.3l1.6 1.6l-1.6 1.6l-1.6 -1.6zM581.3 1007.3v3.1M579.8 1008.8h3.1M580.5 1006.7l1.6 1.6l-1.6 1.6l-1.6 -1.6zM580.5 1006.7v3.1M578.9 1008.2h3.1M582.9 1006.4l1.6 1.6l-1.6 1.6l-1.6 -1.6zM582.9 1006.4v3.1M581.3 1007.9h3.1M578.7 1005.7l1.6 1.6l-1.6 1.6l-1.6 -1.6zM578.7 1005.7v3.1M577.2 1007.2h3.1M582.8 1005.1l1.6 1.6l-1.6 1.6l-1.6 -1.6zM582.8 1005.1v3.1M581.2 1006.7h3.1M583.9 1004.6l1.6 1.6l-1.6 1.6l-1.6 -1.6zM583.9 1004.6v3.1M582.4 1006.2h3.1M583.4 1004.3l1.6 1.6l-1.6 1.6l-1.6 -1.6zM583.4 1004.3v3.1M581.9 1005.9h3.1M582.9 1003.9l1.6 1.6l-1.6 1.6l-1.6 -1.6zM582.9 1003.9v3.1M581.4 1005.5h3.1M580.2 1003.6l1.6 1.6l-1.6 1.6l-1.6 -1.6zM580.2 1003.6v3.1M578.7 1005.1h3.1M585.2 1002.9l1.6 1.6l-1.6 1.6l-1.6 -1.6zM585.2 1002.9v3.1M583.6 1004.4h3.1M585.4 1002.3l1.6 1.6l-1.6 1.6l-1.6 -1.6zM585.4 1002.3v3.1M583.9 1003.9h3.1M586.1 1001.8l1.6 1.6l-1.6 1.6l-1.6 -1.6zM586.1 1001.8v3.1M584.5 1003.3h3.1M582.8 1001.2l1.6 1.6l-1.6 1.6l-1.6 -1.6zM582.8 1001.2v3.1M581.3 1002.7h3.1M579.2 1000.4l1.6 1.6l-1.6 1.6l-1.6 -1.6zM579.2 1000.4v3.1M577.6 1002h3.1M582.9 999.2l1.6 1.6l-1.6 1.6l-1.6 -1.6zM582.9 999.2v3.1M581.3 1000.8h3.1M579.4 998.9l1.6 1.6l-1.6 1.6l-1.6 -1.6zM579.4 998.9v3.1M577.8 1000.5h3.1M583.9 998l1.6 1.6l-1.6 1.6l-1.6 -1.6zM583.9 998v3.1M582.4 999.5h3.1M579 996.8l1.6 1.6l-1.6 1.6l-1.6 -1.6zM579 996.8v3.1M577.4 998.3h3.1M582.3 995.8l1.6 1.6l-1.6 1.6l-1.6 -1.6zM582.3 995.8v3.1M580.8 997.3h3.1M581.2 995.3l1.6 1.6l-1.6 1.6l-1.6 -1.6zM581.2 995.3v3.1M579.7 996.8h3.1M578.4 993.7l1.6 1.6l-1.6 1.6l-1.6 -1.6zM578.4 993.7v3.1M576.8 995.3h3.1M582.5 993.5l1.6 1.6l-1.6 1.6l-1.6 -1.6zM582.5 993.5v3.1M580.9 995.1h3.1M585.1 992.1l1.6 1.6l-1.6 1.6l-1.6 -1.6zM585.1 992.1v3.1M583.6 993.7h3.1M583.7 991.6l1.6 1.6l-1.6 1.6l-1.6 -1.6zM583.7 991.6v3.1M582.2 993.2h3.1M580.4 991l1.6 1.6l-1.6 1.6l-1.6 -1.6zM580.4 991v3.1M578.8 992.5h3.1M582.5 989.4l1.6 1.6l-1.6 1.6l-1.6 -1.6zM582.5 989.4v3.1M580.9 991h3.1M581.8 988.9l1.6 1.6l-1.6 1.6l-1.6 -1.6zM581.8 988.9v3.1M580.3 990.5h3.1M581.2 987.5l1.6 1.6l-1.6 1.6l-1.6 -1.6zM581.2 987.5v3.1M579.6 989h3.1M583.4 984.7l1.6 1.6l-1.6 1.6l-1.6 -1.6zM583.4 984.7v3.1M581.9 986.3h3.1M581.8 984.1l1.6 1.6l-1.6 1.6l-1.6 -1.6zM581.8 984.1v3.1M580.3 985.7h3.1M580.1 980.7l1.6 1.6l-1.6 1.6l-1.6 -1.6zM580.1 980.7v3.1M578.6 982.2h3.1M578.8 979.6l1.6 1.6l-1.6 1.6l-1.6 -1.6zM578.8 979.6v3.1M577.3 981.1h3.1M579.3 977.6l1.6 1.6l-1.6 1.6l-1.6 -1.6zM579.3 977.6v3.1M577.8 979.2h3.1M577.5 975.4l1.6 1.6l-1.6 1.6l-1.6 -1.6zM577.5 975.4v3.1M575.9 977h3.1M578.1 972.7l1.6 1.6l-1.6 1.6l-1.6 -1.6zM578.1 972.7v3.1M576.5 974.3h3.1M577.8 971.6l1.6 1.6l-1.6 1.6l-1.6 -1.6zM577.8 971.6v3.1M576.2 973.2h3.1M577.4 969.5l1.6 1.6l-1.6 1.6l-1.6 -1.6zM577.4 969.5v3.1M575.8 971h3.1M578.4 968.1l1.6 1.6l-1.6 1.6l-1.6 -1.6zM578.4 968.1v3.1M576.9 969.7h3.1M578.8 966.2l1.6 1.6l-1.6 1.6l-1.6 -1.6zM578.8 966.2v3.1M577.3 967.7h3.1M578.8 964.5l1.6 1.6l-1.6 1.6l-1.6 -1.6zM578.8 964.5v3.1M577.3 966.1h3.1M579.3 961.3l1.6 1.6l-1.6 1.6l-1.6 -1.6zM579.3 961.3v3.1M577.8 962.9h3.1M580.4 959l1.6 1.6l-1.6 1.6l-1.6 -1.6zM580.4 959v3.1M578.9 960.6h3.1" fill="none" stroke="#BE8EE6" stroke-width="0.7"/>
<path d="M576.3 1047L576.4 1045.4L576.5 1043.7L576.6 1042.1L576.7 1040.4L576.9 1038.8L577.1 1037.2L577.3 1035.5L577.6 1033.9L577.9 1032.2L578.2 1030.6L578.6 1028.9L579.1 1027.3L579.6 1025.7L580.1 1024L580.7 1022.4L581.3 1020.7L581.9 1019.1L582.5 1017.5L583.2 1015.8L583.8 1014.2L584.5 1012.5L585 1010.9L585.6 1009.2L586 1007.6L586.4 1006L586.7 1004.3L587 1002.7L587.1 1001L587.1 999.4L587 997.8L586.8 996.1L586.5 994.5L586.1 992.8L585.7 991.2L585.2 989.5L584.6 987.9L584 986.3L583.3 984.6L582.7 983L582 981.3L581.4 979.7L580.8 978.1L580.2 976.4L579.7 974.8L579.2 973.1L578.7 971.5L578.3 969.8L578 968.2L577.6 966.6L577.4 964.9L577.1 963.3L576.9 961.6L576.8 960L576.6 958.4L576.5 956.7L576.4 955.1L576.3 953.4L576.3 951.8L576.2 950.1L576.2 948.5" fill="none" stroke="#A970DE" stroke-width="1"/>
<line x1="609.8" y1="943.32" x2="609.8" y2="972.48" stroke="#D9A52A" stroke-width="1"/>
<line x1="606.5" y1="943.32" x2="613.1" y2="943.32" stroke="#D9A52A" stroke-width="1"/>
<line x1="606.5" y1="972.48" x2="613.1" y2="972.48" stroke="#D9A52A" stroke-width="1"/>
<rect x="603.4" y="951.42" width="12.8" height="8.1" fill="#FAB4FA" stroke="#D9A52A" stroke-width="1"/>
<line x1="603.4" y1="955.31" x2="616.2" y2="955.31" stroke="#D9A52A" stroke-width="1"/>
<circle cx="609.8" cy="955.96" r="1.1" fill="none" stroke="#D9A52A" stroke-width="0.6" opacity="0.85"/>
<path d="M619.8 970.9l2.5 2.5M619.8 973.4l2.5 -2.5M621 970.6v3.1M621.2 969.9l2.5 2.5M621.2 972.4l2.5 -2.5M622.5 969.6v3.1M620.5 969.4l2.5 2.5M620.5 971.8l2.5 -2.5M621.7 969v3.1M620 968.5l2.5 2.5M620 971l2.5 -2.5M621.2 968.2v3.1M619.6 967.9l2.5 2.5M619.6 970.4l2.5 -2.5M620.8 967.6v3.1M619.8 967.2l2.5 2.5M619.8 969.7l2.5 -2.5M621.1 966.9v3.1M618.7 966.2l2.5 2.5M618.7 968.7l2.5 -2.5M620 965.9v3.1M621.4 966l2.5 2.5M621.4 968.4l2.5 -2.5M622.6 965.7v3.1M620.6 964.9l2.5 2.5M620.6 967.4l2.5 -2.5M621.8 964.6v3.1M620.7 963.9l2.5 2.5M620.7 966.4l2.5 -2.5M622 963.6v3.1M621.7 963.4l2.5 2.5M621.7 965.9l2.5 -2.5M623 963.1v3.1M620.1 962.6l2.5 2.5M620.1 965.1l2.5 -2.5M621.4 962.3v3.1M618.9 962.2l2.5 2.5M618.9 964.7l2.5 -2.5M620.2 961.9v3.1M623.4 961l2.5 2.5M623.4 963.5l2.5 -2.5M624.7 960.7v3.1M621.5 960.6l2.5 2.5M621.5 963.1l2.5 -2.5M622.7 960.3v3.1M622.5 959.6l2.5 2.5M622.5 962.1l2.5 -2.5M623.7 959.3v3.1M625 959.2l2.5 2.5M625 961.7l2.5 -2.5M626.2 958.9v3.1M624 958.3l2.5 2.5M624 960.7l2.5 -2.5M625.2 958v3.1M621.8 958l2.5 2.5M621.8 960.5l2.5 -2.5M623.1 957.7v3.1M619.8 957.8l2.5 2.5M619.8 960.2l2.5 -2.5M621 957.4v3.1M623.8 957.5l2.5 2.5M623.8 960l2.5 -2.5M625 957.2v3.1M620.7 957.3l2.5 2.5M620.7 959.8l2.5 -2.5M622 957v3.1M619.1 957.2l2.5 2.5M619.1 959.6l2.5 -2.5M620.3 956.8v3.1M619.8 956.9l2.5 2.5M619.8 959.4l2.5 -2.5M621 956.6v3.1M623.3 956.6l2.5 2.5M623.3 959.1l2.5 -2.5M624.6 956.3v3.1M622.2 956.3l2.5 2.5M622.2 958.8l2.5 -2.5M623.4 956v3.1M618.4 956l2.5 2.5M618.4 958.5l2.5 -2.5M619.7 955.7v3.1M619.3 955.9l2.5 2.5M619.3 958.4l2.5 -2.5M620.5 955.6v3.1M623.5 955.6l2.5 2.5M623.5 958.1l2.5 -2.5M624.8 955.3v3.1M622.3 955.4l2.5 2.5M622.3 957.9l2.5 -2.5M623.6 955.1v3.1M621.3 955.2l2.5 2.5M621.3 957.7l2.5 -2.5M622.5 954.9v3.1M620 955l2.5 2.5M620 957.5l2.5 -2.5M621.2 954.7v3.1M623.5 954.7l2.5 2.5M623.5 957.2l2.5 -2.5M624.8 954.4v3.1M626.1 954.5l2.5 2.5M626.1 957l2.5 -2.5M627.4 954.2v3.1M619.3 954.3l2.5 2.5M619.3 956.8l2.5 -2.5M620.6 954v3.1M621.3 954l2.5 2.5M621.3 956.4l2.5 -2.5M622.5 953.7v3.1M624.6 953.7l2.5 2.5M624.6 956.2l2.5 -2.5M625.8 953.4v3.1M625.5 953.5l2.5 2.5M625.5 956l2.5 -2.5M626.7 953.2v3.1M624.4 953.3l2.5 2.5M624.4 955.8l2.5 -2.5M625.6 953v3.1M619.3 953.1l2.5 2.5M619.3 955.6l2.5 -2.5M620.6 952.8v3.1M619.8 952.9l2.5 2.5M619.8 955.4l2.5 -2.5M621.1 952.6v3.1M620.6 952.6l2.5 2.5M620.6 955.1l2.5 -2.5M621.9 952.3v3.1M624.1 952.4l2.5 2.5M624.1 954.9l2.5 -2.5M625.3 952.1v3.1M619.5 952.1l2.5 2.5M619.5 954.6l2.5 -2.5M620.7 951.8v3.1M618.2 951.9l2.5 2.5M618.2 954.3l2.5 -2.5M619.4 951.5v3.1M626.5 951.6l2.5 2.5M626.5 954.1l2.5 -2.5M627.7 951.3v3.1M624.9 951.5l2.5 2.5M624.9 954l2.5 -2.5M626.1 951.2v3.1M622.8 951.3l2.5 2.5M622.8 953.8l2.5 -2.5M624 951v3.1M625.7 951l2.5 2.5M625.7 953.5l2.5 -2.5M627 950.7v3.1M619.9 950.9l2.5 2.5M619.9 953.4l2.5 -2.5M621.1 950.6v3.1M622.7 950.5l2.5 2.5M622.7 953l2.5 -2.5M624 950.2v3.1M619.8 950.3l2.5 2.5M619.8 952.8l2.5 -2.5M621.1 950v3.1M619.3 950l2.5 2.5M619.3 952.5l2.5 -2.5M620.6 949.7v3.1M620.2 949.9l2.5 2.5M620.2 952.4l2.5 -2.5M621.5 949.6v3.1M620.7 949.1l2.5 2.5M620.7 951.5l2.5 -2.5M621.9 948.7v3.1M620 948.8l2.5 2.5M620 951.3l2.5 -2.5M621.2 948.5v3.1M620.8 948.5l2.5 2.5M620.8 951l2.5 -2.5M622 948.2v3.1M620 947.9l2.5 2.5M620 950.3l2.5 -2.5M621.2 947.6v3.1M619.7 947.3l2.5 2.5M619.7 949.8l2.5 -2.5M620.9 947v3.1M622.1 946.7l2.5 2.5M622.1 949.2l2.5 -2.5M623.4 946.4v3.1M618.6 946.4l2.5 2.5M618.6 948.9l2.5 -2.5M619.8 946.1v3.1M620.5 946l2.5 2.5M620.5 948.5l2.5 -2.5M621.7 945.7v3.1M619.6 945.5l2.5 2.5M619.6 948l2.5 -2.5M620.9 945.2v3.1M621.6 945l2.5 2.5M621.6 947.5l2.5 -2.5M622.9 944.7v3.1M618.3 944.5l2.5 2.5M618.3 947l2.5 -2.5M619.5 944.2v3.1M620.3 944.1l2.5 2.5M620.3 946.6l2.5 -2.5M621.6 943.8v3.1M621.4 943.7l2.5 2.5M621.4 946.2l2.5 -2.5M622.7 943.4v3.1M618.2 943.4l2.5 2.5M618.2 945.9l2.5 -2.5M619.5 943.1v3.1M618.5 942.7l2.5 2.5M618.5 945.2l2.5 -2.5M619.8 942.4v3.1M621 942.5l2.5 2.5M621 945l2.5 -2.5M622.3 942.2v3.1" fill="none" stroke="#E0B040" stroke-width="0.55"/>
<path d="M618.5 977L618.5 976.3L618.6 975.6L618.7 974.9L618.7 974.3L618.8 973.6L619 972.9L619.1 972.2L619.3 971.5L619.5 970.8L619.8 970.1L620.1 969.4L620.4 968.7L620.8 968L621.2 967.3L621.7 966.6L622.3 966L622.8 965.3L623.5 964.6L624.1 963.9L624.8 963.2L625.4 962.5L626.1 961.8L626.7 961.1L627.3 960.4L627.9 959.7L628.4 959L628.8 958.4L629.1 957.7L629.3 957L629.4 956.3L629.4 955.6L629.3 954.9L629.1 954.2L628.7 953.5L628.3 952.8L627.8 952.1L627.3 951.4L626.7 950.8L626 950.1L625.4 949.4L624.7 948.7L624.1 948L623.4 947.3L622.8 946.6L622.2 945.9L621.7 945.2L621.2 944.5L620.8 943.8L620.4 943.1L620 942.5L619.7 941.8L619.5 941.1L619.3 940.4L619.1 939.7L618.9 939L618.8 938.3L618.7 937.6L618.6 936.9L618.6 936.2L618.5 935.5" fill="none" stroke="#D4A020" stroke-width="1"/>
<line x1="652.1" y1="948.5" x2="652.1" y2="1010.39" stroke="#2EC4C4" stroke-width="1"/>
<line x1="648.8" y1="948.5" x2="655.4" y2="948.5" stroke="#2EC4C4" stroke-width="1"/>
<line x1="648.8" y1="1010.39" x2="655.4" y2="1010.39" stroke="#2EC4C4" stroke-width="1"/>
<rect x="645.7" y="966" width="12.8" height="18.14" fill="#B4B68F" stroke="#2EC4C4" stroke-width="1"/>
<line x1="645.7" y1="974.42" x2="658.5" y2="974.42" stroke="#2EC4C4" stroke-width="1"/>
<circle cx="652.1" cy="975.4" r="1.1" fill="none" stroke="#2EC4C4" stroke-width="0.6" opacity="0.85"/>
<path d="M663.2 1009.8l2.8 -1.6v3.1zM662.5 1007.2l2.8 -1.6v3.1zM660.4 1006.3l2.8 -1.6v3.1zM663.2 1003.4l2.8 -1.6v3.1zM661.9 1001.8l2.8 -1.6v3.1zM662.3 1001.1l2.8 -1.6v3.1zM660.8 999.2l2.8 -1.6v3.1zM661.6 997.9l2.8 -1.6v3.1zM661.1 996.1l2.8 -1.6v3.1zM664.2 992.9l2.8 -1.6v3.1zM662.7 991.3l2.8 -1.6v3.1zM661.1 989.8l2.8 -1.6v3.1zM666.3 988.3l2.8 -1.6v3.1zM667.1 986.3l2.8 -1.6v3.1zM662.5 984.8l2.8 -1.6v3.1zM662.3 984.1l2.8 -1.6v3.1zM664.5 983l2.8 -1.6v3.1zM666.9 982.4l2.8 -1.6v3.1zM661.3 982l2.8 -1.6v3.1zM665.4 981l2.8 -1.6v3.1zM666.3 980.9l2.8 -1.6v3.1zM667 979.8l2.8 -1.6v3.1zM662.6 979.5l2.8 -1.6v3.1zM666.3 978.5l2.8 -1.6v3.1zM669.1 978.1l2.8 -1.6v3.1zM668.5 977.5l2.8 -1.6v3.1zM664.4 976.9l2.8 -1.6v3.1zM666.7 975.7l2.8 -1.6v3.1zM668.5 975.2l2.8 -1.6v3.1zM665.3 974.7l2.8 -1.6v3.1zM665.1 974l2.8 -1.6v3.1zM667.3 973.3l2.8 -1.6v3.1zM662.8 973.3l2.8 -1.6v3.1zM661.2 972.2l2.8 -1.6v3.1zM665.5 972.2l2.8 -1.6v3.1zM669 971.2l2.8 -1.6v3.1zM665.7 970.5l2.8 -1.6v3.1zM664.8 970.1l2.8 -1.6v3.1zM666.2 969.5l2.8 -1.6v3.1zM665.6 969.3l2.8 -1.6v3.1zM663 968.8l2.8 -1.6v3.1zM667.8 968.1l2.8 -1.6v3.1zM663.2 967.6l2.8 -1.6v3.1zM661.8 966.8l2.8 -1.6v3.1zM662.4 966.3l2.8 -1.6v3.1zM666 965.2l2.8 -1.6v3.1zM666.2 964.2l2.8 -1.6v3.1zM665 963.1l2.8 -1.6v3.1zM662.6 962.4l2.8 -1.6v3.1zM665.2 961l2.8 -1.6v3.1zM662.1 959.6l2.8 -1.6v3.1zM664.4 958.2l2.8 -1.6v3.1zM663.3 956.9l2.8 -1.6v3.1zM663 955.9l2.8 -1.6v3.1zM661.5 954.8l2.8 -1.6v3.1zM661.1 954l2.8 -1.6v3.1zM661.9 952.8l2.8 -1.6v3.1zM661 951l2.8 -1.6v3.1zM661.1 950.4l2.8 -1.6v3.1zM660.4 949.1l2.8 -1.6v3.1z" fill="none" stroke="#3CC8C8" stroke-width="0.7"/>
<path d="M660.8 1021.4L660.8 1019.9L660.9 1018.4L661 1016.9L661 1015.4L661.1 1014L661.3 1012.5L661.4 1011L661.6 1009.5L661.8 1008L662 1006.5L662.3 1005L662.7 1003.5L663 1002L663.5 1000.5L664 999L664.5 997.6L665 996.1L665.6 994.6L666.3 993.1L666.9 991.6L667.6 990.1L668.2 988.6L668.9 987.1L669.5 985.6L670 984.1L670.5 982.7L670.9 981.2L671.3 979.7L671.5 978.2L671.7 976.7L671.7 975.2L671.6 973.7L671.5 972.2L671.2 970.7L670.8 969.2L670.4 967.7L669.9 966.3L669.3 964.8L668.7 963.3L668.1 961.8L667.4 960.3L666.7 958.8L666.1 957.3L665.5 955.8L664.9 954.3L664.3 952.8L663.8 951.4L663.4 949.9L662.9 948.4L662.6 946.9L662.3 945.4L662 943.9L661.7 942.4L661.5 940.9L661.4 939.4L661.2 937.9L661.1 936.5L661 935L660.9 933.5L660.9 932" fill="none" stroke="#22C0C0" stroke-width="1"/>
<line x1="385.5" y1="819.7" x2="385.5" y2="1047" stroke="#3a3a3a" stroke-width="1.2"/>
<line x1="384.9" y1="1047" x2="681.7" y2="1047" stroke="#3a3a3a" stroke-width="1.2"/>
<line x1="381.9" y1="1047" x2="385.5" y2="1047" stroke="#3a3a3a" stroke-width="1.1"/>
<text transform="translate(378,1050) scale(0.86,1)" text-anchor="end" font-size="9.9" fill="#222">0</text>
<line x1="383.5" y1="1030.8" x2="385.5" y2="1030.8" stroke="#3a3a3a" stroke-width="1.1"/>
<line x1="381.9" y1="1014.6" x2="385.5" y2="1014.6" stroke="#3a3a3a" stroke-width="1.1"/>
<text transform="translate(378,1017.6) scale(0.86,1)" text-anchor="end" font-size="9.9" fill="#222">10</text>
<line x1="383.5" y1="998.4" x2="385.5" y2="998.4" stroke="#3a3a3a" stroke-width="1.1"/>
<line x1="381.9" y1="982.2" x2="385.5" y2="982.2" stroke="#3a3a3a" stroke-width="1.1"/>
<text transform="translate(378,985.2) scale(0.86,1)" text-anchor="end" font-size="9.9" fill="#222">20</text>
<line x1="383.5" y1="966" x2="385.5" y2="966" stroke="#3a3a3a" stroke-width="1.1"/>
<line x1="381.9" y1="949.8" x2="385.5" y2="949.8" stroke="#3a3a3a" stroke-width="1.1"/>
<text transform="translate(378,952.8) scale(0.86,1)" text-anchor="end" font-size="9.9" fill="#222">30</text>
<line x1="383.5" y1="933.6" x2="385.5" y2="933.6" stroke="#3a3a3a" stroke-width="1.1"/>
<line x1="381.9" y1="917.4" x2="385.5" y2="917.4" stroke="#3a3a3a" stroke-width="1.1"/>
<text transform="translate(378,920.4) scale(0.86,1)" text-anchor="end" font-size="9.9" fill="#222">40</text>
<line x1="383.5" y1="901.2" x2="385.5" y2="901.2" stroke="#3a3a3a" stroke-width="1.1"/>
<line x1="381.9" y1="885" x2="385.5" y2="885" stroke="#3a3a3a" stroke-width="1.1"/>
<text transform="translate(378,888) scale(0.86,1)" text-anchor="end" font-size="9.9" fill="#222">50</text>
<line x1="383.5" y1="868.8" x2="385.5" y2="868.8" stroke="#3a3a3a" stroke-width="1.1"/>
<line x1="381.9" y1="852.6" x2="385.5" y2="852.6" stroke="#3a3a3a" stroke-width="1.1"/>
<text transform="translate(378,855.6) scale(0.86,1)" text-anchor="end" font-size="9.9" fill="#222">60</text>
<line x1="383.5" y1="836.4" x2="385.5" y2="836.4" stroke="#3a3a3a" stroke-width="1.1"/>
<line x1="381.9" y1="820.2" x2="385.5" y2="820.2" stroke="#3a3a3a" stroke-width="1.1"/>
<text transform="translate(378,823.2) scale(0.86,1)" text-anchor="end" font-size="9.9" fill="#222">70</text>
<line x1="406.6" y1="1047" x2="406.6" y2="1051.2" stroke="#3a3a3a" stroke-width="1.1"/>
<text x="406.6" y="1061.7" text-anchor="middle" font-size="9.2" fill="#222">Core</text>
<line x1="448.9" y1="1047" x2="448.9" y2="1051.2" stroke="#3a3a3a" stroke-width="1.1"/>
<text x="448.9" y="1061.7" text-anchor="middle" font-size="9.2" fill="#222">JSMS</text>
<line x1="491.2" y1="1047" x2="491.2" y2="1051.2" stroke="#3a3a3a" stroke-width="1.1"/>
<text x="491.2" y="1061.7" text-anchor="middle" font-size="9.2" fill="#222">AIJ</text>
<line x1="533.5" y1="1047" x2="533.5" y2="1051.2" stroke="#3a3a3a" stroke-width="1.1"/>
<text x="533.5" y="1061.7" text-anchor="middle" font-size="9.2" fill="#222">US Army</text>
<line x1="575.8" y1="1047" x2="575.8" y2="1051.2" stroke="#3a3a3a" stroke-width="1.1"/>
<text x="575.8" y="1061.7" text-anchor="middle" font-size="9.2" fill="#222">KMST</text>
<line x1="618.1" y1="1047" x2="618.1" y2="1051.2" stroke="#3a3a3a" stroke-width="1.1"/>
<text x="618.1" y="1061.7" text-anchor="middle" font-size="9.2" fill="#222">JSMS</text>
<line x1="660.4" y1="1047" x2="660.4" y2="1051.2" stroke="#3a3a3a" stroke-width="1.1"/>
<text x="660.4" y="1061.7" text-anchor="middle" font-size="9.2" fill="#222">AIJ</text>
<text transform="translate(359,933.6) rotate(-90)" text-anchor="middle" font-size="10.9" fill="#222">Compressive strength (MPa)</text>
<rect x="392.4" y="817.6" width="200.1" height="20.2" fill="#fff" stroke="#111" stroke-width="1.3"/>
<text x="491.85" y="832.2" text-anchor="middle" font-size="13.6" fill="#111">Gunseonganggyo Bridge, girder</text>
<text x="426.5" y="849.7" font-size="12.5" fill="#111">RHT</text>
<text x="600.9" y="850.6" font-size="12.5" fill="#111">UPVT</text>
<line x1="77.1" y1="1096.4" x2="77.1" y2="1323.1" stroke="#111" stroke-width="1.3" stroke-dasharray="4.7 4.75" stroke-dashoffset="4.65"/>
<line x1="250.4" y1="1096.4" x2="250.4" y2="1323.1" stroke="#111" stroke-width="1.3" stroke-dasharray="4.7 4.75" stroke-dashoffset="4.65"/>
<line x1="52.1" y1="1103.85" x2="52.1" y2="1253.47" stroke="#6a6a6a" stroke-width="1"/>
<line x1="48.8" y1="1103.85" x2="55.4" y2="1103.85" stroke="#6a6a6a" stroke-width="1"/>
<line x1="48.8" y1="1253.47" x2="55.4" y2="1253.47" stroke="#6a6a6a" stroke-width="1"/>
<rect x="45.7" y="1148.86" width="12.8" height="61.21" fill="#FFCC8F" stroke="#6a6a6a" stroke-width="1"/>
<line x1="45.7" y1="1185.46" x2="58.5" y2="1185.46" stroke="#5a5040" stroke-width="1"/>
<circle cx="52.1" cy="1181.25" r="1.1" fill="none" stroke="#5a5040" stroke-width="0.6" opacity="0.85"/>
<path d="M61.6 1250.2h2.9v2.9h-2.9zM63.3 1247.6h2.9v2.9h-2.9zM62 1244.3h2.9v2.9h-2.9zM60.5 1237h2.9v2.9h-2.9zM62.4 1234.5h2.9v2.9h-2.9zM61.6 1232.6h2.9v2.9h-2.9zM62.2 1226.2h2.9v2.9h-2.9zM61 1222.2h2.9v2.9h-2.9zM60.8 1220.2h2.9v2.9h-2.9zM65.6 1215.4h2.9v2.9h-2.9zM65.2 1211.2h2.9v2.9h-2.9zM65.3 1208.3h2.9v2.9h-2.9zM62.3 1206.8h2.9v2.9h-2.9zM65.6 1203.3h2.9v2.9h-2.9zM60.9 1201.7h2.9v2.9h-2.9zM61.9 1199.8h2.9v2.9h-2.9zM66.7 1197.6h2.9v2.9h-2.9zM67.4 1195.6h2.9v2.9h-2.9zM60.7 1191.9h2.9v2.9h-2.9zM64.4 1190.8h2.9v2.9h-2.9zM63.8 1189.4h2.9v2.9h-2.9zM61.2 1185.3h2.9v2.9h-2.9zM61.3 1183.7h2.9v2.9h-2.9zM67.8 1180.5h2.9v2.9h-2.9zM60.3 1178.5h2.9v2.9h-2.9zM64.7 1175.6h2.9v2.9h-2.9zM60.9 1172.6h2.9v2.9h-2.9zM67.4 1167.8h2.9v2.9h-2.9zM63.2 1164.8h2.9v2.9h-2.9zM60.9 1160.8h2.9v2.9h-2.9zM61.4 1157.7h2.9v2.9h-2.9zM66.1 1154.4h2.9v2.9h-2.9zM63.6 1152.9h2.9v2.9h-2.9zM61 1147.9h2.9v2.9h-2.9zM65.1 1145.3h2.9v2.9h-2.9zM60.7 1138.4h2.9v2.9h-2.9zM63.6 1135.6h2.9v2.9h-2.9zM62.4 1133.5h2.9v2.9h-2.9zM61.5 1130.2h2.9v2.9h-2.9zM62.3 1123.7h2.9v2.9h-2.9zM60.6 1119.3h2.9v2.9h-2.9zM63.3 1117h2.9v2.9h-2.9zM61.8 1112.1h2.9v2.9h-2.9zM63.7 1108.8h2.9v2.9h-2.9zM60.3 1104.1h2.9v2.9h-2.9z" fill="#4a4a4a"/>
<path d="M60.8 1307.2L60.8 1303.7L60.8 1300.2L60.9 1296.7L60.9 1293.2L61 1289.7L61 1286.2L61.1 1282.7L61.2 1279.2L61.4 1275.7L61.5 1272.1L61.7 1268.6L61.9 1265.1L62.1 1261.6L62.4 1258.1L62.7 1254.6L63.1 1251.1L63.4 1247.6L63.9 1244.1L64.3 1240.6L64.8 1237.1L65.3 1233.6L65.8 1230L66.4 1226.5L66.9 1223L67.5 1219.5L68 1216L68.5 1212.5L69 1209L69.4 1205.5L69.8 1202L70.1 1198.5L70.4 1195L70.6 1191.5L70.7 1187.9L70.7 1184.4L70.6 1180.9L70.5 1177.4L70.3 1173.9L70 1170.4L69.7 1166.9L69.3 1163.4L68.8 1159.9L68.3 1156.4L67.8 1152.9L67.2 1149.4L66.7 1145.8L66.2 1142.3L65.6 1138.8L65.1 1135.3L64.6 1131.8L64.1 1128.3L63.7 1124.8L63.3 1121.3L62.9 1117.8L62.6 1114.3L62.3 1110.8L62 1107.2L61.8 1103.7L61.6 1100.2L61.5 1096.7" fill="none" stroke="#404040" stroke-width="1"/>
<line x1="94.4" y1="1242.78" x2="94.4" y2="1288.77" stroke="#E55A5A" stroke-width="1"/>
<line x1="91.1" y1="1242.78" x2="97.7" y2="1242.78" stroke="#E55A5A" stroke-width="1"/>
<line x1="91.1" y1="1288.77" x2="97.7" y2="1288.77" stroke="#E55A5A" stroke-width="1"/>
<rect x="88" y="1258" width="12.8" height="18.78" fill="#9DD79A" stroke="#E55A5A" stroke-width="1"/>
<line x1="88" y1="1264.81" x2="100.8" y2="1264.81" stroke="#DE6055" stroke-width="1"/>
<rect x="93.4" y="1264.93" width="2" height="2" fill="#DE6055" opacity="0.7"/>
<path d="M103.6 1288.1a1.6 1.6 0 1 0 3.1 0a1.6 1.6 0 1 0 -3.1 0M103.2 1287.5a1.6 1.6 0 1 0 3.1 0a1.6 1.6 0 1 0 -3.1 0M103.6 1286.6a1.6 1.6 0 1 0 3.1 0a1.6 1.6 0 1 0 -3.1 0M104.7 1286.1a1.6 1.6 0 1 0 3.1 0a1.6 1.6 0 1 0 -3.1 0M105.2 1285.2a1.6 1.6 0 1 0 3.1 0a1.6 1.6 0 1 0 -3.1 0M105.2 1284.4a1.6 1.6 0 1 0 3.1 0a1.6 1.6 0 1 0 -3.1 0M104.5 1282.8a1.6 1.6 0 1 0 3.1 0a1.6 1.6 0 1 0 -3.1 0M103.5 1282.1a1.6 1.6 0 1 0 3.1 0a1.6 1.6 0 1 0 -3.1 0M104.5 1281.2a1.6 1.6 0 1 0 3.1 0a1.6 1.6 0 1 0 -3.1 0M107.2 1280.7a1.6 1.6 0 1 0 3.1 0a1.6 1.6 0 1 0 -3.1 0M104.4 1279.7a1.6 1.6 0 1 0 3.1 0a1.6 1.6 0 1 0 -3.1 0M104.6 1278.4a1.6 1.6 0 1 0 3.1 0a1.6 1.6 0 1 0 -3.1 0M103.5 1277.7a1.6 1.6 0 1 0 3.1 0a1.6 1.6 0 1 0 -3.1 0M104.1 1276.7a1.6 1.6 0 1 0 3.1 0a1.6 1.6 0 1 0 -3.1 0M108.8 1276.5a1.6 1.6 0 1 0 3.1 0a1.6 1.6 0 1 0 -3.1 0M109 1275.5a1.6 1.6 0 1 0 3.1 0a1.6 1.6 0 1 0 -3.1 0M106.9 1274a1.6 1.6 0 1 0 3.1 0a1.6 1.6 0 1 0 -3.1 0M102.9 1273.9a1.6 1.6 0 1 0 3.1 0a1.6 1.6 0 1 0 -3.1 0M105.5 1272.9a1.6 1.6 0 1 0 3.1 0a1.6 1.6 0 1 0 -3.1 0M110.3 1271.7a1.6 1.6 0 1 0 3.1 0a1.6 1.6 0 1 0 -3.1 0M103.6 1271a1.6 1.6 0 1 0 3.1 0a1.6 1.6 0 1 0 -3.1 0M103.6 1270a1.6 1.6 0 1 0 3.1 0a1.6 1.6 0 1 0 -3.1 0M107.2 1269.5a1.6 1.6 0 1 0 3.1 0a1.6 1.6 0 1 0 -3.1 0M103 1268.1a1.6 1.6 0 1 0 3.1 0a1.6 1.6 0 1 0 -3.1 0M108.7 1267.5a1.6 1.6 0 1 0 3.1 0a1.6 1.6 0 1 0 -3.1 0M105.9 1266.3a1.6 1.6 0 1 0 3.1 0a1.6 1.6 0 1 0 -3.1 0M104 1265.3a1.6 1.6 0 1 0 3.1 0a1.6 1.6 0 1 0 -3.1 0M109.4 1264.7a1.6 1.6 0 1 0 3.1 0a1.6 1.6 0 1 0 -3.1 0M106.9 1264.1a1.6 1.6 0 1 0 3.1 0a1.6 1.6 0 1 0 -3.1 0M102.9 1264a1.6 1.6 0 1 0 3.1 0a1.6 1.6 0 1 0 -3.1 0M104 1263.3a1.6 1.6 0 1 0 3.1 0a1.6 1.6 0 1 0 -3.1 0M103.2 1262.8a1.6 1.6 0 1 0 3.1 0a1.6 1.6 0 1 0 -3.1 0M104.4 1262.2a1.6 1.6 0 1 0 3.1 0a1.6 1.6 0 1 0 -3.1 0M104 1262.1a1.6 1.6 0 1 0 3.1 0a1.6 1.6 0 1 0 -3.1 0M107.3 1261.4a1.6 1.6 0 1 0 3.1 0a1.6 1.6 0 1 0 -3.1 0M103.9 1260.9a1.6 1.6 0 1 0 3.1 0a1.6 1.6 0 1 0 -3.1 0M110.5 1260.4a1.6 1.6 0 1 0 3.1 0a1.6 1.6 0 1 0 -3.1 0M110.3 1259.8a1.6 1.6 0 1 0 3.1 0a1.6 1.6 0 1 0 -3.1 0M110.7 1259.6a1.6 1.6 0 1 0 3.1 0a1.6 1.6 0 1 0 -3.1 0M106.9 1258.7a1.6 1.6 0 1 0 3.1 0a1.6 1.6 0 1 0 -3.1 0M106.8 1258.4a1.6 1.6 0 1 0 3.1 0a1.6 1.6 0 1 0 -3.1 0M103 1257.3a1.6 1.6 0 1 0 3.1 0a1.6 1.6 0 1 0 -3.1 0M106.5 1256.5a1.6 1.6 0 1 0 3.1 0a1.6 1.6 0 1 0 -3.1 0M107.7 1255.7a1.6 1.6 0 1 0 3.1 0a1.6 1.6 0 1 0 -3.1 0M103.1 1254.2a1.6 1.6 0 1 0 3.1 0a1.6 1.6 0 1 0 -3.1 0M105.3 1253.1a1.6 1.6 0 1 0 3.1 0a1.6 1.6 0 1 0 -3.1 0M106.2 1252.2a1.6 1.6 0 1 0 3.1 0a1.6 1.6 0 1 0 -3.1 0M105.9 1251.6a1.6 1.6 0 1 0 3.1 0a1.6 1.6 0 1 0 -3.1 0M106.9 1250.1a1.6 1.6 0 1 0 3.1 0a1.6 1.6 0 1 0 -3.1 0M106.3 1249.2a1.6 1.6 0 1 0 3.1 0a1.6 1.6 0 1 0 -3.1 0M105 1247.5a1.6 1.6 0 1 0 3.1 0a1.6 1.6 0 1 0 -3.1 0M102.6 1246.2a1.6 1.6 0 1 0 3.1 0a1.6 1.6 0 1 0 -3.1 0M104.6 1245.4a1.6 1.6 0 1 0 3.1 0a1.6 1.6 0 1 0 -3.1 0M103.9 1244.2a1.6 1.6 0 1 0 3.1 0a1.6 1.6 0 1 0 -3.1 0M103.1 1243.8a1.6 1.6 0 1 0 3.1 0a1.6 1.6 0 1 0 -3.1 0M102.5 1190.3a1.6 1.6 0 1 0 3.1 0a1.6 1.6 0 1 0 -3.1 0" fill="none" stroke="#EE7777" stroke-width="0.7"/>
<path d="M103.2 1307.2L103.3 1305.8L103.4 1304.3L103.5 1302.9L103.6 1301.4L103.8 1300L103.9 1298.5L104.1 1297.1L104.4 1295.6L104.7 1294.2L105 1292.7L105.4 1291.3L105.8 1289.8L106.3 1288.4L106.8 1286.9L107.3 1285.5L107.8 1284L108.4 1282.5L109 1281.1L109.6 1279.6L110.2 1278.2L110.8 1276.7L111.4 1275.3L111.9 1273.8L112.4 1272.4L112.8 1270.9L113.1 1269.5L113.3 1268L113.5 1266.6L113.5 1265.1L113.5 1263.7L113.3 1262.2L113.1 1260.8L112.8 1259.3L112.4 1257.9L111.9 1256.4L111.4 1255L110.8 1253.5L110.2 1252.1L109.6 1250.6L109 1249.2L108.4 1247.7L107.8 1246.2L107.3 1244.8L106.7 1243.3L106.3 1241.9L105.8 1240.4L105.4 1239L105 1237.5L104.7 1236.1L104.4 1234.6L104.1 1233.2L103.9 1231.7L103.8 1230.3L103.6 1228.8L103.5 1227.4L103.4 1225.9L103.3 1224.5L103.2 1223L103.2 1221.6L103.1 1220.1" fill="none" stroke="#E54F4F" stroke-width="1"/>
<line x1="136.7" y1="1237.6" x2="136.7" y2="1263.19" stroke="#3F78D8" stroke-width="1"/>
<line x1="133.4" y1="1237.6" x2="140" y2="1237.6" stroke="#3F78D8" stroke-width="1"/>
<line x1="133.4" y1="1263.19" x2="140" y2="1263.19" stroke="#3F78D8" stroke-width="1"/>
<rect x="130.3" y="1245.7" width="12.8" height="10.36" fill="#C9B6DC" stroke="#3F78D8" stroke-width="1"/>
<line x1="130.3" y1="1248.61" x2="143.1" y2="1248.61" stroke="#3F78D8" stroke-width="1"/>
<circle cx="136.7" cy="1250.56" r="1.1" fill="none" stroke="#3F78D8" stroke-width="0.6" opacity="0.85"/>
<path d="M146.9 1261.3l1.6 2.8h-3.1zM147.5 1261.1l1.6 2.8h-3.1zM148.2 1260.5l1.6 2.8h-3.1zM149.1 1260.2l1.6 2.8h-3.1zM149.4 1259.6l1.6 2.8h-3.1zM150.3 1259.3l1.6 2.8h-3.1zM151 1258.5l1.6 2.8h-3.1zM150.7 1257.8l1.6 2.8h-3.1zM148.1 1257.8l1.6 2.8h-3.1zM150.7 1257.3l1.6 2.8h-3.1zM147.6 1256.8l1.6 2.8h-3.1zM147.1 1256.4l1.6 2.8h-3.1zM153.1 1255.5l1.6 2.8h-3.1zM151.5 1255.3l1.6 2.8h-3.1zM150.2 1254.8l1.6 2.8h-3.1zM151.2 1254.3l1.6 2.8h-3.1zM148.3 1253.9l1.6 2.8h-3.1zM147.9 1253.3l1.6 2.8h-3.1zM154.3 1252.8l1.6 2.8h-3.1zM147.2 1252.5l1.6 2.8h-3.1zM146.8 1251.6l1.6 2.8h-3.1zM154 1251.4l1.6 2.8h-3.1zM148.3 1250.7l1.6 2.8h-3.1zM148.9 1250.5l1.6 2.8h-3.1zM153.8 1249.9l1.6 2.8h-3.1zM153.7 1249.1l1.6 2.8h-3.1zM155.1 1248.6l1.6 2.8h-3.1zM154.9 1248.1l1.6 2.8h-3.1zM147.2 1247.6l1.6 2.8h-3.1zM148.6 1247.4l1.6 2.8h-3.1zM150.8 1246.9l1.6 2.8h-3.1zM153.9 1246.8l1.6 2.8h-3.1zM148.2 1246.6l1.6 2.8h-3.1zM150.5 1246.4l1.6 2.8h-3.1zM151.4 1246.2l1.6 2.8h-3.1zM147.9 1246l1.6 2.8h-3.1zM149.2 1245.8l1.6 2.8h-3.1zM151 1245.7l1.6 2.8h-3.1zM152.4 1245.5l1.6 2.8h-3.1zM147.5 1245.2l1.6 2.8h-3.1zM149.1 1245l1.6 2.8h-3.1zM151.3 1244.8l1.6 2.8h-3.1zM153.5 1244.6l1.6 2.8h-3.1zM148 1244.4l1.6 2.8h-3.1zM149 1244.2l1.6 2.8h-3.1zM150.7 1244.1l1.6 2.8h-3.1zM152.8 1243.4l1.6 2.8h-3.1zM152.3 1242.9l1.6 2.8h-3.1zM147 1242.3l1.6 2.8h-3.1zM148.1 1241.6l1.6 2.8h-3.1zM146.7 1241.2l1.6 2.8h-3.1zM151.6 1240.9l1.6 2.8h-3.1zM147.1 1240.3l1.6 2.8h-3.1zM146.8 1239.7l1.6 2.8h-3.1zM150.6 1238.8l1.6 2.8h-3.1zM147.9 1238.4l1.6 2.8h-3.1zM148.1 1237.7l1.6 2.8h-3.1zM148.7 1237.6l1.6 2.8h-3.1zM147.2 1236.9l1.6 2.8h-3.1zM147.6 1236.4l1.6 2.8h-3.1zM146.3 1205.9l1.6 2.8h-3.1z" fill="none" stroke="#5A8DE0" stroke-width="0.7"/>
<path d="M145.5 1275.8L145.5 1275L145.6 1274.1L145.7 1273.2L145.8 1272.4L145.9 1271.5L146.1 1270.6L146.3 1269.8L146.5 1268.9L146.8 1268L147.1 1267.2L147.5 1266.3L147.9 1265.5L148.3 1264.6L148.8 1263.7L149.4 1262.9L150 1262L150.6 1261.1L151.2 1260.3L151.9 1259.4L152.5 1258.5L153.2 1257.7L153.8 1256.8L154.4 1256L154.9 1255.1L155.4 1254.2L155.7 1253.4L156 1252.5L156.2 1251.6L156.3 1250.8L156.3 1249.9L156.1 1249L155.9 1248.2L155.6 1247.3L155.1 1246.5L154.7 1245.6L154.1 1244.7L153.5 1243.9L152.9 1243L152.2 1242.1L151.5 1241.3L150.9 1240.4L150.3 1239.5L149.7 1238.7L149.1 1237.8L148.6 1237L148.1 1236.1L147.7 1235.2L147.3 1234.4L146.9 1233.5L146.6 1232.6L146.4 1231.8L146.2 1230.9L146 1230L145.8 1229.2L145.7 1228.3L145.6 1227.5L145.6 1226.6L145.5 1225.7L145.4 1224.9L145.4 1224" fill="none" stroke="#2F6AD6" stroke-width="1"/>
<line x1="179" y1="1237.28" x2="179" y2="1289.74" stroke="#3FAA6A" stroke-width="1"/>
<line x1="175.7" y1="1237.28" x2="182.3" y2="1237.28" stroke="#3FAA6A" stroke-width="1"/>
<line x1="175.7" y1="1289.74" x2="182.3" y2="1289.74" stroke="#3FAA6A" stroke-width="1"/>
<rect x="172.6" y="1255.74" width="12.8" height="21.37" fill="#FFFF9E" stroke="#3FAA6A" stroke-width="1"/>
<line x1="172.6" y1="1263.51" x2="185.4" y2="1263.51" stroke="#3FAA6A" stroke-width="1"/>
<circle cx="179" cy="1263.51" r="1.1" fill="none" stroke="#3FAA6A" stroke-width="0.6" opacity="0.85"/>
<path d="M190.7 1291.1l1.6 -2.8h-3.1zM190.6 1289.7l1.6 -2.8h-3.1zM191 1289.6l1.6 -2.8h-3.1zM190.3 1288.7l1.6 -2.8h-3.1zM191 1287.2l1.6 -2.8h-3.1zM191.5 1286.3l1.6 -2.8h-3.1zM189.2 1286l1.6 -2.8h-3.1zM191.6 1285l1.6 -2.8h-3.1zM190.1 1284.4l1.6 -2.8h-3.1zM190.4 1283.1l1.6 -2.8h-3.1zM191.5 1282.4l1.6 -2.8h-3.1zM188.8 1281.2l1.6 -2.8h-3.1zM193.1 1281l1.6 -2.8h-3.1zM189.2 1279.8l1.6 -2.8h-3.1zM189.9 1279.4l1.6 -2.8h-3.1zM194.8 1278.2l1.6 -2.8h-3.1zM190 1277.6l1.6 -2.8h-3.1zM191.8 1276.2l1.6 -2.8h-3.1zM196.4 1275.2l1.6 -2.8h-3.1zM194.4 1274.2l1.6 -2.8h-3.1zM189.1 1273.7l1.6 -2.8h-3.1zM192 1272.5l1.6 -2.8h-3.1zM194.1 1271.9l1.6 -2.8h-3.1zM193.6 1270.5l1.6 -2.8h-3.1zM197.4 1269.7l1.6 -2.8h-3.1zM191.8 1269.5l1.6 -2.8h-3.1zM195.7 1267.9l1.6 -2.8h-3.1zM190.3 1266.9l1.6 -2.8h-3.1zM197.4 1266.4l1.6 -2.8h-3.1zM194.9 1265.5l1.6 -2.8h-3.1zM190.2 1264.6l1.6 -2.8h-3.1zM196.7 1264.5l1.6 -2.8h-3.1zM190.5 1263.7l1.6 -2.8h-3.1zM191.3 1263.1l1.6 -2.8h-3.1zM191.4 1262.9l1.6 -2.8h-3.1zM192.4 1262.5l1.6 -2.8h-3.1zM192.8 1261.5l1.6 -2.8h-3.1zM189 1260.9l1.6 -2.8h-3.1zM189.9 1260.8l1.6 -2.8h-3.1zM190.4 1260.1l1.6 -2.8h-3.1zM193.3 1259.5l1.6 -2.8h-3.1zM196.1 1259.1l1.6 -2.8h-3.1zM196.6 1258.4l1.6 -2.8h-3.1zM191.9 1258.2l1.6 -2.8h-3.1zM192 1257.3l1.6 -2.8h-3.1zM192.6 1256.9l1.6 -2.8h-3.1zM195.4 1255.8l1.6 -2.8h-3.1zM189.3 1254l1.6 -2.8h-3.1zM192.2 1252.4l1.6 -2.8h-3.1zM192.8 1252.1l1.6 -2.8h-3.1zM190.7 1250l1.6 -2.8h-3.1zM189.8 1249.9l1.6 -2.8h-3.1zM191.6 1248.6l1.6 -2.8h-3.1zM192.9 1247.1l1.6 -2.8h-3.1zM188.7 1246l1.6 -2.8h-3.1zM189.1 1244.4l1.6 -2.8h-3.1zM189.4 1243.4l1.6 -2.8h-3.1zM190.8 1242.3l1.6 -2.8h-3.1zM189.9 1240.1l1.6 -2.8h-3.1zM189.7 1239.3l1.6 -2.8h-3.1zM188.6 1165l1.6 -2.8h-3.1z" fill="none" stroke="#4FB578" stroke-width="0.7"/>
<path d="M188 1307.2L188.2 1305.6L188.3 1303.9L188.5 1302.3L188.7 1300.6L188.9 1299L189.2 1297.4L189.5 1295.7L189.9 1294.1L190.3 1292.4L190.7 1290.8L191.2 1289.1L191.8 1287.5L192.4 1285.8L193 1284.2L193.6 1282.5L194.2 1280.9L194.9 1279.2L195.5 1277.6L196.1 1276L196.6 1274.3L197.2 1272.7L197.6 1271L198 1269.4L198.3 1267.7L198.5 1266.1L198.6 1264.4L198.6 1262.8L198.5 1261.1L198.3 1259.5L198 1257.8L197.7 1256.2L197.2 1254.6L196.7 1252.9L196.1 1251.3L195.5 1249.6L194.9 1248L194.3 1246.3L193.7 1244.7L193 1243L192.4 1241.4L191.8 1239.7L191.3 1238.1L190.8 1236.4L190.3 1234.8L189.9 1233.1L189.6 1231.5L189.2 1229.9L189 1228.2L188.7 1226.6L188.5 1224.9L188.3 1223.3L188.2 1221.6L188.1 1220L188 1218.3L187.9 1216.7L187.8 1215L187.8 1213.4L187.7 1211.7L187.7 1210.1L187.7 1208.5" fill="none" stroke="#30A060" stroke-width="1"/>
<line x1="221.3" y1="1205.86" x2="221.3" y2="1261.57" stroke="#B07CE0" stroke-width="1"/>
<line x1="218" y1="1205.86" x2="224.6" y2="1205.86" stroke="#B07CE0" stroke-width="1"/>
<line x1="218" y1="1261.57" x2="224.6" y2="1261.57" stroke="#B07CE0" stroke-width="1"/>
<rect x="214.9" y="1224.65" width="12.8" height="22.35" fill="#9EBEF5" stroke="#B07CE0" stroke-width="1"/>
<line x1="214.9" y1="1232.42" x2="227.7" y2="1232.42" stroke="#B07CE0" stroke-width="1"/>
<circle cx="221.3" cy="1232.42" r="1.1" fill="none" stroke="#B07CE0" stroke-width="0.6" opacity="0.85"/>
<path d="M232.8 1259.3l1.6 1.6l-1.6 1.6l-1.6 -1.6zM232.8 1259.3v3.1M231.3 1260.8h3.1M233.5 1259.2l1.6 1.6l-1.6 1.6l-1.6 -1.6zM233.5 1259.2v3.1M231.9 1260.7h3.1M231.1 1258.2l1.6 1.6l-1.6 1.6l-1.6 -1.6zM231.1 1258.2v3.1M229.5 1259.7h3.1M233.8 1257.5l1.6 1.6l-1.6 1.6l-1.6 -1.6zM233.8 1257.5v3.1M232.3 1259.1h3.1M232.2 1256.1l1.6 1.6l-1.6 1.6l-1.6 -1.6zM232.2 1256.1v3.1M230.6 1257.6h3.1M233.4 1255.4l1.6 1.6l-1.6 1.6l-1.6 -1.6zM233.4 1255.4v3.1M231.8 1256.9h3.1M233.4 1255l1.6 1.6l-1.6 1.6l-1.6 -1.6zM233.4 1255v3.1M231.8 1256.5h3.1M234.6 1253.6l1.6 1.6l-1.6 1.6l-1.6 -1.6zM234.6 1253.6v3.1M233.1 1255.1h3.1M233.2 1253.3l1.6 1.6l-1.6 1.6l-1.6 -1.6zM233.2 1253.3v3.1M231.7 1254.9h3.1M234.7 1252.1l1.6 1.6l-1.6 1.6l-1.6 -1.6zM234.7 1252.1v3.1M233.1 1253.6h3.1M234 1251.4l1.6 1.6l-1.6 1.6l-1.6 -1.6zM234 1251.4v3.1M232.5 1252.9h3.1M232.7 1250.1l1.6 1.6l-1.6 1.6l-1.6 -1.6zM232.7 1250.1v3.1M231.1 1251.7h3.1M235.6 1249.6l1.6 1.6l-1.6 1.6l-1.6 -1.6zM235.6 1249.6v3.1M234.1 1251.1h3.1M236.2 1249.2l1.6 1.6l-1.6 1.6l-1.6 -1.6zM236.2 1249.2v3.1M234.7 1250.7h3.1M233.6 1248.1l1.6 1.6l-1.6 1.6l-1.6 -1.6zM233.6 1248.1v3.1M232 1249.6h3.1M235.7 1247.3l1.6 1.6l-1.6 1.6l-1.6 -1.6zM235.7 1247.3v3.1M234.2 1248.8h3.1M235.7 1246.2l1.6 1.6l-1.6 1.6l-1.6 -1.6zM235.7 1246.2v3.1M234.2 1247.8h3.1M236.7 1245.8l1.6 1.6l-1.6 1.6l-1.6 -1.6zM236.7 1245.8v3.1M235.1 1247.3h3.1M235.7 1244.3l1.6 1.6l-1.6 1.6l-1.6 -1.6zM235.7 1244.3v3.1M234.1 1245.9h3.1M232.8 1244l1.6 1.6l-1.6 1.6l-1.6 -1.6zM232.8 1244v3.1M231.2 1245.6h3.1M231.4 1243l1.6 1.6l-1.6 1.6l-1.6 -1.6zM231.4 1243v3.1M229.8 1244.5h3.1M234.1 1241.7l1.6 1.6l-1.6 1.6l-1.6 -1.6zM234.1 1241.7v3.1M232.5 1243.3h3.1M232.4 1240.9l1.6 1.6l-1.6 1.6l-1.6 -1.6zM232.4 1240.9v3.1M230.8 1242.5h3.1M237.4 1240.3l1.6 1.6l-1.6 1.6l-1.6 -1.6zM237.4 1240.3v3.1M235.9 1241.9h3.1M234.4 1239.5l1.6 1.6l-1.6 1.6l-1.6 -1.6zM234.4 1239.5v3.1M232.9 1241h3.1M234.6 1239.2l1.6 1.6l-1.6 1.6l-1.6 -1.6zM234.6 1239.2v3.1M233 1240.7h3.1M239.1 1238l1.6 1.6l-1.6 1.6l-1.6 -1.6zM239.1 1238v3.1M237.6 1239.6h3.1M239.5 1236.7l1.6 1.6l-1.6 1.6l-1.6 -1.6zM239.5 1236.7v3.1M237.9 1238.3h3.1M232.4 1235.9l1.6 1.6l-1.6 1.6l-1.6 -1.6zM232.4 1235.9v3.1M230.9 1237.4h3.1M233.6 1235.8l1.6 1.6l-1.6 1.6l-1.6 -1.6zM233.6 1235.8v3.1M232 1237.4h3.1M232 1235l1.6 1.6l-1.6 1.6l-1.6 -1.6zM232 1235v3.1M230.4 1236.6h3.1M232.8 1233.7l1.6 1.6l-1.6 1.6l-1.6 -1.6zM232.8 1233.7v3.1M231.2 1235.3h3.1M234.5 1232.9l1.6 1.6l-1.6 1.6l-1.6 -1.6zM234.5 1232.9v3.1M232.9 1234.4h3.1M240 1232.3l1.6 1.6l-1.6 1.6l-1.6 -1.6zM240 1232.3v3.1M238.5 1233.9h3.1M239.2 1231.5l1.6 1.6l-1.6 1.6l-1.6 -1.6zM239.2 1231.5v3.1M237.7 1233.1h3.1M237.2 1230.6l1.6 1.6l-1.6 1.6l-1.6 -1.6zM237.2 1230.6v3.1M235.6 1232.2h3.1M237.9 1230.4l1.6 1.6l-1.6 1.6l-1.6 -1.6zM237.9 1230.4v3.1M236.4 1231.9h3.1M232.8 1229.6l1.6 1.6l-1.6 1.6l-1.6 -1.6zM232.8 1229.6v3.1M231.2 1231.1h3.1M237.1 1229.3l1.6 1.6l-1.6 1.6l-1.6 -1.6zM237.1 1229.3v3.1M235.5 1230.9h3.1M238 1228.9l1.6 1.6l-1.6 1.6l-1.6 -1.6zM238 1228.9v3.1M236.4 1230.4h3.1M233.8 1228.4l1.6 1.6l-1.6 1.6l-1.6 -1.6zM233.8 1228.4v3.1M232.3 1229.9h3.1M238.1 1227.9l1.6 1.6l-1.6 1.6l-1.6 -1.6zM238.1 1227.9v3.1M236.6 1229.5h3.1M236.4 1227.6l1.6 1.6l-1.6 1.6l-1.6 -1.6zM236.4 1227.6v3.1M234.8 1229.1h3.1M235.3 1227l1.6 1.6l-1.6 1.6l-1.6 -1.6zM235.3 1227v3.1M233.8 1228.6h3.1M234.7 1226.8l1.6 1.6l-1.6 1.6l-1.6 -1.6zM234.7 1226.8v3.1M233.1 1228.4h3.1M237.5 1226.1l1.6 1.6l-1.6 1.6l-1.6 -1.6zM237.5 1226.1v3.1M235.9 1227.6h3.1M235.2 1226l1.6 1.6l-1.6 1.6l-1.6 -1.6zM235.2 1226v3.1M233.7 1227.5h3.1M235.7 1225.3l1.6 1.6l-1.6 1.6l-1.6 -1.6zM235.7 1225.3v3.1M234.1 1226.8h3.1M236.7 1225l1.6 1.6l-1.6 1.6l-1.6 -1.6zM236.7 1225v3.1M235.1 1226.6h3.1M235.6 1224.3l1.6 1.6l-1.6 1.6l-1.6 -1.6zM235.6 1224.3v3.1M234.1 1225.9h3.1M235.9 1223.8l1.6 1.6l-1.6 1.6l-1.6 -1.6zM235.9 1223.8v3.1M234.4 1225.3h3.1M233.4 1223.8l1.6 1.6l-1.6 1.6l-1.6 -1.6zM233.4 1223.8v3.1M231.8 1225.3h3.1M231.6 1222.9l1.6 1.6l-1.6 1.6l-1.6 -1.6zM231.6 1222.9v3.1M230 1224.4h3.1M236.6 1221.5l1.6 1.6l-1.6 1.6l-1.6 -1.6zM236.6 1221.5v3.1M235.1 1223.1h3.1M232.3 1220.7l1.6 1.6l-1.6 1.6l-1.6 -1.6zM232.3 1220.7v3.1M230.7 1222.2h3.1M237.8 1220.4l1.6 1.6l-1.6 1.6l-1.6 -1.6zM237.8 1220.4v3.1M236.3 1222h3.1M234.2 1218.8l1.6 1.6l-1.6 1.6l-1.6 -1.6zM234.2 1218.8v3.1M232.6 1220.3h3.1M236.4 1217.7l1.6 1.6l-1.6 1.6l-1.6 -1.6zM236.4 1217.7v3.1M234.8 1219.3h3.1M236.2 1216.8l1.6 1.6l-1.6 1.6l-1.6 -1.6zM236.2 1216.8v3.1M234.6 1218.3h3.1M237.3 1215.9l1.6 1.6l-1.6 1.6l-1.6 -1.6zM237.3 1215.9v3.1M235.8 1217.5h3.1M232.8 1214.3l1.6 1.6l-1.6 1.6l-1.6 -1.6zM232.8 1214.3v3.1M231.3 1215.9h3.1M236 1213.5l1.6 1.6l-1.6 1.6l-1.6 -1.6zM236 1213.5v3.1M234.4 1215h3.1M234.7 1212.6l1.6 1.6l-1.6 1.6l-1.6 -1.6zM234.7 1212.6v3.1M233.1 1214.1h3.1M235.6 1210.9l1.6 1.6l-1.6 1.6l-1.6 -1.6zM235.6 1210.9v3.1M234 1212.4h3.1M234.7 1210.5l1.6 1.6l-1.6 1.6l-1.6 -1.6zM234.7 1210.5v3.1M233.1 1212h3.1M234.3 1209l1.6 1.6l-1.6 1.6l-1.6 -1.6zM234.3 1209v3.1M232.8 1210.6h3.1M232.6 1208.5l1.6 1.6l-1.6 1.6l-1.6 -1.6zM232.6 1208.5v3.1M231 1210.1h3.1M233.8 1207l1.6 1.6l-1.6 1.6l-1.6 -1.6zM233.8 1207v3.1M232.3 1208.6h3.1M231 1206l1.6 1.6l-1.6 1.6l-1.6 -1.6zM231 1206v3.1M229.5 1207.5h3.1M233.8 1205.2l1.6 1.6l-1.6 1.6l-1.6 -1.6zM233.8 1205.2v3.1M232.3 1206.7h3.1M230.9 1142.1l1.6 1.6l-1.6 1.6l-1.6 -1.6zM230.9 1142.1v3.1M229.4 1143.7h3.1" fill="none" stroke="#BE8EE6" stroke-width="0.7"/>
<path d="M230 1288.1L230.1 1286.3L230.1 1284.5L230.2 1282.7L230.3 1280.8L230.4 1279L230.5 1277.2L230.7 1275.4L230.9 1273.5L231.1 1271.7L231.3 1269.9L231.7 1268.1L232 1266.2L232.4 1264.4L232.9 1262.6L233.3 1260.8L233.9 1258.9L234.5 1257.1L235.1 1255.3L235.7 1253.5L236.4 1251.6L237 1249.8L237.7 1248L238.3 1246.2L238.9 1244.3L239.4 1242.5L239.9 1240.7L240.3 1238.9L240.6 1237L240.8 1235.2L240.9 1233.4L240.9 1231.6L240.8 1229.7L240.6 1227.9L240.3 1226.1L239.9 1224.3L239.4 1222.4L238.9 1220.6L238.3 1218.8L237.7 1217L237 1215.1L236.4 1213.3L235.7 1211.5L235.1 1209.7L234.5 1207.9L233.9 1206L233.4 1204.2L232.9 1202.4L232.4 1200.6L232 1198.7L231.7 1196.9L231.4 1195.1L231.1 1193.3L230.9 1191.4L230.7 1189.6L230.5 1187.8L230.4 1186L230.3 1184.1L230.2 1182.3L230.1 1180.5L230.1 1178.7" fill="none" stroke="#A970DE" stroke-width="1"/>
<line x1="263.6" y1="1184.49" x2="263.6" y2="1232.42" stroke="#D9A52A" stroke-width="1"/>
<line x1="260.3" y1="1184.49" x2="266.9" y2="1184.49" stroke="#D9A52A" stroke-width="1"/>
<line x1="260.3" y1="1232.42" x2="266.9" y2="1232.42" stroke="#D9A52A" stroke-width="1"/>
<rect x="257.2" y="1206.51" width="12.8" height="15.87" fill="#FAB4FA" stroke="#D9A52A" stroke-width="1"/>
<line x1="257.2" y1="1213.64" x2="270" y2="1213.64" stroke="#D9A52A" stroke-width="1"/>
<circle cx="263.6" cy="1213.64" r="1.1" fill="none" stroke="#D9A52A" stroke-width="0.6" opacity="0.85"/>
<path d="M274 1230.5l2.5 2.5M274 1233l2.5 -2.5M275.2 1230.2v3.1M274.7 1230.4l2.5 2.5M274.7 1232.9l2.5 -2.5M275.9 1230.1v3.1M273.1 1229.1l2.5 2.5M273.1 1231.6l2.5 -2.5M274.3 1228.8v3.1M273.1 1228.6l2.5 2.5M273.1 1231.1l2.5 -2.5M274.4 1228.3v3.1M275.1 1228.2l2.5 2.5M275.1 1230.7l2.5 -2.5M276.3 1227.9v3.1M272.4 1227.4l2.5 2.5M272.4 1229.9l2.5 -2.5M273.6 1227.1v3.1M272.5 1226.1l2.5 2.5M272.5 1228.6l2.5 -2.5M273.7 1225.8v3.1M276.4 1225.5l2.5 2.5M276.4 1228l2.5 -2.5M277.7 1225.2v3.1M274.1 1225.2l2.5 2.5M274.1 1227.6l2.5 -2.5M275.3 1224.8v3.1M276.2 1224.4l2.5 2.5M276.2 1226.9l2.5 -2.5M277.4 1224.1v3.1M276.9 1223.2l2.5 2.5M276.9 1225.6l2.5 -2.5M278.1 1222.9v3.1M275.6 1222.8l2.5 2.5M275.6 1225.3l2.5 -2.5M276.8 1222.5v3.1M277 1222.1l2.5 2.5M277 1224.6l2.5 -2.5M278.2 1221.8v3.1M273.8 1221.5l2.5 2.5M273.8 1224l2.5 -2.5M275 1221.2v3.1M273.9 1220.5l2.5 2.5M273.9 1223l2.5 -2.5M275.2 1220.2v3.1M277.8 1219.7l2.5 2.5M277.8 1222.2l2.5 -2.5M279 1219.4v3.1M272.1 1219.6l2.5 2.5M272.1 1222.1l2.5 -2.5M273.4 1219.3v3.1M273.1 1218.7l2.5 2.5M273.1 1221.2l2.5 -2.5M274.3 1218.4v3.1M277.1 1218.1l2.5 2.5M277.1 1220.6l2.5 -2.5M278.3 1217.8v3.1M275.4 1217.3l2.5 2.5M275.4 1219.8l2.5 -2.5M276.6 1217v3.1M279.2 1216.8l2.5 2.5M279.2 1219.3l2.5 -2.5M280.4 1216.5v3.1M275 1216.4l2.5 2.5M275 1218.9l2.5 -2.5M276.2 1216.1v3.1M275.3 1215.4l2.5 2.5M275.3 1217.9l2.5 -2.5M276.5 1215.1v3.1M272.7 1214.7l2.5 2.5M272.7 1217.1l2.5 -2.5M274 1214.4v3.1M275.3 1214.6l2.5 2.5M275.3 1217l2.5 -2.5M276.6 1214.3v3.1M275.4 1213.7l2.5 2.5M275.4 1216.2l2.5 -2.5M276.7 1213.4v3.1M276.2 1213.2l2.5 2.5M276.2 1215.7l2.5 -2.5M277.4 1212.9v3.1M280.8 1212.2l2.5 2.5M280.8 1214.7l2.5 -2.5M282.1 1211.9v3.1M274.4 1211.8l2.5 2.5M274.4 1214.3l2.5 -2.5M275.6 1211.5v3.1M273.4 1211.3l2.5 2.5M273.4 1213.8l2.5 -2.5M274.7 1211v3.1M279.4 1211.1l2.5 2.5M279.4 1213.5l2.5 -2.5M280.7 1210.8v3.1M273.5 1210.4l2.5 2.5M273.5 1212.9l2.5 -2.5M274.7 1210.1v3.1M273.1 1209.6l2.5 2.5M273.1 1212.1l2.5 -2.5M274.3 1209.3v3.1M273.4 1209.4l2.5 2.5M273.4 1211.9l2.5 -2.5M274.6 1209.1v3.1M278.1 1208.6l2.5 2.5M278.1 1211l2.5 -2.5M279.4 1208.3v3.1M272.6 1208.4l2.5 2.5M272.6 1210.9l2.5 -2.5M273.8 1208.1v3.1M273.1 1207.5l2.5 2.5M273.1 1210l2.5 -2.5M274.3 1207.2v3.1M277.9 1207.1l2.5 2.5M277.9 1209.6l2.5 -2.5M279.2 1206.8v3.1M276 1206.7l2.5 2.5M276 1209.1l2.5 -2.5M277.3 1206.3v3.1M274.3 1206.2l2.5 2.5M274.3 1208.7l2.5 -2.5M275.6 1205.9v3.1M273.2 1205.6l2.5 2.5M273.2 1208.1l2.5 -2.5M274.4 1205.3v3.1M274 1204.9l2.5 2.5M274 1207.4l2.5 -2.5M275.3 1204.6v3.1M278.5 1203.5l2.5 2.5M278.5 1206l2.5 -2.5M279.8 1203.2v3.1M276.2 1201.6l2.5 2.5M276.2 1204l2.5 -2.5M277.4 1201.2v3.1M272 1199.8l2.5 2.5M272 1202.3l2.5 -2.5M273.2 1199.5v3.1M276.2 1198l2.5 2.5M276.2 1200.5l2.5 -2.5M277.5 1197.7v3.1M274.1 1196.5l2.5 2.5M274.1 1198.9l2.5 -2.5M275.4 1196.2v3.1M275.3 1194.7l2.5 2.5M275.3 1197.2l2.5 -2.5M276.5 1194.4v3.1M272.5 1194l2.5 2.5M272.5 1196.5l2.5 -2.5M273.8 1193.7v3.1M272 1192.3l2.5 2.5M272 1194.8l2.5 -2.5M273.3 1192v3.1M272.2 1190.9l2.5 2.5M272.2 1193.4l2.5 -2.5M273.5 1190.6v3.1M273.4 1189.6l2.5 2.5M273.4 1192.1l2.5 -2.5M274.6 1189.3v3.1M273.6 1188l2.5 2.5M273.6 1190.5l2.5 -2.5M274.9 1187.7v3.1M274.5 1185.1l2.5 2.5M274.5 1187.6l2.5 -2.5M275.7 1184.8v3.1M274.5 1184.8l2.5 2.5M274.5 1187.2l2.5 -2.5M275.7 1184.5v3.1" fill="none" stroke="#E0B040" stroke-width="0.55"/>
<path d="M272.3 1253.8L272.4 1252.5L272.4 1251.1L272.5 1249.8L272.6 1248.5L272.7 1247.1L272.8 1245.8L273 1244.5L273.2 1243.1L273.4 1241.8L273.7 1240.5L274 1239.1L274.4 1237.8L274.8 1236.5L275.3 1235.1L275.8 1233.8L276.3 1232.5L276.9 1231.1L277.5 1229.8L278.2 1228.5L278.8 1227.1L279.5 1225.8L280.1 1224.5L280.8 1223.1L281.3 1221.8L281.9 1220.5L282.3 1219.1L282.7 1217.8L283 1216.5L283.1 1215.1L283.2 1213.8L283.2 1212.5L283 1211.1L282.8 1209.8L282.4 1208.5L282 1207.1L281.5 1205.8L280.9 1204.5L280.3 1203.1L279.7 1201.8L279 1200.5L278.3 1199.1L277.7 1197.8L277.1 1196.5L276.5 1195.1L275.9 1193.8L275.4 1192.5L274.9 1191.1L274.5 1189.8L274.1 1188.5L273.8 1187.1L273.5 1185.8L273.2 1184.5L273 1183.1L272.9 1181.8L272.7 1180.5L272.6 1179.1L272.5 1177.8L272.4 1176.5L272.4 1175.1L272.3 1173.8" fill="none" stroke="#D4A020" stroke-width="1"/>
<line x1="305.9" y1="1149.51" x2="305.9" y2="1249.91" stroke="#2EC4C4" stroke-width="1"/>
<line x1="302.6" y1="1149.51" x2="309.2" y2="1149.51" stroke="#2EC4C4" stroke-width="1"/>
<line x1="302.6" y1="1249.91" x2="309.2" y2="1249.91" stroke="#2EC4C4" stroke-width="1"/>
<rect x="299.5" y="1196.15" width="12.8" height="33.03" fill="#B4B68F" stroke="#2EC4C4" stroke-width="1"/>
<line x1="299.5" y1="1210.72" x2="312.3" y2="1210.72" stroke="#2EC4C4" stroke-width="1"/>
<circle cx="305.9" cy="1210.72" r="1.1" fill="none" stroke="#2EC4C4" stroke-width="0.6" opacity="0.85"/>
<path d="M316.8 1249.5l2.8 -1.6v3.1zM315.9 1246.5l2.8 -1.6v3.1zM317.7 1244.9l2.8 -1.6v3.1zM317.7 1243.3l2.8 -1.6v3.1zM314.4 1241.2l2.8 -1.6v3.1zM314.1 1239.1l2.8 -1.6v3.1zM315 1235.8l2.8 -1.6v3.1zM315.6 1234.2l2.8 -1.6v3.1zM319 1232.6l2.8 -1.6v3.1zM315.8 1230.1l2.8 -1.6v3.1zM315 1227.8l2.8 -1.6v3.1zM319.1 1227.3l2.8 -1.6v3.1zM320 1223.9l2.8 -1.6v3.1zM321.6 1222.4l2.8 -1.6v3.1zM318.7 1220.1l2.8 -1.6v3.1zM318.9 1219.6l2.8 -1.6v3.1zM320.1 1217.3l2.8 -1.6v3.1zM314.6 1215.6l2.8 -1.6v3.1zM315.2 1214.1l2.8 -1.6v3.1zM320.1 1211.2l2.8 -1.6v3.1zM316.8 1209.9l2.8 -1.6v3.1zM317.9 1208.2l2.8 -1.6v3.1zM315.7 1207.1l2.8 -1.6v3.1zM317.8 1204.9l2.8 -1.6v3.1zM315.8 1204.2l2.8 -1.6v3.1zM318 1202.8l2.8 -1.6v3.1zM320.2 1201.4l2.8 -1.6v3.1zM319.1 1200l2.8 -1.6v3.1zM315 1198.1l2.8 -1.6v3.1zM314.5 1196.4l2.8 -1.6v3.1zM320.2 1194.9l2.8 -1.6v3.1zM315.8 1190.9l2.8 -1.6v3.1zM319.2 1184.9l2.8 -1.6v3.1zM314.8 1177.6l2.8 -1.6v3.1zM316.9 1174.5l2.8 -1.6v3.1zM315.1 1170.4l2.8 -1.6v3.1zM314.2 1167.5l2.8 -1.6v3.1zM314.1 1163.3l2.8 -1.6v3.1zM316 1155.5l2.8 -1.6v3.1zM317.2 1153.9l2.8 -1.6v3.1zM314 1282.9l2.8 -1.6v3.1z" fill="none" stroke="#3CC8C8" stroke-width="0.7"/>
<path d="M314.6 1296.5L314.6 1293.7L314.7 1290.8L314.8 1288L314.8 1285.1L314.9 1282.3L315.1 1279.4L315.2 1276.6L315.4 1273.7L315.6 1270.9L315.9 1268L316.2 1265.2L316.5 1262.3L316.9 1259.5L317.3 1256.6L317.8 1253.8L318.3 1250.9L318.9 1248.1L319.5 1245.2L320.1 1242.4L320.8 1239.5L321.4 1236.7L322 1233.8L322.6 1231L323.2 1228.1L323.7 1225.3L324.1 1222.4L324.5 1219.6L324.8 1216.7L324.9 1213.9L325 1211L325 1208.2L324.8 1205.3L324.6 1202.5L324.2 1199.6L323.8 1196.8L323.3 1193.9L322.8 1191.1L322.2 1188.2L321.5 1185.4L320.9 1182.5L320.3 1179.7L319.6 1176.8L319 1174L318.5 1171.1L317.9 1168.3L317.4 1165.4L317 1162.6L316.6 1159.7L316.2 1156.9L315.9 1154L315.7 1151.2L315.4 1148.3L315.2 1145.5L315.1 1142.6L315 1139.8L314.9 1136.9L314.8 1134.1L314.7 1131.2L314.7 1128.4L314.6 1125.5" fill="none" stroke="#22C0C0" stroke-width="1"/>
<line x1="38.5" y1="1095.9" x2="38.5" y2="1323.1" stroke="#3a3a3a" stroke-width="1.2"/>
<line x1="37.9" y1="1323.1" x2="335.5" y2="1323.1" stroke="#3a3a3a" stroke-width="1.2"/>
<line x1="34.9" y1="1323.1" x2="38.5" y2="1323.1" stroke="#3a3a3a" stroke-width="1.1"/>
<text transform="translate(31,1326.1) scale(0.86,1)" text-anchor="end" font-size="9.9" fill="#222">0</text>
<line x1="36.5" y1="1306.91" x2="38.5" y2="1306.91" stroke="#3a3a3a" stroke-width="1.1"/>
<line x1="34.9" y1="1290.71" x2="38.5" y2="1290.71" stroke="#3a3a3a" stroke-width="1.1"/>
<text transform="translate(31,1293.71) scale(0.86,1)" text-anchor="end" font-size="9.9" fill="#222">10</text>
<line x1="36.5" y1="1274.52" x2="38.5" y2="1274.52" stroke="#3a3a3a" stroke-width="1.1"/>
<line x1="34.9" y1="1258.33" x2="38.5" y2="1258.33" stroke="#3a3a3a" stroke-width="1.1"/>
<text transform="translate(31,1261.33) scale(0.86,1)" text-anchor="end" font-size="9.9" fill="#222">20</text>
<line x1="36.5" y1="1242.14" x2="38.5" y2="1242.14" stroke="#3a3a3a" stroke-width="1.1"/>
<line x1="34.9" y1="1225.94" x2="38.5" y2="1225.94" stroke="#3a3a3a" stroke-width="1.1"/>
<text transform="translate(31,1228.94) scale(0.86,1)" text-anchor="end" font-size="9.9" fill="#222">30</text>
<line x1="36.5" y1="1209.75" x2="38.5" y2="1209.75" stroke="#3a3a3a" stroke-width="1.1"/>
<line x1="34.9" y1="1193.56" x2="38.5" y2="1193.56" stroke="#3a3a3a" stroke-width="1.1"/>
<text transform="translate(31,1196.56) scale(0.86,1)" text-anchor="end" font-size="9.9" fill="#222">40</text>
<line x1="36.5" y1="1177.36" x2="38.5" y2="1177.36" stroke="#3a3a3a" stroke-width="1.1"/>
<line x1="34.9" y1="1161.17" x2="38.5" y2="1161.17" stroke="#3a3a3a" stroke-width="1.1"/>
<text transform="translate(31,1164.17) scale(0.86,1)" text-anchor="end" font-size="9.9" fill="#222">50</text>
<line x1="36.5" y1="1144.98" x2="38.5" y2="1144.98" stroke="#3a3a3a" stroke-width="1.1"/>
<line x1="34.9" y1="1128.79" x2="38.5" y2="1128.79" stroke="#3a3a3a" stroke-width="1.1"/>
<text transform="translate(31,1131.79) scale(0.86,1)" text-anchor="end" font-size="9.9" fill="#222">60</text>
<line x1="36.5" y1="1112.59" x2="38.5" y2="1112.59" stroke="#3a3a3a" stroke-width="1.1"/>
<line x1="34.9" y1="1096.4" x2="38.5" y2="1096.4" stroke="#3a3a3a" stroke-width="1.1"/>
<text transform="translate(31,1099.4) scale(0.86,1)" text-anchor="end" font-size="9.9" fill="#222">70</text>
<line x1="60.4" y1="1323.1" x2="60.4" y2="1327.3" stroke="#3a3a3a" stroke-width="1.1"/>
<text x="60.4" y="1337.8" text-anchor="middle" font-size="9.2" fill="#222">Core</text>
<line x1="102.7" y1="1323.1" x2="102.7" y2="1327.3" stroke="#3a3a3a" stroke-width="1.1"/>
<text x="102.7" y="1337.8" text-anchor="middle" font-size="9.2" fill="#222">JSMS</text>
<line x1="145" y1="1323.1" x2="145" y2="1327.3" stroke="#3a3a3a" stroke-width="1.1"/>
<text x="145" y="1337.8" text-anchor="middle" font-size="9.2" fill="#222">AIJ</text>
<line x1="187.3" y1="1323.1" x2="187.3" y2="1327.3" stroke="#3a3a3a" stroke-width="1.1"/>
<text x="187.3" y="1337.8" text-anchor="middle" font-size="9.2" fill="#222">US Army</text>
<line x1="229.6" y1="1323.1" x2="229.6" y2="1327.3" stroke="#3a3a3a" stroke-width="1.1"/>
<text x="229.6" y="1337.8" text-anchor="middle" font-size="9.2" fill="#222">KMST</text>
<line x1="271.9" y1="1323.1" x2="271.9" y2="1327.3" stroke="#3a3a3a" stroke-width="1.1"/>
<text x="271.9" y="1337.8" text-anchor="middle" font-size="9.2" fill="#222">JSMS</text>
<line x1="314.2" y1="1323.1" x2="314.2" y2="1327.3" stroke="#3a3a3a" stroke-width="1.1"/>
<text x="314.2" y="1337.8" text-anchor="middle" font-size="9.2" fill="#222">AIJ</text>
<text transform="translate(11.4,1209.75) rotate(-90)" text-anchor="middle" font-size="10.9" fill="#222">Compressive strength (MPa)</text>
<rect x="68.9" y="1093.9" width="216.8" height="20.3" fill="#fff" stroke="#111" stroke-width="1.3"/>
<text x="176.7" y="1108.6" text-anchor="middle" font-size="13.6" fill="#111">Sanseong-Ucheongyo Bridge, slab</text>
<text x="80.6" y="1126.5" font-size="12.5" fill="#111">RHT</text>
<text x="254.6" y="1126.5" font-size="12.5" fill="#111">UPVT</text>
<line x1="426.1" y1="1096.4" x2="426.1" y2="1323.1" stroke="#111" stroke-width="1.3" stroke-dasharray="4.7 4.75" stroke-dashoffset="4.65"/>
<line x1="598.9" y1="1096.4" x2="598.9" y2="1323.1" stroke="#111" stroke-width="1.3" stroke-dasharray="4.7 4.75" stroke-dashoffset="4.65"/>
<line x1="400.6" y1="1148.22" x2="400.6" y2="1258.98" stroke="#6a6a6a" stroke-width="1"/>
<line x1="397.3" y1="1148.22" x2="403.9" y2="1148.22" stroke="#6a6a6a" stroke-width="1"/>
<line x1="397.3" y1="1258.98" x2="403.9" y2="1258.98" stroke="#6a6a6a" stroke-width="1"/>
<rect x="394.2" y="1184.49" width="12.8" height="31.74" fill="#FFCC8F" stroke="#6a6a6a" stroke-width="1"/>
<line x1="394.2" y1="1202.3" x2="407" y2="1202.3" stroke="#5a5040" stroke-width="1"/>
<circle cx="400.6" cy="1201.98" r="1.1" fill="none" stroke="#5a5040" stroke-width="0.6" opacity="0.85"/>
<path d="M410.3 1255.4h2.9v2.9h-2.9zM409.5 1251.5h2.9v2.9h-2.9zM411.6 1246.8h2.9v2.9h-2.9zM409.3 1243.6h2.9v2.9h-2.9zM409.9 1240.3h2.9v2.9h-2.9zM412.1 1237.6h2.9v2.9h-2.9zM408.9 1230.9h2.9v2.9h-2.9zM411.7 1227.7h2.9v2.9h-2.9zM410.3 1225.7h2.9v2.9h-2.9zM411.7 1220.8h2.9v2.9h-2.9zM413.4 1216.9h2.9v2.9h-2.9zM414.4 1215.2h2.9v2.9h-2.9zM416.3 1212.6h2.9v2.9h-2.9zM409.1 1211.9h2.9v2.9h-2.9zM409.8 1211.4h2.9v2.9h-2.9zM411.2 1209h2.9v2.9h-2.9zM416.1 1208.4h2.9v2.9h-2.9zM413.3 1207.3h2.9v2.9h-2.9zM409.3 1205.9h2.9v2.9h-2.9zM415.9 1204.5h2.9v2.9h-2.9zM410.7 1203.8h2.9v2.9h-2.9zM409.1 1202.2h2.9v2.9h-2.9zM415.7 1200.9h2.9v2.9h-2.9zM413.3 1199h2.9v2.9h-2.9zM410 1197.1h2.9v2.9h-2.9zM411.8 1196h2.9v2.9h-2.9zM409.7 1194.4h2.9v2.9h-2.9zM409.5 1192.5h2.9v2.9h-2.9zM415.1 1191.9h2.9v2.9h-2.9zM412 1189.1h2.9v2.9h-2.9zM410.6 1188.3h2.9v2.9h-2.9zM413.1 1187h2.9v2.9h-2.9zM409.6 1185.5h2.9v2.9h-2.9zM409.8 1183.5h2.9v2.9h-2.9zM413.5 1180.1h2.9v2.9h-2.9zM411.2 1176.5h2.9v2.9h-2.9zM410.8 1174.7h2.9v2.9h-2.9zM411.7 1172.5h2.9v2.9h-2.9zM409.9 1168.3h2.9v2.9h-2.9zM410.3 1165.9h2.9v2.9h-2.9zM410.1 1161h2.9v2.9h-2.9zM411.1 1156.9h2.9v2.9h-2.9zM410.6 1155.7h2.9v2.9h-2.9zM410.6 1150.3h2.9v2.9h-2.9zM409 1148.1h2.9v2.9h-2.9zM408.8 1282.8h2.9v2.9h-2.9zM409 1257.5h2.9v2.9h-2.9z" fill="#4a4a4a"/>
<path d="M409.3 1284.6L409.3 1282L409.4 1279.4L409.4 1276.8L409.5 1274.2L409.6 1271.6L409.7 1269L409.8 1266.4L409.9 1263.8L410.1 1261.2L410.3 1258.6L410.6 1256L410.9 1253.4L411.2 1250.8L411.6 1248.2L412 1245.6L412.4 1243L412.9 1240.4L413.5 1237.8L414 1235.2L414.6 1232.6L415.2 1230L415.8 1227.4L416.4 1224.8L416.9 1222.3L417.5 1219.7L417.9 1217.1L418.3 1214.5L418.7 1211.9L418.9 1209.3L419.1 1206.7L419.2 1204.1L419.2 1201.5L419.1 1198.9L418.9 1196.3L418.6 1193.7L418.2 1191.1L417.8 1188.5L417.3 1185.9L416.7 1183.3L416.2 1180.7L415.6 1178.1L415 1175.5L414.4 1172.9L413.8 1170.3L413.3 1167.7L412.7 1165.1L412.3 1162.5L411.8 1159.9L411.4 1157.3L411.1 1154.7L410.7 1152.2L410.5 1149.6L410.2 1147L410 1144.4L409.9 1141.8L409.7 1139.2L409.6 1136.6L409.5 1134L409.4 1131.4L409.4 1128.8" fill="none" stroke="#404040" stroke-width="1"/>
<line x1="442.9" y1="1250.88" x2="442.9" y2="1284.24" stroke="#E55A5A" stroke-width="1"/>
<line x1="439.6" y1="1250.88" x2="446.2" y2="1250.88" stroke="#E55A5A" stroke-width="1"/>
<line x1="439.6" y1="1284.24" x2="446.2" y2="1284.24" stroke="#E55A5A" stroke-width="1"/>
<rect x="436.5" y="1261.57" width="12.8" height="11.98" fill="#9DD79A" stroke="#E55A5A" stroke-width="1"/>
<line x1="436.5" y1="1267.4" x2="449.3" y2="1267.4" stroke="#DE6055" stroke-width="1"/>
<rect x="441.9" y="1263.63" width="2" height="2" fill="#DE6055" opacity="0.7"/>
<path d="M452.6 1283.9a1.6 1.6 0 1 0 3.1 0a1.6 1.6 0 1 0 -3.1 0M452.4 1283.1a1.6 1.6 0 1 0 3.1 0a1.6 1.6 0 1 0 -3.1 0M452.8 1282.2a1.6 1.6 0 1 0 3.1 0a1.6 1.6 0 1 0 -3.1 0M451.5 1281.5a1.6 1.6 0 1 0 3.1 0a1.6 1.6 0 1 0 -3.1 0M454.3 1280.8a1.6 1.6 0 1 0 3.1 0a1.6 1.6 0 1 0 -3.1 0M451.1 1280a1.6 1.6 0 1 0 3.1 0a1.6 1.6 0 1 0 -3.1 0M452.8 1279.6a1.6 1.6 0 1 0 3.1 0a1.6 1.6 0 1 0 -3.1 0M451.3 1278.8a1.6 1.6 0 1 0 3.1 0a1.6 1.6 0 1 0 -3.1 0M452.7 1277.9a1.6 1.6 0 1 0 3.1 0a1.6 1.6 0 1 0 -3.1 0M453.2 1276.5a1.6 1.6 0 1 0 3.1 0a1.6 1.6 0 1 0 -3.1 0M453 1276.1a1.6 1.6 0 1 0 3.1 0a1.6 1.6 0 1 0 -3.1 0M453.2 1275.3a1.6 1.6 0 1 0 3.1 0a1.6 1.6 0 1 0 -3.1 0M456 1274.3a1.6 1.6 0 1 0 3.1 0a1.6 1.6 0 1 0 -3.1 0M453.5 1273.6a1.6 1.6 0 1 0 3.1 0a1.6 1.6 0 1 0 -3.1 0M456.5 1273.1a1.6 1.6 0 1 0 3.1 0a1.6 1.6 0 1 0 -3.1 0M452.4 1272.9a1.6 1.6 0 1 0 3.1 0a1.6 1.6 0 1 0 -3.1 0M455.4 1272.3a1.6 1.6 0 1 0 3.1 0a1.6 1.6 0 1 0 -3.1 0M454.9 1271.8a1.6 1.6 0 1 0 3.1 0a1.6 1.6 0 1 0 -3.1 0M454.3 1271.3a1.6 1.6 0 1 0 3.1 0a1.6 1.6 0 1 0 -3.1 0M457.8 1270.8a1.6 1.6 0 1 0 3.1 0a1.6 1.6 0 1 0 -3.1 0M457.1 1270.6a1.6 1.6 0 1 0 3.1 0a1.6 1.6 0 1 0 -3.1 0M457.5 1270a1.6 1.6 0 1 0 3.1 0a1.6 1.6 0 1 0 -3.1 0M457.7 1269.8a1.6 1.6 0 1 0 3.1 0a1.6 1.6 0 1 0 -3.1 0M458.3 1269.1a1.6 1.6 0 1 0 3.1 0a1.6 1.6 0 1 0 -3.1 0M453.2 1268.5a1.6 1.6 0 1 0 3.1 0a1.6 1.6 0 1 0 -3.1 0M452.1 1268.2a1.6 1.6 0 1 0 3.1 0a1.6 1.6 0 1 0 -3.1 0M458.3 1267.8a1.6 1.6 0 1 0 3.1 0a1.6 1.6 0 1 0 -3.1 0M453.8 1267.5a1.6 1.6 0 1 0 3.1 0a1.6 1.6 0 1 0 -3.1 0M452.5 1267.2a1.6 1.6 0 1 0 3.1 0a1.6 1.6 0 1 0 -3.1 0M451.7 1266.7a1.6 1.6 0 1 0 3.1 0a1.6 1.6 0 1 0 -3.1 0M458.4 1265.9a1.6 1.6 0 1 0 3.1 0a1.6 1.6 0 1 0 -3.1 0M457.2 1265.7a1.6 1.6 0 1 0 3.1 0a1.6 1.6 0 1 0 -3.1 0M455.4 1265.2a1.6 1.6 0 1 0 3.1 0a1.6 1.6 0 1 0 -3.1 0M456.6 1264.9a1.6 1.6 0 1 0 3.1 0a1.6 1.6 0 1 0 -3.1 0M453.2 1264.4a1.6 1.6 0 1 0 3.1 0a1.6 1.6 0 1 0 -3.1 0M456.3 1264.1a1.6 1.6 0 1 0 3.1 0a1.6 1.6 0 1 0 -3.1 0M452.7 1263.5a1.6 1.6 0 1 0 3.1 0a1.6 1.6 0 1 0 -3.1 0M458.4 1263.1a1.6 1.6 0 1 0 3.1 0a1.6 1.6 0 1 0 -3.1 0M456.5 1262.6a1.6 1.6 0 1 0 3.1 0a1.6 1.6 0 1 0 -3.1 0M454.5 1262.5a1.6 1.6 0 1 0 3.1 0a1.6 1.6 0 1 0 -3.1 0M451.4 1262.1a1.6 1.6 0 1 0 3.1 0a1.6 1.6 0 1 0 -3.1 0M454.8 1261.6a1.6 1.6 0 1 0 3.1 0a1.6 1.6 0 1 0 -3.1 0M456.1 1260.4a1.6 1.6 0 1 0 3.1 0a1.6 1.6 0 1 0 -3.1 0M456.5 1260a1.6 1.6 0 1 0 3.1 0a1.6 1.6 0 1 0 -3.1 0M454.9 1259a1.6 1.6 0 1 0 3.1 0a1.6 1.6 0 1 0 -3.1 0M454.3 1258.4a1.6 1.6 0 1 0 3.1 0a1.6 1.6 0 1 0 -3.1 0M456.3 1257.6a1.6 1.6 0 1 0 3.1 0a1.6 1.6 0 1 0 -3.1 0M454.1 1256.7a1.6 1.6 0 1 0 3.1 0a1.6 1.6 0 1 0 -3.1 0M454.2 1255.9a1.6 1.6 0 1 0 3.1 0a1.6 1.6 0 1 0 -3.1 0M455.5 1255a1.6 1.6 0 1 0 3.1 0a1.6 1.6 0 1 0 -3.1 0M453.4 1254.1a1.6 1.6 0 1 0 3.1 0a1.6 1.6 0 1 0 -3.1 0M456.4 1253.4a1.6 1.6 0 1 0 3.1 0a1.6 1.6 0 1 0 -3.1 0M454.7 1252.4a1.6 1.6 0 1 0 3.1 0a1.6 1.6 0 1 0 -3.1 0M455.3 1252.4a1.6 1.6 0 1 0 3.1 0a1.6 1.6 0 1 0 -3.1 0M451 1251a1.6 1.6 0 1 0 3.1 0a1.6 1.6 0 1 0 -3.1 0M451 1198.7a1.6 1.6 0 1 0 3.1 0a1.6 1.6 0 1 0 -3.1 0M451 1195.2a1.6 1.6 0 1 0 3.1 0a1.6 1.6 0 1 0 -3.1 0M451 1191.6a1.6 1.6 0 1 0 3.1 0a1.6 1.6 0 1 0 -3.1 0M451 1188.1a1.6 1.6 0 1 0 3.1 0a1.6 1.6 0 1 0 -3.1 0" fill="none" stroke="#EE7777" stroke-width="0.7"/>
<path d="M452.4 1290.7L452.6 1289.3L452.9 1288L453.3 1286.6L453.7 1285.2L454.2 1283.8L454.7 1282.4L455.2 1281L455.8 1279.7L456.5 1278.3L457.2 1276.9L457.9 1275.5L458.5 1274.1L459.2 1272.8L459.8 1271.4L460.3 1270L460.8 1268.6L461.1 1267.2L461.4 1265.8L461.5 1264.5L461.5 1263.1L461.3 1261.7L461.1 1260.3L460.7 1258.9L460.3 1257.6L459.7 1256.2L459.1 1254.8L458.5 1253.4L457.8 1252L457.1 1250.6L456.4 1249.3L455.8 1247.9L455.2 1246.5L454.6 1245.1L454.1 1243.7L453.7 1242.4L453.3 1241L452.9 1239.6L452.6 1238.2L452.4 1236.8L452.2 1235.4L452 1234.1L451.9 1232.7L451.8 1231.3L451.7 1229.9L451.7 1228.5L451.6 1227.2L451.6 1225.8L451.6 1224.4L451.5 1223L451.5 1221.6L451.5 1220.2L451.5 1218.9L451.5 1217.5L451.5 1216.1L451.5 1214.7L451.5 1213.3L451.5 1212L451.5 1210.6L451.5 1209.2L451.5 1207.8" fill="none" stroke="#E54F4F" stroke-width="1"/>
<line x1="485.2" y1="1241.49" x2="485.2" y2="1260.27" stroke="#3F78D8" stroke-width="1"/>
<line x1="481.9" y1="1241.49" x2="488.5" y2="1241.49" stroke="#3F78D8" stroke-width="1"/>
<line x1="481.9" y1="1260.27" x2="488.5" y2="1260.27" stroke="#3F78D8" stroke-width="1"/>
<rect x="478.8" y="1247.64" width="12.8" height="6.8" fill="#C9B6DC" stroke="#3F78D8" stroke-width="1"/>
<line x1="478.8" y1="1250.88" x2="491.6" y2="1250.88" stroke="#3F78D8" stroke-width="1"/>
<circle cx="485.2" cy="1249.26" r="1.1" fill="none" stroke="#3F78D8" stroke-width="0.6" opacity="0.85"/>
<path d="M496 1258.6l1.6 2.8h-3.1zM497.3 1258l1.6 2.8h-3.1zM495.6 1257.8l1.6 2.8h-3.1zM495.2 1257.4l1.6 2.8h-3.1zM499.5 1256.7l1.6 2.8h-3.1zM498.6 1256.5l1.6 2.8h-3.1zM495.9 1255.8l1.6 2.8h-3.1zM497.4 1255.5l1.6 2.8h-3.1zM500.3 1254.9l1.6 2.8h-3.1zM496.1 1254.9l1.6 2.8h-3.1zM498.8 1254.1l1.6 2.8h-3.1zM500.5 1253.8l1.6 2.8h-3.1zM501.9 1253.3l1.6 2.8h-3.1zM495.2 1253.1l1.6 2.8h-3.1zM495.2 1252.6l1.6 2.8h-3.1zM501.7 1252.4l1.6 2.8h-3.1zM499.7 1252.2l1.6 2.8h-3.1zM496.1 1252l1.6 2.8h-3.1zM502.1 1251.6l1.6 2.8h-3.1zM495.1 1251.3l1.6 2.8h-3.1zM499.2 1251l1.6 2.8h-3.1zM498.3 1250.9l1.6 2.8h-3.1zM497.9 1250.6l1.6 2.8h-3.1zM502.5 1250.5l1.6 2.8h-3.1zM500.3 1250.1l1.6 2.8h-3.1zM503.8 1249.8l1.6 2.8h-3.1zM502.4 1249.7l1.6 2.8h-3.1zM498 1249.3l1.6 2.8h-3.1zM499.1 1249.1l1.6 2.8h-3.1zM498.8 1248.9l1.6 2.8h-3.1zM503.5 1248.7l1.6 2.8h-3.1zM500.8 1248.5l1.6 2.8h-3.1zM504 1248.1l1.6 2.8h-3.1zM498.2 1247.8l1.6 2.8h-3.1zM495.3 1247.7l1.6 2.8h-3.1zM497.7 1247.6l1.6 2.8h-3.1zM495.3 1247.1l1.6 2.8h-3.1zM500.8 1247.1l1.6 2.8h-3.1zM496.5 1246.8l1.6 2.8h-3.1zM495.2 1246.4l1.6 2.8h-3.1zM498.8 1246.2l1.6 2.8h-3.1zM496.6 1246l1.6 2.8h-3.1zM498.5 1245.7l1.6 2.8h-3.1zM499 1245l1.6 2.8h-3.1zM502.5 1244.5l1.6 2.8h-3.1zM502.4 1244.3l1.6 2.8h-3.1zM498.3 1243.7l1.6 2.8h-3.1zM502 1243.3l1.6 2.8h-3.1zM495.5 1242.9l1.6 2.8h-3.1zM495.7 1242.2l1.6 2.8h-3.1zM500.2 1242.1l1.6 2.8h-3.1zM496.9 1241.6l1.6 2.8h-3.1zM500.7 1241l1.6 2.8h-3.1zM500.6 1240.7l1.6 2.8h-3.1zM498.5 1240.1l1.6 2.8h-3.1zM494.8 1211.1l1.6 2.8h-3.1zM494.8 1208.2l1.6 2.8h-3.1zM494.8 1205l1.6 2.8h-3.1z" fill="none" stroke="#5A8DE0" stroke-width="0.7"/>
<path d="M493.8 1281.3L493.8 1280.3L493.8 1279.2L493.8 1278.1L493.9 1277.1L493.9 1276L493.9 1274.9L494 1273.9L494 1272.8L494.1 1271.8L494.3 1270.7L494.4 1269.6L494.7 1268.6L494.9 1267.5L495.3 1266.4L495.7 1265.4L496.1 1264.3L496.7 1263.2L497.3 1262.2L498 1261.1L498.7 1260.1L499.5 1259L500.4 1257.9L501.2 1256.9L502 1255.8L502.8 1254.7L503.4 1253.7L504 1252.6L504.4 1251.5L504.7 1250.5L504.8 1249.4L504.7 1248.4L504.5 1247.3L504.1 1246.2L503.6 1245.2L503 1244.1L502.2 1243L501.4 1242L500.6 1240.9L499.8 1239.9L499 1238.8L498.2 1237.7L497.5 1236.7L496.9 1235.6L496.3 1234.5L495.8 1233.5L495.4 1232.4L495 1231.3L494.7 1230.3L494.5 1229.2L494.3 1228.2L494.2 1227.1L494.1 1226L494 1225L493.9 1223.9L493.9 1222.8L493.9 1221.8L493.8 1220.7L493.8 1219.6L493.8 1218.6L493.8 1217.5" fill="none" stroke="#2F6AD6" stroke-width="1"/>
<line x1="527.5" y1="1247.32" x2="527.5" y2="1284.24" stroke="#3FAA6A" stroke-width="1"/>
<line x1="524.2" y1="1247.32" x2="530.8" y2="1247.32" stroke="#3FAA6A" stroke-width="1"/>
<line x1="524.2" y1="1284.24" x2="530.8" y2="1284.24" stroke="#3FAA6A" stroke-width="1"/>
<rect x="521.1" y="1259.95" width="12.8" height="13.28" fill="#FFFF9E" stroke="#3FAA6A" stroke-width="1"/>
<line x1="521.1" y1="1266.75" x2="533.9" y2="1266.75" stroke="#3FAA6A" stroke-width="1"/>
<circle cx="527.5" cy="1262.21" r="1.1" fill="none" stroke="#3FAA6A" stroke-width="0.6" opacity="0.85"/>
<path d="M537.1 1285.4l1.6 -2.8h-3.1zM539.5 1285l1.6 -2.8h-3.1zM537.4 1284l1.6 -2.8h-3.1zM538.8 1283.3l1.6 -2.8h-3.1zM538.5 1282.7l1.6 -2.8h-3.1zM538.5 1282.3l1.6 -2.8h-3.1zM537.9 1281.1l1.6 -2.8h-3.1zM539.5 1280.5l1.6 -2.8h-3.1zM540.8 1280.3l1.6 -2.8h-3.1zM541.2 1279.7l1.6 -2.8h-3.1zM542 1278.8l1.6 -2.8h-3.1zM539.1 1277.8l1.6 -2.8h-3.1zM543 1277.2l1.6 -2.8h-3.1zM538.4 1276.9l1.6 -2.8h-3.1zM542.4 1276.1l1.6 -2.8h-3.1zM538.8 1275.5l1.6 -2.8h-3.1zM541.2 1274.6l1.6 -2.8h-3.1zM541.1 1274.3l1.6 -2.8h-3.1zM537.1 1274.1l1.6 -2.8h-3.1zM537.5 1273.7l1.6 -2.8h-3.1zM544.6 1273l1.6 -2.8h-3.1zM540.1 1272.8l1.6 -2.8h-3.1zM540.5 1272.5l1.6 -2.8h-3.1zM542.1 1271.8l1.6 -2.8h-3.1zM541.6 1271.3l1.6 -2.8h-3.1zM540.2 1271.3l1.6 -2.8h-3.1zM539.9 1270.7l1.6 -2.8h-3.1zM542.4 1270.5l1.6 -2.8h-3.1zM543.2 1269.9l1.6 -2.8h-3.1zM537.7 1269.5l1.6 -2.8h-3.1zM538.7 1269.2l1.6 -2.8h-3.1zM538.5 1268.7l1.6 -2.8h-3.1zM541.8 1268.5l1.6 -2.8h-3.1zM538 1268l1.6 -2.8h-3.1zM543.6 1267.6l1.6 -2.8h-3.1zM544.6 1266.9l1.6 -2.8h-3.1zM543 1266.6l1.6 -2.8h-3.1zM541.1 1266.1l1.6 -2.8h-3.1zM543.8 1265.8l1.6 -2.8h-3.1zM542.8 1265.3l1.6 -2.8h-3.1zM542.2 1264.9l1.6 -2.8h-3.1zM540 1264.7l1.6 -2.8h-3.1zM541.1 1264l1.6 -2.8h-3.1zM540.6 1263.5l1.6 -2.8h-3.1zM538.2 1263.2l1.6 -2.8h-3.1zM545.1 1262.9l1.6 -2.8h-3.1zM543 1262.6l1.6 -2.8h-3.1zM542.8 1262.2l1.6 -2.8h-3.1zM545.5 1261.6l1.6 -2.8h-3.1zM544.2 1260.7l1.6 -2.8h-3.1zM543.2 1260.3l1.6 -2.8h-3.1zM541.5 1259.6l1.6 -2.8h-3.1zM541.2 1258.7l1.6 -2.8h-3.1zM538.9 1258l1.6 -2.8h-3.1zM542.5 1257l1.6 -2.8h-3.1zM544.7 1256.2l1.6 -2.8h-3.1zM538.3 1255.4l1.6 -2.8h-3.1zM539.5 1254.6l1.6 -2.8h-3.1zM538 1253.6l1.6 -2.8h-3.1zM541.7 1253.2l1.6 -2.8h-3.1zM540.4 1252l1.6 -2.8h-3.1zM542 1251.7l1.6 -2.8h-3.1zM542.4 1250.6l1.6 -2.8h-3.1zM537.8 1249.9l1.6 -2.8h-3.1zM541.8 1248.9l1.6 -2.8h-3.1zM537.1 1177.6l1.6 -2.8h-3.1zM537.1 1172.8l1.6 -2.8h-3.1zM537.1 1167.6l1.6 -2.8h-3.1zM537.1 1162.7l1.6 -2.8h-3.1z" fill="none" stroke="#4FB578" stroke-width="0.7"/>
<path d="M537.8 1290.7L538.2 1289L538.7 1287.3L539.2 1285.6L539.9 1283.9L540.5 1282.2L541.3 1280.5L542 1278.8L542.8 1277.1L543.6 1275.4L544.3 1273.7L545 1272L545.7 1270.2L546.2 1268.5L546.6 1266.8L546.9 1265.1L547.1 1263.4L547.1 1261.7L546.9 1260L546.6 1258.3L546.2 1256.6L545.7 1254.9L545.1 1253.2L544.3 1251.5L543.6 1249.8L542.8 1248.1L542 1246.4L541.3 1244.7L540.6 1243L539.9 1241.3L539.3 1239.5L538.7 1237.8L538.2 1236.1L537.8 1234.4L537.5 1232.7L537.2 1231L536.9 1229.3L536.7 1227.6L536.6 1225.9L536.4 1224.2L536.4 1222.5L536.3 1220.8L536.2 1219.1L536.2 1217.4L536.2 1215.7L536.1 1214L536.1 1212.3L536.1 1210.5L536.1 1208.8L536.1 1207.1L536.1 1205.4L536.1 1203.7L536.1 1202L536.1 1200.3L536.1 1198.6L536.1 1196.9L536.1 1195.2L536.1 1193.5L536.1 1191.8L536.1 1190.1L536.1 1188.4" fill="none" stroke="#30A060" stroke-width="1"/>
<line x1="569.8" y1="1215.26" x2="569.8" y2="1255.09" stroke="#B07CE0" stroke-width="1"/>
<line x1="566.5" y1="1215.26" x2="573.1" y2="1215.26" stroke="#B07CE0" stroke-width="1"/>
<line x1="566.5" y1="1255.09" x2="573.1" y2="1255.09" stroke="#B07CE0" stroke-width="1"/>
<rect x="563.4" y="1228.86" width="12.8" height="13.6" fill="#9EBEF5" stroke="#B07CE0" stroke-width="1"/>
<line x1="563.4" y1="1235.01" x2="576.2" y2="1235.01" stroke="#B07CE0" stroke-width="1"/>
<circle cx="569.8" cy="1231.77" r="1.1" fill="none" stroke="#B07CE0" stroke-width="0.6" opacity="0.85"/>
<path d="M581.7 1253.2l1.6 1.6l-1.6 1.6l-1.6 -1.6zM581.7 1253.2v3.1M580.2 1254.8h3.1M582.6 1252.2l1.6 1.6l-1.6 1.6l-1.6 -1.6zM582.6 1252.2v3.1M581.1 1253.8h3.1M579.7 1251.6l1.6 1.6l-1.6 1.6l-1.6 -1.6zM579.7 1251.6v3.1M578.2 1253.1h3.1M580.7 1251.3l1.6 1.6l-1.6 1.6l-1.6 -1.6zM580.7 1251.3v3.1M579.1 1252.9h3.1M580.6 1250.3l1.6 1.6l-1.6 1.6l-1.6 -1.6zM580.6 1250.3v3.1M579 1251.9h3.1M582.6 1249.4l1.6 1.6l-1.6 1.6l-1.6 -1.6zM582.6 1249.4v3.1M581 1250.9h3.1M582.4 1248.9l1.6 1.6l-1.6 1.6l-1.6 -1.6zM582.4 1248.9v3.1M580.9 1250.5h3.1M583.7 1248.3l1.6 1.6l-1.6 1.6l-1.6 -1.6zM583.7 1248.3v3.1M582.2 1249.9h3.1M580.1 1247.6l1.6 1.6l-1.6 1.6l-1.6 -1.6zM580.1 1247.6v3.1M578.6 1249.1h3.1M583.8 1246.8l1.6 1.6l-1.6 1.6l-1.6 -1.6zM583.8 1246.8v3.1M582.2 1248.3h3.1M583.1 1245.9l1.6 1.6l-1.6 1.6l-1.6 -1.6zM583.1 1245.9v3.1M581.6 1247.4h3.1M581.6 1245l1.6 1.6l-1.6 1.6l-1.6 -1.6zM581.6 1245v3.1M580.1 1246.6h3.1M585.3 1244.2l1.6 1.6l-1.6 1.6l-1.6 -1.6zM585.3 1244.2v3.1M583.8 1245.7h3.1M584 1243.8l1.6 1.6l-1.6 1.6l-1.6 -1.6zM584 1243.8v3.1M582.5 1245.3h3.1M583.2 1242.8l1.6 1.6l-1.6 1.6l-1.6 -1.6zM583.2 1242.8v3.1M581.7 1244.4h3.1M583.7 1242.6l1.6 1.6l-1.6 1.6l-1.6 -1.6zM583.7 1242.6v3.1M582.1 1244.2h3.1M585.2 1241.7l1.6 1.6l-1.6 1.6l-1.6 -1.6zM585.2 1241.7v3.1M583.7 1243.2h3.1M579.5 1241.1l1.6 1.6l-1.6 1.6l-1.6 -1.6zM579.5 1241.1v3.1M577.9 1242.7h3.1M580.6 1240.6l1.6 1.6l-1.6 1.6l-1.6 -1.6zM580.6 1240.6v3.1M579.1 1242.2h3.1M580.9 1240.1l1.6 1.6l-1.6 1.6l-1.6 -1.6zM580.9 1240.1v3.1M579.4 1241.7h3.1M583.8 1239.7l1.6 1.6l-1.6 1.6l-1.6 -1.6zM583.8 1239.7v3.1M582.2 1241.3h3.1M583.1 1239.4l1.6 1.6l-1.6 1.6l-1.6 -1.6zM583.1 1239.4v3.1M581.5 1240.9h3.1M579.4 1238.8l1.6 1.6l-1.6 1.6l-1.6 -1.6zM579.4 1238.8v3.1M577.9 1240.4h3.1M583.3 1238.3l1.6 1.6l-1.6 1.6l-1.6 -1.6zM583.3 1238.3v3.1M581.8 1239.8h3.1M586.4 1237.8l1.6 1.6l-1.6 1.6l-1.6 -1.6zM586.4 1237.8v3.1M584.8 1239.4h3.1M585.1 1237.7l1.6 1.6l-1.6 1.6l-1.6 -1.6zM585.1 1237.7v3.1M583.5 1239.2h3.1M586.5 1237.1l1.6 1.6l-1.6 1.6l-1.6 -1.6zM586.5 1237.1v3.1M584.9 1238.6h3.1M586.3 1236.8l1.6 1.6l-1.6 1.6l-1.6 -1.6zM586.3 1236.8v3.1M584.7 1238.4h3.1M580.2 1236.3l1.6 1.6l-1.6 1.6l-1.6 -1.6zM580.2 1236.3v3.1M578.6 1237.8h3.1M586.8 1235.8l1.6 1.6l-1.6 1.6l-1.6 -1.6zM586.8 1235.8v3.1M585.2 1237.4h3.1M582.6 1235.6l1.6 1.6l-1.6 1.6l-1.6 -1.6zM582.6 1235.6v3.1M581 1237.1h3.1M579.5 1235.1l1.6 1.6l-1.6 1.6l-1.6 -1.6zM579.5 1235.1v3.1M577.9 1236.7h3.1M584.2 1234.4l1.6 1.6l-1.6 1.6l-1.6 -1.6zM584.2 1234.4v3.1M582.6 1235.9h3.1M587.2 1234.1l1.6 1.6l-1.6 1.6l-1.6 -1.6zM587.2 1234.1v3.1M585.7 1235.6h3.1M587.6 1233.9l1.6 1.6l-1.6 1.6l-1.6 -1.6zM587.6 1233.9v3.1M586.1 1235.4h3.1M586.9 1233.2l1.6 1.6l-1.6 1.6l-1.6 -1.6zM586.9 1233.2v3.1M585.3 1234.7h3.1M582.9 1232.8l1.6 1.6l-1.6 1.6l-1.6 -1.6zM582.9 1232.8v3.1M581.3 1234.4h3.1M588.2 1232.7l1.6 1.6l-1.6 1.6l-1.6 -1.6zM588.2 1232.7v3.1M586.7 1234.3h3.1M585.7 1232.2l1.6 1.6l-1.6 1.6l-1.6 -1.6zM585.7 1232.2v3.1M584.2 1233.7h3.1M582.1 1231.8l1.6 1.6l-1.6 1.6l-1.6 -1.6zM582.1 1231.8v3.1M580.5 1233.4h3.1M583.4 1231.5l1.6 1.6l-1.6 1.6l-1.6 -1.6zM583.4 1231.5v3.1M581.9 1233h3.1M583.9 1231.3l1.6 1.6l-1.6 1.6l-1.6 -1.6zM583.9 1231.3v3.1M582.3 1232.8h3.1M582.1 1230.8l1.6 1.6l-1.6 1.6l-1.6 -1.6zM582.1 1230.8v3.1M580.6 1232.4h3.1M587.6 1230.4l1.6 1.6l-1.6 1.6l-1.6 -1.6zM587.6 1230.4v3.1M586 1231.9h3.1M579.6 1230.1l1.6 1.6l-1.6 1.6l-1.6 -1.6zM579.6 1230.1v3.1M578.1 1231.6h3.1M585.1 1229.8l1.6 1.6l-1.6 1.6l-1.6 -1.6zM585.1 1229.8v3.1M583.5 1231.3h3.1M582.1 1229.3l1.6 1.6l-1.6 1.6l-1.6 -1.6zM582.1 1229.3v3.1M580.6 1230.9h3.1M582.8 1229.2l1.6 1.6l-1.6 1.6l-1.6 -1.6zM582.8 1229.2v3.1M581.2 1230.7h3.1M586.4 1228.8l1.6 1.6l-1.6 1.6l-1.6 -1.6zM586.4 1228.8v3.1M584.8 1230.4h3.1M584.5 1228.5l1.6 1.6l-1.6 1.6l-1.6 -1.6zM584.5 1228.5v3.1M582.9 1230.1h3.1M579.7 1227.9l1.6 1.6l-1.6 1.6l-1.6 -1.6zM579.7 1227.9v3.1M578.1 1229.4h3.1M588.2 1227.8l1.6 1.6l-1.6 1.6l-1.6 -1.6zM588.2 1227.8v3.1M586.7 1229.3h3.1M586.2 1227.4l1.6 1.6l-1.6 1.6l-1.6 -1.6zM586.2 1227.4v3.1M584.7 1228.9h3.1M583.5 1226.9l1.6 1.6l-1.6 1.6l-1.6 -1.6zM583.5 1226.9v3.1M582 1228.4h3.1M581.5 1226.1l1.6 1.6l-1.6 1.6l-1.6 -1.6zM581.5 1226.1v3.1M580 1227.7h3.1M585.3 1225.4l1.6 1.6l-1.6 1.6l-1.6 -1.6zM585.3 1225.4v3.1M583.7 1226.9h3.1M582.4 1224.2l1.6 1.6l-1.6 1.6l-1.6 -1.6zM582.4 1224.2v3.1M580.8 1225.8h3.1M585 1223.5l1.6 1.6l-1.6 1.6l-1.6 -1.6zM585 1223.5v3.1M583.5 1225h3.1M580.7 1222.8l1.6 1.6l-1.6 1.6l-1.6 -1.6zM580.7 1222.8v3.1M579.1 1224.4h3.1M584.6 1222.2l1.6 1.6l-1.6 1.6l-1.6 -1.6zM584.6 1222.2v3.1M583.1 1223.8h3.1M581.2 1221l1.6 1.6l-1.6 1.6l-1.6 -1.6zM581.2 1221v3.1M579.7 1222.5h3.1M586.7 1220.3l1.6 1.6l-1.6 1.6l-1.6 -1.6zM586.7 1220.3v3.1M585.1 1221.9h3.1M585 1219.6l1.6 1.6l-1.6 1.6l-1.6 -1.6zM585 1219.6v3.1M583.4 1221.1h3.1M583.3 1218.9l1.6 1.6l-1.6 1.6l-1.6 -1.6zM583.3 1218.9v3.1M581.8 1220.4h3.1M584.1 1217.8l1.6 1.6l-1.6 1.6l-1.6 -1.6zM584.1 1217.8v3.1M582.5 1219.3h3.1M581.3 1217.1l1.6 1.6l-1.6 1.6l-1.6 -1.6zM581.3 1217.1v3.1M579.8 1218.7h3.1M582.5 1216.8l1.6 1.6l-1.6 1.6l-1.6 -1.6zM582.5 1216.8v3.1M580.9 1218.3h3.1M581.5 1215.5l1.6 1.6l-1.6 1.6l-1.6 -1.6zM581.5 1215.5v3.1M580 1217h3.1M582.1 1214.7l1.6 1.6l-1.6 1.6l-1.6 -1.6zM582.1 1214.7v3.1M580.5 1216.2h3.1M582.6 1214.4l1.6 1.6l-1.6 1.6l-1.6 -1.6zM582.6 1214.4v3.1M581.1 1216h3.1M579.4 1152.5l1.6 1.6l-1.6 1.6l-1.6 -1.6zM579.4 1152.5v3.1M577.9 1154h3.1M579.4 1148l1.6 1.6l-1.6 1.6l-1.6 -1.6zM579.4 1148v3.1M577.9 1149.5h3.1M579.4 1143.4l1.6 1.6l-1.6 1.6l-1.6 -1.6zM579.4 1143.4v3.1M577.9 1145h3.1M579.4 1139.2l1.6 1.6l-1.6 1.6l-1.6 -1.6zM579.4 1139.2v3.1M577.9 1140.8h3.1" fill="none" stroke="#BE8EE6" stroke-width="0.7"/>
<path d="M578.4 1290.7L578.4 1288.6L578.5 1286.5L578.5 1284.4L578.5 1282.3L578.6 1280.2L578.6 1278.1L578.7 1275.9L578.9 1273.8L579 1271.7L579.2 1269.6L579.5 1267.5L579.8 1265.4L580.2 1263.3L580.7 1261.2L581.2 1259.1L581.8 1256.9L582.5 1254.8L583.2 1252.7L584 1250.6L584.7 1248.5L585.5 1246.4L586.3 1244.3L587 1242.2L587.6 1240.1L588.2 1238L588.6 1235.8L588.8 1233.7L588.9 1231.6L588.8 1229.5L588.6 1227.4L588.2 1225.3L587.7 1223.2L587.1 1221.1L586.4 1219L585.7 1216.8L584.9 1214.7L584.1 1212.6L583.3 1210.5L582.6 1208.4L581.9 1206.3L581.3 1204.2L580.8 1202.1L580.3 1200L579.9 1197.9L579.6 1195.7L579.3 1193.6L579.1 1191.5L578.9 1189.4L578.8 1187.3L578.7 1185.2L578.6 1183.1L578.5 1181L578.5 1178.9L578.5 1176.7L578.4 1174.6L578.4 1172.5L578.4 1170.4L578.4 1168.3L578.4 1166.2L578.4 1164.1" fill="none" stroke="#A970DE" stroke-width="1"/>
<line x1="612.1" y1="1211.37" x2="612.1" y2="1239.22" stroke="#D9A52A" stroke-width="1"/>
<line x1="608.8" y1="1211.37" x2="615.4" y2="1211.37" stroke="#D9A52A" stroke-width="1"/>
<line x1="608.8" y1="1239.22" x2="615.4" y2="1239.22" stroke="#D9A52A" stroke-width="1"/>
<rect x="605.7" y="1217.52" width="12.8" height="11.01" fill="#FAB4FA" stroke="#D9A52A" stroke-width="1"/>
<line x1="605.7" y1="1223.68" x2="618.5" y2="1223.68" stroke="#D9A52A" stroke-width="1"/>
<circle cx="612.1" cy="1223.68" r="1.1" fill="none" stroke="#D9A52A" stroke-width="0.6" opacity="0.85"/>
<path d="M621.6 1237.6l2.5 2.5M621.6 1240.1l2.5 -2.5M622.8 1237.3v3.1M623.9 1237.2l2.5 2.5M623.9 1239.7l2.5 -2.5M625.1 1236.9v3.1M623 1236.3l2.5 2.5M623 1238.8l2.5 -2.5M624.2 1236v3.1M623 1236l2.5 2.5M623 1238.5l2.5 -2.5M624.3 1235.7v3.1M622.2 1235.2l2.5 2.5M622.2 1237.7l2.5 -2.5M623.4 1234.9v3.1M621.8 1234.4l2.5 2.5M621.8 1236.9l2.5 -2.5M623.1 1234.1v3.1M621.2 1233.5l2.5 2.5M621.2 1236l2.5 -2.5M622.5 1233.2v3.1M624.1 1232.8l2.5 2.5M624.1 1235.2l2.5 -2.5M625.3 1232.4v3.1M624.4 1232.4l2.5 2.5M624.4 1234.9l2.5 -2.5M625.7 1232.1v3.1M625.1 1231.7l2.5 2.5M625.1 1234.2l2.5 -2.5M626.3 1231.4v3.1M625.8 1231.1l2.5 2.5M625.8 1233.6l2.5 -2.5M627.1 1230.8v3.1M624.5 1230.3l2.5 2.5M624.5 1232.7l2.5 -2.5M625.7 1229.9v3.1M625.1 1229.4l2.5 2.5M625.1 1231.9l2.5 -2.5M626.3 1229.1v3.1M624.8 1229.3l2.5 2.5M624.8 1231.8l2.5 -2.5M626.1 1229v3.1M623.4 1228.7l2.5 2.5M623.4 1231.1l2.5 -2.5M624.6 1228.4v3.1M621.9 1227.7l2.5 2.5M621.9 1230.1l2.5 -2.5M623.2 1227.3v3.1M622.3 1227.2l2.5 2.5M622.3 1229.7l2.5 -2.5M623.5 1226.9v3.1M622.4 1226.9l2.5 2.5M622.4 1229.4l2.5 -2.5M623.6 1226.6v3.1M627.4 1226.6l2.5 2.5M627.4 1229l2.5 -2.5M628.7 1226.3v3.1M626.5 1226.3l2.5 2.5M626.5 1228.8l2.5 -2.5M627.7 1226v3.1M627.5 1225.9l2.5 2.5M627.5 1228.4l2.5 -2.5M628.7 1225.6v3.1M626.2 1225.6l2.5 2.5M626.2 1228.1l2.5 -2.5M627.5 1225.3v3.1M626.9 1225.4l2.5 2.5M626.9 1227.8l2.5 -2.5M628.2 1225v3.1M627.6 1225.1l2.5 2.5M627.6 1227.6l2.5 -2.5M628.8 1224.8v3.1M627 1224.9l2.5 2.5M627 1227.4l2.5 -2.5M628.2 1224.6v3.1M625.4 1224.5l2.5 2.5M625.4 1227l2.5 -2.5M626.7 1224.2v3.1M628.9 1224.2l2.5 2.5M628.9 1226.7l2.5 -2.5M630.2 1223.9v3.1M626.9 1223.8l2.5 2.5M626.9 1226.3l2.5 -2.5M628.1 1223.5v3.1M628.6 1223.5l2.5 2.5M628.6 1226l2.5 -2.5M629.9 1223.2v3.1M628.5 1223.4l2.5 2.5M628.5 1225.9l2.5 -2.5M629.8 1223.1v3.1M626 1222.9l2.5 2.5M626 1225.4l2.5 -2.5M627.2 1222.6v3.1M622.1 1222.6l2.5 2.5M622.1 1225.1l2.5 -2.5M623.4 1222.3v3.1M622.8 1222.3l2.5 2.5M622.8 1224.8l2.5 -2.5M624 1222v3.1M625.3 1222.1l2.5 2.5M625.3 1224.6l2.5 -2.5M626.5 1221.8v3.1M625.3 1221.7l2.5 2.5M625.3 1224.2l2.5 -2.5M626.6 1221.4v3.1M621 1221.5l2.5 2.5M621 1223.9l2.5 -2.5M622.3 1221.1v3.1M623 1220.8l2.5 2.5M623 1223.3l2.5 -2.5M624.2 1220.5v3.1M626.9 1220.6l2.5 2.5M626.9 1223.1l2.5 -2.5M628.2 1220.3v3.1M625.3 1220.1l2.5 2.5M625.3 1222.5l2.5 -2.5M626.6 1219.8v3.1M623.6 1219.7l2.5 2.5M623.6 1222.1l2.5 -2.5M624.8 1219.4v3.1M626.1 1219.3l2.5 2.5M626.1 1221.7l2.5 -2.5M627.3 1218.9v3.1M627.5 1218.9l2.5 2.5M627.5 1221.4l2.5 -2.5M628.7 1218.6v3.1M628.3 1218.6l2.5 2.5M628.3 1221.1l2.5 -2.5M629.6 1218.3v3.1M624.2 1218.2l2.5 2.5M624.2 1220.7l2.5 -2.5M625.4 1217.9v3.1M623.8 1218l2.5 2.5M623.8 1220.5l2.5 -2.5M625 1217.7v3.1M620.6 1217.5l2.5 2.5M620.6 1220l2.5 -2.5M621.9 1217.2v3.1M623.6 1217.1l2.5 2.5M623.6 1219.6l2.5 -2.5M624.8 1216.8v3.1M621 1216.8l2.5 2.5M621 1219.2l2.5 -2.5M622.2 1216.5v3.1M625.2 1216.5l2.5 2.5M625.2 1219l2.5 -2.5M626.5 1216.2v3.1M621.6 1216.1l2.5 2.5M621.6 1218.6l2.5 -2.5M622.8 1215.8v3.1M620.8 1215.5l2.5 2.5M620.8 1218l2.5 -2.5M622.1 1215.2v3.1M625.8 1215.2l2.5 2.5M625.8 1217.6l2.5 -2.5M627 1214.9v3.1M624.5 1214.7l2.5 2.5M624.5 1217.2l2.5 -2.5M625.7 1214.4v3.1M623.1 1214.7l2.5 2.5M623.1 1217.1l2.5 -2.5M624.4 1214.3v3.1M622.8 1214l2.5 2.5M622.8 1216.4l2.5 -2.5M624 1213.7v3.1M624.5 1213.7l2.5 2.5M624.5 1216.2l2.5 -2.5M625.7 1213.4v3.1M622.3 1213.3l2.5 2.5M622.3 1215.8l2.5 -2.5M623.6 1213v3.1M622.7 1212.9l2.5 2.5M622.7 1215.4l2.5 -2.5M624 1212.6v3.1M620.8 1212.7l2.5 2.5M620.8 1215.1l2.5 -2.5M622 1212.3v3.1M624.9 1212.3l2.5 2.5M624.9 1214.8l2.5 -2.5M626.1 1212v3.1M621.9 1211.9l2.5 2.5M621.9 1214.4l2.5 -2.5M623.1 1211.6v3.1M620.8 1211.3l2.5 2.5M620.8 1213.8l2.5 -2.5M622.1 1211v3.1M621.8 1211.2l2.5 2.5M621.8 1213.6l2.5 -2.5M623.1 1210.9v3.1M621.9 1210.7l2.5 2.5M621.9 1213.2l2.5 -2.5M623.1 1210.4v3.1M621 1210.4l2.5 2.5M621 1212.9l2.5 -2.5M622.2 1210.1v3.1" fill="none" stroke="#E0B040" stroke-width="0.55"/>
<path d="M620.8 1250.6L620.8 1249.7L620.9 1248.9L620.9 1248L621 1247.2L621.1 1246.3L621.2 1245.5L621.4 1244.7L621.5 1243.8L621.7 1243L621.9 1242.1L622.2 1241.3L622.5 1240.5L622.9 1239.6L623.3 1238.8L623.7 1237.9L624.2 1237.1L624.7 1236.2L625.3 1235.4L625.9 1234.6L626.5 1233.7L627.1 1232.9L627.7 1232L628.4 1231.2L629 1230.3L629.6 1229.5L630.1 1228.7L630.6 1227.8L631 1227L631.3 1226.1L631.5 1225.3L631.7 1224.5L631.7 1223.6L631.6 1222.8L631.5 1221.9L631.2 1221.1L630.9 1220.2L630.5 1219.4L630 1218.6L629.5 1217.7L628.9 1216.9L628.3 1216L627.6 1215.2L627 1214.3L626.4 1213.5L625.8 1212.7L625.2 1211.8L624.6 1211L624.1 1210.1L623.6 1209.3L623.2 1208.5L622.8 1207.6L622.5 1206.8L622.2 1205.9L621.9 1205.1L621.7 1204.2L621.5 1203.4L621.3 1202.6L621.2 1201.7L621.1 1200.9L621 1200" fill="none" stroke="#D4A020" stroke-width="1"/>
<line x1="654.4" y1="1205.86" x2="654.4" y2="1264.48" stroke="#2EC4C4" stroke-width="1"/>
<line x1="651.1" y1="1205.86" x2="657.7" y2="1205.86" stroke="#2EC4C4" stroke-width="1"/>
<line x1="651.1" y1="1264.48" x2="657.7" y2="1264.48" stroke="#2EC4C4" stroke-width="1"/>
<rect x="648" y="1219.47" width="12.8" height="22.02" fill="#B4B68F" stroke="#2EC4C4" stroke-width="1"/>
<line x1="648" y1="1231.12" x2="660.8" y2="1231.12" stroke="#2EC4C4" stroke-width="1"/>
<circle cx="654.4" cy="1232.74" r="1.1" fill="none" stroke="#2EC4C4" stroke-width="0.6" opacity="0.85"/>
<path d="M663 1263.6l2.8 -1.6v3.1zM665.1 1262.9l2.8 -1.6v3.1zM663.7 1260.2l2.8 -1.6v3.1zM663 1258.5l2.8 -1.6v3.1zM664.8 1257l2.8 -1.6v3.1zM662.6 1255.8l2.8 -1.6v3.1zM663.2 1254.1l2.8 -1.6v3.1zM665 1252.9l2.8 -1.6v3.1zM663.9 1252.1l2.8 -1.6v3.1zM666.9 1249.3l2.8 -1.6v3.1zM668.4 1248.7l2.8 -1.6v3.1zM666.7 1247.5l2.8 -1.6v3.1zM668.7 1244.9l2.8 -1.6v3.1zM668.2 1243.6l2.8 -1.6v3.1zM668.7 1242.6l2.8 -1.6v3.1zM667.3 1241l2.8 -1.6v3.1zM668.2 1240.6l2.8 -1.6v3.1zM666.8 1240.1l2.8 -1.6v3.1zM665.4 1239l2.8 -1.6v3.1zM663 1238.3l2.8 -1.6v3.1zM666.9 1237.8l2.8 -1.6v3.1zM667.4 1236.8l2.8 -1.6v3.1zM665.9 1236l2.8 -1.6v3.1zM667.9 1235.3l2.8 -1.6v3.1zM664.2 1234.9l2.8 -1.6v3.1zM669.9 1234l2.8 -1.6v3.1zM665.5 1233.6l2.8 -1.6v3.1zM665.7 1233l2.8 -1.6v3.1zM670.5 1232.4l2.8 -1.6v3.1zM664.1 1231.5l2.8 -1.6v3.1zM664.1 1230.6l2.8 -1.6v3.1zM662.5 1229.7l2.8 -1.6v3.1zM668.4 1229.1l2.8 -1.6v3.1zM664.2 1228.5l2.8 -1.6v3.1zM667.8 1227.3l2.8 -1.6v3.1zM663.9 1226.7l2.8 -1.6v3.1zM670.5 1226.5l2.8 -1.6v3.1zM662.9 1225.5l2.8 -1.6v3.1zM667.2 1224.3l2.8 -1.6v3.1zM667.1 1224.1l2.8 -1.6v3.1zM669.9 1223l2.8 -1.6v3.1zM663.6 1222.1l2.8 -1.6v3.1zM668.5 1221.3l2.8 -1.6v3.1zM664.7 1220.3l2.8 -1.6v3.1zM662.8 1219.8l2.8 -1.6v3.1zM663.4 1218.6l2.8 -1.6v3.1zM668 1218l2.8 -1.6v3.1zM668.5 1217.2l2.8 -1.6v3.1zM665.8 1216.4l2.8 -1.6v3.1zM662.5 1215.1l2.8 -1.6v3.1zM666.8 1214.1l2.8 -1.6v3.1zM666 1213.9l2.8 -1.6v3.1zM663.3 1212.9l2.8 -1.6v3.1zM665.5 1211.7l2.8 -1.6v3.1zM663.8 1211l2.8 -1.6v3.1zM664.6 1210.2l2.8 -1.6v3.1zM665.5 1209l2.8 -1.6v3.1zM662.5 1207.8l2.8 -1.6v3.1zM662.9 1207.5l2.8 -1.6v3.1zM665 1206.5l2.8 -1.6v3.1z" fill="none" stroke="#3CC8C8" stroke-width="0.7"/>
<path d="M663.1 1285.9L663.2 1284.1L663.2 1282.4L663.3 1280.6L663.4 1278.9L663.5 1277.1L663.7 1275.4L663.8 1273.7L664 1271.9L664.3 1270.2L664.6 1268.4L664.9 1266.7L665.2 1264.9L665.6 1263.2L666.1 1261.4L666.6 1259.7L667.1 1258L667.7 1256.2L668.3 1254.5L668.9 1252.7L669.6 1251L670.2 1249.2L670.9 1247.5L671.5 1245.8L672 1244L672.6 1242.3L673 1240.5L673.4 1238.8L673.7 1237L673.9 1235.3L674 1233.6L674 1231.8L673.9 1230.1L673.7 1228.3L673.4 1226.6L673 1224.8L672.5 1223.1L672 1221.3L671.4 1219.6L670.8 1217.9L670.2 1216.1L669.5 1214.4L668.9 1212.6L668.3 1210.9L667.7 1209.1L667.1 1207.4L666.6 1205.7L666.1 1203.9L665.6 1202.2L665.2 1200.4L664.8 1198.7L664.5 1196.9L664.3 1195.2L664 1193.5L663.8 1191.7L663.7 1190L663.5 1188.2L663.4 1186.5L663.3 1184.7L663.2 1183L663.2 1181.3" fill="none" stroke="#22C0C0" stroke-width="1"/>
<line x1="387.3" y1="1095.9" x2="387.3" y2="1323.1" stroke="#3a3a3a" stroke-width="1.2"/>
<line x1="386.7" y1="1323.1" x2="684" y2="1323.1" stroke="#3a3a3a" stroke-width="1.2"/>
<line x1="383.7" y1="1323.1" x2="387.3" y2="1323.1" stroke="#3a3a3a" stroke-width="1.1"/>
<text transform="translate(379.8,1326.1) scale(0.86,1)" text-anchor="end" font-size="9.9" fill="#222">0</text>
<line x1="385.3" y1="1306.91" x2="387.3" y2="1306.91" stroke="#3a3a3a" stroke-width="1.1"/>
<line x1="383.7" y1="1290.71" x2="387.3" y2="1290.71" stroke="#3a3a3a" stroke-width="1.1"/>
<text transform="translate(379.8,1293.71) scale(0.86,1)" text-anchor="end" font-size="9.9" fill="#222">10</text>
<line x1="385.3" y1="1274.52" x2="387.3" y2="1274.52" stroke="#3a3a3a" stroke-width="1.1"/>
<line x1="383.7" y1="1258.33" x2="387.3" y2="1258.33" stroke="#3a3a3a" stroke-width="1.1"/>
<text transform="translate(379.8,1261.33) scale(0.86,1)" text-anchor="end" font-size="9.9" fill="#222">20</text>
<line x1="385.3" y1="1242.14" x2="387.3" y2="1242.14" stroke="#3a3a3a" stroke-width="1.1"/>
<line x1="383.7" y1="1225.94" x2="387.3" y2="1225.94" stroke="#3a3a3a" stroke-width="1.1"/>
<text transform="translate(379.8,1228.94) scale(0.86,1)" text-anchor="end" font-size="9.9" fill="#222">30</text>
<line x1="385.3" y1="1209.75" x2="387.3" y2="1209.75" stroke="#3a3a3a" stroke-width="1.1"/>
<line x1="383.7" y1="1193.56" x2="387.3" y2="1193.56" stroke="#3a3a3a" stroke-width="1.1"/>
<text transform="translate(379.8,1196.56) scale(0.86,1)" text-anchor="end" font-size="9.9" fill="#222">40</text>
<line x1="385.3" y1="1177.36" x2="387.3" y2="1177.36" stroke="#3a3a3a" stroke-width="1.1"/>
<line x1="383.7" y1="1161.17" x2="387.3" y2="1161.17" stroke="#3a3a3a" stroke-width="1.1"/>
<text transform="translate(379.8,1164.17) scale(0.86,1)" text-anchor="end" font-size="9.9" fill="#222">50</text>
<line x1="385.3" y1="1144.98" x2="387.3" y2="1144.98" stroke="#3a3a3a" stroke-width="1.1"/>
<line x1="383.7" y1="1128.79" x2="387.3" y2="1128.79" stroke="#3a3a3a" stroke-width="1.1"/>
<text transform="translate(379.8,1131.79) scale(0.86,1)" text-anchor="end" font-size="9.9" fill="#222">60</text>
<line x1="385.3" y1="1112.59" x2="387.3" y2="1112.59" stroke="#3a3a3a" stroke-width="1.1"/>
<line x1="383.7" y1="1096.4" x2="387.3" y2="1096.4" stroke="#3a3a3a" stroke-width="1.1"/>
<text transform="translate(379.8,1099.4) scale(0.86,1)" text-anchor="end" font-size="9.9" fill="#222">70</text>
<line x1="408.9" y1="1323.1" x2="408.9" y2="1327.3" stroke="#3a3a3a" stroke-width="1.1"/>
<text x="408.9" y="1337.8" text-anchor="middle" font-size="9.2" fill="#222">Core</text>
<line x1="451.2" y1="1323.1" x2="451.2" y2="1327.3" stroke="#3a3a3a" stroke-width="1.1"/>
<text x="451.2" y="1337.8" text-anchor="middle" font-size="9.2" fill="#222">JSMS</text>
<line x1="493.5" y1="1323.1" x2="493.5" y2="1327.3" stroke="#3a3a3a" stroke-width="1.1"/>
<text x="493.5" y="1337.8" text-anchor="middle" font-size="9.2" fill="#222">AIJ</text>
<line x1="535.8" y1="1323.1" x2="535.8" y2="1327.3" stroke="#3a3a3a" stroke-width="1.1"/>
<text x="535.8" y="1337.8" text-anchor="middle" font-size="9.2" fill="#222">US Army</text>
<line x1="578.1" y1="1323.1" x2="578.1" y2="1327.3" stroke="#3a3a3a" stroke-width="1.1"/>
<text x="578.1" y="1337.8" text-anchor="middle" font-size="9.2" fill="#222">KMST</text>
<line x1="620.4" y1="1323.1" x2="620.4" y2="1327.3" stroke="#3a3a3a" stroke-width="1.1"/>
<text x="620.4" y="1337.8" text-anchor="middle" font-size="9.2" fill="#222">JSMS</text>
<line x1="662.7" y1="1323.1" x2="662.7" y2="1327.3" stroke="#3a3a3a" stroke-width="1.1"/>
<text x="662.7" y="1337.8" text-anchor="middle" font-size="9.2" fill="#222">AIJ</text>
<text transform="translate(360.8,1209.75) rotate(-90)" text-anchor="middle" font-size="10.9" fill="#222">Compressive strength (MPa)</text>
<rect x="392.4" y="1093.9" width="225.3" height="20.3" fill="#fff" stroke="#111" stroke-width="1.3"/>
<text x="504.45" y="1108.6" text-anchor="middle" font-size="13.6" fill="#111">Sanseong-Ucheongyo Bridge, girder</text>
<text x="428.8" y="1126.5" font-size="12.5" fill="#111">RHT</text>
<text x="603.1" y="1126.5" font-size="12.5" fill="#111">UPVT</text>
</svg></body></html>
